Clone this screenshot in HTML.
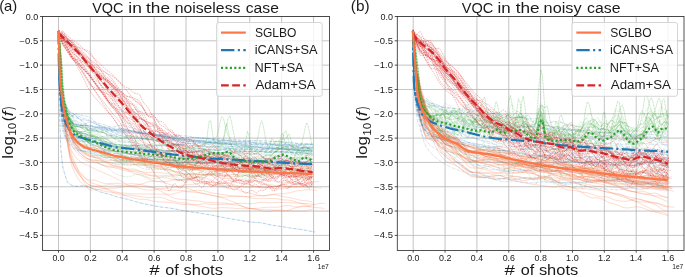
<!DOCTYPE html>
<html><head><meta charset="utf-8"><title>VQC</title>
<style>html,body{margin:0;padding:0;background:#fff;width:685px;height:277px;overflow:hidden;font-family:"Liberation Sans",sans-serif;}svg{display:block;will-change:transform;}</style>
</head><body>
<svg width="685" height="277" viewBox="0 0 685 277"><defs><clipPath id="ca"><rect x="42.56" y="16.50" width="286.94" height="234.00"/></clipPath><clipPath id="cb"><rect x="397.30" y="16.50" width="286.70" height="234.00"/></clipPath></defs><rect x="0" y="0" width="685" height="277" fill="#fff"/>
<line x1="58.50" y1="16.50" x2="58.50" y2="250.50" stroke="#b0b0b0" stroke-width="0.75"/>
<line x1="90.38" y1="16.50" x2="90.38" y2="250.50" stroke="#b0b0b0" stroke-width="0.75"/>
<line x1="122.26" y1="16.50" x2="122.26" y2="250.50" stroke="#b0b0b0" stroke-width="0.75"/>
<line x1="154.15" y1="16.50" x2="154.15" y2="250.50" stroke="#b0b0b0" stroke-width="0.75"/>
<line x1="186.03" y1="16.50" x2="186.03" y2="250.50" stroke="#b0b0b0" stroke-width="0.75"/>
<line x1="217.91" y1="16.50" x2="217.91" y2="250.50" stroke="#b0b0b0" stroke-width="0.75"/>
<line x1="249.79" y1="16.50" x2="249.79" y2="250.50" stroke="#b0b0b0" stroke-width="0.75"/>
<line x1="281.68" y1="16.50" x2="281.68" y2="250.50" stroke="#b0b0b0" stroke-width="0.75"/>
<line x1="313.56" y1="16.50" x2="313.56" y2="250.50" stroke="#b0b0b0" stroke-width="0.75"/>
<line x1="42.56" y1="16.50" x2="329.50" y2="16.50" stroke="#b0b0b0" stroke-width="0.75"/>
<line x1="42.56" y1="40.82" x2="329.50" y2="40.82" stroke="#b0b0b0" stroke-width="0.75"/>
<line x1="42.56" y1="65.14" x2="329.50" y2="65.14" stroke="#b0b0b0" stroke-width="0.75"/>
<line x1="42.56" y1="89.46" x2="329.50" y2="89.46" stroke="#b0b0b0" stroke-width="0.75"/>
<line x1="42.56" y1="113.78" x2="329.50" y2="113.78" stroke="#b0b0b0" stroke-width="0.75"/>
<line x1="42.56" y1="138.10" x2="329.50" y2="138.10" stroke="#b0b0b0" stroke-width="0.75"/>
<line x1="42.56" y1="162.42" x2="329.50" y2="162.42" stroke="#b0b0b0" stroke-width="0.75"/>
<line x1="42.56" y1="186.74" x2="329.50" y2="186.74" stroke="#b0b0b0" stroke-width="0.75"/>
<line x1="42.56" y1="211.06" x2="329.50" y2="211.06" stroke="#b0b0b0" stroke-width="0.75"/>
<line x1="42.56" y1="235.38" x2="329.50" y2="235.38" stroke="#b0b0b0" stroke-width="0.75"/>
<g clip-path="url(#ca)">
<polyline points="58.9,30.3 59.7,68.9 60.4,82.8 61.2,90.1 62,95.5 62.7,100.9 63.5,105.7 64.3,110.6 65.1,113.3 65.8,115.7 66.6,118.5 67.4,121.2 68.1,123.7 68.9,126.1 69.9,129.1 72.1,133.6 74.3,137.4 76.5,140.0 78.7,142.3 80.9,143.9 83.1,145.2 85.3,146.4 87.5,147.0 89.7,147.8 91.9,148.6 94.1,149.5 96.3,150.6 98.5,151.9 100.7,153.4 102.9,154.6 105.1,155.4 107.3,156.0 109.5,156.4 111.7,156.9 113.9,157.6 116.1,158.3 118.3,158.9 120.5,159.3 122.7,159.6 124.9,159.8 127.1,160.1 129.3,160.6 131.5,161.3 133.7,162.1 135.9,162.8 138.1,163.4 140.3,163.9 142.5,164.3 144.7,164.7 146.9,165.0 149.1,165.4 151.3,165.7 153.5,166.0 155.7,166.2 157.9,166.4 160.1,166.5 162.3,166.7 164.5,166.8 166.7,167.0 168.9,167.1 171.1,167.2 173.3,167.4 175.5,167.6 177.7,167.9 179.9,168.2 182.1,168.4 184.3,168.6 186.5,168.7 188.7,168.7 190.9,168.7 193.1,168.9 195.3,169.2 197.5,169.7 199.7,170.2 201.9,170.6 204.1,170.9 206.3,171.1 208.5,171.2 210.7,171.3 212.9,171.3 215.1,171.2 217.3,171.0 219.5,170.9 221.7,171.0 223.9,171.0 226.1,171.1 228.3,171.0 230.5,170.8 232.7,170.7 234.9,170.5 237.1,170.4 239.3,170.4 241.5,170.3 243.7,170.3 245.9,170.2 248.1,170.2 250.3,170.3 252.5,170.5 254.7,170.8 256.9,171.3 259.1,171.8 261.3,172.0 263.5,172.1 265.7,171.9 267.9,171.7 270.1,171.7 272.3,171.8 274.5,172.3 276.7,173.0 278.9,173.8 281.1,174.5 283.3,175.0 285.5,175.4 287.7,175.7 289.9,175.7 292.1,175.7 294.3,175.9 296.5,176.1 298.7,176.3 300.9,176.6 303.1,176.7 305.3,176.9 307.5,176.7 309.7,176.3 311.9,175.7 312.3,175.3" fill="none" stroke="#fc7748" stroke-width="0.70" stroke-opacity="0.36" stroke-linecap="butt" stroke-linejoin="round"/>
<polyline points="58.9,30.9 59.7,71.7 60.4,87.8 61.2,97.3 62,104.7 62.7,111.9 63.5,118.4 64.3,125.0 65.1,129.4 65.8,133.6 66.6,138.1 67.4,142.6 68.1,146.8 68.9,150.8 69.9,156.1 72.1,162.8 74.3,167.5 76.5,171.1 78.7,174.4 80.9,177.0 83.1,179.4 85.3,181.8 87.5,183.6 89.7,185.0 91.9,185.7 94.1,186.2 96.3,186.6 98.5,187.1 100.7,187.7 102.9,188.4 105.1,189.0 107.3,189.8 109.5,190.7 111.7,191.7 113.9,192.9 116.1,193.8 118.3,194.5 120.5,195.0 122.7,195.2 124.9,195.1 127.1,195.1 129.3,195.1 131.5,195.3 133.7,195.7 135.9,196.0 138.1,196.3 140.3,196.6 142.5,196.9 144.7,197.2 146.9,197.5 149.1,197.7 151.3,197.6 153.5,197.4 155.7,197.3 157.9,197.3 160.1,197.4 162.3,197.8 164.5,198.4 166.7,199.3 168.9,200.2 171.1,200.8 173.3,201.3 175.5,201.7 177.7,202.1 179.9,202.6 182.1,202.8 184.3,203.0 186.5,203.3 188.7,203.7 190.9,204.2 193.1,204.9 195.3,205.4 197.5,205.8 199.7,206.1 201.9,206.4 204.1,206.8 206.3,207.2 208.5,207.7 210.7,208.1 212.9,208.3 215.1,208.3 217.3,208.1 219.5,207.8 221.7,207.6 223.9,207.7 226.1,207.8 228.3,207.9 230.5,208.0 232.7,208.1 234.9,208.3 237.1,208.5 239.3,208.7 241.5,208.7 243.7,208.7 245.9,208.7 248.1,208.6 250.3,208.6 252.5,208.5 254.7,208.5 256.9,208.3 259.1,208.1 261.3,207.9 263.5,207.6 265.7,207.4 267.9,207.2 270.1,207.1 272.3,207.2 274.5,207.3 276.7,207.3 278.9,207.0 281.1,206.6 283.3,206.0 285.5,205.5 287.7,205.4 289.9,205.7 292.1,206.3 294.3,206.9 296.5,207.0 298.7,206.8 300.9,206.3 303.1,206.0 305.3,206.0 307.5,206.4 309.7,206.9 311.2,207.3" fill="none" stroke="#fc7748" stroke-width="0.70" stroke-opacity="0.36" stroke-linecap="butt" stroke-linejoin="round"/>
<polyline points="58.9,30.7 59.7,70.9 60.4,86.3 61.2,95.2 62,102.2 62.7,109.4 63.5,116.0 64.3,122.6 65.1,127.1 65.8,131.4 66.6,135.9 67.4,140.5 68.1,144.8 68.9,149.0 69.9,154.6 72.1,161.7 74.3,166.8 76.5,170.6 78.7,173.9 80.9,176.6 83.1,179.2 85.3,181.8 87.5,183.9 89.7,185.2 91.9,185.7 94.1,186.0 96.3,186.1 98.5,186.1 100.7,186.0 102.9,185.8 105.1,185.4 107.3,185.0 109.5,184.8 111.7,184.8 113.9,185.0 116.1,185.3 118.3,185.4 120.5,185.6 122.7,185.7 124.9,185.8 127.1,185.9 129.3,186.0 131.5,186.0 133.7,186.1 135.9,186.2 138.1,186.2 140.3,186.3 142.5,186.4 144.7,186.8 146.9,187.1 149.1,187.3 151.3,187.4 153.5,187.6 155.7,187.9 157.9,188.4 160.1,189.0 162.3,189.6 164.5,190.1 166.7,190.4 168.9,190.4 171.1,190.3 173.3,190.1 175.5,190.0 177.7,190.1 179.9,190.3 182.1,190.5 184.3,190.7 186.5,190.9 188.7,191.1 190.9,191.0 193.1,190.8 195.3,190.5 197.5,190.3 199.7,190.2 201.9,190.4 204.1,190.8 206.3,191.3 208.5,192.0 210.7,192.6 212.9,193.1 215.1,193.5 217.3,193.7 219.5,194.0 221.7,194.3 223.9,194.7 226.1,195.1 228.3,195.4 230.5,195.7 232.7,195.9 234.9,196.0 237.1,196.1 239.3,196.0 241.5,196.1 243.7,196.2 245.9,196.6 248.1,197.1 250.3,197.8 252.5,198.3 254.7,198.5 256.9,198.6 259.1,198.5 261.3,198.4 263.5,198.3 265.7,198.4 267.9,198.5 270.1,198.5 272.3,198.5 274.5,198.5 276.7,198.7 278.9,199.1 281.1,199.6 283.3,199.9 285.5,200.0 287.7,200.0 289.9,200.2 292.1,200.7 294.3,201.5 296.5,202.2 298.7,202.9 300.9,203.4 303.1,203.9 305.3,204.5 307.5,205.3 309.7,206.1 311.9,206.9 314.1,207.4 316.3,207.7 318.5,207.8 320.7,207.9 322.9,208.2 324.5,208.5" fill="none" stroke="#fc7748" stroke-width="0.70" stroke-opacity="0.36" stroke-linecap="butt" stroke-linejoin="round"/>
<polyline points="58.9,30.7 59.7,70.7 60.4,86.0 61.2,94.7 62,101.4 62.7,108.1 63.5,114.3 64.3,120.4 65.1,124.4 65.8,128.2 66.6,132.3 67.4,136.3 68.1,140.1 68.9,143.7 69.9,148.5 72.1,155.6 74.3,161.6 76.5,166.8 78.7,171.7 80.9,176.0 83.1,180.3 85.3,184.5 87.5,188.0 89.7,189.9 91.9,189.9 94.1,189.7 96.3,189.5 98.5,189.3 100.7,189.1 102.9,188.9 105.1,188.7 107.3,188.4 109.5,188.2 111.7,188.1 113.9,188.1 116.1,188.0 118.3,187.8 120.5,187.4 122.7,186.9 124.9,186.5 127.1,186.1 129.3,186.0 131.5,185.9 133.7,185.6 135.9,185.2 138.1,184.7 140.3,184.2 142.5,183.7 144.7,183.0 146.9,182.2 149.1,181.5 151.3,181.2 153.5,181.2 155.7,181.3 157.9,181.4 160.1,181.6 162.3,182.0 164.5,182.6 166.7,183.3 168.9,184.2 171.1,185.0 173.3,185.8 175.5,186.4 177.7,186.9 179.9,187.2 182.1,187.4 184.3,187.6 186.5,188.0 188.7,188.6 190.9,189.5 193.1,190.4 195.3,191.3 197.5,192.1 199.7,192.7 201.9,193.2 204.1,193.6 206.3,194.0 208.5,194.4 210.7,194.8 212.9,195.4 215.1,195.9 217.3,196.3 219.5,196.7 221.7,197.0 223.9,197.1 226.1,197.0 228.3,196.7 230.5,196.5 232.7,196.4 234.9,196.4 237.1,196.5 239.3,196.5 241.5,196.5 243.7,196.6 245.9,196.7 248.1,196.7 250.3,196.6 252.5,196.2 254.7,195.9 256.9,195.8 259.1,195.8 261.3,196.0 263.5,196.0 265.7,195.8 267.9,195.5 270.1,195.0 272.3,194.8 274.5,194.8 276.7,195.1 278.9,195.6 281.1,196.2 283.3,196.7 285.5,197.1 287.7,197.4 289.9,197.7 292.1,198.1 294.3,198.7 296.5,199.3 298.7,199.8 300.9,200.2 303.1,200.5 305.3,200.7 307.5,201.0 309.7,201.4 311.9,201.8 312.1,202.0" fill="none" stroke="#fc7748" stroke-width="0.70" stroke-opacity="0.36" stroke-linecap="butt" stroke-linejoin="round"/>
<polyline points="58.9,30.6 59.7,70.4 60.4,85.4 61.2,94.0 62,100.7 62.7,107.9 63.5,114.5 64.3,121.1 65.1,125.5 65.8,129.7 66.6,134.1 67.4,138.6 68.1,142.7 68.9,146.7 69.9,151.8 72.1,158.6 74.3,163.4 76.5,167.1 78.7,170.5 80.9,173.0 83.1,175.5 85.3,178.1 87.5,180.4 89.7,182.2 91.9,183.0 94.1,183.8 96.3,184.4 98.5,185.1 100.7,185.9 102.9,186.8 105.1,187.9 107.3,188.9 109.5,189.8 111.7,190.5 113.9,191.2 116.1,191.8 118.3,192.6 120.5,193.4 122.7,194.4 124.9,195.3 127.1,196.2 129.3,196.9 131.5,197.5 133.7,198.0 135.9,198.6 138.1,199.0 140.3,199.3 142.5,199.3 144.7,199.4 146.9,199.6 149.1,200.1 151.3,200.7 153.5,201.2 155.7,201.5 157.9,201.7 160.1,201.9 162.3,202.0 164.5,202.1 166.7,202.2 168.9,202.4 171.1,202.5 173.3,202.8 175.5,203.3 177.7,203.7 179.9,204.0 182.1,204.3 184.3,204.5 186.5,204.6 188.7,204.7 190.9,204.8 193.1,204.7 195.3,204.6 197.5,204.5 199.7,204.3 201.9,204.1 204.1,203.9 206.3,203.9 208.5,204.1 210.7,204.3 212.9,204.4 215.1,204.5 217.3,204.5 219.5,204.5 221.7,204.4 223.9,204.3 226.1,204.3 228.3,204.2 230.5,204.1 232.7,203.9 234.9,203.7 237.1,203.4 239.3,203.3 241.5,203.3 243.7,203.4 245.9,203.5 248.1,203.6 250.3,203.7 252.5,203.6 254.7,203.4 256.9,203.0 259.1,202.6 261.3,202.4 263.5,202.4 265.7,202.6 267.9,202.8 270.1,202.8 272.3,202.7 274.5,202.6 276.7,202.4 278.9,202.4 281.1,202.4 283.3,202.5 285.5,202.6 287.7,202.7 289.9,202.7 292.1,202.7 294.3,202.8 296.5,202.9 298.7,203.2 300.9,203.4 303.1,203.5 305.3,203.5 307.5,203.6 309.7,203.8 311.9,204.1 314.1,204.3 314.7,204.5" fill="none" stroke="#fc7748" stroke-width="0.70" stroke-opacity="0.36" stroke-linecap="butt" stroke-linejoin="round"/>
<polyline points="58.9,30.3 59.7,69.0 60.4,82.9 61.2,90.3 62,95.8 62.7,101.7 63.5,107.0 64.3,112.3 65.1,115.4 65.8,118.3 66.6,121.5 67.4,124.7 68.1,127.5 68.9,130.2 69.9,133.6 72.1,137.8 74.3,140.7 76.5,142.5 78.7,144.0 80.9,144.7 83.1,145.1 85.3,145.3 87.5,145.1 89.7,145.2 91.9,145.7 94.1,146.0 96.3,146.4 98.5,146.9 100.7,147.5 102.9,148.5 105.1,149.5 107.3,150.4 109.5,150.9 111.7,151.1 113.9,151.1 116.1,151.0 118.3,151.0 120.5,151.3 122.7,151.7 124.9,152.3 127.1,153.1 129.3,154.2 131.5,155.5 133.7,156.7 135.9,157.5 138.1,157.7 140.3,157.8 142.5,157.9 144.7,158.3 146.9,158.9 149.1,159.5 151.3,160.1 153.5,160.8 155.7,161.6 157.9,162.4 160.1,163.2 162.3,163.9 164.5,164.4 166.7,164.8 168.9,165.1 171.1,165.3 173.3,165.6 175.5,166.1 177.7,166.7 179.9,167.1 182.1,167.3 184.3,167.3 186.5,167.3 188.7,167.4 190.9,167.6 193.1,167.8 195.3,168.0 197.5,168.0 199.7,167.8 201.9,167.6 204.1,167.5 206.3,167.5 208.5,167.7 210.7,167.9 212.9,167.8 215.1,167.5 217.3,167.1 219.5,166.7 221.7,166.4 223.9,166.1 226.1,166.0 228.3,165.8 230.5,165.8 232.7,165.9 234.9,166.2 237.1,166.5 239.3,166.7 241.5,167.0 243.7,167.4 245.9,167.7 248.1,167.9 250.3,167.9 252.5,167.9 254.7,168.1 256.9,168.6 259.1,169.2 261.3,169.7 263.5,170.1 265.7,170.3 267.9,170.4 270.1,170.4 272.3,170.5 274.5,170.5 276.7,170.4 278.9,170.3 281.1,170.1 283.3,169.8 285.5,169.7 287.7,169.7 289.9,169.8 292.1,169.8 294.3,169.7 296.5,169.3 298.7,168.9 300.9,168.5 303.1,168.2 305.3,168.2 307.5,168.2 309.7,168.3 311.9,168.3 312.2,168.4" fill="none" stroke="#fc7748" stroke-width="0.70" stroke-opacity="0.36" stroke-linecap="butt" stroke-linejoin="round"/>
<polyline points="58.9,30.4 59.7,69.3 60.4,83.5 61.2,91.2 62,96.9 62.7,102.7 63.5,107.9 64.3,113.0 65.1,116.0 65.8,118.9 66.6,121.9 67.4,125.0 68.1,127.7 68.9,130.3 69.9,133.7 72.1,138.5 74.3,142.4 76.5,145.3 78.7,147.8 80.9,149.6 83.1,151.2 85.3,152.8 87.5,153.9 89.7,154.9 91.9,155.4 94.1,155.7 96.3,155.8 98.5,155.7 100.7,155.5 102.9,155.5 105.1,155.8 107.3,156.3 109.5,157.0 111.7,157.9 113.9,158.9 116.1,159.7 118.3,160.1 120.5,160.2 122.7,160.1 124.9,160.0 127.1,160.1 129.3,160.4 131.5,160.6 133.7,160.9 135.9,161.3 138.1,161.9 140.3,162.7 142.5,163.6 144.7,164.3 146.9,164.7 149.1,164.9 151.3,165.1 153.5,165.5 155.7,166.0 157.9,166.5 160.1,167.0 162.3,167.6 164.5,168.1 166.7,168.7 168.9,169.3 171.1,170.0 173.3,170.7 175.5,171.4 177.7,172.2 179.9,172.9 182.1,173.5 184.3,173.8 186.5,173.8 188.7,173.7 190.9,173.7 193.1,173.8 195.3,174.1 197.5,174.3 199.7,174.3 201.9,174.2 204.1,174.1 206.3,174.1 208.5,174.3 210.7,174.5 212.9,174.8 215.1,174.9 217.3,175.0 219.5,175.1 221.7,175.3 223.9,175.3 226.1,175.1 228.3,174.8 230.5,174.6 232.7,174.5 234.9,174.5 237.1,174.6 239.3,174.8 241.5,174.9 243.7,175.2 245.9,175.6 248.1,176.1 250.3,176.7 252.5,177.3 254.7,178.0 256.9,178.8 259.1,179.3 261.3,179.7 263.5,180.0 265.7,180.2 267.9,180.4 270.1,180.6 272.3,181.0 274.5,181.3 276.7,181.6 278.9,181.8 281.1,182.0 283.3,182.1 285.5,182.3 287.7,182.5 289.9,182.8 292.1,183.2 294.3,183.5 296.5,183.8 298.7,183.8 300.9,183.5 303.1,183.0 305.3,182.4 307.5,182.1 309.7,182.0 311.9,182.0 314.1,181.9 316.3,181.7 318.5,181.4 319.2,181.1" fill="none" stroke="#fc7748" stroke-width="0.70" stroke-opacity="0.36" stroke-linecap="butt" stroke-linejoin="round"/>
<polyline points="58.9,30.6 59.7,70.0 60.4,84.7 61.2,92.9 62,98.8 62.7,104.4 63.5,109.4 64.3,114.4 65.1,117.2 65.8,119.9 66.6,122.8 67.4,125.7 68.1,128.3 68.9,130.7 69.9,133.8 72.1,138.6 74.3,142.9 76.5,146.0 78.7,148.8 80.9,151.0 83.1,153.1 85.3,154.8 87.5,155.7 89.7,156.3 91.9,156.7 94.1,157.2 96.3,157.9 98.5,158.8 100.7,159.6 102.9,160.5 105.1,161.4 107.3,162.6 109.5,163.8 111.7,164.9 113.9,165.8 116.1,166.4 118.3,166.9 120.5,167.4 122.7,168.0 124.9,168.6 127.1,169.3 129.3,170.0 131.5,170.4 133.7,170.6 135.9,170.8 138.1,171.1 140.3,171.5 142.5,171.9 144.7,172.2 146.9,172.3 149.1,172.4 151.3,172.3 153.5,172.2 155.7,172.2 157.9,172.4 160.1,172.6 162.3,172.9 164.5,173.3 166.7,173.6 168.9,173.9 171.1,174.1 173.3,174.3 175.5,174.5 177.7,175.0 179.9,175.7 182.1,176.5 184.3,177.4 186.5,178.2 188.7,178.9 190.9,179.3 193.1,179.6 195.3,179.9 197.5,180.2 199.7,180.6 201.9,181.1 204.1,181.5 206.3,181.9 208.5,182.2 210.7,182.3 212.9,182.4 215.1,182.6 217.3,183.0 219.5,183.3 221.7,183.4 223.9,183.3 226.1,183.1 228.3,182.7 230.5,182.3 232.7,181.8 234.9,181.1 237.1,180.4 239.3,180.0 241.5,179.9 243.7,180.0 245.9,180.0 248.1,180.0 250.3,180.0 252.5,180.1 254.7,180.5 256.9,181.1 259.1,181.7 261.3,182.3 263.5,183.0 265.7,183.7 267.9,184.3 270.1,184.8 272.3,185.1 274.5,185.4 276.7,185.6 278.9,185.7 281.1,185.8 283.3,186.0 285.5,186.3 287.7,186.7 289.9,186.9 292.1,187.0 294.3,186.9 296.5,186.9 298.7,186.9 300.9,187.1 303.1,187.3 305.3,187.5 307.5,187.5 309.7,187.4 311.9,187.4 314.1,187.5 316.3,187.8 318.5,188.0 320.7,188.0 321.5,187.9" fill="none" stroke="#fc7748" stroke-width="0.70" stroke-opacity="0.36" stroke-linecap="butt" stroke-linejoin="round"/>
<polyline points="58.9,30.8 59.7,71.4 60.4,87.2 61.2,96.5 62,103.9 62.7,111.3 63.5,118.2 64.3,125.1 65.1,129.9 65.8,134.5 66.6,139.4 67.4,144.3 68.1,148.9 68.9,153.4 69.9,159.3 72.1,166.8 74.3,171.9 76.5,176.0 78.7,179.6 80.9,182.3 83.1,184.6 85.3,186.5 87.5,187.4 89.7,187.9 91.9,188.1 94.1,188.4 96.3,189.0 98.5,189.7 100.7,190.4 102.9,191.0 105.1,191.4 107.3,191.8 109.5,192.1 111.7,192.3 113.9,192.6 116.1,192.8 118.3,192.9 120.5,192.9 122.7,193.0 124.9,193.2 127.1,193.5 129.3,193.7 131.5,193.8 133.7,193.9 135.9,193.9 138.1,194.0 140.3,194.0 142.5,194.0 144.7,194.0 146.9,194.0 149.1,194.0 151.3,194.0 153.5,194.0 155.7,194.1 157.9,194.1 160.1,194.1 162.3,194.1 164.5,194.1 166.7,194.3 168.9,194.4 171.1,194.3 173.3,193.9 175.5,193.3 177.7,192.6 179.9,192.0 182.1,191.6 184.3,191.6 186.5,191.7 188.7,191.9 190.9,192.0 193.1,192.2 195.3,192.3 197.5,192.6 199.7,192.9 201.9,193.2 204.1,193.7 206.3,194.2 208.5,194.8 210.7,195.3 212.9,195.7 215.1,196.1 217.3,196.6 219.5,197.0 221.7,197.7 223.9,198.4 226.1,199.2 228.3,200.0 230.5,200.8 232.7,201.6 234.9,202.5 237.1,203.5 239.3,204.7 241.5,205.8 243.7,206.9 245.9,207.7 248.1,208.3 250.3,208.6 252.5,208.8 254.7,209.0 256.9,209.5 259.1,210.2 261.3,210.8 263.5,211.3 265.7,211.6 267.9,211.6 270.1,211.4 272.3,211.1 274.5,210.8 276.7,210.7 278.9,210.8 281.1,211.0 283.3,211.2 285.5,211.1 287.7,210.6 289.9,209.9 292.1,209.0 294.3,208.2 296.5,207.6 298.7,207.2 300.9,206.9 303.1,206.6 305.3,206.5 307.5,206.2 309.7,205.8 311.9,205.2 314.1,204.7 316.3,204.1 318.5,203.6 320.7,203.4 322.9,203.3 324.9,203.3" fill="none" stroke="#fc7748" stroke-width="0.70" stroke-opacity="0.36" stroke-linecap="butt" stroke-linejoin="round"/>
<polyline points="58.9,30.4 59.7,69.3 60.4,83.4 61.2,91.1 62,96.8 62.7,102.7 63.5,108.0 64.3,113.3 65.1,116.5 65.8,119.5 66.6,122.7 67.4,125.9 68.1,128.9 68.9,131.7 69.9,135.4 72.1,140.7 74.3,145.3 76.5,148.7 78.7,151.8 80.9,153.9 83.1,155.8 85.3,157.4 87.5,158.5 89.7,159.4 91.9,160.0 94.1,160.3 96.3,160.6 98.5,160.9 100.7,161.3 102.9,161.8 105.1,162.5 107.3,163.4 109.5,164.3 111.7,165.2 113.9,165.7 116.1,166.0 118.3,166.2 120.5,166.6 122.7,167.4 124.9,168.5 127.1,169.8 129.3,171.1 131.5,172.3 133.7,173.3 135.9,174.0 138.1,174.6 140.3,175.3 142.5,176.0 144.7,176.9 146.9,177.9 149.1,179.1 151.3,180.0 153.5,180.7 155.7,181.2 157.9,181.5 160.1,181.7 162.3,181.7 164.5,181.7 166.7,181.5 168.9,181.1 171.1,180.5 173.3,180.0 175.5,179.6 177.7,179.5 179.9,179.5 182.1,179.4 184.3,179.2 186.5,179.0 188.7,178.7 190.9,178.4 193.1,177.9 195.3,177.5 197.5,177.0 199.7,176.4 201.9,175.9 204.1,175.4 206.3,174.9 208.5,174.5 210.7,174.1 212.9,173.6 215.1,172.9 217.3,172.2 219.5,171.8 221.7,171.7 223.9,171.8 226.1,171.8 228.3,171.7 230.5,171.2 232.7,170.7 234.9,170.3 237.1,170.0 239.3,169.9 241.5,169.9 243.7,169.9 245.9,169.9 248.1,170.0 250.3,170.3 252.5,170.6 254.7,171.0 256.9,171.4 259.1,171.7 261.3,171.8 263.5,171.9 265.7,172.0 267.9,172.1 270.1,172.4 272.3,172.7 274.5,173.0 276.7,173.1 278.9,173.0 281.1,173.0 283.3,173.0 285.5,173.2 287.7,173.3 289.9,173.4 292.1,173.2 294.3,173.0 296.5,173.0 298.7,173.4 300.9,174.0 303.1,174.5 305.3,174.7 307.5,174.7 309.7,174.4 311.5,174.1" fill="none" stroke="#fc7748" stroke-width="0.70" stroke-opacity="0.36" stroke-linecap="butt" stroke-linejoin="round"/>
<polyline points="58.9,30.6 59.7,70.1 60.4,84.9 61.2,93.2 62,99.5 62.7,105.7 63.5,111.3 64.3,117.0 65.1,120.4 65.8,123.6 66.6,127.0 67.4,130.5 68.1,133.6 68.9,136.5 69.9,140.4 72.1,145.4 74.3,149.1 76.5,151.9 78.7,154.3 80.9,156.2 83.1,158.0 85.3,159.8 87.5,160.9 89.7,161.7 91.9,162.2 94.1,162.5 96.3,163.0 98.5,163.8 100.7,164.6 102.9,165.4 105.1,166.1 107.3,166.7 109.5,167.1 111.7,167.4 113.9,167.7 116.1,168.2 118.3,168.7 120.5,169.4 122.7,170.1 124.9,170.7 127.1,171.0 129.3,171.2 131.5,171.3 133.7,171.6 135.9,172.0 138.1,172.6 140.3,173.3 142.5,174.0 144.7,174.5 146.9,174.9 149.1,175.1 151.3,175.3 153.5,175.5 155.7,175.7 157.9,175.8 160.1,175.8 162.3,175.7 164.5,175.7 166.7,175.8 168.9,175.8 171.1,175.9 173.3,175.9 175.5,175.8 177.7,175.6 179.9,175.4 182.1,175.3 184.3,175.4 186.5,175.7 188.7,176.2 190.9,176.5 193.1,176.7 195.3,176.8 197.5,176.9 199.7,177.1 201.9,177.3 204.1,177.6 206.3,178.1 208.5,178.8 210.7,179.9 212.9,181.0 215.1,182.0 217.3,182.6 219.5,182.9 221.7,182.9 223.9,182.9 226.1,183.0 228.3,183.3 230.5,183.7 232.7,184.3 234.9,185.0 237.1,185.7 239.3,186.4 241.5,186.9 243.7,187.1 245.9,187.0 248.1,186.9 250.3,186.7 252.5,186.6 254.7,186.8 256.9,187.0 259.1,187.3 261.3,187.7 263.5,187.9 265.7,188.0 267.9,187.8 270.1,187.3 272.3,186.9 274.5,186.6 276.7,186.5 278.9,186.6 281.1,186.8 283.3,186.9 285.5,187.0 287.7,186.9 289.9,186.9 292.1,186.9 294.3,187.0 296.5,187.0 298.7,186.8 300.9,186.6 303.1,186.4 305.3,186.1 307.5,186.0 309.7,186.0 311.9,186.0 312.8,186.0" fill="none" stroke="#fc7748" stroke-width="0.70" stroke-opacity="0.36" stroke-linecap="butt" stroke-linejoin="round"/>
<polyline points="58.9,30.6 59.7,70.1 60.4,84.9 61.2,93.2 62,99.6 62.7,106.3 63.5,112.5 64.3,118.6 65.1,122.6 65.8,126.4 66.6,130.4 67.4,134.4 68.1,138.1 68.9,141.6 69.9,146.2 72.1,151.7 74.3,155.4 76.5,158.1 78.7,160.4 80.9,162.0 83.1,163.4 85.3,164.6 87.5,165.3 89.7,166.3 91.9,167.5 94.1,168.6 96.3,169.7 98.5,170.7 100.7,171.6 102.9,172.6 105.1,173.5 107.3,174.5 109.5,175.4 111.7,176.4 113.9,177.6 116.1,178.6 118.3,179.6 120.5,180.7 122.7,181.9 124.9,183.4 127.1,184.8 129.3,185.8 131.5,186.5 133.7,186.9 135.9,187.4 138.1,187.9 140.3,188.6 142.5,189.2 144.7,189.6 146.9,189.9 149.1,190.2 151.3,190.1 153.5,189.9 155.7,189.6 157.9,189.2 160.1,188.9 162.3,188.5 164.5,188.3 166.7,188.1 168.9,188.0 171.1,187.9 173.3,187.6 175.5,187.2 177.7,186.6 179.9,186.0 182.1,185.4 184.3,185.1 186.5,184.9 188.7,184.7 190.9,184.5 193.1,184.2 195.3,183.9 197.5,183.7 199.7,183.6 201.9,183.6 204.1,183.8 206.3,184.1 208.5,184.6 210.7,185.0 212.9,185.5 215.1,186.0 217.3,186.4 219.5,186.8 221.7,187.1 223.9,187.5 226.1,187.8 228.3,188.2 230.5,188.5 232.7,188.8 234.9,189.2 237.1,189.6 239.3,190.3 241.5,191.1 243.7,191.9 245.9,192.4 248.1,192.9 250.3,193.3 252.5,193.8 254.7,194.3 256.9,194.9 259.1,195.4 261.3,195.5 263.5,195.5 265.7,195.3 267.9,195.0 270.1,194.8 272.3,194.4 274.5,194.2 276.7,194.0 278.9,193.9 281.1,193.8 283.3,193.7 285.5,193.4 287.7,193.0 289.9,192.6 292.1,192.1 294.3,191.5 296.5,191.0 298.7,190.6 300.9,190.3 303.1,190.1 305.3,189.9 307.5,189.8 309.7,189.8 311.9,189.9 314.1,190.1 316.3,190.3 316.9,190.4" fill="none" stroke="#fc7748" stroke-width="0.70" stroke-opacity="0.36" stroke-linecap="butt" stroke-linejoin="round"/>
<polyline points="58.9,30.6 59.7,70.0 60.4,84.8 61.2,93.0 62,98.9 62.7,104.5 63.5,109.5 64.3,114.5 65.1,117.3 65.8,119.8 66.6,122.7 67.4,125.5 68.1,128.0 68.9,130.4 69.9,133.5 72.1,138.4 74.3,142.8 76.5,146.2 78.7,149.5 80.9,152.1 83.1,154.5 85.3,156.7 87.5,158.4 89.7,159.9 91.9,160.9 94.1,161.7 96.3,162.4 98.5,163.2 100.7,163.9 102.9,164.6 105.1,165.3 107.3,165.9 109.5,166.3 111.7,166.6 113.9,166.9 116.1,167.1 118.3,167.5 120.5,168.0 122.7,168.6 124.9,169.0 127.1,169.2 129.3,169.1 131.5,168.9 133.7,169.0 135.9,169.5 138.1,170.3 140.3,171.2 142.5,172.2 144.7,173.1 146.9,174.1 149.1,175.0 151.3,175.8 153.5,176.3 155.7,176.7 157.9,176.9 160.1,177.2 162.3,177.4 164.5,177.7 166.7,178.0 168.9,178.4 171.1,178.9 173.3,179.4 175.5,179.9 177.7,180.2 179.9,180.4 182.1,180.3 184.3,180.1 186.5,179.9 188.7,180.0 190.9,180.2 193.1,180.6 195.3,181.0 197.5,181.5 199.7,182.0 201.9,182.5 204.1,182.9 206.3,183.4 208.5,183.9 210.7,184.3 212.9,184.7 215.1,184.9 217.3,185.0 219.5,185.1 221.7,185.1 223.9,185.3 226.1,185.5 228.3,185.8 230.5,186.1 232.7,186.3 234.9,186.3 237.1,186.3 239.3,186.3 241.5,186.5 243.7,186.9 245.9,187.2 248.1,187.4 250.3,187.5 252.5,187.4 254.7,187.2 256.9,187.0 259.1,186.8 261.3,186.8 263.5,187.0 265.7,187.4 267.9,187.7 270.1,188.0 272.3,188.2 274.5,188.4 276.7,188.6 278.9,188.7 281.1,188.7 283.3,188.5 285.5,188.2 287.7,187.8 289.9,187.4 292.1,187.1 294.3,186.8 296.5,186.6 298.7,186.3 300.9,185.7 303.1,185.0 305.3,184.3 307.5,183.7 309.7,183.2 311.9,182.9 312.6,182.7" fill="none" stroke="#fc7748" stroke-width="0.70" stroke-opacity="0.36" stroke-linecap="butt" stroke-linejoin="round"/>
<polyline points="58.9,30.4 59.7,69.5 60.4,83.8 61.2,91.6 62,97.2 62.7,102.8 63.5,107.7 64.3,112.7 65.1,115.4 65.8,118.0 66.6,120.9 67.4,123.7 68.1,126.3 68.9,128.7 69.9,131.9 72.1,136.6 74.3,140.8 76.5,144.2 78.7,147.3 80.9,149.7 83.1,151.7 85.3,153.4 87.5,154.3 89.7,155.1 91.9,156.0 94.1,156.8 96.3,157.5 98.5,157.8 100.7,157.9 102.9,157.7 105.1,157.5 107.3,157.5 109.5,157.5 111.7,157.7 113.9,157.8 116.1,157.8 118.3,157.7 120.5,157.7 122.7,157.6 124.9,157.6 127.1,157.5 129.3,157.5 131.5,157.6 133.7,157.7 135.9,157.9 138.1,158.2 140.3,158.5 142.5,158.9 144.7,159.1 146.9,159.2 149.1,159.3 151.3,159.4 153.5,159.7 155.7,160.0 157.9,160.2 160.1,160.4 162.3,160.4 164.5,160.4 166.7,160.4 168.9,160.4 171.1,160.4 173.3,160.7 175.5,161.3 177.7,161.9 179.9,162.5 182.1,162.8 184.3,163.2 186.5,163.6 188.7,164.1 190.9,164.5 193.1,164.9 195.3,165.2 197.5,165.6 199.7,166.0 201.9,166.6 204.1,167.4 206.3,168.3 208.5,169.2 210.7,170.0 212.9,170.6 215.1,171.0 217.3,171.3 219.5,171.6 221.7,171.8 223.9,172.1 226.1,172.1 228.3,172.0 230.5,171.9 232.7,171.9 234.9,172.0 237.1,172.0 239.3,171.9 241.5,171.9 243.7,171.8 245.9,171.8 248.1,171.9 250.3,171.9 252.5,171.8 254.7,171.6 256.9,171.3 259.1,171.0 261.3,170.8 263.5,170.6 265.7,170.5 267.9,170.7 270.1,171.1 272.3,171.9 274.5,172.9 276.7,173.8 278.9,174.5 281.1,174.9 283.3,175.2 285.5,175.5 287.7,176.0 289.9,176.5 292.1,176.9 294.3,177.2 296.5,177.2 298.7,177.3 300.9,177.5 303.1,177.8 305.3,178.0 307.5,178.0 309.7,177.9 311.6,177.7" fill="none" stroke="#fc7748" stroke-width="0.70" stroke-opacity="0.36" stroke-linecap="butt" stroke-linejoin="round"/>
<polyline points="58.9,30.3 59.7,68.9 60.4,82.8 61.2,90.1 62,95.5 62.7,101.1 63.5,106.1 64.3,111.1 65.1,113.9 65.8,116.5 66.6,119.4 67.4,122.2 68.1,124.8 68.9,127.2 69.9,130.3 72.1,134.8 74.3,138.4 76.5,140.8 78.7,142.7 80.9,143.9 83.1,145.1 85.3,146.2 87.5,146.8 89.7,147.2 91.9,147.5 94.1,147.9 96.3,148.5 98.5,149.3 100.7,150.2 102.9,151.1 105.1,152.2 107.3,153.3 109.5,154.2 111.7,154.9 113.9,155.1 116.1,155.2 118.3,155.3 120.5,155.6 122.7,156.2 124.9,157.1 127.1,158.0 129.3,158.7 131.5,159.1 133.7,159.2 135.9,159.1 138.1,159.0 140.3,158.9 142.5,158.9 144.7,159.0 146.9,159.1 149.1,159.4 151.3,159.8 153.5,160.6 155.7,161.4 157.9,162.0 160.1,162.4 162.3,162.6 164.5,162.7 166.7,162.9 168.9,163.2 171.1,163.6 173.3,163.9 175.5,164.2 177.7,164.5 179.9,164.7 182.1,164.6 184.3,164.6 186.5,164.6 188.7,164.7 190.9,164.7 193.1,164.8 195.3,165.0 197.5,165.5 199.7,166.1 201.9,167.0 204.1,167.8 206.3,168.5 208.5,169.1 210.7,169.4 212.9,169.8 215.1,170.1 217.3,170.5 219.5,170.9 221.7,171.2 223.9,171.3 226.1,171.3 228.3,171.3 230.5,171.4 232.7,171.4 234.9,171.5 237.1,171.4 239.3,171.3 241.5,171.2 243.7,171.4 245.9,171.7 248.1,171.9 250.3,171.9 252.5,171.8 254.7,171.5 256.9,171.3 259.1,171.1 261.3,170.9 263.5,170.6 265.7,170.3 267.9,169.9 270.1,169.5 272.3,169.1 274.5,168.9 276.7,168.9 278.9,169.0 281.1,169.3 283.3,169.5 285.5,169.6 287.7,169.7 289.9,169.9 292.1,170.3 294.3,170.6 296.5,170.8 298.7,170.9 300.9,170.8 303.1,170.8 305.3,170.8 307.5,170.7 309.7,170.5 311.5,170.2" fill="none" stroke="#fc7748" stroke-width="0.70" stroke-opacity="0.36" stroke-linecap="butt" stroke-linejoin="round"/>
<polyline points="58.9,30.3 59.7,69.0 60.4,82.9 61.2,90.3 62,95.8 62.7,101.5 63.5,106.6 64.3,111.7 65.1,114.7 65.8,117.5 66.6,120.5 67.4,123.6 68.1,126.4 68.9,129.1 69.9,132.6 72.1,137.3 74.3,141.0 76.5,143.5 78.7,145.5 80.9,146.6 83.1,147.5 85.3,148.1 87.5,148.3 89.7,148.7 91.9,149.6 94.1,150.5 96.3,151.5 98.5,152.6 100.7,153.5 102.9,154.1 105.1,154.5 107.3,154.8 109.5,154.9 111.7,155.0 113.9,155.4 116.1,155.8 118.3,156.1 120.5,156.4 122.7,156.5 124.9,156.5 127.1,156.7 129.3,157.1 131.5,157.6 133.7,158.2 135.9,158.6 138.1,158.9 140.3,159.1 142.5,159.4 144.7,159.6 146.9,159.9 149.1,160.1 151.3,160.3 153.5,160.6 155.7,160.8 157.9,161.1 160.1,161.4 162.3,161.7 164.5,162.2 166.7,162.8 168.9,163.5 171.1,164.4 173.3,165.3 175.5,166.1 177.7,166.8 179.9,167.4 182.1,167.9 184.3,168.4 186.5,168.8 188.7,169.1 190.9,169.3 193.1,169.4 195.3,169.7 197.5,170.1 199.7,170.7 201.9,171.4 204.1,172.2 206.3,173.0 208.5,173.5 210.7,173.7 212.9,173.8 215.1,174.0 217.3,174.5 219.5,175.3 221.7,176.0 223.9,176.5 226.1,176.6 228.3,176.7 230.5,176.7 232.7,176.7 234.9,176.6 237.1,176.4 239.3,176.1 241.5,175.8 243.7,175.7 245.9,175.8 248.1,176.0 250.3,176.1 252.5,176.1 254.7,175.9 256.9,175.6 259.1,175.3 261.3,175.0 263.5,174.7 265.7,174.5 267.9,174.5 270.1,174.7 272.3,174.7 274.5,174.6 276.7,174.2 278.9,173.7 281.1,173.2 283.3,173.1 285.5,173.1 287.7,173.3 289.9,173.5 292.1,173.5 294.3,173.5 296.5,173.3 298.7,173.1 300.9,173.1 303.1,173.4 305.3,173.9 307.5,174.5 309.7,174.8 311.2,175.0" fill="none" stroke="#fc7748" stroke-width="0.70" stroke-opacity="0.36" stroke-linecap="butt" stroke-linejoin="round"/>
<polyline points="58.9,30.4 59.7,69.2 60.4,83.4 61.2,91.0 62,96.6 62.7,102.4 63.5,107.5 64.3,112.7 65.1,115.8 65.8,118.7 66.6,121.9 67.4,125.1 68.1,128.0 68.9,130.8 69.9,134.5 72.1,139.9 74.3,144.7 76.5,148.4 78.7,151.7 80.9,154.1 83.1,156.1 85.3,157.9 87.5,159.0 89.7,159.7 91.9,160.0 94.1,160.1 96.3,160.1 98.5,160.4 100.7,160.8 102.9,161.2 105.1,161.7 107.3,162.1 109.5,162.5 111.7,163.0 113.9,163.5 116.1,163.8 118.3,163.9 120.5,163.9 122.7,163.8 124.9,163.8 127.1,164.0 129.3,164.2 131.5,164.4 133.7,164.4 135.9,164.5 138.1,164.6 140.3,164.7 142.5,165.0 144.7,165.5 146.9,166.2 149.1,167.0 151.3,167.7 153.5,168.0 155.7,168.1 157.9,168.2 160.1,168.4 162.3,168.8 164.5,169.4 166.7,170.0 168.9,170.6 171.1,171.2 173.3,171.8 175.5,172.3 177.7,172.8 179.9,173.3 182.1,173.6 184.3,173.9 186.5,174.2 188.7,174.4 190.9,174.6 193.1,174.7 195.3,174.6 197.5,174.5 199.7,174.5 201.9,174.7 204.1,174.8 206.3,174.9 208.5,174.9 210.7,174.9 212.9,175.0 215.1,175.3 217.3,176.0 219.5,176.8 221.7,177.6 223.9,178.2 226.1,178.4 228.3,178.5 230.5,178.5 232.7,178.5 234.9,178.8 237.1,179.4 239.3,180.3 241.5,181.4 243.7,182.5 245.9,183.5 248.1,184.3 250.3,185.0 252.5,185.6 254.7,186.2 256.9,186.7 259.1,187.2 261.3,187.4 263.5,187.4 265.7,187.3 267.9,187.3 270.1,187.3 272.3,187.2 274.5,186.9 276.7,186.4 278.9,185.9 281.1,185.2 283.3,184.6 285.5,184.1 287.7,183.6 289.9,183.1 292.1,182.5 294.3,181.7 296.5,180.8 298.7,179.9 300.9,179.2 303.1,178.6 305.3,178.1 307.5,177.8 309.7,177.7 311.9,177.7 312,177.5" fill="none" stroke="#fc7748" stroke-width="0.70" stroke-opacity="0.36" stroke-linecap="butt" stroke-linejoin="round"/>
<polyline points="58.9,30.4 59.7,69.0 60.4,83.0 61.2,90.5 62,95.9 62.7,101.2 63.5,106.0 64.3,110.9 65.1,113.5 65.8,115.9 66.6,118.6 67.4,121.2 68.1,123.5 68.9,125.7 69.9,128.5 72.1,132.7 74.3,136.6 76.5,139.4 78.7,141.9 80.9,143.6 83.1,145.1 85.3,146.4 87.5,147.1 89.7,147.6 91.9,147.8 94.1,148.0 96.3,148.3 98.5,148.6 100.7,148.9 102.9,149.2 105.1,149.5 107.3,149.8 109.5,150.0 111.7,150.4 113.9,150.8 116.1,151.3 118.3,151.7 120.5,152.1 122.7,152.6 124.9,153.2 127.1,153.7 129.3,154.1 131.5,154.4 133.7,154.8 135.9,155.3 138.1,156.0 140.3,156.8 142.5,157.5 144.7,158.3 146.9,159.1 149.1,160.0 151.3,161.0 153.5,162.1 155.7,162.8 157.9,163.1 160.1,163.4 162.3,163.7 164.5,164.2 166.7,165.0 168.9,165.8 171.1,166.3 173.3,166.5 175.5,166.5 177.7,166.5 179.9,166.6 182.1,166.7 184.3,167.0 186.5,167.4 188.7,168.0 190.9,168.6 193.1,169.0 195.3,169.2 197.5,169.1 199.7,168.8 201.9,168.7 204.1,168.9 206.3,169.2 208.5,169.3 210.7,169.2 212.9,168.8 215.1,168.6 217.3,168.6 219.5,168.8 221.7,169.2 223.9,169.5 226.1,169.7 228.3,169.8 230.5,169.7 232.7,169.5 234.9,169.4 237.1,169.3 239.3,169.2 241.5,169.1 243.7,168.9 245.9,168.7 248.1,168.4 250.3,168.0 252.5,167.7 254.7,167.5 256.9,167.5 259.1,167.6 261.3,167.9 263.5,168.1 265.7,168.4 267.9,168.6 270.1,169.0 272.3,169.3 274.5,169.8 276.7,170.2 278.9,170.5 281.1,170.9 283.3,171.2 285.5,171.7 287.7,172.3 289.9,172.9 292.1,173.6 294.3,174.3 296.5,174.9 298.7,175.3 300.9,175.7 303.1,175.9 305.3,176.0 307.5,176.1 309.7,176.3 311.9,176.7 312.1,176.9" fill="none" stroke="#fc7748" stroke-width="0.70" stroke-opacity="0.36" stroke-linecap="butt" stroke-linejoin="round"/>
<polyline points="58.9,30.8 59.7,71.1 60.4,86.8 61.2,95.9 62,103.1 62.7,110.3 63.5,117.0 64.3,123.7 65.1,128.3 65.8,132.6 66.6,137.1 67.4,141.6 68.1,145.8 68.9,149.9 69.9,155.2 72.1,161.7 74.3,166.0 76.5,169.3 78.7,172.3 80.9,174.5 83.1,176.5 85.3,178.3 87.5,179.5 89.7,180.1 91.9,180.2 94.1,180.2 96.3,180.6 98.5,181.4 100.7,182.3 102.9,183.0 105.1,183.5 107.3,183.7 109.5,183.6 111.7,183.4 113.9,183.3 116.1,183.3 118.3,183.5 120.5,183.8 122.7,184.0 124.9,184.1 127.1,184.0 129.3,183.9 131.5,183.7 133.7,183.8 135.9,183.9 138.1,184.2 140.3,184.5 142.5,184.9 144.7,185.3 146.9,185.8 149.1,186.4 151.3,187.2 153.5,188.1 155.7,188.9 157.9,189.7 160.1,190.7 162.3,191.8 164.5,193.1 166.7,194.5 168.9,195.8 171.1,196.9 173.3,197.8 175.5,198.5 177.7,198.9 179.9,199.2 182.1,199.3 184.3,199.5 186.5,199.7 188.7,200.0 190.9,200.4 193.1,200.6 195.3,200.8 197.5,200.9 199.7,201.1 201.9,201.6 204.1,202.0 206.3,202.3 208.5,202.4 210.7,202.5 212.9,202.5 215.1,202.6 217.3,202.7 219.5,202.9 221.7,202.9 223.9,203.1 226.1,203.2 228.3,203.6 230.5,204.2 232.7,204.7 234.9,205.0 237.1,205.2 239.3,205.5 241.5,206.0 243.7,206.7 245.9,207.4 248.1,208.0 250.3,208.4 252.5,208.7 254.7,209.0 256.9,209.4 259.1,209.7 261.3,209.8 263.5,209.7 265.7,209.7 267.9,209.8 270.1,209.9 272.3,210.1 274.5,210.2 276.7,210.2 278.9,210.1 281.1,210.1 283.3,210.2 285.5,210.5 287.7,210.7 289.9,210.9 292.1,211.0 294.3,211.0 296.5,211.0 298.7,211.1 300.9,211.1 303.1,211.1 305.3,210.9 307.5,210.4 309.7,209.9 311.9,209.4 312.6,209.1" fill="none" stroke="#fc7748" stroke-width="0.70" stroke-opacity="0.36" stroke-linecap="butt" stroke-linejoin="round"/>
<polyline points="58.9,30.3 59.7,68.9 60.4,82.8 61.2,90.2 62,95.7 62.7,101.3 63.5,106.4 64.3,111.6 65.1,114.5 65.8,117.3 66.6,120.3 67.4,123.3 68.1,126.1 68.9,128.8 69.9,132.3 72.1,137.5 74.3,142.0 76.5,145.4 78.7,148.3 80.9,150.3 83.1,152.1 85.3,153.9 87.5,155.2 89.7,156.3 91.9,156.9 94.1,157.3 96.3,157.6 98.5,158.1 100.7,158.7 102.9,159.4 105.1,159.9 107.3,160.3 109.5,160.4 111.7,160.4 113.9,160.5 116.1,160.6 118.3,160.7 120.5,160.9 122.7,161.2 124.9,161.7 127.1,162.1 129.3,162.4 131.5,162.3 133.7,162.3 135.9,162.3 138.1,162.5 140.3,162.9 142.5,163.2 144.7,163.4 146.9,163.7 149.1,164.1 151.3,164.5 153.5,164.9 155.7,165.0 157.9,165.1 160.1,165.1 162.3,165.2 164.5,165.4 166.7,165.5 168.9,165.4 171.1,165.3 173.3,165.3 175.5,165.5 177.7,165.7 179.9,165.9 182.1,165.6 184.3,165.2 186.5,164.8 188.7,164.5 190.9,164.5 193.1,164.8 195.3,165.2 197.5,165.7 199.7,166.1 201.9,166.3 204.1,166.5 206.3,166.7 208.5,167.1 210.7,167.7 212.9,168.1 215.1,168.4 217.3,168.4 219.5,168.3 221.7,168.2 223.9,168.1 226.1,168.1 228.3,168.3 230.5,168.5 232.7,168.6 234.9,168.7 237.1,168.7 239.3,168.6 241.5,168.5 243.7,168.4 245.9,168.3 248.1,168.4 250.3,168.6 252.5,168.7 254.7,168.7 256.9,168.6 259.1,168.7 261.3,169.0 263.5,169.5 265.7,169.8 267.9,169.9 270.1,169.7 272.3,169.4 274.5,169.0 276.7,168.5 278.9,168.0 281.1,167.6 283.3,167.3 285.5,167.1 287.7,166.9 289.9,166.7 292.1,166.6 294.3,166.7 296.5,166.8 298.7,166.8 300.9,166.6 303.1,166.4 305.3,166.3 307.5,166.4 309.7,166.8 311.2,167.4" fill="none" stroke="#fc7748" stroke-width="0.70" stroke-opacity="0.36" stroke-linecap="butt" stroke-linejoin="round"/>
<polyline points="58.5,31.0 59.3,76.4 60,89.5 60.8,96.9 61.6,101.8 62.3,105.1 63.1,107.0 63.9,108.0 64.7,108.2 65.4,109.5 66.2,111.4 67,113.2 67.7,114.9 68.5,116.4 69.5,118.3 71.7,121.8 73.9,124.8 76.1,126.5 78.3,127.0 80.5,127.4 82.7,127.5 84.9,127.6 87.1,127.7 89.3,127.9 91.5,128.7 93.7,129.6 95.9,130.3 98.1,131.0 100.3,131.6 102.5,132.3 104.7,133.0 106.9,133.8 109.1,134.5 111.3,135.2 113.5,135.9 115.7,136.8 117.9,137.4 120.1,138.2 122.3,138.5 124.5,138.7 126.7,138.7 128.9,138.6 131.1,138.5 133.3,138.5 135.5,138.7 137.7,138.9 139.9,139.1 142.1,139.3 144.3,139.3 146.5,139.4 148.7,139.5 150.9,139.7 153.1,139.8 155.3,140.0 157.5,140.1 159.7,140.3 161.9,140.4 164.1,140.6 166.3,140.7 168.5,140.7 170.7,140.7 172.9,140.6 175.1,140.6 177.3,140.5 179.5,140.4 181.7,140.2 183.9,140.0 186.1,140.0 188.3,140.1 190.5,140.4 192.7,140.6 194.9,140.8 197.1,140.8 199.3,140.7 201.5,140.8 203.7,140.9 205.9,140.9 208.1,141.0 210.3,141.0 212.5,141.1 214.7,141.2 216.9,141.3 219.1,141.5 221.3,141.7 223.5,141.8 225.7,141.9 227.9,142.0 230.1,142.0 232.3,142.0 234.5,142.0 236.7,142.0 238.9,142.1 241.1,142.3 243.3,142.7 245.5,143.0 247.7,143.4 249.9,143.6 252.1,143.8 254.3,143.8 256.5,143.9 258.7,143.9 260.9,143.9 263.1,143.9 265.3,144.0 267.5,144.1 269.7,144.4 271.9,144.7 274.1,145.0 276.3,145.2 278.5,145.3 280.7,145.3 282.9,145.3 285.1,145.2 287.3,145.3 289.5,145.5 291.7,145.7 293.9,146.0 296.1,146.3 298.3,146.7 300.5,147.2 302.7,147.5 304.9,147.7 307.1,147.8 309.3,147.7 311.5,147.6 313,147.5" fill="none" stroke="#1f77b4" stroke-width="0.60" stroke-opacity="0.40" stroke-dasharray="3,0.8,0.6,0.8" stroke-linecap="butt" stroke-linejoin="round"/>
<polyline points="58.5,31.0 59.3,80.8 60,98.2 60.8,108.0 61.6,115.2 62.3,120.2 63.1,123.8 63.9,126.3 64.7,128.2 65.4,130.3 66.2,132.2 67,134.0 67.7,135.8 68.5,137.3 69.5,139.2 71.7,142.7 73.9,145.7 76.1,147.7 78.3,149.1 80.5,150.3 82.7,150.8 84.9,151.5 87.1,152.1 89.3,152.8 91.5,153.6 93.7,154.4 95.9,155.1 98.1,155.7 100.3,156.3 102.5,157.0 104.7,157.7 106.9,158.4 109.1,159.0 111.3,159.7 113.5,160.5 115.7,161.2 117.9,161.7 120.1,162.2 122.3,162.1 124.5,162.0 126.7,161.7 128.9,161.3 131.1,160.9 133.3,160.6 135.5,160.3 137.7,160.1 139.9,159.9 142.1,159.8 144.3,159.8 146.5,160.0 148.7,160.1 150.9,160.1 153.1,160.0 155.3,159.8 157.5,159.7 159.7,159.6 161.9,159.5 164.1,159.5 166.3,159.6 168.5,159.8 170.7,160.1 172.9,160.3 175.1,160.4 177.3,160.4 179.5,160.3 181.7,160.3 183.9,160.2 186.1,160.2 188.3,160.2 190.5,160.0 192.7,159.9 194.9,159.7 197.1,159.6 199.3,159.6 201.5,159.9 203.7,160.5 205.9,161.1 208.1,161.8 210.3,162.4 212.5,162.8 214.7,163.1 216.9,163.2 219.1,163.3 221.3,163.2 223.5,163.0 225.7,163.0 227.9,163.1 230.1,163.6 232.3,164.2 234.5,164.9 236.7,165.6 238.9,166.0 241.1,166.3 243.3,166.4 245.5,166.5 247.7,166.5 249.9,166.6 252.1,166.8 254.3,167.1 256.5,167.5 258.7,168.0 260.9,168.5 263.1,169.0 265.3,169.4 267.5,169.6 269.7,169.7 271.9,169.8 274.1,170.0 276.3,170.3 278.5,170.5 280.7,170.8 282.9,171.1 285.1,171.4 287.3,171.7 289.5,171.8 291.7,171.8 293.9,171.8 296.1,171.8 298.3,172.1 300.5,172.4 302.7,172.7 304.9,172.9 307.1,173.0 309.3,173.1 311.5,173.2 312.4,173.2" fill="none" stroke="#1f77b4" stroke-width="0.60" stroke-opacity="0.40" stroke-dasharray="3,0.8,0.6,0.8" stroke-linecap="butt" stroke-linejoin="round"/>
<polyline points="58.5,31.0 59.3,76.9 60,90.2 60.8,97.2 61.6,101.8 62.3,108.2 63.1,113.9 63.9,118.7 64.7,122.8 65.4,125.6 66.2,126.9 67,128.2 67.7,129.5 68.5,130.4 69.5,131.7 71.7,133.8 73.9,135.4 76.1,136.1 78.3,136.2 80.5,136.5 82.7,137.5 84.9,138.5 87.1,139.6 89.3,140.7 91.5,141.6 93.7,142.4 95.9,143.1 98.1,143.6 100.3,144.2 102.5,144.8 104.7,145.3 106.9,145.9 109.1,146.3 111.3,146.8 113.5,147.5 115.7,148.4 117.9,149.1 120.1,149.8 122.3,149.8 124.5,149.7 126.7,149.5 128.9,149.3 131.1,149.2 133.3,149.2 135.5,149.2 137.7,149.3 139.9,149.5 142.1,149.7 144.3,150.0 146.5,150.2 148.7,150.3 150.9,150.5 153.1,150.5 155.3,150.4 157.5,150.3 159.7,150.2 161.9,150.3 164.1,150.6 166.3,151.0 168.5,151.2 170.7,151.2 172.9,151.1 175.1,151.0 177.3,150.9 179.5,150.9 181.7,150.9 183.9,150.9 186.1,150.9 188.3,150.9 190.5,150.8 192.7,150.8 194.9,150.9 197.1,151.0 199.3,151.1 201.5,151.3 203.7,151.5 205.9,151.8 208.1,152.0 210.3,152.2 212.5,152.3 214.7,152.3 216.9,152.3 219.1,152.4 221.3,152.5 223.5,152.7 225.7,152.9 227.9,153.0 230.1,153.2 232.3,153.2 234.5,153.4 236.7,153.5 238.9,153.6 241.1,153.5 243.3,153.5 245.5,153.6 247.7,153.9 249.9,154.1 252.1,154.2 254.3,154.2 256.5,154.1 258.7,154.1 260.9,154.2 263.1,154.4 265.3,154.7 267.5,155.0 269.7,155.4 271.9,155.9 274.1,156.2 276.3,156.5 278.5,156.5 280.7,156.5 282.9,156.5 285.1,156.6 287.3,156.9 289.5,157.1 291.7,157.4 293.9,157.6 296.1,157.9 298.3,158.3 300.5,158.6 302.7,158.8 304.9,158.9 307.1,159.0 309.3,159.1 311.5,159.2 312.1,159.2" fill="none" stroke="#1f77b4" stroke-width="0.60" stroke-opacity="0.40" stroke-dasharray="3,0.8,0.6,0.8" stroke-linecap="butt" stroke-linejoin="round"/>
<polyline points="58.5,31.0 59.3,77.1 60,90.5 60.8,97.6 61.6,102.2 62.3,107.3 63.1,111.6 63.9,114.8 64.7,117.3 65.4,119.5 66.2,121.1 67,122.5 67.7,123.9 68.5,125.1 69.5,126.6 71.7,129.0 73.9,131.0 76.1,132.1 78.3,132.8 80.5,133.7 82.7,134.8 84.9,135.9 87.1,136.8 89.3,137.5 91.5,138.1 93.7,138.7 95.9,139.3 98.1,140.0 100.3,140.8 102.5,141.6 104.7,142.3 106.9,143.0 109.1,143.8 111.3,144.8 113.5,146.0 115.7,147.0 117.9,147.7 120.1,148.2 122.3,148.2 124.5,148.2 126.7,148.3 128.9,148.4 131.1,148.6 133.3,148.8 135.5,149.0 137.7,149.2 139.9,149.4 142.1,149.5 144.3,149.5 146.5,149.4 148.7,149.5 150.9,149.6 153.1,149.8 155.3,150.0 157.5,150.2 159.7,150.4 161.9,150.5 164.1,150.7 166.3,150.8 168.5,151.0 170.7,151.1 172.9,151.2 175.1,151.3 177.3,151.3 179.5,151.3 181.7,151.4 183.9,151.5 186.1,151.7 188.3,151.9 190.5,152.0 192.7,152.1 194.9,152.0 197.1,152.0 199.3,152.1 201.5,152.3 203.7,152.7 205.9,153.1 208.1,153.5 210.3,153.9 212.5,154.2 214.7,154.3 216.9,154.5 219.1,154.6 221.3,154.7 223.5,155.0 225.7,155.4 227.9,155.7 230.1,156.1 232.3,156.5 234.5,156.7 236.7,157.0 238.9,157.2 241.1,157.5 243.3,157.8 245.5,158.1 247.7,158.4 249.9,158.7 252.1,158.8 254.3,158.7 256.5,158.6 258.7,158.4 260.9,158.4 263.1,158.5 265.3,158.7 267.5,158.9 269.7,159.0 271.9,159.0 274.1,159.1 276.3,159.3 278.5,159.8 280.7,160.3 282.9,160.8 285.1,161.2 287.3,161.5 289.5,161.6 291.7,161.6 293.9,161.4 296.1,161.3 298.3,161.3 300.5,161.4 302.7,161.5 304.9,161.8 307.1,162.1 309.3,162.3 311.5,162.5 311.9,162.6" fill="none" stroke="#1f77b4" stroke-width="0.60" stroke-opacity="0.40" stroke-dasharray="3,0.8,0.6,0.8" stroke-linecap="butt" stroke-linejoin="round"/>
<polyline points="58.5,31.0 59.3,76.0 60,89.7 60.8,99.4 61.6,106.5 62.3,110.4 63.1,112.7 63.9,113.9 64.7,114.5 65.4,115.6 66.2,116.8 67,118.0 67.7,119.1 68.5,119.9 69.5,121.0 71.7,122.6 73.9,123.6 76.1,124.2 78.3,124.6 80.5,125.1 82.7,125.4 84.9,125.5 87.1,125.5 89.3,125.4 91.5,125.7 93.7,126.3 95.9,127.0 98.1,127.7 100.3,128.3 102.5,128.9 104.7,129.3 106.9,129.6 109.1,130.0 111.3,130.4 113.5,130.9 115.7,131.4 117.9,131.7 120.1,132.1 122.3,132.5 124.5,132.8 126.7,133.0 128.9,133.1 131.1,133.0 133.3,133.0 135.5,133.0 137.7,133.2 139.9,133.5 142.1,133.8 144.3,134.0 146.5,134.2 148.7,134.2 150.9,134.2 153.1,134.1 155.3,134.2 157.5,134.6 159.7,135.1 161.9,135.7 164.1,136.3 166.3,136.8 168.5,137.1 170.7,137.4 172.9,137.6 175.1,137.9 177.3,138.3 179.5,138.6 181.7,138.9 183.9,139.2 186.1,139.4 188.3,139.7 190.5,140.0 192.7,140.3 194.9,140.5 197.1,140.8 199.3,141.0 201.5,141.3 203.7,141.5 205.9,141.8 208.1,142.1 210.3,142.3 212.5,142.6 214.7,142.8 216.9,142.9 219.1,143.1 221.3,143.2 223.5,143.3 225.7,143.5 227.9,143.8 230.1,144.2 232.3,144.7 234.5,145.2 236.7,145.5 238.9,145.7 241.1,145.8 243.3,145.8 245.5,145.9 247.7,145.9 249.9,146.0 252.1,146.1 254.3,146.2 256.5,146.4 258.7,146.7 260.9,146.9 263.1,147.0 265.3,147.2 267.5,147.4 269.7,147.6 271.9,147.8 274.1,147.7 276.3,147.6 278.5,147.4 280.7,147.4 282.9,147.5 285.1,147.7 287.3,147.9 289.5,148.0 291.7,148.0 293.9,148.1 296.1,148.1 298.3,148.2 300.5,148.3 302.7,148.3 304.9,148.2 307.1,148.1 309.3,148.0 311.5,147.9 312.7,147.9" fill="none" stroke="#1f77b4" stroke-width="0.60" stroke-opacity="0.40" stroke-dasharray="3,0.8,0.6,0.8" stroke-linecap="butt" stroke-linejoin="round"/>
<polyline points="58.5,31.0 59.3,73.0 60,86.4 60.8,100.7 61.6,112.3 62.3,116.9 63.1,119.2 63.9,120.4 64.7,120.9 65.4,122.3 66.2,124.1 67,125.9 67.7,127.6 68.5,129.0 69.5,130.8 71.7,134.1 73.9,136.8 76.1,138.8 78.3,140.2 80.5,141.3 82.7,141.3 84.9,141.4 87.1,141.4 89.3,141.6 91.5,141.8 93.7,142.0 95.9,142.3 98.1,142.6 100.3,142.9 102.5,143.2 104.7,143.5 106.9,143.7 109.1,143.8 111.3,143.9 113.5,144.1 115.7,144.4 117.9,144.4 120.1,144.6 122.3,145.2 124.5,145.6 126.7,145.8 128.9,146.0 131.1,146.3 133.3,146.8 135.5,147.2 137.7,147.7 139.9,148.2 142.1,148.7 144.3,149.3 146.5,149.8 148.7,150.2 150.9,150.4 153.1,150.5 155.3,150.7 157.5,151.1 159.7,151.6 161.9,152.2 164.1,152.9 166.3,153.6 168.5,154.2 170.7,154.5 172.9,154.8 175.1,154.9 177.3,155.1 179.5,155.2 181.7,155.4 183.9,155.7 186.1,156.1 188.3,156.6 190.5,157.0 192.7,157.4 194.9,157.6 197.1,157.8 199.3,158.1 201.5,158.5 203.7,158.9 205.9,159.4 208.1,159.9 210.3,160.1 212.5,160.2 214.7,160.1 216.9,159.8 219.1,159.6 221.3,159.3 223.5,159.2 225.7,159.2 227.9,159.3 230.1,159.4 232.3,159.6 234.5,159.6 236.7,159.6 238.9,159.8 241.1,160.0 243.3,160.2 245.5,160.4 247.7,160.4 249.9,160.4 252.1,160.5 254.3,160.7 256.5,160.8 258.7,160.9 260.9,161.0 263.1,161.1 265.3,161.2 267.5,161.4 269.7,161.6 271.9,161.8 274.1,162.0 276.3,162.0 278.5,162.0 280.7,161.9 282.9,162.0 285.1,162.3 287.3,162.7 289.5,163.1 291.7,163.3 293.9,163.4 296.1,163.4 298.3,163.4 300.5,163.3 302.7,163.2 304.9,163.1 307.1,162.9 309.3,162.7 311.5,162.5 312.6,162.4" fill="none" stroke="#1f77b4" stroke-width="0.60" stroke-opacity="0.40" stroke-dasharray="3,0.8,0.6,0.8" stroke-linecap="butt" stroke-linejoin="round"/>
<polyline points="58.5,31.0 59.3,75.2 60,89.5 60.8,102.1 61.6,112.2 62.3,119.5 63.1,125.2 63.9,130.0 64.7,134.0 65.4,136.6 66.2,137.7 67,138.7 67.7,139.5 68.5,140.1 69.5,140.9 71.7,141.8 73.9,142.3 76.1,142.1 78.3,141.5 80.5,141.2 82.7,141.7 84.9,142.2 87.1,142.6 89.3,143.2 91.5,144.0 93.7,145.0 95.9,145.9 98.1,146.8 100.3,147.6 102.5,148.3 104.7,148.8 106.9,149.3 109.1,149.7 111.3,150.2 113.5,150.8 115.7,151.4 117.9,151.7 120.1,152.1 122.3,152.5 124.5,153.0 126.7,153.5 128.9,153.9 131.1,154.2 133.3,154.5 135.5,154.8 137.7,155.1 139.9,155.3 142.1,155.4 144.3,155.6 146.5,155.9 148.7,156.3 150.9,156.6 153.1,157.0 155.3,157.2 157.5,157.5 159.7,157.7 161.9,158.1 164.1,158.5 166.3,159.0 168.5,159.5 170.7,159.9 172.9,160.3 175.1,160.6 177.3,161.0 179.5,161.3 181.7,161.5 183.9,161.7 186.1,161.9 188.3,162.2 190.5,162.5 192.7,162.7 194.9,162.9 197.1,163.1 199.3,163.3 201.5,163.3 203.7,163.3 205.9,163.2 208.1,163.1 210.3,163.0 212.5,162.9 214.7,162.6 216.9,162.5 219.1,162.5 221.3,162.6 223.5,162.7 225.7,162.7 227.9,162.5 230.1,162.3 232.3,162.2 234.5,162.0 236.7,161.8 238.9,161.6 241.1,161.4 243.3,161.2 245.5,161.1 247.7,160.9 249.9,160.7 252.1,160.4 254.3,160.2 256.5,159.8 258.7,159.5 260.9,159.3 263.1,159.2 265.3,159.1 267.5,158.9 269.7,158.8 271.9,158.7 274.1,158.7 276.3,158.7 278.5,158.8 280.7,158.8 282.9,158.8 285.1,158.7 287.3,158.5 289.5,158.3 291.7,158.0 293.9,157.7 296.1,157.6 298.3,157.5 300.5,157.6 302.7,157.7 304.9,157.9 307.1,157.9 309.3,157.9 311.5,157.9 312.5,158.1" fill="none" stroke="#1f77b4" stroke-width="0.60" stroke-opacity="0.40" stroke-dasharray="3,0.8,0.6,0.8" stroke-linecap="butt" stroke-linejoin="round"/>
<polyline points="58.5,31.0 59.3,76.5 60,91.7 60.8,103.8 61.6,113.3 62.3,118.2 63.1,121.2 63.9,123.2 64.7,124.5 65.4,126.3 66.2,128.3 67,130.2 67.7,132.0 68.5,133.5 69.5,135.5 71.7,139.1 73.9,142.3 76.1,144.6 78.3,146.3 80.5,147.8 82.7,148.3 84.9,148.8 87.1,149.1 89.3,149.3 91.5,149.5 93.7,149.6 95.9,149.9 98.1,150.2 100.3,150.6 102.5,150.9 104.7,151.2 106.9,151.7 109.1,152.3 111.3,152.8 113.5,153.4 115.7,153.7 117.9,153.8 120.1,153.8 122.3,153.7 124.5,153.7 126.7,153.7 128.9,153.8 131.1,153.9 133.3,154.2 135.5,154.5 137.7,154.7 139.9,154.9 142.1,155.2 144.3,155.5 146.5,155.8 148.7,156.0 150.9,156.2 153.1,156.3 155.3,156.3 157.5,156.3 159.7,156.4 161.9,156.5 164.1,156.7 166.3,156.9 168.5,157.1 170.7,157.5 172.9,157.9 175.1,158.3 177.3,158.7 179.5,158.8 181.7,158.8 183.9,158.7 186.1,158.6 188.3,158.6 190.5,158.7 192.7,158.8 194.9,158.9 197.1,159.1 199.3,159.4 201.5,159.7 203.7,160.0 205.9,160.1 208.1,160.1 210.3,160.1 212.5,160.2 214.7,160.3 216.9,160.6 219.1,161.0 221.3,161.3 223.5,161.6 225.7,161.6 227.9,161.6 230.1,161.5 232.3,161.4 234.5,161.3 236.7,161.2 238.9,161.2 241.1,161.2 243.3,161.2 245.5,161.1 247.7,161.0 249.9,160.9 252.1,160.9 254.3,160.9 256.5,160.8 258.7,160.8 260.9,160.8 263.1,160.9 265.3,160.9 267.5,161.0 269.7,161.0 271.9,161.0 274.1,161.0 276.3,160.9 278.5,160.9 280.7,160.9 282.9,160.9 285.1,160.9 287.3,161.0 289.5,161.0 291.7,161.0 293.9,161.0 296.1,160.8 298.3,160.7 300.5,160.8 302.7,161.0 304.9,161.2 307.1,161.5 309.3,161.8 311.5,162.1 312.8,162.3" fill="none" stroke="#1f77b4" stroke-width="0.60" stroke-opacity="0.40" stroke-dasharray="3,0.8,0.6,0.8" stroke-linecap="butt" stroke-linejoin="round"/>
<polyline points="58.5,31.0 59.3,75.8 60,88.9 60.8,97.4 61.6,103.3 62.3,107.4 63.1,110.2 63.9,111.9 64.7,112.9 65.4,114.8 66.2,116.9 67,119.0 67.7,121.0 68.5,122.8 69.5,125.0 71.7,129.2 73.9,133.0 76.1,135.9 78.3,138.3 80.5,140.2 82.7,140.6 84.9,140.9 87.1,141.3 89.3,141.7 91.5,142.2 93.7,142.8 95.9,143.4 98.1,144.1 100.3,144.6 102.5,145.0 104.7,145.2 106.9,145.5 109.1,145.8 111.3,146.2 113.5,146.7 115.7,146.9 117.9,146.9 120.1,146.7 122.3,146.5 124.5,146.2 126.7,145.8 128.9,145.6 131.1,145.5 133.3,145.5 135.5,145.6 137.7,145.5 139.9,145.4 142.1,145.2 144.3,145.1 146.5,145.1 148.7,145.3 150.9,145.5 153.1,145.6 155.3,145.7 157.5,145.7 159.7,145.7 161.9,145.5 164.1,145.3 166.3,145.1 168.5,144.8 170.7,144.7 172.9,144.6 175.1,144.6 177.3,144.6 179.5,144.5 181.7,144.3 183.9,144.0 186.1,143.8 188.3,143.5 190.5,143.3 192.7,143.0 194.9,142.8 197.1,142.6 199.3,142.6 201.5,142.9 203.7,143.3 205.9,143.6 208.1,143.8 210.3,143.9 212.5,144.0 214.7,144.1 216.9,144.2 219.1,144.6 221.3,145.0 223.5,145.4 225.7,145.8 227.9,146.0 230.1,146.3 232.3,146.5 234.5,146.8 236.7,147.2 238.9,147.6 241.1,148.0 243.3,148.3 245.5,148.6 247.7,148.9 249.9,149.2 252.1,149.3 254.3,149.4 256.5,149.5 258.7,149.5 260.9,149.4 263.1,149.3 265.3,149.3 267.5,149.3 269.7,149.5 271.9,149.6 274.1,149.7 276.3,149.7 278.5,149.6 280.7,149.6 282.9,149.7 285.1,149.8 287.3,149.9 289.5,150.0 291.7,150.1 293.9,150.2 296.1,150.3 298.3,150.3 300.5,150.3 302.7,150.3 304.9,150.4 307.1,150.6 309.3,150.9 311.5,151.1 312.4,151.1" fill="none" stroke="#1f77b4" stroke-width="0.60" stroke-opacity="0.40" stroke-dasharray="3,0.8,0.6,0.8" stroke-linecap="butt" stroke-linejoin="round"/>
<polyline points="58.5,31.0 59.3,75.5 60,89.1 60.8,99.3 61.6,106.9 62.3,111.9 63.1,115.4 63.9,117.9 64.7,119.7 65.4,121.7 66.2,123.5 67,125.2 67.7,126.9 68.5,128.2 69.5,130.0 71.7,133.3 73.9,136.0 76.1,137.3 78.3,137.5 80.5,137.5 82.7,137.6 84.9,137.8 87.1,138.1 89.3,138.6 91.5,138.6 93.7,138.4 95.9,138.1 98.1,137.7 100.3,137.2 102.5,136.7 104.7,136.3 106.9,135.9 109.1,135.6 111.3,135.3 113.5,135.1 115.7,134.6 117.9,133.8 120.1,133.1 122.3,133.7 124.5,134.5 126.7,135.2 128.9,135.9 131.1,136.5 133.3,137.1 135.5,137.5 137.7,137.9 139.9,138.2 142.1,138.5 144.3,138.8 146.5,139.1 148.7,139.4 150.9,139.7 153.1,140.2 155.3,140.8 157.5,141.4 159.7,142.0 161.9,142.4 164.1,142.6 166.3,142.7 168.5,142.9 170.7,143.2 172.9,143.7 175.1,144.1 177.3,144.5 179.5,144.8 181.7,145.0 183.9,145.3 186.1,145.8 188.3,146.5 190.5,147.1 192.7,147.5 194.9,147.8 197.1,148.0 199.3,148.3 201.5,148.5 203.7,148.7 205.9,148.9 208.1,149.1 210.3,149.3 212.5,149.5 214.7,149.7 216.9,149.8 219.1,149.8 221.3,149.6 223.5,149.4 225.7,149.2 227.9,149.2 230.1,149.5 232.3,149.8 234.5,150.1 236.7,150.2 238.9,150.2 241.1,150.1 243.3,150.0 245.5,149.8 247.7,149.8 249.9,149.8 252.1,150.1 254.3,150.4 256.5,150.8 258.7,151.1 260.9,151.4 263.1,151.6 265.3,151.9 267.5,152.1 269.7,152.2 271.9,152.0 274.1,151.8 276.3,151.7 278.5,151.7 280.7,151.9 282.9,152.0 285.1,152.0 287.3,151.7 289.5,151.5 291.7,151.3 293.9,151.2 296.1,151.4 298.3,151.5 300.5,151.6 302.7,151.6 304.9,151.5 307.1,151.4 309.3,151.4 311.5,151.5 312.6,151.6" fill="none" stroke="#1f77b4" stroke-width="0.60" stroke-opacity="0.40" stroke-dasharray="3,0.8,0.6,0.8" stroke-linecap="butt" stroke-linejoin="round"/>
<polyline points="58.5,31.0 59.3,76.3 60,90.2 60.8,99.6 61.6,106.5 62.3,112.2 63.1,116.6 63.9,120.0 64.7,122.8 65.4,125.0 66.2,126.4 67,127.8 67.7,129.1 68.5,130.1 69.5,131.4 71.7,133.6 73.9,135.2 76.1,136.1 78.3,136.5 80.5,137.1 82.7,138.5 84.9,139.9 87.1,141.1 89.3,142.3 91.5,143.4 93.7,144.6 95.9,145.9 98.1,147.2 100.3,148.5 102.5,149.7 104.7,150.9 106.9,152.0 109.1,153.2 111.3,154.5 113.5,155.8 115.7,157.0 117.9,158.1 120.1,159.2 122.3,159.4 124.5,159.6 126.7,159.6 128.9,159.4 131.1,159.2 133.3,159.0 135.5,159.0 137.7,159.0 139.9,159.2 142.1,159.4 144.3,159.4 146.5,159.4 148.7,159.4 150.9,159.4 153.1,159.4 155.3,159.5 157.5,159.5 159.7,159.5 161.9,159.5 164.1,159.5 166.3,159.5 168.5,159.5 170.7,159.4 172.9,159.3 175.1,159.2 177.3,159.1 179.5,159.0 181.7,158.8 183.9,158.8 186.1,158.8 188.3,158.9 190.5,158.9 192.7,158.8 194.9,158.5 197.1,158.3 199.3,158.1 201.5,158.2 203.7,158.5 205.9,158.8 208.1,159.1 210.3,159.2 212.5,159.2 214.7,159.1 216.9,159.2 219.1,159.3 221.3,159.5 223.5,159.6 225.7,159.8 227.9,160.1 230.1,160.4 232.3,160.8 234.5,161.2 236.7,161.4 238.9,161.6 241.1,161.7 243.3,161.8 245.5,161.9 247.7,162.0 249.9,162.2 252.1,162.4 254.3,162.7 256.5,162.9 258.7,163.1 260.9,163.2 263.1,163.3 265.3,163.5 267.5,163.7 269.7,163.9 271.9,164.0 274.1,164.1 276.3,164.2 278.5,164.3 280.7,164.3 282.9,164.3 285.1,164.3 287.3,164.3 289.5,164.2 291.7,164.1 293.9,164.0 296.1,163.9 298.3,163.8 300.5,163.9 302.7,164.0 304.9,164.2 307.1,164.3 309.3,164.4 311.5,164.4 312.5,164.4" fill="none" stroke="#1f77b4" stroke-width="0.60" stroke-opacity="0.40" stroke-dasharray="3,0.8,0.6,0.8" stroke-linecap="butt" stroke-linejoin="round"/>
<polyline points="58.5,31.0 59.3,75.1 60,87.1 60.8,94.3 61.6,98.9 62.3,103.7 63.1,107.6 63.9,110.5 64.7,112.7 65.4,114.5 66.2,115.6 67,116.6 67.7,117.5 68.5,118.1 69.5,119.0 71.7,120.2 73.9,120.9 76.1,121.9 78.3,123.6 80.5,125.2 82.7,126.6 84.9,127.8 87.1,128.8 89.3,129.9 91.5,130.4 93.7,130.6 95.9,130.9 98.1,131.1 100.3,131.1 102.5,131.1 104.7,131.0 106.9,131.0 109.1,131.2 111.3,131.5 113.5,132.0 115.7,132.3 117.9,132.3 120.1,132.1 122.3,132.1 124.5,132.1 126.7,132.2 128.9,132.3 131.1,132.6 133.3,132.9 135.5,133.2 137.7,133.4 139.9,133.4 142.1,133.5 144.3,133.5 146.5,133.6 148.7,133.9 150.9,134.3 153.1,134.9 155.3,135.3 157.5,135.5 159.7,135.6 161.9,135.7 164.1,135.9 166.3,136.4 168.5,136.9 170.7,137.5 172.9,138.0 175.1,138.4 177.3,138.6 179.5,138.8 181.7,138.9 183.9,139.1 186.1,139.1 188.3,139.2 190.5,139.4 192.7,139.6 194.9,139.9 197.1,140.1 199.3,140.3 201.5,140.4 203.7,140.7 205.9,141.1 208.1,141.4 210.3,141.6 212.5,141.8 214.7,141.9 216.9,142.0 219.1,142.2 221.3,142.4 223.5,142.7 225.7,143.0 227.9,143.3 230.1,143.5 232.3,143.6 234.5,143.8 236.7,143.9 238.9,144.0 241.1,144.3 243.3,144.5 245.5,144.8 247.7,144.9 249.9,144.9 252.1,144.7 254.3,144.5 256.5,144.4 258.7,144.3 260.9,144.4 263.1,144.6 265.3,144.9 267.5,145.1 269.7,145.2 271.9,145.2 274.1,145.2 276.3,145.1 278.5,144.9 280.7,144.8 282.9,144.7 285.1,144.7 287.3,144.8 289.5,145.0 291.7,145.2 293.9,145.2 296.1,145.1 298.3,145.0 300.5,145.0 302.7,145.2 304.9,145.5 307.1,145.8 309.3,146.1 311.5,146.3 312.3,146.2" fill="none" stroke="#1f77b4" stroke-width="0.60" stroke-opacity="0.40" stroke-dasharray="3,0.8,0.6,0.8" stroke-linecap="butt" stroke-linejoin="round"/>
<polyline points="58.5,31.0 59.3,76.3 60,88.7 60.8,95.0 61.6,98.7 62.3,102.9 63.1,106.2 63.9,108.5 64.7,110.1 65.4,111.9 66.2,113.5 67,115.1 67.7,116.5 68.5,117.7 69.5,119.3 71.7,121.9 73.9,124.0 76.1,125.0 78.3,125.2 80.5,125.4 82.7,125.6 84.9,125.7 87.1,125.8 89.3,125.9 91.5,126.1 93.7,126.3 95.9,126.4 98.1,126.5 100.3,126.7 102.5,127.0 104.7,127.4 106.9,127.9 109.1,128.4 111.3,128.9 113.5,129.2 115.7,129.3 117.9,129.0 120.1,128.7 122.3,128.8 124.5,129.0 126.7,129.3 128.9,129.7 131.1,130.1 133.3,130.5 135.5,130.9 137.7,131.4 139.9,131.7 142.1,132.0 144.3,132.1 146.5,132.1 148.7,132.2 150.9,132.6 153.1,133.2 155.3,133.7 157.5,134.1 159.7,134.3 161.9,134.5 164.1,134.6 166.3,134.9 168.5,135.1 170.7,135.2 172.9,135.2 175.1,135.2 177.3,135.3 179.5,135.5 181.7,135.7 183.9,135.8 186.1,136.0 188.3,136.2 190.5,136.5 192.7,136.8 194.9,137.3 197.1,137.8 199.3,138.1 201.5,138.3 203.7,138.3 205.9,138.3 208.1,138.4 210.3,138.7 212.5,139.2 214.7,139.5 216.9,139.8 219.1,140.0 221.3,140.1 223.5,140.3 225.7,140.5 227.9,140.8 230.1,141.0 232.3,141.3 234.5,141.5 236.7,141.7 238.9,141.9 241.1,142.0 243.3,142.0 245.5,141.9 247.7,141.9 249.9,142.0 252.1,142.4 254.3,143.0 256.5,143.8 258.7,144.4 260.9,144.7 263.1,144.7 265.3,144.5 267.5,144.4 269.7,144.4 271.9,144.5 274.1,144.6 276.3,144.7 278.5,144.7 280.7,144.8 282.9,144.9 285.1,145.1 287.3,145.2 289.5,145.2 291.7,145.1 293.9,145.0 296.1,145.0 298.3,145.0 300.5,144.9 302.7,144.9 304.9,144.7 307.1,144.5 309.3,144.4 311.5,144.4 312.3,144.4" fill="none" stroke="#1f77b4" stroke-width="0.60" stroke-opacity="0.40" stroke-dasharray="3,0.8,0.6,0.8" stroke-linecap="butt" stroke-linejoin="round"/>
<polyline points="58.5,31.0 59.3,74.5 60,86.5 60.8,94.8 61.6,100.6 62.3,104.7 63.1,107.5 63.9,109.3 64.7,110.4 65.4,111.9 66.2,113.5 67,115.1 67.7,116.6 68.5,117.7 69.5,119.2 71.7,121.9 73.9,124.0 76.1,125.4 78.3,126.3 80.5,127.3 82.7,128.1 84.9,128.9 87.1,129.5 89.3,130.0 91.5,130.1 93.7,130.0 95.9,129.9 98.1,129.9 100.3,129.9 102.5,129.9 104.7,130.0 106.9,130.2 109.1,130.3 111.3,130.4 113.5,130.4 115.7,130.2 117.9,129.9 120.1,129.6 122.3,129.8 124.5,129.9 126.7,130.1 128.9,130.4 131.1,130.8 133.3,131.3 135.5,131.7 137.7,132.1 139.9,132.6 142.1,133.1 144.3,133.6 146.5,134.0 148.7,134.4 150.9,134.7 153.1,135.0 155.3,135.3 157.5,135.6 159.7,136.1 161.9,136.8 164.1,137.7 166.3,138.4 168.5,138.9 170.7,139.2 172.9,139.2 175.1,139.3 177.3,139.4 179.5,139.8 181.7,140.2 183.9,140.7 186.1,141.2 188.3,141.5 190.5,141.7 192.7,141.9 194.9,142.1 197.1,142.4 199.3,142.6 201.5,142.8 203.7,143.0 205.9,143.0 208.1,142.9 210.3,142.8 212.5,142.8 214.7,142.8 216.9,143.0 219.1,143.3 221.3,143.6 223.5,144.0 225.7,144.2 227.9,144.2 230.1,144.2 232.3,144.1 234.5,144.0 236.7,143.9 238.9,143.9 241.1,143.9 243.3,144.0 245.5,144.1 247.7,144.3 249.9,144.4 252.1,144.6 254.3,144.8 256.5,145.1 258.7,145.4 260.9,145.7 263.1,146.0 265.3,146.3 267.5,146.4 269.7,146.5 271.9,146.4 274.1,146.2 276.3,146.0 278.5,145.8 280.7,145.8 282.9,145.9 285.1,146.2 287.3,146.5 289.5,146.9 291.7,147.2 293.9,147.5 296.1,147.6 298.3,147.6 300.5,147.6 302.7,147.7 304.9,147.9 307.1,148.1 309.3,148.3 311.5,148.3 312.4,148.4" fill="none" stroke="#1f77b4" stroke-width="0.60" stroke-opacity="0.40" stroke-dasharray="3,0.8,0.6,0.8" stroke-linecap="butt" stroke-linejoin="round"/>
<polyline points="58.5,31.0 59.3,79.4 60,97.8 60.8,112.1 61.6,123.9 62.3,129.3 63.1,132.5 63.9,134.6 64.7,136.0 65.4,137.8 66.2,139.3 67,140.8 67.7,142.2 68.5,143.3 69.5,144.8 71.7,147.2 73.9,149.1 76.1,150.2 78.3,150.7 80.5,151.1 82.7,151.0 84.9,150.9 87.1,150.8 89.3,150.8 91.5,150.7 93.7,150.6 95.9,150.6 98.1,150.6 100.3,150.8 102.5,150.9 104.7,151.0 106.9,151.1 109.1,151.1 111.3,151.2 113.5,151.4 115.7,151.5 117.9,151.4 120.1,151.3 122.3,151.7 124.5,152.2 126.7,152.7 128.9,153.4 131.1,154.2 133.3,154.9 135.5,155.5 137.7,155.9 139.9,156.2 142.1,156.6 144.3,157.2 146.5,157.7 148.7,158.2 150.9,158.5 153.1,158.8 155.3,159.1 157.5,159.4 159.7,159.8 161.9,160.4 164.1,161.1 166.3,161.7 168.5,162.2 170.7,162.6 172.9,163.0 175.1,163.5 177.3,163.9 179.5,164.4 181.7,164.9 183.9,165.5 186.1,166.1 188.3,166.7 190.5,167.1 192.7,167.4 194.9,167.7 197.1,167.9 199.3,168.3 201.5,168.4 203.7,168.4 205.9,168.3 208.1,168.4 210.3,168.6 212.5,168.8 214.7,168.8 216.9,168.7 219.1,168.4 221.3,168.3 223.5,168.3 225.7,168.5 227.9,168.7 230.1,168.7 232.3,168.5 234.5,168.2 236.7,168.0 238.9,167.8 241.1,167.6 243.3,167.3 245.5,167.0 247.7,166.7 249.9,166.4 252.1,166.2 254.3,165.9 256.5,165.7 258.7,165.6 260.9,165.6 263.1,165.6 265.3,165.6 267.5,165.6 269.7,165.3 271.9,165.0 274.1,164.6 276.3,164.2 278.5,163.9 280.7,163.6 282.9,163.2 285.1,162.7 287.3,162.4 289.5,162.1 291.7,162.1 293.9,162.2 296.1,162.4 298.3,162.5 300.5,162.4 302.7,162.3 304.9,162.3 307.1,162.2 309.3,162.1 311.5,162.0 312.3,161.9" fill="none" stroke="#1f77b4" stroke-width="0.60" stroke-opacity="0.40" stroke-dasharray="3,0.8,0.6,0.8" stroke-linecap="butt" stroke-linejoin="round"/>
<polyline points="58.5,31.0 59.3,75.4 60,88.7 60.8,98.2 61.6,105.2 62.3,108.7 63.1,110.6 63.9,111.5 64.7,111.6 65.4,113.0 66.2,115.0 67,117.0 67.7,118.8 68.5,120.4 69.5,122.5 71.7,126.3 73.9,129.5 76.1,131.2 78.3,131.8 80.5,132.5 82.7,133.2 84.9,134.1 87.1,134.8 89.3,135.6 91.5,136.5 93.7,137.4 95.9,138.4 98.1,139.4 100.3,140.3 102.5,140.9 104.7,141.4 106.9,141.9 109.1,142.5 111.3,143.3 113.5,144.2 115.7,145.0 117.9,145.6 120.1,146.0 122.3,145.8 124.5,145.6 126.7,145.2 128.9,145.0 131.1,144.9 133.3,145.0 135.5,145.1 137.7,145.3 139.9,145.5 142.1,145.9 144.3,146.3 146.5,146.7 148.7,146.9 150.9,147.0 153.1,146.7 155.3,146.3 157.5,145.7 159.7,145.2 161.9,144.9 164.1,145.0 166.3,145.2 168.5,145.4 170.7,145.3 172.9,145.0 175.1,144.7 177.3,144.5 179.5,144.4 181.7,144.3 183.9,144.1 186.1,143.9 188.3,143.8 190.5,143.7 192.7,143.6 194.9,143.6 197.1,143.5 199.3,143.4 201.5,143.5 203.7,143.8 205.9,144.1 208.1,144.4 210.3,144.9 212.5,145.3 214.7,145.7 216.9,146.1 219.1,146.5 221.3,146.8 223.5,147.0 225.7,147.3 227.9,147.6 230.1,148.0 232.3,148.6 234.5,149.3 236.7,150.0 238.9,150.6 241.1,150.9 243.3,151.1 245.5,151.2 247.7,151.4 249.9,151.5 252.1,151.6 254.3,151.6 256.5,151.6 258.7,151.6 260.9,151.7 263.1,151.8 265.3,151.8 267.5,151.9 269.7,151.9 271.9,151.9 274.1,152.0 276.3,152.0 278.5,152.0 280.7,151.9 282.9,151.8 285.1,152.0 287.3,152.2 289.5,152.5 291.7,152.7 293.9,152.7 296.1,152.6 298.3,152.6 300.5,152.8 302.7,153.1 304.9,153.4 307.1,153.4 309.3,153.2 311.5,153.0 312.6,152.9" fill="none" stroke="#1f77b4" stroke-width="0.60" stroke-opacity="0.40" stroke-dasharray="3,0.8,0.6,0.8" stroke-linecap="butt" stroke-linejoin="round"/>
<polyline points="58.5,31.0 59.3,73.1 60,84.7 60.8,94.5 61.6,101.8 62.3,104.5 63.1,105.3 63.9,105.0 64.7,104.0 65.4,104.6 66.2,105.9 67,107.3 67.7,108.5 68.5,109.4 69.5,110.6 71.7,112.6 73.9,114.2 76.1,116.0 78.3,118.0 80.5,120.1 82.7,122.1 84.9,124.1 87.1,126.0 89.3,127.8 91.5,128.2 93.7,128.0 95.9,127.8 98.1,127.6 100.3,127.4 102.5,127.2 104.7,127.1 106.9,127.1 109.1,127.2 111.3,127.2 113.5,127.0 115.7,126.6 117.9,125.7 120.1,125.0 122.3,125.4 124.5,125.9 126.7,126.5 128.9,127.0 131.1,127.6 133.3,128.4 135.5,129.1 137.7,129.8 139.9,130.5 142.1,131.1 144.3,131.6 146.5,132.2 148.7,132.7 150.9,133.2 153.1,133.8 155.3,134.3 157.5,134.8 159.7,135.3 161.9,135.7 164.1,136.2 166.3,136.7 168.5,137.4 170.7,138.3 172.9,139.2 175.1,140.0 177.3,140.8 179.5,141.4 181.7,141.9 183.9,142.4 186.1,142.9 188.3,143.4 190.5,144.0 192.7,144.7 194.9,145.2 197.1,145.7 199.3,146.0 201.5,146.1 203.7,146.1 205.9,146.3 208.1,146.7 210.3,147.1 212.5,147.4 214.7,147.6 216.9,147.7 219.1,147.8 221.3,148.0 223.5,148.3 225.7,148.5 227.9,148.6 230.1,148.5 232.3,148.3 234.5,148.2 236.7,148.1 238.9,148.0 241.1,148.0 243.3,148.0 245.5,147.9 247.7,147.9 249.9,148.0 252.1,148.1 254.3,148.3 256.5,148.5 258.7,148.7 260.9,148.9 263.1,148.9 265.3,148.7 267.5,148.4 269.7,148.1 271.9,147.8 274.1,147.8 276.3,147.9 278.5,148.3 280.7,148.6 282.9,148.9 285.1,149.0 287.3,148.9 289.5,148.7 291.7,148.4 293.9,148.2 296.1,148.2 298.3,148.2 300.5,148.4 302.7,148.6 304.9,148.8 307.1,148.9 309.3,148.9 311.5,148.9 312.1,148.7" fill="none" stroke="#1f77b4" stroke-width="0.60" stroke-opacity="0.40" stroke-dasharray="3,0.8,0.6,0.8" stroke-linecap="butt" stroke-linejoin="round"/>
<polyline points="58.5,31.0 59.3,75.5 60,89.4 60.8,100.3 61.6,108.6 62.3,112.5 63.1,114.5 63.9,115.5 64.7,115.8 65.4,117.0 66.2,118.5 67,120.1 67.7,121.5 68.5,122.6 69.5,124.1 71.7,126.7 73.9,128.8 76.1,130.8 78.3,133.0 80.5,135.2 82.7,137.3 84.9,139.4 87.1,141.3 89.3,143.1 91.5,144.0 93.7,144.4 95.9,144.9 98.1,145.4 100.3,146.0 102.5,146.6 104.7,147.3 106.9,148.0 109.1,148.8 111.3,149.7 113.5,150.5 115.7,151.3 117.9,151.7 120.1,152.1 122.3,152.0 124.5,151.9 126.7,151.9 128.9,151.8 131.1,151.7 133.3,151.7 135.5,151.6 137.7,151.4 139.9,151.3 142.1,151.2 144.3,151.2 146.5,151.3 148.7,151.4 150.9,151.3 153.1,151.2 155.3,151.3 157.5,151.5 159.7,151.9 161.9,152.2 164.1,152.4 166.3,152.5 168.5,152.5 170.7,152.6 172.9,152.7 175.1,152.9 177.3,153.1 179.5,153.1 181.7,153.0 183.9,152.8 186.1,152.7 188.3,152.7 190.5,152.6 192.7,152.4 194.9,151.9 197.1,151.3 199.3,150.7 201.5,150.3 203.7,150.1 205.9,150.0 208.1,149.9 210.3,150.0 212.5,150.1 214.7,150.1 216.9,150.1 219.1,150.1 221.3,149.9 223.5,149.6 225.7,149.2 227.9,148.9 230.1,148.7 232.3,148.7 234.5,148.7 236.7,148.9 238.9,149.0 241.1,149.2 243.3,149.3 245.5,149.2 247.7,149.1 249.9,149.0 252.1,149.1 254.3,149.3 256.5,149.6 258.7,149.8 260.9,149.8 263.1,149.6 265.3,149.2 267.5,148.8 269.7,148.6 271.9,148.5 274.1,148.7 276.3,148.9 278.5,149.3 280.7,149.6 282.9,149.9 285.1,150.0 287.3,150.0 289.5,149.9 291.7,149.9 293.9,149.8 296.1,150.0 298.3,150.1 300.5,150.3 302.7,150.4 304.9,150.5 307.1,150.7 309.3,150.7 311.5,150.7 313.1,150.7" fill="none" stroke="#1f77b4" stroke-width="0.60" stroke-opacity="0.40" stroke-dasharray="3,0.8,0.6,0.8" stroke-linecap="butt" stroke-linejoin="round"/>
<polyline points="58.5,31.0 59.3,72.4 60,83.3 60.8,92.9 61.6,99.9 62.3,103.4 63.1,105.2 63.9,106.0 64.7,106.0 65.4,107.1 66.2,108.5 67,109.9 67.7,111.1 68.5,112.1 69.5,113.4 71.7,115.5 73.9,117.0 76.1,117.9 78.3,118.4 80.5,119.0 82.7,119.6 84.9,120.2 87.1,120.7 89.3,121.0 91.5,121.8 93.7,122.9 95.9,124.0 98.1,125.2 100.3,126.2 102.5,127.2 104.7,128.1 106.9,129.1 109.1,130.1 111.3,131.3 113.5,132.6 115.7,133.8 117.9,134.8 120.1,135.8 122.3,136.0 124.5,136.2 126.7,136.2 128.9,136.0 131.1,135.9 133.3,135.8 135.5,135.8 137.7,135.9 139.9,136.1 142.1,136.3 144.3,136.6 146.5,136.8 148.7,136.9 150.9,137.1 153.1,137.2 155.3,137.4 157.5,137.7 159.7,137.9 161.9,138.1 164.1,138.2 166.3,138.4 168.5,138.6 170.7,138.9 172.9,139.3 175.1,139.6 177.3,140.0 179.5,140.2 181.7,140.5 183.9,140.9 186.1,141.3 188.3,141.6 190.5,141.7 192.7,141.5 194.9,141.2 197.1,141.1 199.3,141.1 201.5,141.5 203.7,141.9 205.9,142.3 208.1,142.5 210.3,142.6 212.5,142.7 214.7,142.7 216.9,142.8 219.1,142.8 221.3,142.8 223.5,142.7 225.7,142.6 227.9,142.6 230.1,142.7 232.3,142.8 234.5,142.8 236.7,142.9 238.9,143.1 241.1,143.2 243.3,143.2 245.5,143.1 247.7,143.0 249.9,142.9 252.1,142.9 254.3,143.0 256.5,143.0 258.7,142.9 260.9,142.8 263.1,142.7 265.3,142.9 267.5,143.3 269.7,143.7 271.9,144.2 274.1,144.7 276.3,145.1 278.5,145.6 280.7,146.0 282.9,146.3 285.1,146.4 287.3,146.5 289.5,146.6 291.7,146.6 293.9,146.7 296.1,146.8 298.3,146.9 300.5,147.2 302.7,147.5 304.9,147.7 307.1,147.8 309.3,147.8 311.5,148.0 313,148.2" fill="none" stroke="#1f77b4" stroke-width="0.60" stroke-opacity="0.40" stroke-dasharray="3,0.8,0.6,0.8" stroke-linecap="butt" stroke-linejoin="round"/>
<polyline points="58.5,31.0 59.3,76.6 60,92.3 60.8,105.4 61.6,116.0 62.3,122.4 63.1,127.0 63.9,130.6 64.7,133.5 65.4,135.8 66.2,137.4 67,138.9 67.7,140.3 68.5,141.4 69.5,142.8 71.7,145.4 73.9,147.5 76.1,148.8 78.3,149.5 80.5,150.2 82.7,150.7 84.9,151.2 87.1,151.5 89.3,151.8 91.5,152.0 93.7,152.2 95.9,152.5 98.1,152.7 100.3,152.9 102.5,153.1 104.7,153.5 106.9,153.8 109.1,154.3 111.3,154.9 113.5,155.4 115.7,155.8 117.9,155.7 120.1,155.5 122.3,155.5 124.5,155.7 126.7,155.9 128.9,156.2 131.1,156.4 133.3,156.8 135.5,157.1 137.7,157.5 139.9,157.9 142.1,158.3 144.3,158.7 146.5,158.9 148.7,159.2 150.9,159.4 153.1,159.8 155.3,160.4 157.5,161.1 159.7,161.7 161.9,162.0 164.1,162.2 166.3,162.3 168.5,162.3 170.7,162.3 172.9,162.4 175.1,162.6 177.3,162.7 179.5,162.8 181.7,162.7 183.9,162.6 186.1,162.6 188.3,162.7 190.5,162.8 192.7,162.9 194.9,163.0 197.1,163.0 199.3,162.9 201.5,162.8 203.7,162.8 205.9,162.9 208.1,163.1 210.3,163.3 212.5,163.4 214.7,163.3 216.9,163.0 219.1,162.6 221.3,162.3 223.5,162.2 225.7,162.0 227.9,161.9 230.1,161.7 232.3,161.5 234.5,161.5 236.7,161.5 238.9,161.4 241.1,161.2 243.3,161.0 245.5,160.9 247.7,160.8 249.9,160.8 252.1,160.7 254.3,160.6 256.5,160.7 258.7,160.8 260.9,160.9 263.1,160.9 265.3,160.9 267.5,160.9 269.7,160.8 271.9,160.8 274.1,160.7 276.3,160.6 278.5,160.7 280.7,160.7 282.9,160.7 285.1,160.6 287.3,160.3 289.5,160.0 291.7,159.7 293.9,159.5 296.1,159.4 298.3,159.4 300.5,159.3 302.7,159.2 304.9,159.1 307.1,159.0 309.3,159.1 311.5,159.2 312.3,159.5" fill="none" stroke="#1f77b4" stroke-width="0.60" stroke-opacity="0.40" stroke-dasharray="3,0.8,0.6,0.8" stroke-linecap="butt" stroke-linejoin="round"/>
<polyline points="58.5,31.0 59.3,77.1 60,89.6 60.8,94.6 61.6,97.1 62.3,102.7 63.1,108.0 63.9,112.3 64.7,115.8 65.4,117.7 66.2,117.9 67,118.1 67.7,118.1 68.5,117.9 69.5,117.6 71.7,116.2 73.9,114.3 76.1,113.6 78.3,114.4 80.5,115.1 82.7,115.6 84.9,116.0 87.1,116.3 89.3,116.9 91.5,118.4 93.7,120.5 95.9,122.6 98.1,124.6 100.3,126.5 102.5,128.3 104.7,130.0 106.9,131.9 109.1,133.8 111.3,135.9 113.5,137.9 115.7,139.6 117.9,141.0 120.1,142.2 122.3,142.1 124.5,141.9 126.7,141.9 128.9,142.0 131.1,142.3 133.3,142.7 135.5,143.2 137.7,143.6 139.9,144.0 142.1,144.4 144.3,144.8 146.5,145.1 148.7,145.3 150.9,145.5 153.1,145.6 155.3,145.8 157.5,145.9 159.7,145.9 161.9,145.9 164.1,146.0 166.3,145.9 168.5,145.7 170.7,145.5 172.9,145.5 175.1,145.6 177.3,145.7 179.5,145.8 181.7,145.9 183.9,145.8 186.1,145.8 188.3,145.7 190.5,145.7 192.7,145.7 194.9,145.8 197.1,145.9 199.3,146.1 201.5,146.3 203.7,146.5 205.9,146.7 208.1,146.7 210.3,146.7 212.5,146.7 214.7,146.6 216.9,146.6 219.1,146.6 221.3,146.8 223.5,146.9 225.7,146.9 227.9,146.7 230.1,146.5 232.3,146.5 234.5,146.5 236.7,146.6 238.9,146.7 241.1,146.8 243.3,146.9 245.5,147.0 247.7,147.1 249.9,147.1 252.1,147.1 254.3,147.2 256.5,147.3 258.7,147.6 260.9,147.8 263.1,147.9 265.3,147.9 267.5,147.8 269.7,147.8 271.9,147.9 274.1,148.0 276.3,148.2 278.5,148.5 280.7,148.7 282.9,148.9 285.1,149.1 287.3,149.3 289.5,149.5 291.7,149.6 293.9,149.8 296.1,150.1 298.3,150.4 300.5,150.6 302.7,150.7 304.9,150.7 307.1,150.7 309.3,150.8 311.5,150.9 312.8,150.9" fill="none" stroke="#1f77b4" stroke-width="0.60" stroke-opacity="0.40" stroke-dasharray="3,0.8,0.6,0.8" stroke-linecap="butt" stroke-linejoin="round"/>
<polyline points="58.5,31.0 59.3,78.3 60,95.1 60.8,107.7 61.6,117.7 62.3,122.8 63.1,125.9 63.9,128.0 64.7,129.4 65.4,131.0 66.2,132.4 67,133.7 67.7,134.9 68.5,135.7 69.5,136.8 71.7,138.5 73.9,139.7 76.1,139.6 78.3,138.6 80.5,137.7 82.7,136.7 84.9,136.1 87.1,135.5 89.3,135.1 91.5,135.7 93.7,136.7 95.9,137.6 98.1,138.6 100.3,139.5 102.5,140.4 104.7,141.2 106.9,141.8 109.1,142.5 111.3,143.3 113.5,144.3 115.7,145.5 117.9,146.5 120.1,147.3 122.3,147.6 124.5,147.8 126.7,147.8 128.9,147.9 131.1,148.0 133.3,148.2 135.5,148.3 137.7,148.4 139.9,148.6 142.1,148.8 144.3,149.0 146.5,149.2 148.7,149.3 150.9,149.3 153.1,149.3 155.3,149.2 157.5,149.3 159.7,149.4 161.9,149.7 164.1,150.0 166.3,150.3 168.5,150.4 170.7,150.5 172.9,150.6 175.1,150.8 177.3,150.9 179.5,150.9 181.7,151.0 183.9,151.2 186.1,151.4 188.3,151.6 190.5,151.7 192.7,151.6 194.9,151.4 197.1,151.3 199.3,151.3 201.5,151.5 203.7,151.7 205.9,151.9 208.1,152.1 210.3,152.3 212.5,152.6 214.7,152.6 216.9,152.6 219.1,152.6 221.3,152.5 223.5,152.5 225.7,152.4 227.9,152.4 230.1,152.4 232.3,152.4 234.5,152.4 236.7,152.3 238.9,152.1 241.1,151.9 243.3,151.8 245.5,151.7 247.7,151.6 249.9,151.6 252.1,151.6 254.3,151.5 256.5,151.4 258.7,151.5 260.9,151.5 263.1,151.6 265.3,151.8 267.5,152.0 269.7,152.2 271.9,152.3 274.1,152.2 276.3,152.1 278.5,151.9 280.7,151.9 282.9,151.9 285.1,152.1 287.3,152.3 289.5,152.6 291.7,152.8 293.9,153.0 296.1,153.3 298.3,153.6 300.5,154.0 302.7,154.4 304.9,154.7 307.1,154.8 309.3,154.7 311.5,154.4 313.1,154.2" fill="none" stroke="#1f77b4" stroke-width="0.60" stroke-opacity="0.40" stroke-dasharray="3,0.8,0.6,0.8" stroke-linecap="butt" stroke-linejoin="round"/>
<polyline points="58.5,31.0 59.3,76.1 60,89.1 60.8,97.0 61.6,102.3 62.3,107.2 63.1,111.1 63.9,113.9 64.7,116.0 65.4,117.8 66.2,118.9 67,119.9 67.7,120.8 68.5,121.4 69.5,122.3 71.7,123.4 73.9,124.1 76.1,124.4 78.3,124.7 80.5,125.1 82.7,125.4 84.9,125.6 87.1,125.7 89.3,125.6 91.5,126.0 93.7,126.7 95.9,127.5 98.1,128.4 100.3,129.3 102.5,130.3 104.7,131.1 106.9,131.9 109.1,132.8 111.3,133.7 113.5,134.7 115.7,135.8 117.9,136.6 120.1,137.4 122.3,137.7 124.5,137.7 126.7,137.7 128.9,137.6 131.1,137.5 133.3,137.6 135.5,137.8 137.7,138.0 139.9,138.3 142.1,138.5 144.3,138.8 146.5,139.1 148.7,139.4 150.9,139.6 153.1,139.8 155.3,140.1 157.5,140.3 159.7,140.5 161.9,140.5 164.1,140.4 166.3,140.4 168.5,140.4 170.7,140.7 172.9,141.0 175.1,141.5 177.3,141.8 179.5,142.2 181.7,142.3 183.9,142.3 186.1,142.1 188.3,141.8 190.5,141.5 192.7,141.4 194.9,141.5 197.1,141.7 199.3,141.8 201.5,142.0 203.7,142.2 205.9,142.4 208.1,142.6 210.3,142.8 212.5,143.1 214.7,143.3 216.9,143.5 219.1,143.8 221.3,144.0 223.5,144.0 225.7,144.1 227.9,144.2 230.1,144.3 232.3,144.4 234.5,144.3 236.7,144.1 238.9,143.9 241.1,144.0 243.3,144.4 245.5,144.9 247.7,145.5 249.9,146.0 252.1,146.5 254.3,146.9 256.5,147.3 258.7,147.5 260.9,147.7 263.1,147.9 265.3,148.2 267.5,148.4 269.7,148.6 271.9,148.8 274.1,148.9 276.3,149.0 278.5,149.0 280.7,149.0 282.9,149.0 285.1,149.0 287.3,149.1 289.5,149.2 291.7,149.2 293.9,149.2 296.1,149.2 298.3,149.3 300.5,149.4 302.7,149.6 304.9,149.9 307.1,150.3 309.3,150.5 311.5,150.7 311.8,150.6" fill="none" stroke="#1f77b4" stroke-width="0.60" stroke-opacity="0.40" stroke-dasharray="3,0.8,0.6,0.8" stroke-linecap="butt" stroke-linejoin="round"/>
<polyline points="58.5,31.0 59.3,72.1 60,82.5 60.8,91.4 61.6,97.7 62.3,100.9 63.1,102.4 63.9,103.0 64.7,102.8 65.4,103.9 66.2,105.8 67,107.6 67.7,109.3 68.5,110.8 69.5,112.6 71.7,116.0 73.9,118.9 76.1,120.8 78.3,122.0 80.5,123.2 82.7,124.3 84.9,125.6 87.1,126.9 89.3,128.4 91.5,128.9 93.7,128.8 95.9,128.7 98.1,128.7 100.3,128.7 102.5,128.8 104.7,128.9 106.9,128.9 109.1,129.0 111.3,129.2 113.5,129.4 115.7,129.4 117.9,129.0 120.1,128.6 122.3,128.8 124.5,129.2 126.7,129.8 128.9,130.4 131.1,130.9 133.3,131.5 135.5,132.0 137.7,132.4 139.9,132.7 142.1,132.9 144.3,133.2 146.5,133.5 148.7,133.9 150.9,134.3 153.1,134.8 155.3,135.1 157.5,135.4 159.7,135.7 161.9,136.0 164.1,136.4 166.3,136.8 168.5,137.2 170.7,137.6 172.9,138.0 175.1,138.5 177.3,138.8 179.5,139.0 181.7,139.0 183.9,139.0 186.1,139.0 188.3,139.2 190.5,139.6 192.7,140.0 194.9,140.3 197.1,140.4 199.3,140.4 201.5,140.3 203.7,140.2 205.9,140.0 208.1,139.9 210.3,140.0 212.5,140.2 214.7,140.4 216.9,140.5 219.1,140.6 221.3,140.6 223.5,140.7 225.7,140.8 227.9,141.0 230.1,141.3 232.3,141.4 234.5,141.5 236.7,141.4 238.9,141.4 241.1,141.3 243.3,141.4 245.5,141.5 247.7,141.7 249.9,142.0 252.1,142.3 254.3,142.7 256.5,143.1 258.7,143.3 260.9,143.6 263.1,143.7 265.3,143.7 267.5,143.7 269.7,143.6 271.9,143.6 274.1,143.6 276.3,143.7 278.5,143.7 280.7,143.8 282.9,144.0 285.1,144.2 287.3,144.5 289.5,144.8 291.7,145.0 293.9,145.1 296.1,145.1 298.3,145.0 300.5,144.9 302.7,144.8 304.9,144.7 307.1,144.5 309.3,144.5 311.5,144.6 312.3,144.7" fill="none" stroke="#1f77b4" stroke-width="0.60" stroke-opacity="0.40" stroke-dasharray="3,0.8,0.6,0.8" stroke-linecap="butt" stroke-linejoin="round"/>
<polyline points="58.5,31.0 59.3,76.5 60,91.1 60.8,101.9 61.6,110.1 62.3,114.5 63.1,117.2 63.9,118.8 64.7,119.7 65.4,121.1 66.2,122.5 67,123.8 67.7,125.0 68.5,126.0 69.5,127.3 71.7,129.3 73.9,130.9 76.1,131.6 78.3,131.9 80.5,132.5 82.7,133.9 84.9,135.4 87.1,136.8 89.3,138.1 91.5,139.3 93.7,140.4 95.9,141.5 98.1,142.7 100.3,144.0 102.5,145.3 104.7,146.7 106.9,148.2 109.1,149.6 111.3,150.9 113.5,152.1 115.7,152.9 117.9,153.4 120.1,153.8 122.3,153.6 124.5,153.6 126.7,153.8 128.9,153.9 131.1,153.9 133.3,153.8 135.5,153.7 137.7,153.5 139.9,153.4 142.1,153.2 144.3,153.1 146.5,153.0 148.7,152.8 150.9,152.5 153.1,152.2 155.3,151.8 157.5,151.6 159.7,151.6 161.9,151.6 164.1,151.5 166.3,151.4 168.5,151.1 170.7,150.8 172.9,150.6 175.1,150.5 177.3,150.4 179.5,150.3 181.7,150.1 183.9,149.8 186.1,149.6 188.3,149.4 190.5,149.3 192.7,149.3 194.9,149.2 197.1,149.1 199.3,148.8 201.5,148.8 203.7,149.0 205.9,149.3 208.1,149.6 210.3,149.8 212.5,150.0 214.7,150.1 216.9,150.1 219.1,150.2 221.3,150.2 223.5,150.2 225.7,150.2 227.9,150.3 230.1,150.5 232.3,150.9 234.5,151.2 236.7,151.4 238.9,151.6 241.1,151.7 243.3,151.8 245.5,151.7 247.7,151.6 249.9,151.4 252.1,151.3 254.3,151.0 256.5,150.8 258.7,150.6 260.9,150.5 263.1,150.6 265.3,150.6 267.5,150.7 269.7,150.8 271.9,151.0 274.1,151.3 276.3,151.5 278.5,151.7 280.7,151.7 282.9,151.7 285.1,151.9 287.3,152.1 289.5,152.5 291.7,152.7 293.9,152.8 296.1,152.7 298.3,152.5 300.5,152.5 302.7,152.7 304.9,153.0 307.1,153.3 309.3,153.6 311.5,153.9 311.6,154.0" fill="none" stroke="#1f77b4" stroke-width="0.60" stroke-opacity="0.40" stroke-dasharray="3,0.8,0.6,0.8" stroke-linecap="butt" stroke-linejoin="round"/>
<polyline points="58.5,31.0 59.3,73.1 60,82.8 60.8,88.5 61.6,91.6 62.3,97.2 63.1,102.2 63.9,106.3 64.7,109.7 65.4,111.8 66.2,112.6 67,113.4 67.7,114.1 68.5,114.5 69.5,115.1 71.7,115.6 73.9,115.7 76.1,116.4 78.3,118.0 80.5,119.7 82.7,121.4 84.9,123.1 87.1,124.8 89.3,126.4 91.5,127.0 93.7,127.2 95.9,127.3 98.1,127.3 100.3,127.4 102.5,127.6 104.7,128.0 106.9,128.5 109.1,129.0 111.3,129.6 113.5,130.2 115.7,130.5 117.9,130.4 120.1,130.1 122.3,130.1 124.5,130.2 126.7,130.4 128.9,130.8 131.1,131.2 133.3,131.8 135.5,132.3 137.7,132.8 139.9,133.1 142.1,133.2 144.3,133.3 146.5,133.5 148.7,133.8 150.9,134.2 153.1,134.7 155.3,135.2 157.5,135.7 159.7,136.2 161.9,136.6 164.1,136.8 166.3,136.7 168.5,136.6 170.7,136.4 172.9,136.4 175.1,136.6 177.3,136.8 179.5,137.2 181.7,137.4 183.9,137.6 186.1,137.7 188.3,137.7 190.5,137.6 192.7,137.7 194.9,137.8 197.1,137.9 199.3,138.0 201.5,138.2 203.7,138.3 205.9,138.4 208.1,138.5 210.3,138.6 212.5,138.7 214.7,138.6 216.9,138.7 219.1,138.8 221.3,139.1 223.5,139.4 225.7,139.6 227.9,139.7 230.1,139.7 232.3,139.6 234.5,139.6 236.7,139.7 238.9,139.9 241.1,140.1 243.3,140.3 245.5,140.4 247.7,140.5 249.9,140.5 252.1,140.5 254.3,140.4 256.5,140.4 258.7,140.4 260.9,140.5 263.1,140.6 265.3,140.8 267.5,141.0 269.7,141.1 271.9,141.2 274.1,141.2 276.3,141.3 278.5,141.5 280.7,141.7 282.9,142.0 285.1,142.4 287.3,142.8 289.5,143.1 291.7,143.3 293.9,143.5 296.1,143.6 298.3,143.7 300.5,143.7 302.7,143.6 304.9,143.5 307.1,143.5 309.3,143.6 311.5,143.8 313.1,144.0" fill="none" stroke="#1f77b4" stroke-width="0.60" stroke-opacity="0.40" stroke-dasharray="3,0.8,0.6,0.8" stroke-linecap="butt" stroke-linejoin="round"/>
<polyline points="58.5,31.0 59.3,72.5 60,83.6 60.8,93.1 61.6,100.0 62.3,104.1 63.1,106.6 63.9,108.2 64.7,109.0 65.4,110.7 66.2,112.5 67,114.3 67.7,116.0 68.5,117.5 69.5,119.3 71.7,122.8 73.9,125.8 76.1,126.8 78.3,126.2 80.5,125.5 82.7,124.9 84.9,124.2 87.1,123.3 89.3,122.3 91.5,122.5 93.7,123.3 95.9,124.1 98.1,124.8 100.3,125.4 102.5,126.1 104.7,126.9 106.9,127.7 109.1,128.5 111.3,129.3 113.5,130.0 115.7,130.6 117.9,131.0 120.1,131.3 122.3,131.4 124.5,131.4 126.7,131.4 128.9,131.4 131.1,131.5 133.3,131.7 135.5,132.0 137.7,132.3 139.9,132.5 142.1,132.8 144.3,133.0 146.5,133.2 148.7,133.5 150.9,133.7 153.1,134.0 155.3,134.3 157.5,134.5 159.7,134.7 161.9,134.9 164.1,135.2 166.3,135.5 168.5,135.7 170.7,136.0 172.9,136.3 175.1,136.6 177.3,136.8 179.5,137.2 181.7,137.5 183.9,137.7 186.1,137.7 188.3,137.6 190.5,137.5 192.7,137.5 194.9,137.6 197.1,137.7 199.3,137.8 201.5,137.9 203.7,137.9 205.9,138.1 208.1,138.3 210.3,138.7 212.5,139.2 214.7,139.7 216.9,140.2 219.1,140.6 221.3,140.8 223.5,140.8 225.7,140.6 227.9,140.5 230.1,140.5 232.3,140.5 234.5,140.7 236.7,140.9 238.9,141.0 241.1,141.0 243.3,141.0 245.5,141.0 247.7,141.1 249.9,141.1 252.1,141.2 254.3,141.2 256.5,141.2 258.7,141.4 260.9,141.7 263.1,142.1 265.3,142.3 267.5,142.2 269.7,142.0 271.9,141.7 274.1,141.5 276.3,141.5 278.5,141.6 280.7,141.8 282.9,142.0 285.1,142.1 287.3,142.2 289.5,142.3 291.7,142.4 293.9,142.8 296.1,143.2 298.3,143.6 300.5,143.9 302.7,144.0 304.9,144.1 307.1,144.2 309.3,144.3 311.5,144.4 312.9,144.5" fill="none" stroke="#1f77b4" stroke-width="0.60" stroke-opacity="0.40" stroke-dasharray="3,0.8,0.6,0.8" stroke-linecap="butt" stroke-linejoin="round"/>
<polyline points="58.5,31.0 59.3,73.1 60,84.4 60.8,93.4 61.6,99.9 62.3,103.2 63.1,104.8 63.9,105.3 64.7,105.2 65.4,106.0 66.2,107.3 67,108.5 67.7,109.6 68.5,110.4 69.5,111.5 71.7,113.1 73.9,114.3 76.1,115.2 78.3,116.1 80.5,117.1 82.7,118.0 84.9,118.8 87.1,119.5 89.3,120.2 91.5,121.0 93.7,121.8 95.9,122.4 98.1,123.0 100.3,123.6 102.5,124.3 104.7,124.9 106.9,125.7 109.1,126.5 111.3,127.5 113.5,128.5 115.7,129.5 117.9,130.0 120.1,130.3 122.3,130.6 124.5,130.7 126.7,130.8 128.9,130.9 131.1,131.0 133.3,131.3 135.5,131.7 137.7,132.2 139.9,132.8 142.1,133.4 144.3,134.0 146.5,134.4 148.7,134.9 150.9,135.3 153.1,135.6 155.3,136.0 157.5,136.4 159.7,136.7 161.9,136.9 164.1,137.0 166.3,137.1 168.5,137.2 170.7,137.5 172.9,138.0 175.1,138.4 177.3,138.7 179.5,138.9 181.7,139.2 183.9,139.6 186.1,140.1 188.3,140.5 190.5,140.8 192.7,141.0 194.9,141.3 197.1,141.5 199.3,141.8 201.5,141.9 203.7,142.0 205.9,142.1 208.1,142.2 210.3,142.2 212.5,142.3 214.7,142.5 216.9,142.8 219.1,143.1 221.3,143.3 223.5,143.4 225.7,143.6 227.9,143.7 230.1,144.0 232.3,144.2 234.5,144.4 236.7,144.6 238.9,144.9 241.1,145.3 243.3,145.8 245.5,146.2 247.7,146.5 249.9,146.7 252.1,146.7 254.3,146.8 256.5,146.9 258.7,147.2 260.9,147.6 263.1,148.0 265.3,148.2 267.5,148.2 269.7,148.3 271.9,148.4 274.1,148.4 276.3,148.4 278.5,148.4 280.7,148.4 282.9,148.6 285.1,148.9 287.3,149.3 289.5,149.7 291.7,149.9 293.9,149.9 296.1,150.0 298.3,150.3 300.5,150.7 302.7,151.2 304.9,151.7 307.1,152.2 309.3,152.6 311.5,152.7 312.4,152.7" fill="none" stroke="#1f77b4" stroke-width="0.60" stroke-opacity="0.40" stroke-dasharray="3,0.8,0.6,0.8" stroke-linecap="butt" stroke-linejoin="round"/>
<polyline points="58.9,31.0 61.8,66.5 62.5,82.3 63.2,90.5 63.9,95.9 64.6,100.8 65.3,104.5 66.1,108.0 66.7,110.8 67.3,113.4 67.9,115.6 68.5,116.9 69.1,118.2 69.8,119.2 70.7,120.4 72.6,122.9 74.5,125.4 76.6,126.5 78.7,127.1 80.9,127.4 83.1,128.5 85.3,130.1 87.5,130.4 89.7,130.4 91.9,130.5 94.1,130.9 96.3,131.2 98.5,131.2 100.7,131.2 102.9,132.2 105.1,133.1 107.3,134.3 109.5,135.7 111.7,137.1 113.9,138.3 116.1,139.2 118.3,139.9 120.5,140.8 122.7,141.6 124.9,142.2 127.1,142.3 129.3,142.2 131.5,142.0 133.7,141.9 135.9,142.3 138.1,143.2 140.3,144.3 142.5,145.1 144.7,145.6 146.9,146.0 149.1,146.5 151.3,147.5 153.5,148.8 155.7,150.3 157.9,151.7 160.1,153.0 162.3,153.8 164.5,154.5 166.7,155.0 168.9,155.2 171.1,155.4 173.3,155.6 175.5,156.0 177.7,156.6 179.9,157.6 182.1,158.4 184.3,159.0 186.5,160.0 188.7,161.1 190.9,162.2 193.1,162.9 195.3,163.1 197.5,162.2 199.7,161.0 201.9,161.6 204.1,162.1 206.3,161.3 208.5,160.4 210.7,159.8 212.9,159.3 215.1,158.9 217.3,158.6 219.5,158.1 221.7,157.7 223.9,156.9 226.1,156.7 228.3,158.2 230.5,159.8 232.7,163.6 234.9,165.8 237.1,167.8 239.3,169.6 241.5,171.0 243.7,170.9 245.9,170.3 248.1,169.9 250.3,169.8 252.5,169.5 254.7,168.1 256.9,166.8 259.1,166.1 261.3,165.7 263.5,165.4 265.7,165.1 267.9,165.0 270.1,163.4 272.3,161.4 274.5,159.3 276.7,157.9 278.9,156.9 281.1,155.8 283.3,155.2 285.5,155.6 287.7,156.4 289.9,157.7 292.1,158.7 294.3,159.2 296.5,159.2 298.7,159.0 300.9,156.6 303.1,154.0 305.3,153.0 307.5,153.3 309.7,153.8 311.9,154.8 312.1,154.6" fill="none" stroke="#2ca02c" stroke-width="0.60" stroke-opacity="0.40" stroke-dasharray="0.8,0.7" stroke-linecap="butt" stroke-linejoin="round"/>
<polyline points="58.9,30.9 61.1,66.5 61.8,82.2 62.5,90.4 63.3,95.7 64,100.6 64.7,104.3 65.5,107.8 66.1,110.6 66.8,113.2 67.4,115.1 68.1,116.0 68.8,116.9 69.5,117.6 70.4,118.4 72.4,120.4 74.5,125.1 76.6,128.8 78.7,132.2 80.9,135.1 83.1,138.3 85.3,141.2 87.5,142.0 89.7,142.0 91.9,141.8 94.1,141.8 96.3,142.1 98.5,142.7 100.7,143.7 102.9,144.8 105.1,145.5 107.3,146.1 109.5,146.9 111.7,147.8 113.9,149.0 116.1,149.8 118.3,150.5 120.5,151.1 122.7,151.6 124.9,152.2 127.1,152.8 129.3,153.4 131.5,154.0 133.7,154.4 135.9,154.7 138.1,155.2 140.3,155.8 142.5,156.2 144.7,156.2 146.9,155.7 149.1,154.9 151.3,154.2 153.5,153.7 155.7,153.7 157.9,153.9 160.1,154.3 162.3,154.8 164.5,155.6 166.7,156.7 168.9,157.8 171.1,158.8 173.3,159.5 175.5,160.0 177.7,160.3 179.9,160.6 182.1,160.3 184.3,160.0 186.5,160.1 188.7,160.7 190.9,161.4 193.1,161.5 195.3,161.0 197.5,160.3 199.7,159.7 201.9,159.2 204.1,158.2 206.3,156.9 208.5,155.7 210.7,154.9 212.9,154.3 215.1,154.4 217.3,155.5 219.5,157.2 221.7,158.6 223.9,158.2 226.1,156.9 228.3,156.1 230.5,155.4 232.7,157.5 234.9,158.7 237.1,159.7 239.3,160.5 241.5,161.2 243.7,160.6 245.9,159.9 248.1,159.9 250.3,160.4 252.5,160.9 254.7,160.4 256.9,160.1 259.1,160.4 261.3,160.8 263.5,160.8 265.7,160.4 267.9,159.6 270.1,157.3 272.3,154.9 274.5,152.6 276.7,151.1 278.9,149.7 281.1,148.1 283.3,146.8 285.5,146.6 287.7,147.0 289.9,147.8 292.1,148.7 294.3,149.4 296.5,149.9 298.7,150.3 300.9,148.6 303.1,146.8 305.3,146.5 307.5,147.0 309.7,147.2 311.9,147.7 312.4,147.5" fill="none" stroke="#2ca02c" stroke-width="0.60" stroke-opacity="0.40" stroke-dasharray="0.8,0.7" stroke-linecap="butt" stroke-linejoin="round"/>
<polyline points="58.9,31.0 60.1,66.9 60.9,82.9 61.7,91.5 62.4,97.2 63.2,102.4 63.9,105.2 64.7,107.9 65.4,109.9 66.1,111.7 66.9,113.7 67.6,115.0 68.4,116.3 69.1,117.5 70.1,118.9 72.2,121.8 74.4,126.2 76.5,129.3 78.7,132.1 80.9,134.3 83.1,136.9 85.3,139.6 87.5,141.9 89.7,143.9 91.9,145.5 94.1,147.0 96.3,148.6 98.5,150.7 100.7,152.9 102.9,154.4 105.1,155.1 107.3,155.7 109.5,156.8 111.7,158.4 113.9,160.1 116.1,161.3 118.3,161.6 120.5,161.2 122.7,160.5 124.9,160.2 127.1,160.4 129.3,161.4 131.5,162.8 133.7,164.2 135.9,165.2 138.1,165.7 140.3,165.8 142.5,165.6 144.7,165.6 146.9,165.7 149.1,166.2 151.3,166.7 153.5,167.3 155.7,168.0 157.9,168.8 160.1,169.3 162.3,169.5 164.5,169.3 166.7,169.2 168.9,169.5 171.1,170.1 173.3,171.0 175.5,171.6 177.7,171.8 179.9,171.7 182.1,171.2 184.3,170.8 186.5,170.6 188.7,170.6 190.9,170.4 193.1,170.0 195.3,169.6 197.5,169.5 199.7,169.3 201.9,168.6 204.1,167.1 206.3,165.3 208.5,163.6 210.7,162.6 212.9,161.9 215.1,161.8 217.3,162.6 219.5,163.8 221.7,164.8 223.9,164.3 226.1,163.1 228.3,163.0 230.5,163.5 232.7,166.9 234.9,168.6 237.1,169.5 239.3,169.8 241.5,169.9 243.7,169.1 245.9,168.8 248.1,169.3 250.3,170.3 252.5,171.2 254.7,171.0 256.9,170.6 259.1,170.5 261.3,170.2 263.5,169.7 265.7,169.0 267.9,168.4 270.1,166.7 272.3,165.0 274.5,163.5 276.7,162.5 278.9,161.5 281.1,160.1 283.3,159.3 285.5,159.8 287.7,161.0 289.9,162.5 292.1,163.7 294.3,164.5 296.5,165.0 298.7,165.5 300.9,164.0 303.1,162.5 305.3,162.7 307.5,164.1 309.7,165.6 311.9,167.3 312.9,167.8" fill="none" stroke="#2ca02c" stroke-width="0.60" stroke-opacity="0.40" stroke-dasharray="0.8,0.7" stroke-linecap="butt" stroke-linejoin="round"/>
<polyline points="58.9,31.0 61.6,66.8 62.3,82.7 63,91.1 63.7,96.7 64.4,101.9 65.2,105.1 65.9,108.3 66.5,110.8 67.1,113.0 67.7,115.3 68.4,116.8 69.1,118.3 69.7,119.8 70.6,121.6 72.5,125.6 74.5,131.5 76.6,136.4 78.7,140.9 80.9,144.7 83.1,148.6 85.3,152.2 87.5,153.0 89.7,153.4 91.9,153.6 94.1,153.8 96.3,154.1 98.5,154.5 100.7,155.2 102.9,156.2 105.1,156.8 107.3,157.1 109.5,157.2 111.7,157.2 113.9,157.1 116.1,157.0 118.3,157.1 120.5,157.6 122.7,158.2 124.9,158.9 127.1,159.4 129.3,159.6 131.5,159.6 133.7,159.4 135.9,159.2 138.1,159.2 140.3,159.1 142.5,158.7 144.7,158.1 146.9,157.3 149.1,156.8 151.3,157.0 153.5,157.7 155.7,158.6 157.9,159.4 160.1,160.0 162.3,160.3 164.5,160.4 166.7,160.2 168.9,160.1 171.1,160.5 173.3,161.4 175.5,162.4 177.7,163.2 179.9,163.6 182.1,163.4 184.3,162.8 186.5,162.1 188.7,161.2 190.9,160.3 193.1,159.2 195.3,158.1 197.5,157.3 199.7,156.6 201.9,156.0 204.1,155.1 206.3,154.0 208.5,153.0 210.7,152.6 212.9,152.3 215.1,152.3 217.3,152.9 219.5,153.3 221.7,153.3 223.9,152.3 226.1,151.3 228.3,151.9 230.5,153.0 232.7,156.7 234.9,159.0 237.1,160.6 239.3,161.7 241.5,162.6 243.7,162.4 245.9,162.4 248.1,163.0 250.3,163.9 252.5,164.3 254.7,163.5 256.9,162.7 259.1,162.8 261.3,163.1 263.5,163.1 265.7,162.9 267.9,162.7 270.1,161.4 272.3,160.1 274.5,159.1 276.7,158.7 278.9,158.3 281.1,157.5 283.3,156.7 285.5,156.9 287.7,157.7 289.9,158.7 292.1,159.3 294.3,157.9 296.5,151.5 298.7,149.4 300.9,155.3 303.1,157.9 305.3,158.8 307.5,160.7 309.7,162.8 311.9,165.1 312.6,166.1" fill="none" stroke="#2ca02c" stroke-width="0.60" stroke-opacity="0.40" stroke-dasharray="0.8,0.7" stroke-linecap="butt" stroke-linejoin="round"/>
<polyline points="58.9,30.9 60.2,66.4 60.9,82.1 61.7,90.3 62.5,95.6 63.2,100.5 64,104.1 64.7,107.5 65.5,110.4 66.2,113.0 66.9,115.7 67.6,117.5 68.4,119.3 69.1,121.0 70.1,123.1 72.2,127.8 74.4,132.7 76.5,136.3 78.7,139.2 80.9,141.3 83.1,143.5 85.3,145.3 87.5,144.3 89.7,142.8 91.9,141.4 94.1,140.4 96.3,139.8 98.5,139.7 100.7,140.4 102.9,142.1 105.1,143.7 107.3,145.0 109.5,146.1 111.7,146.9 113.9,147.6 116.1,147.8 118.3,147.7 120.5,147.7 122.7,147.9 124.9,148.7 127.1,149.9 129.3,151.5 131.5,152.8 133.7,153.4 135.9,153.5 138.1,153.4 140.3,153.7 142.5,154.2 144.7,155.0 146.9,155.7 149.1,156.3 151.3,156.5 153.5,156.6 155.7,156.9 157.9,157.7 160.1,158.8 162.3,160.3 164.5,161.6 166.7,162.7 168.9,163.1 171.1,162.8 173.3,163.4 175.5,165.5 177.7,166.9 179.9,161.9 182.1,161.2 184.3,170.1 186.5,172.6 188.7,173.6 190.9,174.5 193.1,175.3 195.3,176.1 197.5,177.0 199.7,177.8 201.9,177.9 204.1,177.3 206.3,176.5 208.5,175.9 210.7,175.5 212.9,174.9 215.1,174.1 217.3,173.6 219.5,173.4 221.7,173.4 223.9,172.7 226.1,171.6 228.3,171.1 230.5,170.5 232.7,172.5 234.9,173.6 237.1,174.9 239.3,176.2 241.5,177.0 243.7,176.1 245.9,174.9 248.1,174.2 250.3,174.6 252.5,175.5 254.7,175.7 256.9,175.8 259.1,176.0 261.3,175.8 263.5,175.0 265.7,173.6 267.9,172.1 270.1,169.5 272.3,167.1 274.5,165.2 276.7,164.2 278.9,163.3 281.1,162.1 283.3,161.0 285.5,160.7 287.7,161.0 289.9,162.0 292.1,163.1 294.3,164.4 296.5,165.7 298.7,166.7 300.9,165.4 303.1,163.3 305.3,162.3 307.5,162.0 309.7,161.5 311.9,161.5 312.2,160.5" fill="none" stroke="#2ca02c" stroke-width="0.60" stroke-opacity="0.40" stroke-dasharray="0.8,0.7" stroke-linecap="butt" stroke-linejoin="round"/>
<polyline points="58.9,31.0 60.6,66.8 61.3,82.7 62,91.2 62.8,96.7 63.5,101.9 64.3,105.3 65,108.7 65.7,111.5 66.4,114.0 67.1,116.2 67.8,117.5 68.6,118.9 69.3,120.3 70.2,122.0 72.3,125.7 74.4,130.5 76.5,134.1 78.7,137.1 80.9,139.6 83.1,142.2 85.3,144.6 87.5,146.9 89.7,148.5 91.9,150.1 94.1,151.8 96.3,153.3 98.5,154.7 100.7,156.0 102.9,156.6 105.1,157.0 107.3,157.2 109.5,157.4 111.7,157.5 113.9,157.9 116.1,158.2 118.3,158.6 120.5,159.3 122.7,160.1 124.9,160.9 127.1,161.2 129.3,161.1 131.5,161.0 133.7,160.8 135.9,160.5 138.1,160.2 140.3,159.8 142.5,159.5 144.7,159.6 146.9,159.8 149.1,159.8 151.3,159.4 153.5,158.8 155.7,158.4 157.9,158.4 160.1,159.0 162.3,159.8 164.5,160.6 166.7,161.0 168.9,161.0 171.1,161.2 173.3,161.7 175.5,162.2 177.7,162.8 179.9,163.3 182.1,163.3 184.3,163.0 186.5,162.9 188.7,163.1 190.9,163.4 193.1,163.6 195.3,163.6 197.5,163.0 199.7,162.0 201.9,160.6 204.1,159.3 206.3,158.7 208.5,158.7 210.7,159.0 212.9,158.6 215.1,157.5 217.3,156.5 219.5,155.6 221.7,154.9 223.9,153.4 226.1,151.7 228.3,151.0 230.5,150.7 232.7,153.4 234.9,155.5 237.1,157.4 239.3,158.7 241.5,159.4 243.7,158.4 245.9,157.4 248.1,157.4 250.3,158.3 252.5,159.3 254.7,159.3 256.9,159.2 259.1,159.8 261.3,160.6 263.5,161.1 265.7,161.0 267.9,160.4 270.1,158.4 272.3,156.4 274.5,154.7 276.7,153.5 278.9,152.6 281.1,151.8 283.3,151.8 285.5,152.8 287.7,153.7 289.9,154.4 292.1,155.0 294.3,155.7 296.5,156.5 298.7,157.1 300.9,155.3 303.1,153.2 305.3,152.9 307.5,154.2 309.7,155.9 311.9,158.0 312,158.7" fill="none" stroke="#2ca02c" stroke-width="0.60" stroke-opacity="0.40" stroke-dasharray="0.8,0.7" stroke-linecap="butt" stroke-linejoin="round"/>
<polyline points="58.9,31.0 61.1,66.6 61.8,82.4 62.5,90.7 63.3,96.1 64,101.1 64.7,103.9 65.5,106.6 66.2,108.6 66.8,110.5 67.4,112.8 68.1,114.6 68.8,116.4 69.5,118.1 70.4,120.3 72.4,125.0 74.5,128.7 76.6,130.6 78.7,131.6 80.9,132.0 83.1,132.7 85.3,133.8 87.5,135.3 89.7,136.6 91.9,138.1 94.1,139.9 96.3,142.1 98.5,144.6 100.7,147.0 102.9,148.6 105.1,149.5 107.3,150.0 109.5,150.3 111.7,150.5 113.9,151.0 116.1,151.6 118.3,152.6 120.5,154.0 122.7,155.3 124.9,156.4 127.1,157.1 129.3,157.7 131.5,158.2 133.7,158.9 135.9,159.5 138.1,159.9 140.3,160.2 142.5,160.3 144.7,160.1 146.9,159.8 149.1,159.6 151.3,159.6 153.5,160.0 155.7,160.7 157.9,161.3 160.1,161.8 162.3,162.0 164.5,162.0 166.7,161.9 168.9,161.9 171.1,162.3 173.3,162.9 175.5,163.6 177.7,164.3 179.9,165.2 182.1,165.9 184.3,166.6 186.5,164.5 188.7,160.7 190.9,167.1 193.1,169.6 195.3,169.5 197.5,169.2 199.7,169.0 201.9,168.5 204.1,167.3 206.3,165.6 208.5,163.7 210.7,162.5 212.9,161.8 215.1,161.8 217.3,162.6 219.5,163.5 221.7,164.3 223.9,163.9 226.1,163.2 228.3,163.6 230.5,164.2 232.7,167.2 234.9,168.8 237.1,170.0 239.3,171.0 241.5,172.2 243.7,172.7 245.9,173.4 248.1,174.6 250.3,175.8 252.5,176.6 254.7,176.3 256.9,176.0 259.1,176.3 261.3,176.5 263.5,176.2 265.7,175.5 267.9,174.6 270.1,172.7 272.3,171.4 274.5,171.1 276.7,172.0 278.9,172.9 281.1,172.7 283.3,171.6 285.5,170.3 287.7,169.0 289.9,168.2 292.1,169.3 294.3,171.9 296.5,174.0 298.7,175.7 300.9,174.8 303.1,173.6 305.3,173.9 307.5,175.4 309.7,176.8 311.9,178.2 312,178.0" fill="none" stroke="#2ca02c" stroke-width="0.60" stroke-opacity="0.40" stroke-dasharray="0.8,0.7" stroke-linecap="butt" stroke-linejoin="round"/>
<polyline points="58.9,31.0 60.3,66.7 61.1,82.5 61.8,90.9 62.6,96.4 63.3,101.4 64.1,104.5 64.8,107.5 65.6,109.7 66.3,111.6 67,114.0 67.7,115.7 68.4,117.5 69.2,119.2 70.1,121.3 72.2,125.5 74.4,126.8 76.5,126.7 78.7,126.1 80.9,125.2 83.1,124.9 85.3,125.5 87.5,129.0 89.7,132.2 91.9,135.1 94.1,138.0 96.3,141.3 98.5,144.9 100.7,148.1 102.9,149.9 105.1,151.3 107.3,152.6 109.5,153.8 111.7,154.9 113.9,156.3 116.1,157.7 118.3,159.1 120.5,160.3 122.7,160.8 124.9,160.7 127.1,160.4 129.3,160.7 131.5,161.7 133.7,163.3 135.9,164.8 138.1,166.2 140.3,167.4 142.5,168.4 144.7,169.1 146.9,169.4 149.1,169.4 151.3,169.3 153.5,169.4 155.7,169.5 157.9,169.5 160.1,169.5 162.3,169.6 164.5,170.4 166.7,171.6 168.9,172.9 171.1,174.2 173.3,175.5 175.5,176.6 177.7,177.8 179.9,178.9 182.1,179.4 184.3,179.0 186.5,178.1 188.7,176.9 190.9,175.7 193.1,174.6 195.3,173.7 197.5,173.0 199.7,172.3 201.9,171.3 204.1,170.0 206.3,169.0 208.5,168.6 210.7,168.9 212.9,168.8 215.1,168.2 217.3,167.8 219.5,167.7 221.7,168.1 223.9,168.0 226.1,167.8 228.3,168.3 230.5,168.3 232.7,170.2 234.9,170.5 237.1,170.7 239.3,171.3 241.5,172.1 243.7,171.9 245.9,171.8 248.1,172.2 250.3,172.9 252.5,173.3 254.7,172.9 256.9,172.6 259.1,173.1 261.3,173.9 263.5,174.4 265.7,174.4 267.9,174.0 270.1,172.1 272.3,170.0 274.5,168.2 276.7,167.5 278.9,167.1 281.1,166.4 283.3,165.7 285.5,165.4 287.7,165.4 289.9,166.0 292.1,167.0 294.3,168.6 296.5,170.4 298.7,172.1 300.9,171.3 303.1,169.6 305.3,168.8 307.5,168.8 309.7,168.6 311.8,168.6" fill="none" stroke="#2ca02c" stroke-width="0.60" stroke-opacity="0.40" stroke-dasharray="0.8,0.7" stroke-linecap="butt" stroke-linejoin="round"/>
<polyline points="58.9,30.9 62.5,66.4 63.2,81.9 63.9,90.0 64.6,95.2 65.3,100.0 66,102.8 66.7,105.5 67.3,107.5 67.8,109.2 68.3,111.5 68.9,113.0 69.5,114.6 70.1,116.0 70.9,117.7 72.7,121.4 74.6,123.9 76.6,125.1 78.7,125.7 80.9,125.7 83.1,126.3 85.3,127.6 87.5,129.1 89.7,130.6 91.9,131.8 94.1,132.7 96.3,133.4 98.5,134.2 100.7,135.3 102.9,136.9 105.1,138.4 107.3,140.0 109.5,141.6 111.7,143.1 113.9,144.2 116.1,144.6 118.3,144.5 120.5,144.5 122.7,144.6 124.9,144.9 127.1,145.1 129.3,145.3 131.5,145.4 133.7,145.4 135.9,145.6 138.1,145.9 140.3,146.3 142.5,146.9 144.7,147.6 146.9,148.3 149.1,148.8 151.3,149.0 153.5,149.0 155.7,149.2 157.9,149.6 160.1,150.1 162.3,150.5 164.5,150.8 166.7,150.8 168.9,150.5 171.1,150.2 173.3,150.2 175.5,150.3 177.7,150.7 179.9,151.4 182.1,152.1 184.3,152.8 186.5,153.2 188.7,153.1 190.9,152.6 193.1,152.0 195.3,151.5 197.5,151.1 199.7,150.5 201.9,149.9 204.1,148.8 206.3,147.7 208.5,147.0 210.7,146.8 212.9,146.5 215.1,146.0 217.3,145.7 219.5,145.3 221.7,144.8 223.9,143.6 226.1,142.6 228.3,143.2 230.5,144.5 232.7,148.4 234.9,150.7 237.1,152.1 239.3,152.7 241.5,152.7 243.7,151.4 245.9,150.2 248.1,149.9 250.3,150.4 252.5,151.2 254.7,151.3 256.9,151.5 259.1,152.2 261.3,152.9 263.5,153.2 265.7,153.2 267.9,152.9 270.1,151.4 272.3,149.8 274.5,148.4 276.7,147.7 278.9,147.3 281.1,146.8 283.3,146.7 285.5,147.2 287.7,147.7 289.9,148.2 292.1,148.6 294.3,149.3 296.5,150.5 298.7,152.4 300.9,152.2 303.1,151.1 305.3,150.5 307.5,150.3 309.7,149.6 311.9,149.3 312.5,148.2" fill="none" stroke="#2ca02c" stroke-width="0.60" stroke-opacity="0.40" stroke-dasharray="0.8,0.7" stroke-linecap="butt" stroke-linejoin="round"/>
<polyline points="58.9,31.0 61.3,66.6 62.1,82.4 62.8,90.6 63.5,96.0 64.2,101.0 65,103.7 65.7,106.2 66.3,108.2 67,109.8 67.6,111.4 68.3,112.2 68.9,113.0 69.6,113.8 70.5,114.6 72.5,116.6 74.5,121.1 76.6,124.0 78.7,126.1 80.9,127.4 83.1,129.0 85.3,130.8 87.5,132.4 89.7,133.6 91.9,134.9 94.1,136.4 96.3,138.3 98.5,140.3 100.7,142.0 102.9,142.9 105.1,143.4 107.3,144.1 109.5,144.9 111.7,145.8 113.9,146.5 116.1,146.6 118.3,146.6 120.5,146.6 122.7,146.7 124.9,146.8 127.1,146.7 129.3,146.3 131.5,145.8 133.7,145.4 135.9,145.2 138.1,145.4 140.3,145.9 142.5,146.7 144.7,147.6 146.9,148.5 149.1,149.4 151.3,150.0 153.5,150.4 155.7,150.5 157.9,150.1 160.1,149.3 162.3,146.7 164.5,142.2 166.7,144.7 168.9,148.8 171.1,150.4 173.3,151.8 175.5,153.5 177.7,155.6 179.9,158.0 182.1,159.7 184.3,160.8 186.5,161.2 188.7,161.1 190.9,160.7 193.1,159.8 195.3,158.6 197.5,157.5 199.7,156.7 201.9,156.1 204.1,155.2 206.3,154.1 208.5,153.1 210.7,153.0 212.9,153.3 215.1,153.7 217.3,154.1 219.5,154.1 221.7,153.5 223.9,151.6 226.1,148.9 228.3,148.0 230.5,149.5 232.7,153.6 234.9,156.3 237.1,158.3 239.3,159.8 241.5,161.0 243.7,160.9 245.9,160.8 248.1,161.3 250.3,162.1 252.5,162.7 254.7,162.3 256.9,161.7 259.1,161.6 261.3,161.4 263.5,161.1 265.7,160.8 267.9,160.4 270.1,159.1 272.3,157.8 274.5,156.5 276.7,155.4 278.9,154.2 281.1,153.0 283.3,152.9 285.5,154.0 287.7,155.4 289.9,156.6 292.1,157.3 294.3,158.0 296.5,158.8 298.7,159.7 300.9,158.2 303.1,156.2 305.3,155.3 307.5,155.4 309.7,155.5 311.9,156.3 312.1,156.4" fill="none" stroke="#2ca02c" stroke-width="0.60" stroke-opacity="0.40" stroke-dasharray="0.8,0.7" stroke-linecap="butt" stroke-linejoin="round"/>
<polyline points="58.9,31.0 60.5,66.9 61.2,82.9 62,91.5 62.7,97.2 63.4,102.4 64.2,105.2 65,107.9 65.7,109.9 66.4,111.7 67.1,114.6 67.8,117.0 68.5,119.4 69.2,121.8 70.2,124.7 72.3,130.9 74.4,133.9 76.5,135.3 78.7,136.3 80.9,137.0 83.1,138.3 85.3,139.9 87.5,142.0 89.7,143.9 91.9,146.0 94.1,148.3 96.3,150.6 98.5,152.7 100.7,154.2 102.9,154.9 105.1,155.2 107.3,155.5 109.5,156.1 111.7,157.1 113.9,158.5 116.1,160.0 118.3,161.7 120.5,163.2 122.7,164.3 124.9,165.1 127.1,165.5 129.3,165.6 131.5,165.5 133.7,165.0 135.9,164.2 138.1,163.3 140.3,162.1 142.5,161.0 144.7,160.4 146.9,160.5 149.1,161.0 151.3,161.6 153.5,162.0 155.7,162.1 157.9,162.3 160.1,162.7 162.3,163.2 164.5,163.6 166.7,163.9 168.9,164.2 171.1,164.9 173.3,166.0 175.5,167.1 177.7,168.1 179.9,168.6 182.1,168.4 184.3,167.3 186.5,163.9 188.7,164.5 190.9,167.2 193.1,167.8 195.3,168.0 197.5,168.1 199.7,168.1 201.9,168.0 204.1,167.6 206.3,167.3 208.5,167.3 210.7,167.6 212.9,167.6 215.1,167.2 217.3,166.6 219.5,166.2 221.7,166.3 223.9,166.1 226.1,165.8 228.3,166.3 230.5,166.4 232.7,168.5 234.9,169.6 237.1,170.7 239.3,172.2 241.5,174.0 243.7,174.8 245.9,175.6 248.1,176.5 250.3,177.0 252.5,176.6 254.7,174.4 256.9,171.8 259.1,170.2 261.3,169.5 263.5,169.6 265.7,170.0 267.9,170.3 270.1,169.3 272.3,167.8 274.5,166.4 276.7,165.6 278.9,165.2 281.1,165.0 283.3,164.9 285.5,165.4 287.7,165.7 289.9,166.2 292.1,166.4 294.3,166.3 296.5,166.0 298.7,165.6 300.9,163.5 303.1,161.6 305.3,161.3 307.5,161.3 309.7,160.5 311.9,161.6 312.7,162.3" fill="none" stroke="#2ca02c" stroke-width="0.60" stroke-opacity="0.40" stroke-dasharray="0.8,0.7" stroke-linecap="butt" stroke-linejoin="round"/>
<polyline points="58.9,31.1 60.5,67.1 61.3,83.3 62,91.9 62.8,97.8 63.5,103.1 64.3,106.5 65,109.7 65.7,112.3 66.4,114.6 67.1,117.2 67.8,119.0 68.6,120.8 69.3,122.6 70.2,124.7 72.3,129.3 74.4,133.1 76.5,135.7 78.7,137.8 80.9,139.4 83.1,141.0 85.3,143.1 87.5,146.8 89.7,150.3 91.9,153.7 94.1,157.0 96.3,160.0 98.5,162.7 100.7,164.7 102.9,165.4 105.1,166.2 107.3,167.5 109.5,169.3 111.7,171.1 113.9,172.8 116.1,174.0 118.3,174.9 120.5,175.7 122.7,176.2 124.9,176.7 127.1,176.8 129.3,176.6 131.5,176.1 133.7,175.3 135.9,174.5 138.1,174.1 140.3,174.5 142.5,175.2 144.7,176.1 146.9,176.9 149.1,177.5 151.3,178.1 153.5,178.5 155.7,178.6 157.9,178.3 160.1,177.6 162.3,176.8 164.5,176.3 166.7,176.2 168.9,176.5 171.1,177.1 173.3,178.1 175.5,179.1 177.7,179.8 179.9,180.3 182.1,180.3 184.3,179.9 186.5,179.6 188.7,179.3 190.9,179.1 193.1,178.5 195.3,177.6 197.5,176.6 199.7,175.9 201.9,175.7 204.1,175.7 206.3,175.7 208.5,175.5 210.7,175.3 212.9,174.6 215.1,173.8 217.3,173.6 219.5,173.7 221.7,173.6 223.9,172.3 226.1,170.5 228.3,169.8 230.5,169.5 232.7,172.2 234.9,174.2 237.1,176.3 239.3,178.1 241.5,179.3 243.7,178.8 245.9,178.0 248.1,177.8 250.3,177.9 252.5,177.7 254.7,176.4 256.9,175.0 259.1,174.4 261.3,174.3 263.5,174.8 265.7,175.8 267.9,177.1 270.1,176.8 272.3,175.5 274.5,173.5 276.7,171.8 278.9,170.8 281.1,170.2 283.3,170.4 285.5,171.5 287.7,172.8 289.9,174.3 292.1,175.8 294.3,177.2 296.5,178.5 298.7,179.6 300.9,178.3 303.1,176.6 305.3,176.4 307.5,177.5 309.7,178.8 311.9,180.4 312.3,181.0" fill="none" stroke="#2ca02c" stroke-width="0.60" stroke-opacity="0.40" stroke-dasharray="0.8,0.7" stroke-linecap="butt" stroke-linejoin="round"/>
<polyline points="58.9,31.0 61.6,67.0 62.3,83.0 63,91.6 63.7,97.3 64.4,102.6 65.2,106.4 65.9,110.0 66.5,112.9 67.1,115.6 67.7,117.4 68.4,118.0 69,118.7 69.7,119.3 70.6,120.0 72.5,121.5 74.5,124.7 76.6,126.3 78.7,127.0 80.9,127.0 83.1,127.2 85.3,128.1 87.5,130.8 89.7,133.9 91.9,137.2 94.1,140.6 96.3,143.6 98.5,146.4 100.7,148.6 102.9,149.5 105.1,150.0 107.3,150.6 109.5,151.3 111.7,152.1 113.9,153.0 116.1,153.5 118.3,154.0 120.5,154.5 122.7,155.2 124.9,156.0 127.1,156.8 129.3,157.6 131.5,158.4 133.7,159.2 135.9,160.0 138.1,160.9 140.3,161.7 142.5,162.2 144.7,162.4 146.9,162.5 149.1,163.0 151.3,163.9 153.5,165.0 155.7,165.8 157.9,166.0 160.1,165.5 162.3,164.7 164.5,164.2 166.7,164.5 168.9,165.4 171.1,166.4 173.3,167.2 175.5,167.7 177.7,168.0 179.9,168.2 182.1,168.0 184.3,167.8 186.5,167.8 188.7,167.7 190.9,167.1 193.1,165.5 195.3,163.3 197.5,161.2 199.7,159.7 201.9,158.9 204.1,158.0 206.3,156.9 208.5,156.0 210.7,155.8 212.9,156.0 215.1,156.1 217.3,156.3 219.5,156.3 221.7,156.3 223.9,155.6 226.1,155.1 228.3,156.0 230.5,157.4 232.7,161.5 234.9,164.3 237.1,166.5 239.3,168.0 241.5,169.1 243.7,169.0 245.9,168.8 248.1,168.9 250.3,169.0 252.5,168.6 254.7,167.5 256.9,167.2 259.1,168.3 261.3,170.1 263.5,171.5 265.7,172.2 267.9,172.4 270.1,171.1 272.3,169.8 274.5,168.7 276.7,168.5 278.9,168.6 281.1,168.6 283.3,168.7 285.5,169.6 287.7,170.2 289.9,170.7 292.1,170.8 294.3,171.2 296.5,172.1 298.7,173.3 300.9,172.3 303.1,170.8 305.3,170.5 307.5,171.5 309.7,172.8 311.6,174.5" fill="none" stroke="#2ca02c" stroke-width="0.60" stroke-opacity="0.40" stroke-dasharray="0.8,0.7" stroke-linecap="butt" stroke-linejoin="round"/>
<polyline points="58.9,30.9 61.9,66.3 62.7,81.8 63.4,89.8 64.1,94.9 64.8,99.7 65.5,103.2 66.2,106.6 66.8,109.3 67.4,111.9 68,114.1 68.6,115.4 69.2,116.7 69.9,117.9 70.7,119.4 72.6,122.8 74.6,126.8 76.6,129.5 78.7,131.8 80.9,133.4 83.1,135.3 85.3,136.8 87.5,136.9 89.7,136.6 91.9,136.4 94.1,136.4 96.3,136.8 98.5,137.5 100.7,138.6 102.9,140.2 105.1,141.3 107.3,142.2 109.5,143.3 111.7,144.5 113.9,145.5 116.1,146.0 118.3,146.0 120.5,145.8 122.7,145.7 124.9,146.0 127.1,146.6 129.3,147.2 131.5,147.7 133.7,147.9 135.9,147.9 138.1,147.7 140.3,147.7 142.5,148.0 144.7,149.0 146.9,150.5 149.1,151.7 151.3,152.4 153.5,152.6 155.7,152.9 157.9,153.4 160.1,154.3 162.3,155.2 164.5,156.0 166.7,156.6 168.9,156.4 171.1,154.4 173.3,154.8 175.5,157.2 177.7,158.0 179.9,158.7 182.1,159.2 184.3,159.6 186.5,160.2 188.7,161.1 190.9,162.1 193.1,162.7 195.3,162.7 197.5,162.2 199.7,161.1 201.9,156.4 204.1,152.3 206.3,156.0 208.5,158.4 210.7,158.5 212.9,158.2 215.1,157.8 217.3,157.7 219.5,157.4 221.7,156.8 223.9,155.1 226.1,153.1 228.3,152.3 230.5,152.2 232.7,155.0 234.9,156.7 237.1,158.0 239.3,158.8 241.5,159.3 243.7,158.7 245.9,158.2 248.1,158.3 250.3,158.8 252.5,159.3 254.7,158.8 256.9,158.2 259.1,157.8 261.3,157.2 263.5,156.6 265.7,155.8 267.9,155.2 270.1,153.4 272.3,151.6 274.5,150.0 276.7,149.1 278.9,148.5 281.1,147.9 283.3,147.7 285.5,148.2 287.7,148.7 289.9,149.2 292.1,149.6 294.3,150.1 296.5,151.0 298.7,151.9 300.9,150.3 303.1,148.1 305.3,147.1 307.5,147.2 309.7,147.5 311.6,148.5" fill="none" stroke="#2ca02c" stroke-width="0.60" stroke-opacity="0.40" stroke-dasharray="0.8,0.7" stroke-linecap="butt" stroke-linejoin="round"/>
<polyline points="58.9,31.0 60.1,66.7 60.8,82.5 61.6,90.9 62.3,96.3 63.1,101.4 63.9,104.2 64.6,106.9 65.4,108.9 66.1,110.6 66.8,113.0 67.6,114.7 68.3,116.5 69.1,118.3 70,120.6 72.2,125.4 74.3,127.8 76.5,128.9 78.7,129.4 80.9,128.8 83.1,128.1 85.3,127.7 87.5,129.5 89.7,131.7 91.9,134.5 94.1,137.6 96.3,140.4 98.5,142.8 100.7,144.5 102.9,145.4 105.1,145.8 107.3,146.3 109.5,147.0 111.7,148.3 113.9,150.2 116.1,152.1 118.3,153.9 120.5,155.2 122.7,155.9 124.9,156.5 127.1,157.0 129.3,157.6 131.5,158.0 133.7,158.3 135.9,158.1 138.1,157.6 140.3,156.6 142.5,155.6 144.7,154.9 146.9,154.8 149.1,155.4 151.3,156.5 153.5,157.5 155.7,158.0 157.9,158.1 160.1,157.8 162.3,157.4 164.5,157.3 166.7,157.5 168.9,158.2 171.1,159.4 173.3,160.5 175.5,160.9 177.7,160.4 179.9,159.2 182.1,157.6 184.3,156.2 186.5,155.4 188.7,155.2 190.9,155.1 193.1,155.0 195.3,154.9 197.5,155.1 199.7,155.3 201.9,155.2 204.1,154.1 206.3,152.5 208.5,150.9 210.7,149.9 212.9,149.0 215.1,148.4 217.3,148.5 219.5,148.7 221.7,149.0 223.9,148.4 226.1,147.7 228.3,148.3 230.5,149.2 232.7,152.4 234.9,154.0 237.1,155.0 239.3,155.4 241.5,155.7 243.7,155.2 245.9,155.2 248.1,156.3 250.3,158.0 252.5,159.1 254.7,158.2 256.9,155.7 259.1,154.4 261.3,156.2 263.5,157.6 265.7,157.9 267.9,157.9 270.1,156.3 272.3,154.5 274.5,152.6 276.7,151.3 278.9,150.0 281.1,148.8 283.3,148.4 285.5,149.7 287.7,151.6 289.9,153.6 292.1,155.0 294.3,155.5 296.5,154.7 298.7,155.4 300.9,155.2 303.1,153.6 305.3,153.0 307.5,153.7 309.7,154.5 311.9,155.8 313.1,156.0" fill="none" stroke="#2ca02c" stroke-width="0.60" stroke-opacity="0.40" stroke-dasharray="0.8,0.7" stroke-linecap="butt" stroke-linejoin="round"/>
<polyline points="58.9,31.0 61.6,67.0 62.4,83.0 63.1,91.6 63.8,97.3 64.5,102.6 65.2,106.4 65.9,110.2 66.6,113.3 67.2,116.1 67.8,118.9 68.4,120.9 69.1,122.9 69.7,124.8 70.6,127.0 72.5,131.7 74.5,134.4 76.6,135.7 78.7,136.7 80.9,137.2 83.1,138.2 85.3,139.7 87.5,141.7 89.7,143.3 91.9,144.5 94.1,146.1 96.3,148.2 98.5,150.8 100.7,153.0 102.9,154.1 105.1,154.1 107.3,153.7 109.5,154.0 111.7,155.4 113.9,157.6 116.1,159.6 118.3,161.1 120.5,162.2 122.7,162.6 124.9,162.5 127.1,161.9 129.3,161.4 131.5,161.2 133.7,161.3 135.9,161.7 138.1,162.3 140.3,162.7 142.5,162.6 144.7,162.4 146.9,162.8 149.1,164.0 151.3,165.7 153.5,167.1 155.7,167.7 157.9,167.8 160.1,167.8 162.3,168.0 164.5,168.4 166.7,168.8 168.9,169.3 171.1,170.1 173.3,171.3 175.5,172.7 177.7,173.9 179.9,174.8 182.1,174.9 184.3,174.6 186.5,174.4 188.7,174.1 190.9,173.8 193.1,173.4 195.3,173.3 197.5,173.7 199.7,174.3 201.9,174.6 204.1,174.6 206.3,174.5 208.5,174.5 210.7,174.4 212.9,173.7 215.1,172.4 217.3,171.4 219.5,170.7 221.7,170.1 223.9,168.9 226.1,167.9 228.3,168.3 230.5,169.1 232.7,172.5 234.9,174.5 237.1,175.9 239.3,176.7 241.5,177.0 243.7,176.1 245.9,175.1 248.1,174.9 250.3,175.3 252.5,175.7 254.7,175.0 256.9,173.9 259.1,173.0 261.3,172.1 263.5,171.3 265.7,170.8 267.9,170.8 270.1,169.9 272.3,168.8 274.5,167.6 276.7,166.7 278.9,166.0 281.1,165.7 283.3,166.3 285.5,167.9 287.7,169.5 289.9,171.0 292.1,171.9 294.3,172.6 296.5,173.1 298.7,173.5 300.9,171.9 303.1,170.2 305.3,170.0 307.5,171.0 309.7,171.9 311.9,173.4 312.3,173.9" fill="none" stroke="#2ca02c" stroke-width="0.60" stroke-opacity="0.40" stroke-dasharray="0.8,0.7" stroke-linecap="butt" stroke-linejoin="round"/>
<polyline points="58.9,31.0 61.7,66.6 62.4,82.5 63.1,90.8 63.8,96.2 64.5,101.2 65.3,104.0 66,106.7 66.6,108.6 67.2,110.3 67.8,112.8 68.5,114.7 69.1,116.6 69.8,118.4 70.6,120.4 72.5,124.7 74.5,126.3 76.6,126.6 78.7,126.6 80.9,126.1 83.1,126.0 85.3,126.6 87.5,129.0 89.7,131.4 91.9,133.7 94.1,135.6 96.3,136.7 98.5,137.5 100.7,138.0 102.9,138.5 105.1,139.1 107.3,140.1 109.5,141.3 111.7,142.7 113.9,144.5 116.1,146.4 118.3,148.4 120.5,150.0 122.7,150.8 124.9,150.7 127.1,150.2 129.3,149.8 131.5,149.8 133.7,150.4 135.9,151.2 138.1,151.9 140.3,152.6 142.5,153.4 144.7,154.3 146.9,154.8 149.1,154.5 151.3,153.4 153.5,154.3 155.7,155.0 157.9,155.6 160.1,156.1 162.3,156.5 164.5,156.5 166.7,156.2 168.9,156.0 171.1,156.3 173.3,157.4 175.5,158.9 177.7,160.5 179.9,161.8 182.1,162.1 184.3,161.9 186.5,161.6 188.7,161.5 190.9,161.5 193.1,161.5 195.3,161.5 197.5,161.7 199.7,161.7 201.9,161.2 204.1,159.6 206.3,157.6 208.5,155.8 210.7,154.5 212.9,153.6 215.1,153.0 217.3,153.2 219.5,153.7 221.7,154.5 223.9,154.4 226.1,154.1 228.3,155.2 230.5,156.7 232.7,160.6 234.9,162.7 237.1,164.0 239.3,164.6 241.5,165.0 243.7,164.4 245.9,164.1 248.1,165.0 250.3,166.6 252.5,168.1 254.7,168.5 256.9,168.5 259.1,168.8 261.3,169.1 263.5,169.2 265.7,169.4 267.9,169.9 270.1,169.2 272.3,168.4 274.5,167.4 276.7,166.7 278.9,165.9 281.1,164.8 283.3,164.2 285.5,164.5 287.7,165.3 289.9,166.2 292.1,167.0 294.3,167.9 296.5,169.1 298.7,170.4 300.9,169.5 303.1,168.1 305.3,167.9 307.5,168.6 309.7,168.9 311.9,169.5 312,169.0" fill="none" stroke="#2ca02c" stroke-width="0.60" stroke-opacity="0.40" stroke-dasharray="0.8,0.7" stroke-linecap="butt" stroke-linejoin="round"/>
<polyline points="58.9,31.0 61.5,66.9 62.3,82.8 63,91.3 63.7,96.9 64.4,102.1 65.1,104.9 65.9,107.6 66.5,109.7 67.1,111.5 67.7,113.7 68.4,115.3 69,116.8 69.7,118.3 70.6,120.1 72.5,124.0 74.5,128.6 76.6,131.8 78.7,134.6 80.9,137.2 83.1,140.3 85.3,143.6 87.5,147.1 89.7,149.6 91.9,151.6 94.1,153.4 96.3,155.4 98.5,157.9 100.7,160.0 102.9,160.9 105.1,161.3 107.3,161.8 109.5,162.5 111.7,163.3 113.9,164.1 116.1,164.6 118.3,164.9 120.5,165.1 122.7,165.0 124.9,164.6 127.1,164.1 129.3,163.9 131.5,164.0 133.7,164.4 135.9,164.8 138.1,165.0 140.3,165.0 142.5,164.7 144.7,164.3 146.9,164.0 149.1,163.8 151.3,163.7 153.5,163.5 155.7,163.1 157.9,162.9 160.1,162.9 162.3,163.4 164.5,164.0 166.7,164.4 168.9,164.1 171.1,163.7 173.3,163.6 175.5,163.9 177.7,164.5 179.9,165.2 182.1,165.6 184.3,165.7 186.5,165.8 188.7,165.9 190.9,165.8 193.1,165.2 195.3,164.3 197.5,163.1 199.7,161.7 201.9,160.4 204.1,158.8 206.3,157.3 208.5,156.3 210.7,156.3 212.9,156.7 215.1,157.1 217.3,157.6 219.5,157.7 221.7,157.5 223.9,156.4 226.1,155.5 228.3,156.0 230.5,156.6 232.7,159.3 234.9,160.5 237.1,161.6 239.3,163.2 241.5,164.8 243.7,165.0 245.9,164.7 248.1,164.6 250.3,165.0 252.5,166.0 254.7,166.5 256.9,167.1 259.1,167.8 261.3,168.1 263.5,167.8 265.7,167.5 267.9,167.5 270.1,166.5 272.3,165.3 274.5,164.1 276.7,163.4 278.9,162.7 281.1,161.7 283.3,161.1 285.5,161.5 287.7,162.6 289.9,164.3 292.1,166.3 294.3,168.1 296.5,169.7 298.7,170.8 300.9,169.4 303.1,167.8 305.3,167.8 307.5,169.2 309.7,170.6 311.8,172.3" fill="none" stroke="#2ca02c" stroke-width="0.60" stroke-opacity="0.40" stroke-dasharray="0.8,0.7" stroke-linecap="butt" stroke-linejoin="round"/>
<polyline points="58.9,30.9 61.7,66.3 62.4,81.9 63.1,90.0 63.8,95.2 64.5,100.0 65.2,103.6 66,107.1 66.6,110.0 67.2,112.7 67.8,115.2 68.4,116.9 69.1,118.6 69.8,120.4 70.6,122.7 72.5,127.6 74.5,131.7 76.6,134.3 78.7,136.1 80.9,136.9 83.1,137.4 85.3,137.6 87.5,138.4 89.7,139.1 91.9,140.0 94.1,141.3 96.3,142.4 98.5,143.4 100.7,144.6 102.9,145.9 105.1,147.0 107.3,147.8 109.5,148.2 111.7,148.4 113.9,148.8 116.1,149.0 118.3,149.1 120.5,149.2 122.7,149.5 124.9,150.2 127.1,150.9 129.3,151.5 131.5,152.0 133.7,152.2 135.9,152.4 138.1,152.7 140.3,153.0 142.5,153.1 144.7,152.8 146.9,152.2 149.1,151.9 151.3,152.4 153.5,153.6 155.7,155.0 157.9,156.3 160.1,157.5 162.3,158.4 164.5,159.3 166.7,160.1 168.9,160.7 171.1,161.3 173.3,162.0 175.5,162.5 177.7,162.7 179.9,162.6 182.1,162.2 184.3,162.1 186.5,162.8 188.7,164.2 190.9,165.8 193.1,167.0 195.3,167.3 197.5,166.7 199.7,165.3 201.9,163.3 204.1,161.4 206.3,160.1 208.5,159.4 210.7,159.5 212.9,159.6 215.1,159.6 217.3,159.8 219.5,160.1 221.7,160.4 223.9,159.8 226.1,158.7 228.3,158.2 230.5,157.6 232.7,159.6 234.9,160.6 237.1,161.4 239.3,162.0 241.5,162.2 243.7,161.1 245.9,160.1 248.1,159.9 250.3,160.4 252.5,161.1 254.7,160.9 256.9,160.8 259.1,161.1 261.3,161.1 263.5,160.8 265.7,160.1 267.9,159.3 270.1,157.1 272.3,154.6 274.5,152.0 276.7,150.2 278.9,149.1 281.1,148.3 283.3,148.2 285.5,148.8 287.7,149.6 289.9,150.6 292.1,151.5 294.3,152.4 296.5,153.3 298.7,154.2 300.9,152.7 303.1,150.8 305.3,150.0 307.5,150.4 309.7,150.8 311.9,151.7 312.1,151.4" fill="none" stroke="#2ca02c" stroke-width="0.60" stroke-opacity="0.40" stroke-dasharray="0.8,0.7" stroke-linecap="butt" stroke-linejoin="round"/>
<polyline points="58.9,30.9 61.2,66.4 62,82.0 62.7,90.1 63.4,95.3 64.1,100.1 64.9,102.6 65.6,105.0 66.3,106.7 66.9,108.2 67.5,110.4 68.2,112.0 68.9,113.8 69.6,115.5 70.5,117.6 72.4,122.2 74.5,127.0 76.6,130.2 78.7,132.6 80.9,134.3 83.1,136.2 85.3,138.1 87.5,137.8 89.7,137.1 91.9,136.6 94.1,136.4 96.3,136.3 98.5,136.1 100.7,136.0 102.9,136.7 105.1,137.3 107.3,138.4 109.5,139.8 111.7,141.4 113.9,142.3 116.1,142.1 118.3,141.2 120.5,140.3 122.7,140.0 124.9,140.1 127.1,140.6 129.3,141.5 131.5,142.8 133.7,144.5 135.9,146.4 138.1,147.8 140.3,148.6 142.5,148.9 144.7,149.2 146.9,149.4 149.1,149.7 151.3,149.7 153.5,149.6 155.7,149.5 157.9,149.5 160.1,149.9 162.3,150.7 164.5,151.4 166.7,151.7 168.9,150.6 171.1,146.4 173.3,142.4 175.5,145.7 177.7,152.5 179.9,156.2 182.1,157.1 184.3,157.2 186.5,157.1 188.7,156.9 190.9,156.7 193.1,156.3 195.3,155.8 197.5,155.2 199.7,154.5 201.9,153.5 204.1,152.3 206.3,151.5 208.5,151.1 210.7,151.2 212.9,151.0 215.1,150.6 217.3,150.7 219.5,151.3 221.7,152.4 223.9,152.7 226.1,152.6 228.3,153.1 230.5,153.0 232.7,154.9 234.9,155.4 237.1,155.6 239.3,156.2 241.5,157.0 243.7,156.9 245.9,156.3 248.1,155.1 250.3,157.2 252.5,159.8 254.7,159.9 256.9,159.5 259.1,159.0 261.3,158.1 263.5,157.0 265.7,156.3 267.9,156.2 270.1,155.0 272.3,153.5 274.5,151.7 276.7,150.4 278.9,149.1 281.1,147.8 283.3,147.4 285.5,148.4 287.7,150.0 289.9,151.7 292.1,152.7 294.3,153.4 296.5,154.1 298.7,155.0 300.9,153.7 303.1,152.1 305.3,152.1 307.5,153.3 309.7,154.5 311.9,155.9 312.3,156.1" fill="none" stroke="#2ca02c" stroke-width="0.60" stroke-opacity="0.40" stroke-dasharray="0.8,0.7" stroke-linecap="butt" stroke-linejoin="round"/>
<polyline points="58.9,31.0 61.5,66.7 62.2,82.6 62.9,91.0 63.6,96.5 64.4,101.6 65.1,105.1 65.8,108.4 66.5,111.0 67.1,113.4 67.7,115.7 68.4,117.1 69,118.5 69.7,119.9 70.6,121.6 72.5,125.1 74.5,129.5 76.6,132.4 78.7,134.6 80.9,136.1 83.1,137.9 85.3,139.9 87.5,140.7 89.7,141.5 91.9,142.2 94.1,142.3 96.3,141.8 98.5,140.9 100.7,140.6 102.9,141.4 105.1,142.4 107.3,143.7 109.5,144.8 111.7,145.6 113.9,146.2 116.1,146.3 118.3,146.4 120.5,147.0 122.7,147.9 124.9,149.0 127.1,149.8 129.3,150.3 131.5,150.9 133.7,151.7 135.9,152.9 138.1,154.2 140.3,155.4 142.5,156.3 144.7,156.9 146.9,157.3 149.1,157.6 151.3,157.9 153.5,158.3 155.7,158.8 157.9,159.2 160.1,159.3 162.3,159.2 164.5,159.2 166.7,159.5 168.9,159.9 171.1,160.3 173.3,160.6 175.5,160.6 177.7,160.6 179.9,160.7 182.1,160.9 184.3,161.4 186.5,162.4 188.7,163.4 190.9,164.3 193.1,164.5 195.3,164.4 197.5,164.1 199.7,163.8 201.9,163.5 204.1,162.8 206.3,161.8 208.5,160.6 210.7,159.6 212.9,158.8 215.1,158.5 217.3,159.0 219.5,159.9 221.7,160.5 223.9,160.0 226.1,158.9 228.3,159.1 230.5,159.4 232.7,162.5 234.9,164.4 237.1,166.1 239.3,167.6 241.5,168.7 243.7,168.7 245.9,168.8 248.1,169.6 250.3,170.5 252.5,170.9 254.7,170.0 256.9,169.2 259.1,169.2 261.3,169.8 263.5,170.3 265.7,170.6 267.9,170.6 270.1,169.2 272.3,167.6 274.5,166.2 276.7,165.7 278.9,165.5 281.1,165.3 283.3,165.7 285.5,167.3 287.7,169.1 289.9,170.8 292.1,171.4 294.3,171.3 296.5,170.9 298.7,170.3 300.9,167.5 303.1,164.3 305.3,163.0 307.5,163.6 309.7,165.1 311.9,167.6 312.3,169.1" fill="none" stroke="#2ca02c" stroke-width="0.60" stroke-opacity="0.40" stroke-dasharray="0.8,0.7" stroke-linecap="butt" stroke-linejoin="round"/>
<polyline points="58.9,31.0 61.3,66.8 62,82.7 62.7,91.2 63.4,96.8 64.2,101.9 64.9,105.2 65.6,108.5 66.3,111.0 66.9,113.3 67.6,115.7 68.2,117.4 68.9,119.1 69.6,120.6 70.5,122.4 72.4,126.1 74.5,129.1 76.6,130.7 78.7,131.9 80.9,132.3 83.1,132.7 85.3,133.4 87.5,134.1 89.7,134.4 91.9,134.3 94.1,134.3 96.3,134.5 98.5,135.4 100.7,137.1 102.9,139.3 105.1,141.1 107.3,142.7 109.5,143.7 111.7,144.5 113.9,145.4 116.1,146.2 118.3,146.9 120.5,147.3 122.7,147.6 124.9,147.9 127.1,147.9 129.3,147.7 131.5,147.4 133.7,147.2 135.9,147.5 138.1,148.3 140.3,149.3 142.5,150.2 144.7,150.8 146.9,151.1 149.1,151.2 151.3,151.4 153.5,151.9 155.7,152.5 157.9,153.1 160.1,153.7 162.3,154.4 164.5,155.2 166.7,156.0 168.9,156.7 171.1,157.5 173.3,158.6 175.5,160.0 177.7,161.6 179.9,163.2 182.1,164.4 184.3,165.4 186.5,166.7 188.7,168.2 190.9,169.5 193.1,170.2 195.3,170.2 197.5,169.8 199.7,169.1 201.9,168.0 204.1,166.8 206.3,165.6 208.5,164.8 210.7,164.8 212.9,165.0 215.1,165.2 217.3,165.6 219.5,165.8 221.7,165.8 223.9,164.7 226.1,163.3 228.3,163.3 230.5,163.7 232.7,166.9 234.9,168.8 237.1,170.2 239.3,171.2 241.5,172.3 243.7,172.4 245.9,172.4 248.1,172.7 250.3,173.3 252.5,173.7 254.7,173.2 256.9,172.9 259.1,172.9 261.3,172.7 263.5,172.0 265.7,171.3 267.9,171.2 270.1,170.3 272.3,169.6 274.5,169.0 276.7,168.5 278.9,167.4 281.1,165.8 283.3,164.3 285.5,164.0 287.7,164.6 289.9,166.2 292.1,167.9 294.3,169.6 296.5,171.0 298.7,172.0 300.9,170.4 303.1,168.1 305.3,167.0 307.5,167.2 309.7,167.9 311.9,169.4 313,170.2" fill="none" stroke="#2ca02c" stroke-width="0.60" stroke-opacity="0.40" stroke-dasharray="0.8,0.7" stroke-linecap="butt" stroke-linejoin="round"/>
<polyline points="58.7,33.0 59.5,33.9 60.2,34.7 61,35.6 61.8,36.4 62.5,37.3 63.3,38.4 64.1,39.7 64.9,40.9 65.6,42.2 66.4,43.4 67.2,44.7 67.9,45.9 68.7,47.2 69.7,48.8 71.9,52.3 74.1,54.2 76.3,55.9 78.5,57.7 80.7,59.6 82.9,61.7 85.1,63.9 87.3,66.0 89.5,68.2 91.7,71.3 93.9,74.6 96.1,78.0 98.3,81.3 100.5,84.5 102.7,87.6 104.9,90.6 107.1,93.8 109.3,97.1 111.5,99.2 113.7,100.4 115.9,102.3 118.1,105.1 120.3,107.9 122.5,109.9 124.7,111.7 126.9,113.1 129.1,114.6 131.3,117.8 133.5,121.1 135.7,121.8 137.9,121.2 140.1,123.0 142.3,127.3 144.5,129.3 146.7,128.4 148.9,129.9 151.1,133.0 153.3,133.5 155.5,131.9 157.7,129.3 159.9,127.5 162.1,128.9 164.3,133.8 166.5,137.7 168.7,137.9 170.9,136.7 173.1,138.8 175.3,140.8 177.5,141.1 179.7,142.0 181.9,145.3 184.1,149.2 186.3,151.8 188.5,152.2 190.7,152.0 192.9,153.6 195.1,157.3 197.3,159.2 199.5,156.7 201.7,152.8 203.9,152.6 206.1,156.4 208.3,160.4 210.5,161.5 212.7,162.3 214.9,162.6 217.1,162.0 219.3,162.6 221.5,165.3 223.7,167.2 225.9,165.3 228.1,163.1 230.3,164.8 232.5,167.8 234.7,167.8 236.9,166.7 239.1,168.8 241.3,170.8 243.5,169.5 245.7,167.6 247.9,167.3 250.1,167.8 252.3,169.3 254.5,173.6 256.7,176.7 258.9,172.2 261.1,168.3 263.3,168.7 265.5,168.8 267.7,166.9 269.9,166.9 272.1,168.5 274.3,169.8 276.5,171.3 278.7,172.4 280.9,172.9 283.1,172.4 285.3,172.8 287.5,174.1 289.7,174.0 291.9,172.6 294.1,172.3 296.3,172.9 298.5,173.0 300.7,171.5 302.9,171.0 305.1,171.2 307.3,170.5 309.5,172.3 311.7,172.9 312.6,172.6" fill="none" stroke="#d62728" stroke-width="0.60" stroke-opacity="0.50" stroke-dasharray="1.8,0.8" stroke-linecap="butt" stroke-linejoin="round"/>
<polyline points="58.7,33.0 59.5,32.8 60.2,32.6 61,32.4 61.8,32.2 62.5,32.0 63.3,32.4 64.1,33.1 64.9,33.7 65.6,34.3 66.4,35.0 67.2,35.6 67.9,36.2 68.7,36.9 69.7,37.7 71.9,39.5 74.1,41.2 76.3,42.8 78.5,44.4 80.7,46.2 82.9,48.2 85.1,50.2 87.3,52.2 89.5,54.2 91.7,56.2 93.9,58.2 96.1,60.1 98.3,62.1 100.5,64.2 102.7,66.5 104.9,68.7 107.1,70.5 109.3,71.9 111.5,73.7 113.7,76.0 115.9,78.6 118.1,80.8 120.3,83.2 122.5,85.9 124.7,88.2 126.9,90.6 129.1,93.5 131.3,96.5 133.5,98.7 135.7,101.2 137.9,103.4 140.1,104.6 142.3,106.8 144.5,109.9 146.7,114.4 148.9,117.2 151.1,116.9 153.3,116.1 155.5,117.5 157.7,120.9 159.9,121.7 162.1,121.6 164.3,123.7 166.5,126.6 168.7,129.7 170.9,132.1 173.1,134.1 175.3,135.1 177.5,134.6 179.7,135.5 181.9,137.7 184.1,139.9 186.3,140.9 188.5,139.6 190.7,140.0 192.9,142.5 195.1,143.7 197.3,144.8 199.5,146.4 201.7,149.0 203.9,149.8 206.1,150.1 208.3,151.5 210.5,152.0 212.7,152.0 214.9,152.9 217.1,154.7 219.3,156.9 221.5,158.9 223.7,158.2 225.9,155.9 228.1,153.5 230.3,151.7 232.5,151.6 234.7,152.6 236.9,153.4 239.1,154.9 241.3,156.6 243.5,157.2 245.7,154.9 247.9,153.2 250.1,154.3 252.3,156.6 254.5,157.6 256.7,156.9 258.9,156.0 261.1,156.5 263.3,157.6 265.5,158.8 267.7,158.7 269.9,159.5 272.1,159.6 274.3,157.7 276.5,156.7 278.7,157.6 280.9,158.6 283.1,159.9 285.3,161.8 287.5,162.9 289.7,163.3 291.9,163.5 294.1,163.2 296.3,163.4 298.5,163.0 300.7,162.9 302.9,163.5 305.1,165.1 307.3,166.1 309.5,165.5 311.7,163.9 312,164.0" fill="none" stroke="#d62728" stroke-width="0.60" stroke-opacity="0.50" stroke-dasharray="1.8,0.8" stroke-linecap="butt" stroke-linejoin="round"/>
<polyline points="58.7,33.0 59.5,33.7 60.2,34.4 61,35.1 61.8,35.8 62.5,36.5 63.3,37.5 64.1,38.5 64.9,39.5 65.6,40.5 66.4,41.5 67.2,42.6 67.9,43.6 68.7,44.6 69.7,45.9 71.9,48.8 74.1,50.9 76.3,53.0 78.5,55.1 80.7,57.3 82.9,59.8 85.1,62.2 87.3,64.7 89.5,67.1 91.7,68.8 93.9,70.3 96.1,71.8 98.3,73.4 100.5,75.0 102.7,76.5 104.9,78.1 107.1,79.6 109.3,81.1 111.5,83.7 113.7,86.8 115.9,89.7 118.1,92.8 120.3,95.9 122.5,99.1 124.7,102.6 126.9,106.0 129.1,109.7 131.3,113.3 133.5,115.4 135.7,117.7 137.9,121.4 140.1,124.4 142.3,128.2 144.5,132.5 146.7,135.8 148.9,140.8 151.1,145.6 153.3,147.5 155.5,148.1 157.7,149.1 159.9,151.5 162.1,156.8 164.3,164.6 166.5,167.6 168.7,167.7 170.9,168.0 173.1,166.5 175.3,165.5 177.5,166.8 179.7,169.0 181.9,169.9 184.1,168.0 186.3,167.3 188.5,169.5 190.7,170.0 192.9,168.9 195.1,167.7 197.3,166.8 199.5,167.7 201.7,167.3 203.9,165.0 206.1,165.4 208.3,168.3 210.5,168.3 212.7,166.5 214.9,166.4 217.1,167.3 219.3,167.9 221.5,168.5 223.7,168.4 225.9,166.9 228.1,164.5 230.3,166.4 232.5,169.4 234.7,169.7 236.9,169.8 239.1,170.6 241.3,172.1 243.5,172.2 245.7,171.1 247.9,171.5 250.1,172.7 252.3,173.8 254.5,172.5 256.7,170.2 258.9,171.9 261.1,173.7 263.3,173.4 265.5,173.6 267.7,173.6 269.9,173.6 272.1,175.7 274.3,177.0 276.5,176.2 278.7,175.8 280.9,174.7 283.1,172.4 285.3,171.2 287.5,173.7 289.7,178.3 291.9,180.2 294.1,179.5 296.3,179.2 298.5,179.7 300.7,178.4 302.9,175.1 305.1,174.9 307.3,178.1 309.5,179.1 311.7,177.7 312.7,178.8" fill="none" stroke="#d62728" stroke-width="0.60" stroke-opacity="0.50" stroke-dasharray="1.8,0.8" stroke-linecap="butt" stroke-linejoin="round"/>
<polyline points="58.7,33.0 59.5,35.0 60.2,37.1 61,39.1 61.8,41.1 62.5,43.2 63.3,44.6 64.1,45.9 64.9,47.2 65.6,48.5 66.4,49.8 67.2,51.1 67.9,52.4 68.7,53.7 69.7,55.4 71.9,59.1 74.1,61.0 76.3,62.9 78.5,64.7 80.7,66.7 82.9,68.9 85.1,71.2 87.3,73.4 89.5,75.6 91.7,78.5 93.9,81.5 96.1,84.6 98.3,87.6 100.5,90.6 102.7,93.6 104.9,96.7 107.1,99.5 109.3,102.4 111.5,104.9 113.7,106.8 115.9,108.3 118.1,109.4 120.3,110.3 122.5,112.4 124.7,115.4 126.9,117.2 129.1,118.2 131.3,119.5 133.5,121.5 135.7,123.4 137.9,125.1 140.1,128.6 142.3,134.4 144.5,136.2 146.7,135.1 148.9,134.9 151.1,136.8 153.3,140.9 155.5,144.3 157.7,147.5 159.9,152.8 162.1,156.2 164.3,156.3 166.5,157.3 168.7,160.9 170.9,163.8 173.1,164.9 175.3,166.3 177.5,167.3 179.7,167.7 181.9,165.8 184.1,164.4 186.3,165.4 188.5,166.8 190.7,166.8 192.9,166.0 195.1,165.0 197.3,162.4 199.5,159.8 201.7,160.5 203.9,163.0 206.1,163.4 208.3,162.9 210.5,163.2 212.7,165.6 214.9,169.2 217.1,170.8 219.3,169.5 221.5,168.0 223.7,168.2 225.9,167.5 228.1,166.3 230.3,165.9 232.5,165.7 234.7,165.6 236.9,165.9 239.1,167.9 241.3,171.5 243.5,172.5 245.7,169.9 247.9,168.0 250.1,169.3 252.3,171.6 254.5,171.6 256.7,171.6 258.9,171.7 261.1,172.4 263.3,174.8 265.5,176.0 267.7,175.1 269.9,175.1 272.1,174.3 274.3,171.5 276.5,170.1 278.7,171.9 280.9,173.6 283.1,174.2 285.3,174.9 287.5,176.1 289.7,177.6 291.9,179.9 294.1,181.5 296.3,182.2 298.5,182.7 300.7,184.2 302.9,186.6 305.1,185.6 307.3,183.1 309.5,184.6 311.7,186.4 312,186.8" fill="none" stroke="#d62728" stroke-width="0.60" stroke-opacity="0.50" stroke-dasharray="1.8,0.8" stroke-linecap="butt" stroke-linejoin="round"/>
<polyline points="58.7,33.0 59.5,34.2 60.2,35.3 61,36.5 61.8,37.7 62.5,38.9 63.3,39.8 64.1,40.7 64.9,41.6 65.6,42.4 66.4,43.3 67.2,44.2 67.9,45.1 68.7,46.0 69.7,47.1 71.9,49.6 74.1,52.4 76.3,55.2 78.5,58.0 80.7,60.9 82.9,64.1 85.1,67.2 87.3,70.4 89.5,73.6 91.7,76.0 93.9,78.3 96.1,80.5 98.3,82.7 100.5,84.8 102.7,86.8 104.9,88.8 107.1,90.8 109.3,92.6 111.5,95.3 113.7,98.5 115.9,101.7 118.1,105.1 120.3,108.2 122.5,110.7 124.7,113.8 126.9,117.8 129.1,121.8 131.3,125.7 133.5,129.9 135.7,133.9 137.9,137.5 140.1,140.1 142.3,142.0 144.5,144.1 146.7,146.1 148.9,148.7 151.1,151.0 153.3,151.4 155.5,151.8 157.7,151.9 159.9,153.3 162.1,157.3 164.3,160.7 166.5,162.5 168.7,163.3 170.9,163.8 173.1,164.0 175.3,164.9 177.5,166.9 179.7,168.9 181.9,170.4 184.1,169.6 186.3,166.7 188.5,166.6 190.7,169.9 192.9,170.4 195.1,167.2 197.3,162.6 199.5,162.2 201.7,166.7 203.9,168.8 206.1,168.7 208.3,170.0 210.5,171.6 212.7,172.0 214.9,171.7 217.1,170.2 219.3,170.2 221.5,170.8 223.7,171.4 225.9,172.7 228.1,174.9 230.3,177.8 232.5,180.0 234.7,180.9 236.9,180.3 239.1,179.5 241.3,180.9 243.5,181.8 245.7,180.9 247.9,180.7 250.1,181.2 252.3,180.8 254.5,178.8 256.7,176.5 258.9,175.9 261.1,177.5 263.3,179.9 265.5,180.7 267.7,181.3 269.9,181.8 272.1,178.4 274.3,174.6 276.5,174.4 278.7,174.3 280.9,173.3 283.1,174.3 285.3,177.2 287.5,179.1 289.7,177.1 291.9,173.7 294.1,173.8 296.3,176.5 298.5,176.8 300.7,175.3 302.9,175.0 305.1,177.6 307.3,179.4 309.5,178.7 311.7,177.1 312.4,176.3" fill="none" stroke="#d62728" stroke-width="0.60" stroke-opacity="0.50" stroke-dasharray="1.8,0.8" stroke-linecap="butt" stroke-linejoin="round"/>
<polyline points="58.7,33.0 59.5,32.5 60.2,32.0 61,31.6 61.8,31.1 62.5,30.6 63.3,31.6 64.1,32.9 64.9,34.3 65.6,35.6 66.4,37.0 67.2,38.3 67.9,39.7 68.7,41.0 69.7,42.8 71.9,46.6 74.1,48.6 76.3,50.4 78.5,52.3 80.7,54.3 82.9,56.5 85.1,58.8 87.3,61.0 89.5,63.3 91.7,64.7 93.9,66.0 96.1,67.3 98.3,68.6 100.5,69.8 102.7,71.1 104.9,72.4 107.1,73.7 109.3,74.6 111.5,75.7 113.7,77.1 115.9,78.7 118.1,80.3 120.3,82.3 122.5,84.6 124.7,86.3 126.9,87.5 129.1,88.4 131.3,90.6 133.5,92.9 135.7,93.5 137.9,93.8 140.1,95.2 142.3,100.6 144.5,104.1 146.7,105.8 148.9,109.2 151.1,113.7 153.3,117.4 155.5,121.8 157.7,126.0 159.9,129.0 162.1,132.1 164.3,133.8 166.5,134.2 168.7,136.3 170.9,139.4 173.1,139.2 175.3,136.1 177.5,135.2 179.7,137.3 181.9,141.0 184.1,144.8 186.3,145.0 188.5,141.5 190.7,139.1 192.9,140.8 195.1,143.8 197.3,146.3 199.5,147.3 201.7,145.2 203.9,144.6 206.1,146.8 208.3,148.1 210.5,146.5 212.7,144.4 214.9,145.9 217.1,149.6 219.3,153.8 221.5,157.8 223.7,157.7 225.9,155.5 228.1,154.6 230.3,154.0 232.5,152.9 234.7,152.0 236.9,151.6 239.1,151.9 241.3,151.5 243.5,152.9 245.7,156.2 247.9,157.5 250.1,158.6 252.3,161.8 254.5,163.5 256.7,163.8 258.9,163.1 261.1,159.5 263.3,156.8 265.5,158.5 267.7,162.2 269.9,164.2 272.1,161.3 274.3,156.2 276.5,155.2 278.7,155.5 280.9,154.5 283.1,156.5 285.3,159.5 287.5,160.5 289.7,159.6 291.9,158.6 294.1,159.4 296.3,161.1 298.5,160.3 300.7,159.3 302.9,158.3 305.1,156.0 307.3,155.2 309.5,157.6 311.7,159.9 312.7,159.4" fill="none" stroke="#d62728" stroke-width="0.60" stroke-opacity="0.50" stroke-dasharray="1.8,0.8" stroke-linecap="butt" stroke-linejoin="round"/>
<polyline points="58.7,33.0 59.5,33.6 60.2,34.1 61,34.7 61.8,35.2 62.5,35.8 63.3,36.3 64.1,36.8 64.9,37.4 65.6,37.9 66.4,38.5 67.2,39.0 67.9,39.6 68.7,40.1 69.7,40.8 71.9,42.4 74.1,45.1 76.3,47.9 78.5,50.6 80.7,53.5 82.9,56.7 85.1,59.8 87.3,63.0 89.5,66.1 91.7,68.4 93.9,70.5 96.1,72.5 98.3,74.6 100.5,76.5 102.7,78.4 104.9,80.1 107.1,81.9 109.3,83.7 111.5,86.3 113.7,89.4 115.9,92.8 118.1,96.1 120.3,98.9 122.5,101.4 124.7,104.3 126.9,108.5 129.1,111.9 131.3,113.7 133.5,116.6 135.7,119.5 137.9,123.0 140.1,128.9 142.3,132.7 144.5,134.9 146.7,135.9 148.9,136.5 151.1,137.0 153.3,137.8 155.5,137.6 157.7,136.1 159.9,135.0 162.1,135.0 164.3,137.1 166.5,140.1 168.7,142.2 170.9,144.1 173.1,145.0 175.3,145.8 177.5,146.3 179.7,148.3 181.9,150.7 184.1,151.9 186.3,154.2 188.5,157.3 190.7,159.2 192.9,159.9 195.1,159.9 197.3,161.7 199.5,163.3 201.7,162.5 203.9,160.4 206.1,161.8 208.3,165.5 210.5,166.4 212.7,166.6 214.9,169.7 217.1,173.0 219.3,173.9 221.5,173.7 223.7,174.7 225.9,175.4 228.1,174.7 230.3,176.5 232.5,180.0 234.7,182.2 236.9,182.5 239.1,183.1 241.3,184.0 243.5,184.1 245.7,184.4 247.9,183.3 250.1,180.3 252.3,178.2 254.5,177.4 256.7,175.9 258.9,176.3 261.1,177.6 263.3,177.0 265.5,178.5 267.7,180.2 269.9,178.6 272.1,177.5 274.3,178.1 276.5,177.2 278.7,175.9 280.9,174.4 283.1,174.4 285.3,176.7 287.5,177.2 289.7,176.7 291.9,176.6 294.1,176.8 296.3,176.1 298.5,175.0 300.7,173.9 302.9,171.9 305.1,171.7 307.3,175.5 309.5,177.1 311.7,175.9 311.9,176.2" fill="none" stroke="#d62728" stroke-width="0.60" stroke-opacity="0.50" stroke-dasharray="1.8,0.8" stroke-linecap="butt" stroke-linejoin="round"/>
<polyline points="58.7,33.0 59.5,33.3 60.2,33.5 61,33.8 61.8,34.1 62.5,34.3 63.3,34.9 64.1,35.6 64.9,36.3 65.6,37.0 66.4,37.7 67.2,38.3 67.9,39.0 68.7,39.7 69.7,40.6 71.9,42.5 74.1,44.8 76.3,47.0 78.5,49.3 80.7,51.7 82.9,54.3 85.1,56.9 87.3,59.6 89.5,62.2 91.7,64.5 93.9,66.6 96.1,68.8 98.3,71.0 100.5,73.2 102.7,75.2 104.9,77.2 107.1,79.3 109.3,80.9 111.5,83.1 113.7,85.7 115.9,88.7 118.1,92.0 120.3,94.9 122.5,97.1 124.7,99.4 126.9,102.4 129.1,106.5 131.3,110.5 133.5,112.9 135.7,115.8 137.9,120.3 140.1,124.5 142.3,126.4 144.5,124.9 146.7,123.4 148.9,126.3 151.1,130.4 153.3,132.2 155.5,133.9 157.7,137.7 159.9,141.8 162.1,142.9 164.3,141.0 166.5,139.2 168.7,141.1 170.9,145.8 173.1,148.0 175.3,146.8 177.5,145.6 179.7,145.3 181.9,147.5 184.1,151.4 186.3,154.8 188.5,156.4 190.7,154.7 192.9,152.6 195.1,152.9 197.3,154.2 199.5,156.2 201.7,157.8 203.9,158.1 206.1,157.9 208.3,158.0 210.5,159.3 212.7,160.2 214.9,161.4 217.1,160.6 219.3,158.0 221.5,157.4 223.7,158.5 225.9,158.9 228.1,158.7 230.3,158.3 232.5,157.8 234.7,158.4 236.9,160.9 239.1,163.5 241.3,164.6 243.5,165.0 245.7,163.5 247.9,161.4 250.1,160.0 252.3,157.7 254.5,156.6 256.7,158.9 258.9,163.3 261.1,164.9 263.3,163.7 265.5,162.7 267.7,161.8 269.9,163.4 272.1,166.2 274.3,167.1 276.5,164.7 278.7,160.3 280.9,156.6 283.1,155.1 285.3,156.7 287.5,160.7 289.7,163.4 291.9,164.0 294.1,164.7 296.3,166.5 298.5,165.2 300.7,162.4 302.9,162.7 305.1,163.2 307.3,161.4 309.5,159.3 311.7,158.8 312.2,160.0" fill="none" stroke="#d62728" stroke-width="0.60" stroke-opacity="0.50" stroke-dasharray="1.8,0.8" stroke-linecap="butt" stroke-linejoin="round"/>
<polyline points="58.7,33.0 59.5,35.0 60.2,37.0 61,39.0 61.8,40.9 62.5,42.9 63.3,44.2 64.1,45.4 64.9,46.5 65.6,47.7 66.4,48.8 67.2,50.0 67.9,51.1 68.7,52.3 69.7,53.8 71.9,57.1 74.1,61.0 76.3,65.0 78.5,69.0 80.7,73.1 82.9,77.4 85.1,81.8 87.3,86.2 89.5,90.5 91.7,93.5 93.9,96.1 96.1,98.7 98.3,101.3 100.5,103.8 102.7,106.2 104.9,108.5 107.1,110.9 109.3,113.0 111.5,115.5 113.7,118.7 115.9,122.3 118.1,125.9 120.3,129.3 122.5,131.6 124.7,133.5 126.9,136.3 129.1,139.9 131.3,143.7 133.5,147.6 135.7,151.2 137.9,154.3 140.1,157.6 142.3,158.4 144.5,159.1 146.7,160.7 148.9,162.8 151.1,163.9 153.3,163.2 155.5,162.4 157.7,162.2 159.9,163.7 162.1,164.8 164.3,163.3 166.5,161.0 168.7,161.9 170.9,165.5 173.1,167.0 175.3,166.9 177.5,168.6 179.7,171.1 181.9,173.0 184.1,174.2 186.3,176.0 188.5,178.6 190.7,179.5 192.9,178.5 195.1,178.0 197.3,179.2 199.5,181.1 201.7,181.5 203.9,181.5 206.1,181.7 208.3,181.2 210.5,181.0 212.7,182.3 214.9,184.3 217.1,184.3 219.3,181.3 221.5,179.7 223.7,178.7 225.9,175.1 228.1,170.1 230.3,169.0 232.5,172.9 234.7,176.3 236.9,175.0 239.1,172.0 241.3,171.2 243.5,170.7 245.7,169.7 247.9,169.7 250.1,168.9 252.3,168.8 254.5,170.1 256.7,172.3 258.9,174.4 261.1,173.4 263.3,171.9 265.5,172.9 267.7,173.2 269.9,172.8 272.1,172.9 274.3,171.5 276.5,169.5 278.7,170.1 280.9,171.1 283.1,170.8 285.3,172.3 287.5,173.7 289.7,172.2 291.9,171.0 294.1,173.6 296.3,175.6 298.5,176.3 300.7,175.2 302.9,173.6 305.1,172.8 307.3,173.2 309.5,176.2 311.7,179.3 311.9,179.5" fill="none" stroke="#d62728" stroke-width="0.60" stroke-opacity="0.50" stroke-dasharray="1.8,0.8" stroke-linecap="butt" stroke-linejoin="round"/>
<polyline points="58.7,33.0 59.5,33.8 60.2,34.5 61,35.3 61.8,36.1 62.5,36.9 63.3,38.4 64.1,40.2 64.9,41.9 65.6,43.7 66.4,45.5 67.2,47.2 67.9,49.0 68.7,50.7 69.7,53.0 71.9,58.1 74.1,58.9 76.3,59.5 78.5,60.1 80.7,60.8 82.9,61.8 85.1,62.8 87.3,63.8 89.5,64.8 91.7,67.4 93.9,70.4 96.1,73.4 98.3,76.5 100.5,79.7 102.7,82.9 104.9,85.9 107.1,89.0 109.3,92.3 111.5,95.5 113.7,98.2 115.9,100.3 118.1,101.9 120.3,103.8 122.5,106.7 124.7,109.8 126.9,112.5 129.1,114.5 131.3,116.2 133.5,118.0 135.7,119.7 137.9,122.2 140.1,125.6 142.3,128.8 144.5,131.5 146.7,134.4 148.9,135.9 151.1,137.2 153.3,139.3 155.5,140.5 157.7,141.0 159.9,141.6 162.1,140.9 164.3,140.5 166.5,144.5 168.7,149.4 170.9,151.3 173.1,151.6 175.3,150.4 177.5,150.0 179.7,152.2 181.9,152.2 184.1,150.3 186.3,150.6 188.5,152.5 190.7,154.5 192.9,154.9 195.1,154.7 197.3,157.2 199.5,158.2 201.7,157.9 203.9,157.3 206.1,155.3 208.3,155.5 210.5,157.4 212.7,159.4 214.9,163.0 217.1,166.8 219.3,166.3 221.5,164.7 223.7,164.6 225.9,164.9 228.1,165.0 230.3,164.9 232.5,166.3 234.7,169.0 236.9,169.8 239.1,168.6 241.3,168.5 243.5,168.0 245.7,166.7 247.9,166.8 250.1,170.6 252.3,174.6 254.5,177.6 256.7,180.3 258.9,181.8 261.1,182.4 263.3,181.1 265.5,178.6 267.7,177.3 269.9,176.7 272.1,175.6 274.3,172.5 276.5,171.3 278.7,173.8 280.9,174.8 283.1,175.4 285.3,176.8 287.5,177.0 289.7,176.8 291.9,175.3 294.1,171.4 296.3,170.4 298.5,172.9 300.7,173.9 302.9,174.6 305.1,175.2 307.3,174.3 309.5,173.2 311.7,172.5 312.1,171.9" fill="none" stroke="#d62728" stroke-width="0.60" stroke-opacity="0.50" stroke-dasharray="1.8,0.8" stroke-linecap="butt" stroke-linejoin="round"/>
<polyline points="58.7,33.0 59.5,35.2 60.2,37.4 61,39.6 61.8,41.8 62.5,43.9 63.3,45.3 64.1,46.5 64.9,47.7 65.6,48.8 66.4,50.0 67.2,51.2 67.9,52.3 68.7,53.5 69.7,55.0 71.9,58.3 74.1,60.4 76.3,62.4 78.5,64.3 80.7,66.4 82.9,68.8 85.1,71.2 87.3,73.5 89.5,75.9 91.7,78.9 93.9,82.1 96.1,85.4 98.3,88.6 100.5,91.6 102.7,94.6 104.9,97.9 107.1,101.2 109.3,104.2 111.5,106.5 113.7,108.6 115.9,111.2 118.1,114.0 120.3,115.6 122.5,116.7 124.7,118.6 126.9,121.5 129.1,124.8 131.3,127.0 133.5,129.1 135.7,132.2 137.9,133.5 140.1,134.3 142.3,139.3 144.5,145.0 146.7,147.1 148.9,147.0 151.1,150.7 153.3,156.3 155.5,159.2 157.7,160.4 159.9,163.0 162.1,167.2 164.3,169.7 166.5,170.0 168.7,172.1 170.9,174.6 173.1,176.2 175.3,178.7 177.5,180.3 179.7,180.0 181.9,180.4 184.1,182.0 186.3,182.5 188.5,179.7 190.7,178.5 192.9,181.7 195.1,184.1 197.3,184.0 199.5,185.5 201.7,187.7 203.9,186.1 206.1,182.1 208.3,181.9 210.5,184.4 212.7,185.5 214.9,185.6 217.1,184.1 219.3,183.4 221.5,184.1 223.7,183.5 225.9,183.3 228.1,185.6 230.3,185.5 232.5,181.3 234.7,178.6 236.9,179.3 239.1,181.5 241.3,183.4 243.5,183.5 245.7,182.3 247.9,181.5 250.1,182.1 252.3,182.3 254.5,180.9 256.7,181.8 258.9,183.4 261.1,184.0 263.3,184.0 265.5,184.7 267.7,185.7 269.9,186.5 272.1,186.6 274.3,186.4 276.5,186.6 278.7,186.6 280.9,184.0 283.1,180.6 285.3,180.4 287.5,181.4 289.7,180.6 291.9,181.6 294.1,184.4 296.3,184.9 298.5,184.6 300.7,184.3 302.9,183.7 305.1,181.8 307.3,179.8 309.5,179.3 311.7,178.7 312.5,176.4" fill="none" stroke="#d62728" stroke-width="0.60" stroke-opacity="0.50" stroke-dasharray="1.8,0.8" stroke-linecap="butt" stroke-linejoin="round"/>
<polyline points="58.7,33.0 59.5,33.4 60.2,33.8 61,34.2 61.8,34.6 62.5,35.0 63.3,36.0 64.1,37.1 64.9,38.2 65.6,39.3 66.4,40.4 67.2,41.5 67.9,42.6 68.7,43.7 69.7,45.2 71.9,48.3 74.1,50.0 76.3,51.6 78.5,53.3 80.7,55.0 82.9,57.0 85.1,59.0 87.3,61.0 89.5,63.0 91.7,65.2 93.9,67.4 96.1,69.6 98.3,71.8 100.5,74.3 102.7,76.7 104.9,79.0 107.1,81.3 109.3,83.3 111.5,84.8 113.7,86.0 115.9,87.3 118.1,88.7 120.3,90.8 122.5,92.7 124.7,94.2 126.9,96.4 129.1,97.2 131.3,96.9 133.5,97.9 135.7,99.0 137.9,99.8 140.1,101.4 142.3,106.2 144.5,111.2 146.7,115.3 148.9,116.4 151.1,116.6 153.3,118.4 155.5,123.0 157.7,129.1 159.9,134.0 162.1,138.1 164.3,140.6 166.5,140.5 168.7,140.8 170.9,142.4 173.1,143.8 175.3,144.4 177.5,146.1 179.7,149.3 181.9,151.7 184.1,152.3 186.3,152.5 188.5,152.5 190.7,151.8 192.9,149.9 195.1,150.0 197.3,153.4 199.5,156.3 201.7,158.9 203.9,160.1 206.1,158.3 208.3,155.8 210.5,154.2 212.7,155.0 214.9,155.2 217.1,153.6 219.3,155.0 221.5,158.9 223.7,160.0 225.9,158.3 228.1,156.9 230.3,158.7 232.5,160.9 234.7,160.9 236.9,160.6 239.1,161.0 241.3,162.7 243.5,162.5 245.7,158.6 247.9,158.5 250.1,163.9 252.3,168.2 254.5,167.8 256.7,165.1 258.9,163.1 261.1,163.1 263.3,162.5 265.5,161.7 267.7,162.6 269.9,163.7 272.1,164.5 274.3,166.1 276.5,167.5 278.7,168.8 280.9,171.0 283.1,173.5 285.3,174.5 287.5,172.8 289.7,171.6 291.9,173.2 294.1,173.9 296.3,173.9 298.5,174.0 300.7,173.4 302.9,173.0 305.1,173.3 307.3,175.9 309.5,177.6 311.7,176.1 312,175.0" fill="none" stroke="#d62728" stroke-width="0.60" stroke-opacity="0.50" stroke-dasharray="1.8,0.8" stroke-linecap="butt" stroke-linejoin="round"/>
<polyline points="58.7,33.0 59.5,34.1 60.2,35.2 61,36.3 61.8,37.4 62.5,38.4 63.3,39.9 64.1,41.4 64.9,42.9 65.6,44.4 66.4,45.9 67.2,47.4 67.9,48.9 68.7,50.4 69.7,52.4 71.9,56.7 74.1,58.8 76.3,60.9 78.5,63.0 80.7,65.2 82.9,67.6 85.1,70.1 87.3,72.5 89.5,75.0 91.7,77.9 93.9,80.9 96.1,83.9 98.3,87.0 100.5,89.9 102.7,92.8 104.9,95.8 107.1,99.3 109.3,102.4 111.5,103.6 113.7,103.7 115.9,104.4 118.1,106.7 120.3,109.6 122.5,111.5 124.7,112.6 126.9,112.5 129.1,111.3 131.3,112.8 133.5,117.5 135.7,120.4 137.9,119.3 140.1,118.4 142.3,119.7 144.5,120.4 146.7,123.9 148.9,129.3 151.1,131.7 153.3,130.8 155.5,130.3 157.7,131.9 159.9,132.9 162.1,135.1 164.3,139.4 166.5,141.0 168.7,140.4 170.9,142.8 173.1,145.0 175.3,144.8 177.5,145.3 179.7,146.5 181.9,148.3 184.1,149.7 186.3,150.6 188.5,154.0 190.7,158.2 192.9,160.4 195.1,161.6 197.3,161.6 199.5,160.9 201.7,162.8 203.9,165.7 206.1,164.5 208.3,162.1 210.5,162.6 212.7,163.7 214.9,162.7 217.1,160.0 219.3,160.1 221.5,163.6 223.7,165.8 225.9,164.8 228.1,164.3 230.3,166.6 232.5,168.4 234.7,168.1 236.9,167.6 239.1,168.0 241.3,167.9 243.5,167.9 245.7,168.4 247.9,168.4 250.1,168.1 252.3,166.9 254.5,167.0 256.7,168.7 258.9,169.4 261.1,168.1 263.3,168.8 265.5,171.4 267.7,173.2 269.9,174.8 272.1,176.8 274.3,178.4 276.5,178.2 278.7,177.0 280.9,176.6 283.1,175.9 285.3,174.6 287.5,174.1 289.7,173.9 291.9,172.9 294.1,174.8 296.3,179.0 298.5,181.9 300.7,181.9 302.9,180.0 305.1,179.7 307.3,180.9 309.5,180.9 311.7,181.9 312,183.3" fill="none" stroke="#d62728" stroke-width="0.60" stroke-opacity="0.50" stroke-dasharray="1.8,0.8" stroke-linecap="butt" stroke-linejoin="round"/>
<polyline points="58.7,33.0 59.5,34.9 60.2,36.8 61,38.6 61.8,40.5 62.5,42.4 63.3,43.7 64.1,44.8 64.9,45.9 65.6,47.1 66.4,48.2 67.2,49.3 67.9,50.4 68.7,51.6 69.7,53.0 71.9,56.3 74.1,58.6 76.3,61.0 78.5,63.3 80.7,65.8 82.9,68.5 85.1,71.3 87.3,74.0 89.5,76.7 91.7,79.6 93.9,82.5 96.1,85.3 98.3,88.1 100.5,90.8 102.7,93.6 104.9,96.6 107.1,99.7 109.3,102.5 111.5,104.7 113.7,106.9 115.9,109.1 118.1,111.1 120.3,113.0 122.5,115.2 124.7,116.8 126.9,118.3 129.1,120.5 131.3,122.4 133.5,123.7 135.7,125.8 137.9,129.1 140.1,132.9 142.3,135.6 144.5,136.0 146.7,137.6 148.9,141.1 151.1,145.6 153.3,150.6 155.5,154.5 157.7,156.7 159.9,157.0 162.1,157.5 164.3,159.6 166.5,162.0 168.7,162.7 170.9,163.8 173.1,165.9 175.3,166.6 177.5,168.5 179.7,173.3 181.9,177.1 184.1,177.5 186.3,175.7 188.5,174.0 190.7,175.0 192.9,178.2 195.1,180.8 197.3,181.2 199.5,179.8 201.7,179.1 203.9,179.5 206.1,181.6 208.3,184.3 210.5,186.6 212.7,186.7 214.9,183.7 217.1,182.1 219.3,184.7 221.5,186.2 223.7,186.1 225.9,187.2 228.1,188.1 230.3,186.3 232.5,185.2 234.7,187.1 236.9,188.0 239.1,187.4 241.3,189.2 243.5,192.0 245.7,193.4 247.9,192.4 250.1,190.5 252.3,190.4 254.5,192.0 256.7,192.9 258.9,190.9 261.1,189.8 263.3,190.6 265.5,189.7 267.7,186.7 269.9,185.3 272.1,186.9 274.3,190.1 276.5,190.1 278.7,187.4 280.9,184.4 283.1,183.4 285.3,186.6 287.5,189.0 289.7,186.7 291.9,185.0 294.1,184.7 296.3,183.6 298.5,182.7 300.7,184.1 302.9,185.4 305.1,184.7 307.3,182.7 309.5,182.7 311.7,184.3 312.6,185.5" fill="none" stroke="#d62728" stroke-width="0.60" stroke-opacity="0.50" stroke-dasharray="1.8,0.8" stroke-linecap="butt" stroke-linejoin="round"/>
<polyline points="58.7,33.0 59.5,34.1 60.2,35.1 61,36.2 61.8,37.2 62.5,38.3 63.3,38.6 64.1,38.8 64.9,39.0 65.6,39.1 66.4,39.3 67.2,39.5 67.9,39.7 68.7,39.8 69.7,40.1 71.9,40.6 74.1,43.6 76.3,46.8 78.5,50.0 80.7,53.4 82.9,56.9 85.1,60.5 87.3,64.1 89.5,67.7 91.7,69.7 93.9,71.2 96.1,72.8 98.3,74.4 100.5,76.1 102.7,77.8 104.9,79.2 107.1,80.1 109.3,81.0 111.5,83.0 113.7,85.5 115.9,87.8 118.1,89.9 120.3,91.7 122.5,94.2 124.7,96.8 126.9,98.4 129.1,100.0 131.3,102.1 133.5,105.0 135.7,109.1 137.9,112.0 140.1,111.5 142.3,112.0 144.5,115.6 146.7,120.1 148.9,122.4 151.1,123.2 153.3,123.2 155.5,124.5 157.7,127.5 159.9,131.3 162.1,133.4 164.3,133.6 166.5,134.8 168.7,139.0 170.9,142.5 173.1,144.5 175.3,144.1 177.5,143.0 179.7,147.1 181.9,153.8 184.1,156.7 186.3,154.5 188.5,153.0 190.7,154.7 192.9,156.5 195.1,155.3 197.3,154.7 199.5,155.3 201.7,156.1 203.9,157.2 206.1,157.7 208.3,159.3 210.5,161.4 212.7,161.1 214.9,159.2 217.1,157.6 219.3,157.6 221.5,158.9 223.7,160.3 225.9,161.3 228.1,163.0 230.3,164.3 232.5,164.1 234.7,163.4 236.9,162.7 239.1,163.2 241.3,165.4 243.5,166.7 245.7,163.8 247.9,160.8 250.1,162.2 252.3,165.2 254.5,166.1 256.7,165.6 258.9,164.8 261.1,164.3 263.3,167.2 265.5,171.7 267.7,172.5 269.9,171.2 272.1,170.5 274.3,170.2 276.5,168.4 278.7,166.1 280.9,167.0 283.1,168.3 285.3,167.1 287.5,165.3 289.7,165.8 291.9,167.4 294.1,169.3 296.3,170.8 298.5,171.0 300.7,172.0 302.9,172.7 305.1,171.7 307.3,171.1 309.5,171.4 311.7,171.4 311.8,171.9" fill="none" stroke="#d62728" stroke-width="0.60" stroke-opacity="0.50" stroke-dasharray="1.8,0.8" stroke-linecap="butt" stroke-linejoin="round"/>
<polyline points="58.7,33.0 59.5,33.4 60.2,33.9 61,34.3 61.8,34.8 62.5,35.2 63.3,35.9 64.1,36.7 64.9,37.5 65.6,38.3 66.4,39.0 67.2,39.8 67.9,40.6 68.7,41.4 69.7,42.4 71.9,44.7 74.1,46.8 76.3,49.0 78.5,51.2 80.7,53.5 82.9,56.1 85.1,58.7 87.3,61.2 89.5,63.8 91.7,66.0 93.9,68.2 96.1,70.4 98.3,72.7 100.5,74.8 102.7,77.0 104.9,79.3 107.1,81.5 109.3,83.2 111.5,85.2 113.7,87.8 115.9,91.1 118.1,94.5 120.3,97.2 122.5,100.0 124.7,103.1 126.9,106.2 129.1,109.0 131.3,111.7 133.5,114.5 135.7,117.1 137.9,119.1 140.1,122.0 142.3,125.6 144.5,126.7 146.7,128.1 148.9,129.8 151.1,130.1 153.3,132.1 155.5,135.4 157.7,136.9 159.9,136.4 162.1,135.9 164.3,137.2 166.5,139.7 168.7,144.4 170.9,149.2 173.1,151.4 175.3,150.7 177.5,148.5 179.7,147.3 181.9,147.7 184.1,148.3 186.3,148.6 188.5,147.7 190.7,146.5 192.9,145.3 195.1,144.6 197.3,144.8 199.5,147.1 201.7,149.7 203.9,149.7 206.1,149.6 208.3,150.8 210.5,151.8 212.7,153.8 214.9,155.4 217.1,155.5 219.3,154.3 221.5,154.0 223.7,155.4 225.9,156.1 228.1,157.2 230.3,159.1 232.5,159.6 234.7,158.4 236.9,158.3 239.1,160.3 241.3,162.5 243.5,163.4 245.7,162.1 247.9,159.9 250.1,161.0 252.3,165.0 254.5,166.3 256.7,165.8 258.9,165.4 261.1,164.4 263.3,163.1 265.5,164.0 267.7,164.5 269.9,162.7 272.1,162.6 274.3,166.1 276.5,167.8 278.7,166.3 280.9,164.3 283.1,163.0 285.3,162.0 287.5,163.5 289.7,164.2 291.9,161.8 294.1,159.8 296.3,161.9 298.5,165.1 300.7,165.0 302.9,163.4 305.1,163.8 307.3,166.4 309.5,169.7 311.7,172.0 313,173.0" fill="none" stroke="#d62728" stroke-width="0.60" stroke-opacity="0.50" stroke-dasharray="1.8,0.8" stroke-linecap="butt" stroke-linejoin="round"/>
<polyline points="58.7,33.0 59.5,34.9 60.2,36.9 61,38.8 61.8,40.7 62.5,42.7 63.3,43.7 64.1,44.5 64.9,45.3 65.6,46.1 66.4,46.9 67.2,47.6 67.9,48.4 68.7,49.2 69.7,50.3 71.9,52.5 74.1,56.0 76.3,59.5 78.5,63.1 80.7,66.8 82.9,70.7 85.1,74.6 87.3,78.5 89.5,82.5 91.7,85.8 93.9,88.8 96.1,92.0 98.3,95.1 100.5,98.1 102.7,100.9 104.9,103.7 107.1,106.5 109.3,109.0 111.5,112.2 113.7,114.9 115.9,117.0 118.1,119.7 120.3,123.2 122.5,127.4 124.7,131.4 126.9,134.0 129.1,136.6 131.3,140.0 133.5,142.8 135.7,145.1 137.9,148.2 140.1,151.9 142.3,151.9 144.5,150.2 146.7,150.5 148.9,152.9 151.1,155.0 153.3,154.8 155.5,154.4 157.7,155.8 159.9,157.5 162.1,157.2 164.3,154.6 166.5,153.6 168.7,154.1 170.9,154.5 173.1,157.1 175.3,160.3 177.5,162.8 179.7,164.1 181.9,164.8 184.1,165.9 186.3,167.8 188.5,170.3 190.7,171.9 192.9,172.0 195.1,174.5 197.3,179.5 199.5,182.3 201.7,182.1 203.9,182.8 206.1,183.6 208.3,183.2 210.5,182.9 212.7,180.8 214.9,178.1 217.1,179.6 219.3,181.8 221.5,182.0 223.7,182.1 225.9,181.6 228.1,180.3 230.3,180.2 232.5,181.7 234.7,181.8 236.9,181.1 239.1,180.1 241.3,180.5 243.5,181.7 245.7,180.9 247.9,181.3 250.1,182.6 252.3,182.1 254.5,180.4 256.7,180.4 258.9,182.0 261.1,181.2 263.3,179.2 265.5,178.9 267.7,179.4 269.9,178.9 272.1,177.4 274.3,178.4 276.5,181.6 278.7,182.4 280.9,180.5 283.1,177.8 285.3,177.8 287.5,180.5 289.7,182.8 291.9,183.0 294.1,181.9 296.3,181.3 298.5,182.8 300.7,184.0 302.9,183.5 305.1,184.5 307.3,186.5 309.5,186.2 311.7,184.3 313.1,183.5" fill="none" stroke="#d62728" stroke-width="0.60" stroke-opacity="0.50" stroke-dasharray="1.8,0.8" stroke-linecap="butt" stroke-linejoin="round"/>
<polyline points="58.7,33.0 59.5,34.4 60.2,35.9 61,37.3 61.8,38.7 62.5,40.1 63.3,41.5 64.1,42.7 64.9,44.0 65.6,45.3 66.4,46.6 67.2,47.9 67.9,49.1 68.7,50.4 69.7,52.1 71.9,55.8 74.1,59.1 76.3,62.5 78.5,65.9 80.7,69.3 82.9,73.1 85.1,76.8 87.3,80.6 89.5,84.3 91.7,86.1 93.9,87.3 96.1,88.4 98.3,89.6 100.5,90.8 102.7,92.0 104.9,93.0 107.1,93.8 109.3,94.6 111.5,98.1 113.7,102.7 115.9,106.6 118.1,110.2 120.3,113.9 122.5,117.5 124.7,121.6 126.9,126.8 129.1,132.7 131.3,137.5 133.5,140.4 135.7,143.5 137.9,147.0 140.1,150.1 142.3,152.5 144.5,156.5 146.7,158.5 148.9,157.3 151.1,155.6 153.3,156.0 155.5,156.3 157.7,155.4 159.9,155.0 162.1,155.3 164.3,155.9 166.5,155.2 168.7,153.0 170.9,150.7 173.1,150.0 175.3,152.1 177.5,155.2 179.7,157.7 181.9,157.4 184.1,156.8 186.3,158.7 188.5,159.8 190.7,160.6 192.9,160.6 195.1,159.7 197.3,160.1 199.5,162.0 201.7,163.9 203.9,163.2 206.1,163.8 208.3,167.1 210.5,167.7 212.7,167.4 214.9,166.6 217.1,164.2 219.3,164.0 221.5,165.0 223.7,166.3 225.9,168.7 228.1,168.9 230.3,167.0 232.5,167.0 234.7,168.6 236.9,170.4 239.1,170.7 241.3,171.4 243.5,172.3 245.7,172.4 247.9,171.7 250.1,169.7 252.3,168.5 254.5,169.4 256.7,169.5 258.9,168.9 261.1,167.7 263.3,167.8 265.5,169.5 267.7,170.1 269.9,171.0 272.1,173.0 274.3,173.0 276.5,172.6 278.7,173.8 280.9,173.2 283.1,172.3 285.3,173.0 287.5,173.6 289.7,174.9 291.9,176.5 294.1,175.1 296.3,172.2 298.5,172.4 300.7,173.0 302.9,173.5 305.1,175.3 307.3,175.1 309.5,173.3 311.7,174.4 312.4,175.5" fill="none" stroke="#d62728" stroke-width="0.60" stroke-opacity="0.50" stroke-dasharray="1.8,0.8" stroke-linecap="butt" stroke-linejoin="round"/>
<polyline points="58.7,33.0 59.5,34.4 60.2,35.9 61,37.3 61.8,38.8 62.5,40.2 63.3,40.7 64.1,41.0 64.9,41.3 65.6,41.6 66.4,41.9 67.2,42.2 67.9,42.5 68.7,42.8 69.7,43.2 71.9,44.1 74.1,47.0 76.3,49.9 78.5,52.9 80.7,56.0 82.9,59.3 85.1,62.6 87.3,66.0 89.5,69.3 91.7,71.2 93.9,72.6 96.1,74.0 98.3,75.3 100.5,76.4 102.7,77.7 104.9,79.2 107.1,80.9 109.3,82.0 111.5,83.9 113.7,86.1 115.9,88.3 118.1,91.3 120.3,95.5 122.5,99.2 124.7,101.2 126.9,102.3 129.1,104.7 131.3,107.9 133.5,111.4 135.7,115.3 137.9,117.7 140.1,118.8 142.3,119.1 144.5,120.5 146.7,121.9 148.9,123.4 151.1,124.5 153.3,125.1 155.5,125.2 157.7,126.0 159.9,128.4 162.1,132.6 164.3,135.1 166.5,133.9 168.7,132.4 170.9,131.4 173.1,132.7 175.3,136.8 177.5,142.2 179.7,144.5 181.9,142.5 184.1,142.0 186.3,144.4 188.5,146.1 190.7,145.2 192.9,147.2 195.1,150.4 197.3,153.1 199.5,154.9 201.7,154.7 203.9,154.6 206.1,154.6 208.3,157.0 210.5,158.9 212.7,156.2 214.9,154.5 217.1,156.7 219.3,158.0 221.5,156.5 223.7,154.6 225.9,154.6 228.1,156.8 230.3,156.9 232.5,155.5 234.7,157.0 236.9,158.2 239.1,158.3 241.3,158.3 243.5,158.3 245.7,160.6 247.9,162.6 250.1,160.8 252.3,159.3 254.5,163.3 256.7,168.7 258.9,168.4 261.1,165.8 263.3,166.6 265.5,167.4 267.7,167.1 269.9,166.6 272.1,168.9 274.3,171.0 276.5,168.4 278.7,166.0 280.9,165.3 283.1,163.4 285.3,164.5 287.5,168.3 289.7,169.8 291.9,167.5 294.1,165.7 296.3,167.8 298.5,169.8 300.7,169.3 302.9,166.7 305.1,165.7 307.3,167.5 309.5,169.6 311.7,170.3 312.2,168.9" fill="none" stroke="#d62728" stroke-width="0.60" stroke-opacity="0.50" stroke-dasharray="1.8,0.8" stroke-linecap="butt" stroke-linejoin="round"/>
<polyline points="58.7,33.0 59.5,33.9 60.2,34.8 61,35.7 61.8,36.7 62.5,37.6 63.3,38.3 64.1,39.0 64.9,39.7 65.6,40.4 66.4,41.1 67.2,41.8 67.9,42.5 68.7,43.2 69.7,44.1 71.9,46.1 74.1,46.6 76.3,47.1 78.5,47.5 80.7,48.1 82.9,49.0 85.1,49.8 87.3,50.6 89.5,51.5 91.7,54.5 93.9,58.2 96.1,62.0 98.3,65.8 100.5,69.6 102.7,73.3 104.9,76.7 107.1,79.9 109.3,83.8 111.5,86.7 113.7,88.4 115.9,89.6 118.1,90.7 120.3,91.4 122.5,92.9 124.7,95.2 126.9,96.3 129.1,96.4 131.3,97.6 133.5,99.9 135.7,101.2 137.9,101.8 140.1,103.8 142.3,107.3 144.5,110.2 146.7,114.1 148.9,115.7 151.1,114.2 153.3,114.8 155.5,117.6 157.7,121.0 159.9,124.6 162.1,126.0 164.3,126.8 166.5,129.4 168.7,130.4 170.9,129.6 173.1,131.3 175.3,135.2 177.5,138.7 179.7,140.5 181.9,143.3 184.1,146.4 186.3,147.0 188.5,146.7 190.7,149.3 192.9,154.6 195.1,158.7 197.3,162.4 199.5,165.4 201.7,164.2 203.9,162.6 206.1,162.8 208.3,163.4 210.5,162.9 212.7,164.0 214.9,166.1 217.1,165.5 219.3,165.0 221.5,165.7 223.7,164.0 225.9,162.0 228.1,163.7 230.3,166.7 232.5,167.1 234.7,166.1 236.9,165.5 239.1,164.2 241.3,163.1 243.5,163.9 245.7,165.9 247.9,165.6 250.1,163.7 252.3,163.0 254.5,164.6 256.7,167.3 258.9,167.2 261.1,166.0 263.3,164.8 265.5,164.0 267.7,163.2 269.9,163.9 272.1,163.5 274.3,162.5 276.5,162.8 278.7,163.6 280.9,162.3 283.1,160.9 285.3,161.0 287.5,159.8 289.7,161.3 291.9,165.6 294.1,167.7 296.3,169.5 298.5,170.9 300.7,168.2 302.9,164.0 305.1,162.9 307.3,165.8 309.5,168.2 311.7,167.7 312.1,164.6" fill="none" stroke="#d62728" stroke-width="0.60" stroke-opacity="0.50" stroke-dasharray="1.8,0.8" stroke-linecap="butt" stroke-linejoin="round"/>
<polyline points="58.7,33.0 59.5,34.2 60.2,35.5 61,36.7 61.8,38.0 62.5,39.2 63.3,39.7 64.1,40.1 64.9,40.5 65.6,40.8 66.4,41.2 67.2,41.6 67.9,41.9 68.7,42.3 69.7,42.8 71.9,43.8 74.1,46.4 76.3,49.0 78.5,51.7 80.7,54.4 82.9,57.5 85.1,60.5 87.3,63.5 89.5,66.5 91.7,69.0 93.9,71.2 96.1,73.4 98.3,75.6 100.5,77.5 102.7,79.6 104.9,81.9 107.1,83.9 109.3,85.8 111.5,88.3 113.7,91.2 115.9,94.4 118.1,97.6 120.3,100.3 122.5,103.5 124.7,107.2 126.9,110.0 129.1,111.6 131.3,114.7 133.5,119.4 135.7,124.5 137.9,128.0 140.1,129.8 142.3,133.6 144.5,137.3 146.7,139.5 148.9,141.5 151.1,144.3 153.3,146.7 155.5,147.9 157.7,152.1 159.9,155.2 162.1,154.5 164.3,156.0 166.5,158.0 168.7,158.4 170.9,158.8 173.1,159.6 175.3,161.6 177.5,162.4 179.7,159.9 181.9,156.2 184.1,156.3 186.3,160.2 188.5,162.9 190.7,162.9 192.9,161.5 195.1,159.8 197.3,157.8 199.5,156.0 201.7,155.4 203.9,156.2 206.1,157.3 208.3,156.7 210.5,156.5 212.7,156.2 214.9,155.3 217.1,157.8 219.3,162.8 221.5,164.7 223.7,162.9 225.9,162.7 228.1,165.4 230.3,166.0 232.5,165.0 234.7,165.4 236.9,163.7 239.1,162.2 241.3,161.2 243.5,159.4 245.7,161.5 247.9,164.3 250.1,164.6 252.3,164.0 254.5,165.5 256.7,167.9 258.9,168.4 261.1,166.5 263.3,163.8 265.5,162.0 267.7,162.6 269.9,164.1 272.1,164.9 274.3,165.6 276.5,163.6 278.7,161.7 280.9,163.6 283.1,167.8 285.3,170.7 287.5,170.9 289.7,169.1 291.9,166.6 294.1,164.7 296.3,164.8 298.5,166.4 300.7,169.2 302.9,170.6 305.1,170.2 307.3,170.3 309.5,172.4 311.7,173.6 311.8,171.7" fill="none" stroke="#d62728" stroke-width="0.60" stroke-opacity="0.50" stroke-dasharray="1.8,0.8" stroke-linecap="butt" stroke-linejoin="round"/>
<polyline points="58.7,33.0 59.5,33.0 60.2,33.0 61,32.9 61.8,32.9 62.5,32.9 63.3,33.8 64.1,35.0 64.9,36.2 65.6,37.4 66.4,38.6 67.2,39.8 67.9,41.0 68.7,42.1 69.7,43.7 71.9,47.1 74.1,49.5 76.3,51.8 78.5,54.1 80.7,56.5 82.9,59.2 85.1,61.9 87.3,64.6 89.5,67.3 91.7,69.4 93.9,71.3 96.1,73.1 98.3,75.0 100.5,76.8 102.7,78.7 104.9,80.4 107.1,81.9 109.3,83.5 111.5,85.5 113.7,87.5 115.9,89.7 118.1,92.0 120.3,93.9 122.5,95.7 124.7,97.5 126.9,100.1 129.1,103.2 131.3,104.4 133.5,104.2 135.7,106.0 137.9,109.5 140.1,111.6 142.3,115.3 144.5,119.8 146.7,123.6 148.9,126.3 151.1,128.3 153.3,131.6 155.5,136.6 157.7,141.4 159.9,143.9 162.1,146.9 164.3,151.4 166.5,154.3 168.7,157.1 170.9,157.9 173.1,157.1 175.3,158.9 177.5,163.2 179.7,166.4 181.9,164.9 184.1,162.3 186.3,160.1 188.5,158.8 190.7,158.9 192.9,159.6 195.1,159.3 197.3,157.1 199.5,156.1 201.7,157.0 203.9,157.2 206.1,155.4 208.3,155.1 210.5,157.9 212.7,160.0 214.9,161.3 217.1,163.7 219.3,165.7 221.5,166.6 223.7,165.8 225.9,163.7 228.1,162.4 230.3,162.0 232.5,161.3 234.7,163.0 236.9,166.0 239.1,167.6 241.3,168.4 243.5,168.2 245.7,166.5 247.9,164.0 250.1,163.6 252.3,163.5 254.5,161.4 256.7,161.9 258.9,164.5 261.1,167.3 263.3,168.7 265.5,166.8 267.7,163.4 269.9,165.2 272.1,168.2 274.3,167.1 276.5,165.7 278.7,165.2 280.9,163.1 283.1,161.2 285.3,162.0 287.5,163.6 289.7,166.0 291.9,167.8 294.1,168.1 296.3,168.5 298.5,168.4 300.7,168.0 302.9,169.7 305.1,171.1 307.3,170.7 309.5,171.0 311.7,171.8 312.1,172.0" fill="none" stroke="#d62728" stroke-width="0.60" stroke-opacity="0.50" stroke-dasharray="1.8,0.8" stroke-linecap="butt" stroke-linejoin="round"/>
<polyline points="58.7,33.0 59.5,33.2 60.2,33.4 61,33.6 61.8,33.8 62.5,34.0 63.3,34.6 64.1,35.2 64.9,35.9 65.6,36.5 66.4,37.2 67.2,37.8 67.9,38.4 68.7,39.1 69.7,39.9 71.9,41.7 74.1,43.6 76.3,45.5 78.5,47.3 80.7,49.3 82.9,51.6 85.1,53.8 87.3,56.1 89.5,58.3 91.7,60.3 93.9,62.2 96.1,64.2 98.3,66.1 100.5,68.0 102.7,69.8 104.9,71.7 107.1,73.8 109.3,75.7 111.5,78.2 113.7,81.2 115.9,84.4 118.1,87.2 120.3,89.5 122.5,92.5 124.7,96.3 126.9,99.3 129.1,101.6 131.3,104.0 133.5,105.9 135.7,108.5 137.9,113.1 140.1,117.4 142.3,119.5 144.5,120.7 146.7,123.3 148.9,128.5 151.1,133.2 153.3,133.7 155.5,131.5 157.7,131.3 159.9,133.9 162.1,137.0 164.3,141.7 166.5,145.3 168.7,146.1 170.9,145.4 173.1,145.3 175.3,147.1 177.5,148.3 179.7,149.0 181.9,151.4 184.1,154.2 186.3,153.6 188.5,151.3 190.7,149.3 192.9,145.6 195.1,143.6 197.3,145.1 199.5,148.8 201.7,151.6 203.9,150.3 206.1,149.8 208.3,152.1 210.5,153.1 212.7,153.1 214.9,153.1 217.1,153.5 219.3,154.4 221.5,154.5 223.7,155.0 225.9,156.3 228.1,156.0 230.3,154.8 232.5,156.2 234.7,160.8 236.9,162.6 239.1,162.6 241.3,161.6 243.5,158.5 245.7,156.5 247.9,156.9 250.1,159.8 252.3,163.4 254.5,165.5 256.7,166.4 258.9,165.0 261.1,163.8 263.3,161.6 265.5,158.4 267.7,158.7 269.9,160.0 272.1,158.1 274.3,158.0 276.5,159.1 278.7,158.9 280.9,158.4 283.1,159.9 285.3,160.9 287.5,161.1 289.7,161.4 291.9,161.6 294.1,161.7 296.3,161.5 298.5,162.2 300.7,162.9 302.9,162.3 305.1,162.7 307.3,163.7 309.5,163.7 311.7,164.4 312.9,164.4" fill="none" stroke="#d62728" stroke-width="0.60" stroke-opacity="0.50" stroke-dasharray="1.8,0.8" stroke-linecap="butt" stroke-linejoin="round"/>
<polyline points="58.7,33.0 59.5,33.9 60.2,34.8 61,35.7 61.8,36.6 62.5,37.5 63.3,38.5 64.1,39.7 64.9,40.8 65.6,41.9 66.4,43.0 67.2,44.1 67.9,45.3 68.7,46.4 69.7,47.9 71.9,51.1 74.1,53.9 76.3,56.6 78.5,59.4 80.7,62.3 82.9,65.5 85.1,68.7 87.3,71.8 89.5,75.0 91.7,77.8 93.9,80.5 96.1,83.3 98.3,86.0 100.5,88.8 102.7,91.7 104.9,94.6 107.1,97.5 109.3,100.0 111.5,102.7 113.7,105.6 115.9,108.8 118.1,113.0 120.3,117.7 122.5,121.5 124.7,124.5 126.9,127.8 129.1,131.4 131.3,133.4 133.5,135.7 135.7,140.9 137.9,147.1 140.1,151.9 142.3,151.5 144.5,148.8 146.7,147.2 148.9,147.6 151.1,149.1 153.3,151.2 155.5,152.9 157.7,153.9 159.9,153.4 162.1,152.2 164.3,152.7 166.5,154.0 168.7,155.2 170.9,156.1 173.1,158.6 175.3,161.6 177.5,164.4 179.7,166.5 181.9,168.5 184.1,170.4 186.3,171.4 188.5,173.0 190.7,176.0 192.9,178.1 195.1,177.9 197.3,177.0 199.5,178.1 201.7,179.2 203.9,178.6 206.1,176.5 208.3,173.3 210.5,171.7 212.7,173.3 214.9,175.7 217.1,176.2 219.3,174.9 221.5,175.3 223.7,176.3 225.9,175.8 228.1,175.3 230.3,176.1 232.5,179.3 234.7,180.9 236.9,177.1 239.1,171.7 241.3,170.5 243.5,171.6 245.7,170.2 247.9,168.4 250.1,169.3 252.3,170.2 254.5,169.6 256.7,171.5 258.9,176.2 261.1,176.0 263.3,171.2 265.5,169.9 267.7,172.8 269.9,175.9 272.1,178.5 274.3,180.6 276.5,180.0 278.7,176.6 280.9,174.5 283.1,177.0 285.3,180.4 287.5,182.0 289.7,181.5 291.9,179.3 294.1,176.8 296.3,176.9 298.5,180.5 300.7,182.6 302.9,180.8 305.1,179.8 307.3,179.0 309.5,177.9 311.7,177.1 312.5,176.2" fill="none" stroke="#d62728" stroke-width="0.60" stroke-opacity="0.50" stroke-dasharray="1.8,0.8" stroke-linecap="butt" stroke-linejoin="round"/>
<polyline points="58.7,33.0 59.5,34.0 60.2,35.1 61,36.1 61.8,37.1 62.5,38.2 63.3,38.8 64.1,39.4 64.9,39.9 65.6,40.5 66.4,41.0 67.2,41.6 67.9,42.1 68.7,42.7 69.7,43.4 71.9,44.9 74.1,46.5 76.3,48.1 78.5,49.7 80.7,51.3 82.9,53.3 85.1,55.3 87.3,57.2 89.5,59.2 91.7,61.4 93.9,63.7 96.1,66.0 98.3,68.3 100.5,70.5 102.7,72.8 104.9,75.2 107.1,77.4 109.3,79.0 111.5,80.5 113.7,82.8 115.9,85.9 118.1,89.0 120.3,91.9 122.5,95.1 124.7,98.1 126.9,100.5 129.1,103.8 131.3,108.6 133.5,111.7 135.7,113.0 137.9,115.0 140.1,117.9 142.3,121.2 144.5,124.3 146.7,127.6 148.9,129.7 151.1,131.2 153.3,134.1 155.5,137.6 157.7,139.1 159.9,138.5 162.1,138.9 164.3,142.7 166.5,147.1 168.7,149.9 170.9,150.8 173.1,150.2 175.3,151.7 177.5,153.8 179.7,153.8 181.9,153.1 184.1,151.0 186.3,150.5 188.5,152.5 190.7,152.9 192.9,152.5 195.1,152.1 197.3,150.4 199.5,151.4 201.7,154.1 203.9,154.8 206.1,156.1 208.3,157.5 210.5,157.4 212.7,159.0 214.9,162.5 217.1,161.9 219.3,159.1 221.5,157.3 223.7,157.0 225.9,157.8 228.1,161.3 230.3,165.4 232.5,165.9 234.7,163.5 236.9,162.0 239.1,162.2 241.3,160.9 243.5,158.6 245.7,158.3 247.9,159.9 250.1,161.4 252.3,161.6 254.5,162.1 256.7,162.2 258.9,161.4 261.1,161.7 263.3,160.9 265.5,159.5 267.7,160.9 269.9,161.6 272.1,161.2 274.3,162.9 276.5,163.4 278.7,161.1 280.9,160.3 283.1,163.3 285.3,167.2 287.5,168.1 289.7,166.8 291.9,166.3 294.1,166.2 296.3,164.2 298.5,163.8 300.7,165.5 302.9,165.7 305.1,164.9 307.3,164.8 309.5,164.1 311.7,163.6 312.8,164.5" fill="none" stroke="#d62728" stroke-width="0.60" stroke-opacity="0.50" stroke-dasharray="1.8,0.8" stroke-linecap="butt" stroke-linejoin="round"/>
<polyline points="58.7,33.0 59.5,34.4 60.2,35.8 61,37.2 61.8,38.7 62.5,40.1 63.3,41.4 64.1,42.6 64.9,43.9 65.6,45.1 66.4,46.4 67.2,47.6 67.9,48.9 68.7,50.2 69.7,51.8 71.9,55.4 74.1,57.7 76.3,60.0 78.5,62.2 80.7,64.6 82.9,67.3 85.1,69.9 87.3,72.6 89.5,75.2 91.7,78.2 93.9,81.3 96.1,84.3 98.3,87.3 100.5,90.4 102.7,93.6 104.9,96.8 107.1,100.1 109.3,103.1 111.5,106.0 113.7,108.9 115.9,111.6 118.1,114.4 120.3,118.1 122.5,122.2 124.7,127.0 126.9,131.2 129.1,132.9 131.3,134.2 133.5,137.4 135.7,140.8 137.9,143.5 140.1,147.4 142.3,150.8 144.5,151.5 146.7,150.8 148.9,150.2 151.1,151.1 153.3,152.7 155.5,153.8 157.7,155.0 159.9,154.6 162.1,153.8 164.3,152.4 166.5,150.6 168.7,151.4 170.9,151.3 173.1,151.4 175.3,152.6 177.5,155.3 179.7,156.8 181.9,157.2 184.1,158.8 186.3,159.0 188.5,157.6 190.7,158.0 192.9,160.0 195.1,160.2 197.3,160.3 199.5,162.6 201.7,164.3 203.9,164.5 206.1,162.2 208.3,158.5 210.5,157.4 212.7,160.4 214.9,163.0 217.1,161.4 219.3,157.7 221.5,156.3 223.7,157.8 225.9,159.3 228.1,161.0 230.3,161.8 232.5,160.0 234.7,159.8 236.9,160.8 239.1,160.4 241.3,161.9 243.5,166.0 245.7,167.3 247.9,164.4 250.1,161.4 252.3,161.7 254.5,166.2 256.7,169.6 258.9,170.7 261.1,171.4 263.3,171.0 265.5,170.5 267.7,171.7 269.9,172.4 272.1,170.4 274.3,168.9 276.5,168.5 278.7,170.2 280.9,171.9 283.1,172.3 285.3,170.8 287.5,169.2 289.7,170.5 291.9,173.6 294.1,176.8 296.3,177.0 298.5,174.8 300.7,175.0 302.9,178.6 305.1,182.7 307.3,187.0 309.5,188.6 311.7,185.3 312.2,182.4" fill="none" stroke="#d62728" stroke-width="0.60" stroke-opacity="0.50" stroke-dasharray="1.8,0.8" stroke-linecap="butt" stroke-linejoin="round"/>
<polyline points="58.7,33.0 59.5,33.7 60.2,34.4 61,35.1 61.8,35.8 62.5,36.6 63.3,37.5 64.1,38.5 64.9,39.4 65.6,40.4 66.4,41.4 67.2,42.3 67.9,43.3 68.7,44.3 69.7,45.6 71.9,48.4 74.1,49.6 76.3,50.8 78.5,51.9 80.7,53.2 82.9,54.8 85.1,56.4 87.3,57.9 89.5,59.5 91.7,62.9 93.9,66.8 96.1,70.7 98.3,74.7 100.5,78.7 102.7,82.7 104.9,86.6 107.1,90.0 109.3,93.1 111.5,95.1 113.7,96.6 115.9,98.7 118.1,100.7 120.3,101.7 122.5,102.7 124.7,104.4 126.9,106.9 129.1,109.1 131.3,109.8 133.5,109.3 135.7,109.5 137.9,111.2 140.1,114.9 142.3,119.6 144.5,121.3 146.7,123.0 148.9,125.6 151.1,126.5 153.3,126.0 155.5,126.8 157.7,129.0 159.9,130.2 162.1,129.9 164.3,130.6 166.5,132.5 168.7,135.5 170.9,140.5 173.1,143.9 175.3,144.1 177.5,144.1 179.7,147.4 181.9,152.3 184.1,154.6 186.3,154.1 188.5,153.0 190.7,151.7 192.9,152.5 195.1,154.7 197.3,155.2 199.5,155.7 201.7,156.7 203.9,157.3 206.1,156.7 208.3,157.0 210.5,158.6 212.7,158.4 214.9,156.8 217.1,156.3 219.3,157.4 221.5,157.8 223.7,155.5 225.9,152.2 228.1,149.9 230.3,150.0 232.5,151.3 234.7,151.0 236.9,149.2 239.1,149.2 241.3,149.6 243.5,149.9 245.7,151.6 247.9,152.8 250.1,153.0 252.3,152.9 254.5,153.8 256.7,153.9 258.9,153.9 261.1,155.3 263.3,157.5 265.5,159.5 267.7,159.3 269.9,158.6 272.1,157.9 274.3,158.1 276.5,159.6 278.7,161.7 280.9,162.2 283.1,161.6 285.3,161.5 287.5,160.1 289.7,159.1 291.9,160.7 294.1,161.8 296.3,161.8 298.5,162.6 300.7,165.5 302.9,169.4 305.1,170.0 307.3,168.8 309.5,167.0 311.7,166.4 312.1,167.1" fill="none" stroke="#d62728" stroke-width="0.60" stroke-opacity="0.50" stroke-dasharray="1.8,0.8" stroke-linecap="butt" stroke-linejoin="round"/>
<polyline points="58.7,33.0 59.5,33.1 60.2,33.1 61,33.2 61.8,33.2 62.5,33.3 63.3,33.9 64.1,34.7 64.9,35.5 65.6,36.3 66.4,37.0 67.2,37.8 67.9,38.6 68.7,39.4 69.7,40.4 71.9,42.7 74.1,45.4 76.3,48.2 78.5,50.9 80.7,53.8 82.9,57.0 85.1,60.1 87.3,63.3 89.5,66.4 91.7,69.2 93.9,72.0 96.1,74.8 98.3,77.6 100.5,80.3 102.7,82.9 104.9,85.7 107.1,88.4 109.3,90.7 111.5,92.6 113.7,94.5 115.9,96.5 118.1,97.8 120.3,98.7 122.5,100.1 124.7,101.7 126.9,105.0 129.1,109.6 131.3,111.3 133.5,111.0 135.7,112.5 137.9,115.4 140.1,117.5 142.3,119.2 144.5,120.4 146.7,121.5 148.9,122.7 151.1,123.3 153.3,126.0 155.5,129.7 157.7,131.6 159.9,132.6 162.1,132.3 164.3,132.5 166.5,133.5 168.7,133.7 170.9,134.5 173.1,137.9 175.3,141.2 177.5,143.5 179.7,144.8 181.9,145.3 184.1,147.6 186.3,150.1 188.5,150.6 190.7,150.4 192.9,151.7 195.1,152.2 197.3,151.4 199.5,150.7 201.7,151.1 203.9,155.0 206.1,159.5 208.3,159.6 210.5,157.4 212.7,156.6 214.9,157.8 217.1,160.1 219.3,161.5 221.5,161.1 223.7,161.1 225.9,163.2 228.1,163.9 230.3,162.3 232.5,162.4 234.7,165.4 236.9,170.1 239.1,172.9 241.3,171.7 243.5,170.2 245.7,170.7 247.9,171.5 250.1,170.3 252.3,169.1 254.5,167.5 256.7,164.7 258.9,163.1 261.1,164.4 263.3,165.7 265.5,165.5 267.7,166.4 269.9,168.3 272.1,168.1 274.3,167.1 276.5,165.4 278.7,163.4 280.9,162.4 283.1,162.9 285.3,164.5 287.5,163.9 289.7,160.7 291.9,160.7 294.1,164.7 296.3,166.9 298.5,164.1 300.7,163.1 302.9,164.3 305.1,163.3 307.3,160.7 309.5,160.4 311.7,161.7 312.1,162.0" fill="none" stroke="#d62728" stroke-width="0.60" stroke-opacity="0.50" stroke-dasharray="1.8,0.8" stroke-linecap="butt" stroke-linejoin="round"/>
<polyline points="58.7,33.0 59.5,35.3 60.2,37.7 61,40.0 61.8,42.3 62.5,44.7 63.3,46.0 64.1,47.0 64.9,48.1 65.6,49.2 66.4,50.2 67.2,51.3 67.9,52.3 68.7,53.4 69.7,54.8 71.9,57.8 74.1,60.7 76.3,63.5 78.5,66.4 80.7,69.4 82.9,72.6 85.1,75.9 87.3,79.1 89.5,82.3 91.7,85.7 93.9,89.1 96.1,92.7 98.3,96.3 100.5,99.9 102.7,103.2 104.9,106.5 107.1,110.0 109.3,113.3 111.5,116.1 113.7,118.9 115.9,122.0 118.1,125.3 120.3,127.5 122.5,129.4 124.7,133.1 126.9,137.5 129.1,139.8 131.3,141.0 133.5,143.4 135.7,146.9 137.9,150.3 140.1,153.3 142.3,157.6 144.5,162.9 146.7,167.5 148.9,168.0 151.1,167.7 153.3,171.9 155.5,175.2 157.7,176.9 159.9,179.3 162.1,180.8 164.3,182.2 166.5,185.9 168.7,190.6 170.9,189.7 173.1,184.5 175.3,183.8 177.5,187.1 179.7,188.3 181.9,187.3 184.1,184.6 186.3,180.4 188.5,178.0 190.7,177.4 192.9,177.7 195.1,177.6 197.3,175.9 199.5,172.7 201.7,172.4 203.9,175.0 206.1,174.9 208.3,173.0 210.5,173.7 212.7,176.8 214.9,177.6 217.1,176.4 219.3,177.0 221.5,179.2 223.7,180.4 225.9,181.9 228.1,183.9 230.3,186.7 232.5,189.5 234.7,189.8 236.9,188.7 239.1,187.5 241.3,186.2 243.5,185.0 245.7,183.8 247.9,182.7 250.1,184.6 252.3,185.9 254.5,184.0 256.7,184.7 258.9,187.3 261.1,185.9 263.3,183.7 265.5,184.4 267.7,185.2 269.9,187.4 272.1,190.8 274.3,190.7 276.5,187.4 278.7,185.3 280.9,185.5 283.1,184.6 285.3,183.8 287.5,185.7 289.7,186.3 291.9,184.5 294.1,183.9 296.3,183.9 298.5,183.5 300.7,183.5 302.9,184.5 305.1,185.8 307.3,185.3 309.5,183.6 311.6,182.0" fill="none" stroke="#d62728" stroke-width="0.60" stroke-opacity="0.50" stroke-dasharray="1.8,0.8" stroke-linecap="butt" stroke-linejoin="round"/>
<polyline points="58.7,33.0 59.5,34.3 60.2,35.6 61,36.9 61.8,38.2 62.5,39.5 63.3,40.1 64.1,40.7 64.9,41.2 65.6,41.8 66.4,42.3 67.2,42.9 67.9,43.4 68.7,44.0 69.7,44.7 71.9,46.3 74.1,48.0 76.3,49.8 78.5,51.6 80.7,53.5 82.9,55.6 85.1,57.8 87.3,60.0 89.5,62.1 91.7,66.2 93.9,70.9 96.1,75.5 98.3,80.2 100.5,84.8 102.7,89.5 104.9,94.3 107.1,99.0 109.3,103.1 111.5,105.5 113.7,107.7 115.9,109.8 118.1,112.3 120.3,114.5 122.5,116.4 124.7,119.7 126.9,122.8 129.1,123.5 131.3,123.8 133.5,126.1 135.7,129.3 137.9,131.0 140.1,133.6 142.3,139.0 144.5,142.6 146.7,143.4 148.9,144.8 151.1,146.6 153.3,148.0 155.5,149.2 157.7,151.6 159.9,152.8 162.1,154.1 164.3,157.3 166.5,159.9 168.7,160.3 170.9,161.4 173.1,164.9 175.3,166.4 177.5,164.8 179.7,163.5 181.9,163.0 184.1,162.2 186.3,162.1 188.5,162.5 190.7,164.3 192.9,166.8 195.1,166.0 197.3,163.5 199.5,162.4 201.7,160.8 203.9,159.1 206.1,161.6 208.3,165.1 210.5,165.6 212.7,165.0 214.9,165.3 217.1,167.0 219.3,168.9 221.5,170.2 223.7,169.2 225.9,166.5 228.1,166.6 230.3,168.2 232.5,167.5 234.7,166.6 236.9,166.0 239.1,163.9 241.3,162.4 243.5,165.1 245.7,167.9 247.9,167.6 250.1,166.5 252.3,167.7 254.5,170.2 256.7,170.2 258.9,171.0 261.1,173.4 263.3,174.8 265.5,176.6 267.7,177.0 269.9,174.8 272.1,172.1 274.3,170.8 276.5,171.0 278.7,172.5 280.9,173.7 283.1,174.1 285.3,174.5 287.5,175.5 289.7,177.3 291.9,177.2 294.1,175.6 296.3,176.1 298.5,177.2 300.7,177.1 302.9,177.3 305.1,178.3 307.3,179.2 309.5,179.6 311.7,181.2 312.2,184.1" fill="none" stroke="#d62728" stroke-width="0.60" stroke-opacity="0.50" stroke-dasharray="1.8,0.8" stroke-linecap="butt" stroke-linejoin="round"/>
<polyline points="58.9,31.0 59.7,66.7 60.4,82.6 61.2,91.0 62,96.5 62.7,101.6 63.5,105.4 64.3,109.0 65.1,111.9 65.8,114.6 66.6,117.2 67.4,118.9 68.1,120.7 68.9,122.3 69.9,124.3 71.5,127.3 73.1,130.1 74.7,131.4 76.3,132.3 77.9,133.1 79.5,133.2 81.1,133.2 82.7,133.5 84.3,133.8 85.9,133.9 87.5,134.7 89.1,135.2 90.7,135.3 92.3,135.7 93.9,135.3 95.5,135.7 97.1,136.9 98.7,138.0 100.3,138.6 101.9,138.9 103.5,138.9 105.1,138.8 106.7,139.0 108.3,139.7 109.9,141.4 111.5,142.4 113.1,142.9 114.7,143.8 116.3,144.4 117.9,144.7 119.5,144.8 121.1,145.0 122.7,145.2 124.3,144.9 125.9,145.2 127.5,146.4 129.1,147.0 130.7,146.4 132.3,145.7 133.9,145.8 135.5,146.0 137.1,146.2 138.7,146.8 140.3,147.6 141.9,147.9 143.5,147.5 145.1,146.6 146.7,145.7 148.3,144.9 149.9,144.3 151.5,143.9 153.1,144.0 154.7,144.4 156.3,144.4 157.9,144.3 159.5,144.2 161.1,143.9 162.7,144.1 164.3,144.5 165.9,144.7 167.5,145.2 169.1,146.3 170.7,147.7 172.3,148.8 173.9,149.1 175.5,148.6 177.1,148.8 178.7,148.8 180.3,148.2 181.9,148.0 183.5,148.5 185.1,148.7 186.7,148.8 188.3,148.8 189.9,148.6 191.5,148.6 193.1,148.9 194.7,148.9 196.3,148.7 197.9,148.8 199.5,148.7 201.1,147.8 202.7,147.1 204.3,146.3 205.9,143.2 207.5,133.5 209.1,121.2 210.7,120.6 212.3,132.1 213.9,141.0 215.5,142.8 217.1,143.1 218.7,143.5 220.3,144.3 221.9,144.8 223.5,144.3 225.1,144.0 226.7,144.4 228.3,144.9 229.9,144.2 231.5,144.9 233.1,146.9 234.7,148.8 236.3,150.6 237.9,152.7 239.5,154.6 241.1,155.2 242.7,154.0 244.3,150.1 245.9,140.1 247.5,131.2 249.1,136.3 250.7,147.4 252.3,152.8 253.9,153.5 255.5,153.4 257.1,152.9 258.7,152.3 260.3,151.3 261.9,150.9 263.5,151.7 265.1,152.5 266.7,152.4 268.3,152.3 269.9,151.5 271.5,150.5 273.1,149.4 274.7,148.7 276.3,148.3 277.9,147.4 279.5,146.2 281.1,143.8 282.7,138.6 284.3,132.3 285.9,130.6 287.5,136.5 289.1,143.3 290.7,145.9 292.3,146.5 293.9,147.6 295.5,148.9 297.1,149.6 298.7,149.8 300.3,148.9 301.9,147.7 303.5,146.5 305.1,146.9 306.7,148.3 308.3,148.8 309.9,149.0 311.5,149.9 312.6,150.7" fill="none" stroke="#2ca02c" stroke-width="0.60" stroke-opacity="0.50" stroke-dasharray="1,0.5" stroke-linecap="butt" stroke-linejoin="round"/>
<polyline points="58.9,31.0 59.7,66.7 60.4,82.6 61.2,91.0 62,96.5 62.7,101.6 63.5,105.4 64.3,109.0 65.1,111.9 65.8,114.6 66.6,117.2 67.4,118.9 68.1,120.7 68.9,122.3 69.9,124.3 71.5,127.1 73.1,129.7 74.7,130.6 76.3,131.3 77.9,131.8 79.5,131.8 81.1,131.7 82.7,131.6 84.3,131.4 85.9,130.9 87.5,130.2 89.1,129.7 90.7,129.4 92.3,129.3 93.9,129.7 95.5,130.1 97.1,130.9 98.7,132.5 100.3,133.2 101.9,132.6 103.5,132.6 105.1,133.5 106.7,134.5 108.3,135.2 109.9,135.4 111.5,135.7 113.1,136.7 114.7,137.1 116.3,136.9 117.9,136.4 119.5,135.3 121.1,135.1 122.7,136.1 124.3,136.6 125.9,136.5 127.5,136.1 129.1,135.7 130.7,136.0 132.3,136.2 133.9,136.2 135.5,136.6 137.1,137.0 138.7,137.2 140.3,137.2 141.9,137.8 143.5,138.4 145.1,138.3 146.7,138.2 148.3,138.8 149.9,139.6 151.5,140.4 153.1,141.5 154.7,142.0 156.3,141.6 157.9,141.5 159.5,141.7 161.1,142.4 162.7,143.2 164.3,144.0 165.9,145.0 167.5,145.8 169.1,145.9 170.7,145.8 172.3,145.7 173.9,145.9 175.5,146.9 177.1,148.1 178.7,149.4 180.3,149.9 181.9,149.3 183.5,148.4 185.1,148.0 186.7,147.9 188.3,147.4 189.9,147.6 191.5,148.7 193.1,148.6 194.7,147.3 196.3,146.4 197.9,145.7 199.5,145.5 201.1,145.7 202.7,145.4 204.3,143.8 205.9,142.4 207.5,142.0 209.1,142.1 210.7,141.9 212.3,140.7 213.9,139.4 215.5,138.1 217.1,135.5 218.7,129.3 220.3,121.6 221.9,116.7 223.5,118.4 225.1,125.4 226.7,131.8 228.3,135.6 229.9,137.7 231.5,140.7 233.1,143.4 234.7,144.8 236.3,145.8 237.9,146.3 239.5,147.5 241.1,148.3 242.7,147.3 244.3,146.8 245.9,146.8 247.5,147.4 249.1,148.0 250.7,147.9 252.3,147.0 253.9,146.0 255.5,145.0 257.1,140.8 258.7,132.9 260.3,123.8 261.9,120.7 263.5,126.7 265.1,136.3 266.7,143.3 268.3,146.7 269.9,146.3 271.5,144.8 273.1,143.8 274.7,142.6 276.3,141.9 277.9,141.4 279.5,140.3 281.1,139.0 282.7,138.6 284.3,139.8 285.9,139.3 287.5,135.7 289.1,134.1 290.7,138.8 292.3,144.6 293.9,147.6 295.5,148.5 297.1,149.0 298.7,149.9 300.3,149.0 301.9,148.1 303.5,147.1 305.1,146.8 306.7,147.6 308.3,148.5 309.9,149.1 311.5,149.5 312.6,149.7" fill="none" stroke="#2ca02c" stroke-width="0.60" stroke-opacity="0.50" stroke-dasharray="1,0.5" stroke-linecap="butt" stroke-linejoin="round"/>
<polyline points="58.9,31.0 59.7,66.7 60.4,82.6 61.2,91.0 62,96.5 62.7,101.6 63.5,105.4 64.3,109.0 65.1,111.9 65.8,114.6 66.6,117.2 67.4,118.9 68.1,120.7 68.9,122.3 69.9,124.3 71.5,127.2 73.1,129.9 74.7,130.8 76.3,131.6 77.9,132.1 79.5,131.7 81.1,131.4 82.7,131.3 84.3,131.4 85.9,131.8 87.5,132.6 89.1,132.9 90.7,132.7 92.3,131.8 93.9,131.3 95.5,131.6 97.1,131.8 98.7,132.2 100.3,132.4 101.9,132.3 103.5,132.4 105.1,133.5 106.7,135.7 108.3,137.1 109.9,136.8 111.5,136.9 113.1,137.8 114.7,138.3 116.3,138.4 117.9,138.4 119.5,138.6 121.1,138.7 122.7,138.5 124.3,137.9 125.9,137.0 127.5,137.3 129.1,138.8 130.7,139.5 132.3,140.0 133.9,140.7 135.5,141.0 137.1,140.9 138.7,141.1 140.3,140.8 141.9,139.6 143.5,138.9 145.1,138.9 146.7,138.7 148.3,139.1 149.9,139.6 151.5,138.8 153.1,138.7 154.7,139.6 156.3,140.2 157.9,139.8 159.5,139.8 161.1,140.0 162.7,140.2 164.3,141.0 165.9,141.9 167.5,142.5 169.1,143.0 170.7,143.4 172.3,143.6 173.9,144.1 175.5,144.3 177.1,144.7 178.7,145.2 180.3,145.5 181.9,145.3 183.5,145.4 185.1,146.4 186.7,147.2 188.3,147.6 189.9,147.9 191.5,147.3 193.1,146.6 194.7,146.7 196.3,146.9 197.9,146.8 199.5,145.6 201.1,144.4 202.7,144.6 204.3,144.9 205.9,144.5 207.5,143.3 209.1,142.7 210.7,143.1 212.3,143.6 213.9,143.5 215.5,142.9 217.1,142.3 218.7,142.0 220.3,141.5 221.9,140.6 223.5,138.5 225.1,133.4 226.7,125.0 228.3,117.7 229.9,115.7 231.5,121.8 233.1,130.8 234.7,137.9 236.3,143.1 237.9,146.1 239.5,146.7 241.1,146.3 242.7,146.1 244.3,145.9 245.9,145.7 247.5,146.2 249.1,147.5 250.7,148.9 252.3,149.0 253.9,148.3 255.5,147.7 257.1,146.9 258.7,146.6 260.3,146.8 261.9,148.0 263.5,149.3 265.1,150.0 266.7,150.3 268.3,150.0 269.9,145.5 271.5,138.7 273.1,139.6 274.7,144.8 276.3,145.3 277.9,143.3 279.5,142.0 281.1,142.3 282.7,142.4 284.3,143.1 285.9,143.7 287.5,143.9 289.1,144.3 290.7,145.4 292.3,146.4 293.9,146.8 295.5,146.8 297.1,146.5 298.7,146.6 300.3,145.7 301.9,142.8 303.5,136.2 305.1,127.9 306.7,122.9 308.3,125.8 309.9,134.8 311.5,143.4 312.6,147.0" fill="none" stroke="#2ca02c" stroke-width="0.60" stroke-opacity="0.50" stroke-dasharray="1,0.5" stroke-linecap="butt" stroke-linejoin="round"/>
<polyline points="58.9,31.0 59.7,66.7 60.4,82.6 61.2,91.0 62,96.5 62.7,101.6 63.5,105.4 64.3,109.0 65.1,111.9 65.8,114.6 66.6,117.2 67.4,118.9 68.1,120.7 68.9,122.3 69.9,124.3 71.5,127.3 73.1,130.2 74.7,131.4 76.3,132.2 77.9,133.1 79.5,133.3 81.1,133.5 82.7,133.5 84.3,133.5 85.9,133.7 87.5,134.5 89.1,135.3 90.7,135.9 92.3,136.1 93.9,136.4 95.5,136.9 97.1,137.1 98.7,138.4 100.3,140.1 101.9,141.3 103.5,142.5 105.1,143.4 106.7,143.8 108.3,144.2 109.9,144.9 111.5,145.8 113.1,147.0 114.7,147.6 116.3,147.8 117.9,148.1 119.5,148.5 121.1,148.6 122.7,148.6 124.3,148.4 125.9,148.0 127.5,147.9 129.1,148.5 130.7,148.8 132.3,148.3 133.9,148.2 135.5,148.8 137.1,149.6 138.7,150.5 140.3,150.4 141.9,149.6 143.5,149.6 145.1,150.5 146.7,151.1 148.3,150.8 149.9,150.6 151.5,151.1 153.1,151.1 154.7,150.6 156.3,150.3 157.9,150.7 159.5,151.6 161.1,152.7 162.7,153.3 164.3,153.1 165.9,152.5 167.5,152.4 169.1,152.7 170.7,153.1 172.3,153.7 173.9,155.0 175.5,155.7 177.1,155.3 178.7,155.2 180.3,155.4 181.9,155.6 183.5,155.9 185.1,156.2 186.7,156.1 188.3,155.0 189.9,154.3 191.5,154.4 193.1,154.1 194.7,153.7 196.3,153.0 197.9,152.7 199.5,152.3 201.1,151.4 202.7,150.6 204.3,150.6 205.9,150.7 207.5,149.9 209.1,149.2 210.7,148.6 212.3,147.5 213.9,147.1 215.5,147.0 217.1,146.8 218.7,147.1 220.3,147.2 221.9,145.4 223.5,139.1 225.1,128.9 226.7,123.7 228.3,131.0 229.9,140.4 231.5,145.8 233.1,149.1 234.7,151.6 236.3,153.1 237.9,154.0 239.5,155.1 241.1,155.7 242.7,154.8 244.3,154.0 245.9,153.5 247.5,153.7 249.1,154.2 250.7,154.2 252.3,154.5 253.9,154.2 255.5,153.3 257.1,152.7 258.7,153.4 260.3,155.0 261.9,156.2 263.5,156.3 265.1,155.6 266.7,154.9 268.3,155.1 269.9,154.9 271.5,154.4 273.1,153.2 274.7,152.0 276.3,151.2 277.9,149.4 279.5,143.6 281.1,135.3 282.7,133.4 284.3,140.4 285.9,146.4 287.5,149.2 289.1,150.9 290.7,152.1 292.3,153.2 293.9,154.3 295.5,155.1 297.1,154.9 298.7,154.3 300.3,152.4 301.9,150.7 303.5,149.9 305.1,150.2 306.7,149.9 308.3,149.6 309.9,151.6 311.5,153.8 312.6,154.8" fill="none" stroke="#2ca02c" stroke-width="0.60" stroke-opacity="0.50" stroke-dasharray="1,0.5" stroke-linecap="butt" stroke-linejoin="round"/>
<polyline points="58.5,30.6 59.3,107.0 60,128.0 60.8,148.9 61.6,155.7 62.3,162.5 63.1,168.7 63.9,171.3 64.7,173.9 65.4,176.4 66.2,178.9 67,181.2 67.7,182.6 68.5,183.1 69.5,183.8 71.7,185.4 73.9,186.0 76.1,186.3 78.3,186.1 80.5,186.0 82.7,185.9 84.9,185.8 87.1,185.9 89.3,187.0 91.5,188.0 93.7,189.1 95.9,190.1 98.1,191.1 100.3,192.0 102.5,192.5 104.7,193.1 106.9,193.7 109.1,194.3 111.3,195.0 113.5,195.7 115.7,196.4 117.9,197.0 120.1,197.5 122.3,198.1 124.5,198.6 126.7,199.1 128.9,199.7 131.1,200.3 133.3,201.0 135.5,201.6 137.7,202.2 139.9,202.8 142.1,203.4 144.3,203.9 146.5,204.3 148.7,204.7 150.9,205.2 153.1,205.6 155.3,206.1 157.5,206.5 159.7,206.9 161.9,207.1 164.1,207.3 166.3,207.6 168.5,207.9 170.7,208.2 172.9,208.6 175.1,209.0 177.3,209.4 179.5,209.8 181.7,210.3 183.9,210.7 186.1,211.1 188.3,211.4 190.5,211.8 192.7,212.1 194.9,212.4 197.1,212.7 199.3,213.0 201.5,213.4 203.7,213.8 205.9,214.2 208.1,214.5 210.3,214.9 212.5,215.3 214.7,215.7 216.9,216.2 219.1,216.7 221.3,217.1 223.5,217.5 225.7,217.9 227.9,218.3 230.1,218.7 232.3,219.1 234.5,219.4 236.7,219.8 238.9,220.2 241.1,220.6 243.3,221.0 245.5,221.4 247.7,221.7 249.9,222.0 252.1,222.1 254.3,222.3 256.5,222.4 258.7,222.6 260.9,222.9 263.1,223.2 265.3,223.7 267.5,224.2 269.7,224.7 271.9,225.1 274.1,225.5 276.3,225.8 278.5,226.1 280.7,226.4 282.9,226.8 285.1,227.1 287.3,227.5 289.5,227.9 291.7,228.2 293.9,228.5 296.1,228.8 298.3,229.0 300.5,229.3 302.7,229.7 304.9,230.1 307.1,230.6 309.3,231.0 311.5,231.3 313.7,231.7 315,232.0" fill="none" stroke="#1f77b4" stroke-width="0.60" stroke-opacity="0.60" stroke-dasharray="3,0.8,0.6,0.8" stroke-linecap="butt" stroke-linejoin="round"/>
<polyline points="58.5,31.0 58.8,60.3 59.1,70.5 59.4,80.3 59.7,84.7 60,89.1 60.3,93.1 60.7,96.9 61,100.5 61.3,103.3 61.6,106.0 61.9,108.5 62.2,110.4 62.5,112.2 62.8,114.0 63.1,115.2 63.4,116.3 63.7,117.5 64,118.6 64.3,119.4 64.7,120.2 65,121.1 65.3,121.9 65.6,122.7 65.9,123.3 66.2,123.9 66.5,124.5 66.8,125.1 67.1,125.7 67.4,126.3 67.7,126.9 68,127.3 68.3,127.8 68.7,128.3 69,128.7 69.3,129.2 69.6,129.7 69.9,130.1 70.2,130.6 70.5,131.0 71,131.5 72.5,133.0 74,134.4 75.5,135.5 77,136.0 78.5,136.6 80,137.2 81.5,137.7 83,138.2 84.5,138.7 86,139.1 87.5,139.5 89,139.9 90.5,140.3 92,140.7 93.5,141.1 95,141.5 96.5,141.9 98,142.4 99.5,142.8 101,143.2 102.5,143.6 104,144.1 105.5,144.5 107,144.9 108.5,145.4 110,145.8 111.5,146.2 113,146.6 114.5,147.1 116,147.3 117.5,147.4 119,147.6 120.5,147.8 122,147.9 123.5,148.1 125,148.2 126.5,148.3 128,148.5 129.5,148.7 131,148.8 132.5,149.0 134,149.2 135.5,149.4 137,149.6 138.5,149.8 140,150.1 141.5,150.3 143,150.5 144.5,150.7 146,150.9 147.5,151.1 149,151.3 150.5,151.5 152,151.7 153.5,151.9 155,152.1 156.5,152.3 158,152.6 159.5,152.8 161,153.0 162.5,153.2 164,153.4 165.5,153.6 167,153.8 168.5,154.0 170,154.1 171.5,154.3 173,154.5 174.5,154.7 176,154.8 177.5,155.0 179,155.2 180.5,155.4 182,155.5 183.5,155.7 185,155.8 186.5,156.0 188,156.1 189.5,156.3 191,156.4 192.5,156.6 194,156.7 195.5,156.9 197,157.0 198.5,157.2 200,157.3 201.5,157.5 203,157.6 204.5,157.8 206,157.9 207.5,158.1 209,158.2 210.5,158.4 212,158.5 213.5,158.6 215,158.7 216.5,158.8 218,158.9 219.5,158.9 221,159.0 222.5,159.1 224,159.2 225.5,159.2 227,159.3 228.5,159.4 230,159.5 231.5,159.6 233,159.7 234.5,159.7 236,159.8 237.5,159.9 239,160.0 240.5,160.1 242,160.2 243.5,160.3 245,160.4 246.5,160.5 248,160.6 249.5,160.7 251,160.8 252.5,160.8 254,160.9 255.5,161.0 257,161.1 258.5,161.2 260,161.3 261.5,161.4 263,161.5 264.5,161.5 266,161.6 267.5,161.7 269,161.8 270.5,161.9 272,162.0 273.5,162.1 275,162.2 276.5,162.2 278,162.3 279.5,162.4 281,162.5 282.5,162.6 284,162.7 285.5,162.8 287,162.9 288.5,162.9 290,163.0 291.5,163.1 293,163.2 294.5,163.3 296,163.4 297.5,163.4 299,163.5 300.5,163.6 302,163.7 303.5,163.8 305,163.9 306.5,164.0 308,164.0 309.5,164.1 311,164.2 312.5,164.3 312.6,164.3" fill="none" stroke="#1f77b4" stroke-width="2.20" stroke-opacity="1.00" stroke-dasharray="13.4,3.4,2.1,3.4" stroke-linecap="butt" stroke-linejoin="round"/>
<polyline points="58.9,31.0 59.2,48.8 59.5,62.9 59.8,70.6 60.1,78.3 60.4,82.6 60.7,86.0 61.1,89.3 61.4,92.4 61.7,94.5 62,96.5 62.3,98.6 62.6,100.6 62.9,102.5 63.2,103.9 63.5,105.4 63.8,106.8 64.1,108.3 64.4,109.7 64.7,110.9 65.1,111.9 65.4,113.0 65.7,114.1 66,115.2 66.3,116.2 66.6,117.2 66.9,117.9 67.2,118.6 67.5,119.3 67.8,120.0 68.1,120.7 68.4,121.4 68.7,122.0 69.1,122.6 69.4,123.2 69.7,123.8 70,124.5 70.3,125.1 70.6,125.7 70.9,126.3 71.4,127.2 72.9,130.1 74.4,131.8 75.9,133.0 77.4,134.3 78.9,134.9 80.4,135.5 81.9,136.1 83.4,137.0 84.9,137.9 86.4,138.8 87.9,139.7 89.4,140.3 90.9,140.9 92.4,141.5 93.9,142.0 95.4,142.6 96.9,143.1 98.4,143.8 99.9,144.6 101.4,145.3 102.9,146.0 104.4,146.6 105.9,147.1 107.4,147.6 108.9,148.2 110.4,148.7 111.9,149.2 113.4,149.8 114.9,150.2 116.4,150.5 117.9,150.7 119.4,151.0 120.9,151.2 122.4,151.5 123.9,151.7 125.4,151.9 126.9,152.1 128.4,152.2 129.9,152.4 131.4,152.5 132.9,152.7 134.4,152.8 135.9,152.9 137.4,153.1 138.9,153.2 140.4,153.4 141.9,153.5 143.4,153.7 144.9,153.8 146.4,154.0 147.9,154.1 149.4,154.2 150.9,154.4 152.4,154.5 153.9,154.7 155.4,154.8 156.9,155.0 158.4,155.1 159.9,155.3 161.4,155.4 162.9,155.6 164.4,155.7 165.9,155.9 167.4,156.0 168.9,156.2 170.4,156.4 171.9,156.8 173.4,157.2 174.9,157.5 176.4,157.9 177.9,158.3 179.4,158.7 180.9,159.0 182.4,158.9 183.9,158.8 185.4,158.7 186.9,158.7 188.4,158.6 189.9,158.5 191.4,158.4 192.9,158.2 194.4,157.9 195.9,157.6 197.4,157.3 198.9,157.0 200.4,156.7 201.9,156.4 203.4,155.9 204.9,155.3 206.4,154.7 207.9,154.1 209.4,153.9 210.9,153.7 212.4,153.4 213.9,153.2 215.4,153.0 216.9,153.1 218.4,153.2 219.9,153.3 221.4,153.5 222.9,153.2 224.4,152.6 225.9,152.0 227.4,152.2 228.9,152.6 230.4,153.0 231.9,155.3 233.4,157.0 234.9,158.2 236.4,159.3 237.9,160.1 239.4,160.8 240.9,161.6 242.4,161.6 243.9,161.4 245.4,161.2 246.9,161.2 248.4,161.6 249.9,162.0 251.4,162.5 252.9,162.5 254.4,162.0 255.9,161.6 257.4,161.1 258.9,161.3 260.4,161.4 261.9,161.6 263.4,161.7 264.9,161.9 266.4,162.0 267.9,162.2 269.4,161.5 270.9,160.5 272.4,159.4 273.9,158.4 275.4,157.4 276.9,156.8 278.4,156.2 279.9,155.6 281.4,155.0 282.9,154.6 284.4,155.1 285.9,155.5 287.4,156.3 288.9,157.2 290.4,158.1 291.9,158.8 293.4,159.4 294.9,160.0 296.4,160.6 297.9,161.0 299.4,161.1 300.9,159.8 302.4,158.5 303.9,157.2 305.4,157.5 306.9,158.1 308.4,158.6 309.9,159.4 311.4,160.4 312.6,161.2" fill="none" stroke="#2ca02c" stroke-width="2.20" stroke-opacity="1.00" stroke-dasharray="2.1,2.32" stroke-linecap="butt" stroke-linejoin="round"/>
<polyline points="58.7,33.0 59,33.3 59.3,33.6 59.6,33.9 59.9,34.2 60.2,34.5 60.5,34.8 60.9,35.2 61.2,35.5 61.5,35.8 61.8,36.1 62.1,36.4 62.4,36.7 62.7,37.0 63,37.3 63.3,37.6 63.6,37.9 63.9,38.2 64.2,38.5 64.5,38.8 64.9,39.2 65.2,39.5 65.5,39.8 65.8,40.1 66.1,40.4 66.4,40.7 66.7,41.0 67,41.3 67.3,41.6 67.6,41.9 67.9,42.2 68.2,42.5 68.5,42.8 68.9,43.2 69.2,43.5 69.5,43.8 69.8,44.1 70.1,44.4 70.4,44.7 70.7,45.0 71.2,45.5 72.7,47.0 74.2,48.6 75.7,50.1 77.2,51.6 78.7,53.2 80.2,54.7 81.7,56.5 83.2,58.3 84.7,60.1 86.2,61.9 87.7,63.7 89.2,65.5 90.7,67.3 92.2,69.2 93.7,71.0 95.2,72.8 96.7,74.6 98.2,76.4 99.7,78.2 101.2,80.0 102.7,81.8 104.2,83.6 105.7,85.3 107.2,87.1 108.7,88.8 110.2,90.4 111.7,92.0 113.2,93.7 114.7,95.3 116.2,96.9 117.7,98.5 119.2,100.2 120.7,101.8 122.2,103.6 123.7,105.4 125.2,107.1 126.7,108.9 128.2,110.7 129.7,112.5 131.2,114.3 132.7,116.0 134.2,117.7 135.7,119.3 137.2,121.0 138.7,122.6 140.2,124.3 141.7,125.9 143.2,127.4 144.7,128.6 146.2,129.8 147.7,131.0 149.2,132.2 150.7,133.4 152.2,134.6 153.7,135.8 155.2,136.8 156.7,137.9 158.2,138.9 159.7,140.0 161.2,141.1 162.7,142.1 164.2,143.2 165.7,144.0 167.2,144.8 168.7,145.7 170.2,146.5 171.7,147.3 173.2,148.2 174.7,149.2 176.2,150.1 177.7,151.1 179.2,152.0 180.7,152.9 182.2,153.4 183.7,153.9 185.2,154.3 186.7,154.8 188.2,155.2 189.7,155.7 191.2,156.1 192.7,156.5 194.2,156.8 195.7,157.1 197.2,157.4 198.7,157.7 200.2,158.0 201.7,158.2 203.2,158.6 204.7,158.9 206.2,159.3 207.7,159.7 209.2,160.1 210.7,160.4 212.2,160.8 213.7,161.2 215.2,161.5 216.7,161.8 218.2,162.1 219.7,162.4 221.2,162.7 222.7,163.0 224.2,163.3 225.7,163.5 227.2,163.7 228.7,163.9 230.2,164.1 231.7,164.3 233.2,164.5 234.7,164.7 236.2,164.9 237.7,165.0 239.2,165.2 240.7,165.4 242.2,165.5 243.7,165.6 245.2,165.7 246.7,165.8 248.2,165.8 249.7,165.9 251.2,166.0 252.7,166.1 254.2,166.2 255.7,166.4 257.2,166.5 258.7,166.7 260.2,166.8 261.7,167.0 263.2,167.2 264.7,167.5 266.2,167.8 267.7,168.1 269.2,168.4 270.7,168.6 272.2,168.5 273.7,168.4 275.2,168.4 276.7,168.3 278.2,168.2 279.7,168.1 281.2,168.1 282.7,168.0 284.2,168.2 285.7,168.4 287.2,168.6 288.7,168.8 290.2,169.0 291.7,169.1 293.2,169.3 294.7,169.5 296.2,169.8 297.7,170.1 299.2,170.4 300.7,170.7 302.2,171.0 303.7,171.1 305.2,171.3 306.7,171.5 308.2,171.6 309.7,171.8 311.2,171.9 312.6,172.1" fill="none" stroke="#d62728" stroke-width="2.20" stroke-opacity="1.00" stroke-dasharray="7.8,3.35" stroke-linecap="butt" stroke-linejoin="round"/>
<polyline points="58.9,30.4 59.2,53.2 59.5,65.4 59.8,73.1 60.1,80.3 60.4,83.4 60.7,86.4 61.1,89.5 61.4,92.1 61.7,94.3 62,96.5 62.3,98.7 62.6,100.9 62.9,103.0 63.2,105.0 63.5,106.9 63.8,108.9 64.1,110.9 64.4,112.7 64.7,113.7 65.1,114.6 65.4,115.6 65.7,116.6 66,117.7 66.3,118.9 66.6,120.0 66.9,121.1 67.2,122.3 67.5,123.4 67.8,124.4 68.1,125.3 68.4,126.3 68.7,127.2 69.1,128.2 69.4,129.1 69.7,130.1 70,131.0 70.3,131.9 70.6,132.6 70.9,133.1 71.4,133.9 72.9,136.4 74.4,138.8 75.9,140.6 77.4,142.2 78.9,143.7 80.4,144.7 81.9,145.6 83.4,146.6 84.9,147.5 86.4,148.0 87.9,148.4 89.4,148.9 90.9,149.3 92.4,149.8 93.9,150.1 95.4,150.5 96.9,150.9 98.4,151.3 99.9,151.7 101.4,152.1 102.9,152.5 104.4,152.9 105.9,153.4 107.4,153.8 108.9,154.2 110.4,154.6 111.9,155.0 113.4,155.5 114.9,155.9 116.4,156.2 117.9,156.5 119.4,156.8 120.9,157.0 122.4,157.3 123.9,157.6 125.4,157.9 126.9,158.2 128.4,158.5 129.9,158.8 131.4,159.0 132.9,159.3 134.4,159.5 135.9,159.7 137.4,160.0 138.9,160.2 140.4,160.5 141.9,160.7 143.4,160.9 144.9,161.2 146.4,161.4 147.9,161.7 149.4,161.9 150.9,162.1 152.4,162.4 153.9,162.6 155.4,162.8 156.9,163.0 158.4,163.2 159.9,163.5 161.4,163.7 162.9,163.9 164.4,164.1 165.9,164.3 167.4,164.6 168.9,164.8 170.4,165.0 171.9,165.2 173.4,165.4 174.9,165.7 176.4,165.9 177.9,166.1 179.4,166.3 180.9,166.5 182.4,166.6 183.9,166.7 185.4,166.8 186.9,167.0 188.4,167.1 189.9,167.2 191.4,167.3 192.9,167.4 194.4,167.6 195.9,167.7 197.4,167.8 198.9,167.9 200.4,168.0 201.9,168.2 203.4,168.3 204.9,168.4 206.4,168.5 207.9,168.6 209.4,168.8 210.9,168.9 212.4,169.0 213.9,169.1 215.4,169.2 216.9,169.3 218.4,169.4 219.9,169.5 221.4,169.6 222.9,169.7 224.4,169.8 225.9,169.9 227.4,170.1 228.9,170.2 230.4,170.3 231.9,170.4 233.4,170.5 234.9,170.6 236.4,170.7 237.9,170.8 239.4,170.9 240.9,171.0 242.4,171.1 243.9,171.2 245.4,171.3 246.9,171.4 248.4,171.5 249.9,171.6 251.4,171.7 252.9,171.7 254.4,171.8 255.9,171.8 257.4,171.9 258.9,172.0 260.4,172.0 261.9,172.1 263.4,172.1 264.9,172.2 266.4,172.3 267.9,172.3 269.4,172.4 270.9,172.4 272.4,172.5 273.9,172.6 275.4,172.6 276.9,172.7 278.4,172.7 279.9,172.8 281.4,172.9 282.9,172.9 284.4,173.0 285.9,173.0 287.4,173.1 288.9,173.1 290.4,173.2 291.9,173.2 293.4,173.3 294.9,173.3 296.4,173.4 297.9,173.5 299.4,173.5 300.9,173.6 302.4,173.6 303.9,173.7 305.4,173.7 306.9,173.8 308.4,173.8 309.9,173.9 311.4,174.0 312.6,174.0" fill="none" stroke="#fc7748" stroke-width="2.20" stroke-opacity="1.00" stroke-linecap="butt" stroke-linejoin="round"/>
</g>
<rect x="42.56" y="16.50" width="286.94" height="234.00" fill="none" stroke="#333" stroke-width="0.85"/>
<line x1="58.50" y1="250.50" x2="58.50" y2="252.70" stroke="#333" stroke-width="0.85"/>
<text x="52.45" y="260.50" font-size="8.30" fill="#1a1a1a" textLength="12.26" lengthAdjust="spacingAndGlyphs" font-family="Liberation Sans, sans-serif">0.0</text>
<line x1="90.38" y1="250.50" x2="90.38" y2="252.70" stroke="#333" stroke-width="0.85"/>
<text x="84.33" y="260.50" font-size="8.30" fill="#1a1a1a" textLength="12.40" lengthAdjust="spacingAndGlyphs" font-family="Liberation Sans, sans-serif">0.2</text>
<line x1="122.26" y1="250.50" x2="122.26" y2="252.70" stroke="#333" stroke-width="0.85"/>
<text x="116.21" y="260.50" font-size="8.30" fill="#1a1a1a" textLength="12.22" lengthAdjust="spacingAndGlyphs" font-family="Liberation Sans, sans-serif">0.4</text>
<line x1="154.15" y1="250.50" x2="154.15" y2="252.70" stroke="#333" stroke-width="0.85"/>
<text x="148.09" y="260.50" font-size="8.30" fill="#1a1a1a" textLength="12.31" lengthAdjust="spacingAndGlyphs" font-family="Liberation Sans, sans-serif">0.6</text>
<line x1="186.03" y1="250.50" x2="186.03" y2="252.70" stroke="#333" stroke-width="0.85"/>
<text x="179.97" y="260.50" font-size="8.30" fill="#1a1a1a" textLength="12.31" lengthAdjust="spacingAndGlyphs" font-family="Liberation Sans, sans-serif">0.8</text>
<line x1="217.91" y1="250.50" x2="217.91" y2="252.70" stroke="#333" stroke-width="0.85"/>
<text x="211.53" y="260.50" font-size="8.30" fill="#1a1a1a" textLength="12.60" lengthAdjust="spacingAndGlyphs" font-family="Liberation Sans, sans-serif">1.0</text>
<line x1="249.79" y1="250.50" x2="249.79" y2="252.70" stroke="#333" stroke-width="0.85"/>
<text x="243.41" y="260.50" font-size="8.30" fill="#1a1a1a" textLength="12.75" lengthAdjust="spacingAndGlyphs" font-family="Liberation Sans, sans-serif">1.2</text>
<line x1="281.68" y1="250.50" x2="281.68" y2="252.70" stroke="#333" stroke-width="0.85"/>
<text x="275.30" y="260.50" font-size="8.30" fill="#1a1a1a" textLength="12.55" lengthAdjust="spacingAndGlyphs" font-family="Liberation Sans, sans-serif">1.4</text>
<line x1="313.56" y1="250.50" x2="313.56" y2="252.70" stroke="#333" stroke-width="0.85"/>
<text x="307.18" y="260.50" font-size="8.30" fill="#1a1a1a" textLength="12.65" lengthAdjust="spacingAndGlyphs" font-family="Liberation Sans, sans-serif">1.6</text>
<line x1="39.96" y1="16.50" x2="42.56" y2="16.50" stroke="#333" stroke-width="0.85"/>
<text x="25.70" y="19.60" font-size="8.30" fill="#1a1a1a" textLength="12.47" lengthAdjust="spacingAndGlyphs" font-family="Liberation Sans, sans-serif">0.0</text>
<line x1="39.96" y1="40.82" x2="42.56" y2="40.82" stroke="#333" stroke-width="0.85"/>
<text x="19.59" y="43.92" font-size="8.30" fill="#1a1a1a" textLength="18.64" lengthAdjust="spacingAndGlyphs" font-family="Liberation Sans, sans-serif">−0.5</text>
<line x1="39.96" y1="65.14" x2="42.56" y2="65.14" stroke="#333" stroke-width="0.85"/>
<text x="19.59" y="68.24" font-size="8.30" fill="#1a1a1a" textLength="18.59" lengthAdjust="spacingAndGlyphs" font-family="Liberation Sans, sans-serif">−1.0</text>
<line x1="39.96" y1="89.46" x2="42.56" y2="89.46" stroke="#333" stroke-width="0.85"/>
<text x="19.59" y="92.56" font-size="8.30" fill="#1a1a1a" textLength="18.64" lengthAdjust="spacingAndGlyphs" font-family="Liberation Sans, sans-serif">−1.5</text>
<line x1="39.96" y1="113.78" x2="42.56" y2="113.78" stroke="#333" stroke-width="0.85"/>
<text x="19.59" y="116.88" font-size="8.30" fill="#1a1a1a" textLength="18.59" lengthAdjust="spacingAndGlyphs" font-family="Liberation Sans, sans-serif">−2.0</text>
<line x1="39.96" y1="138.10" x2="42.56" y2="138.10" stroke="#333" stroke-width="0.85"/>
<text x="19.59" y="141.20" font-size="8.30" fill="#1a1a1a" textLength="18.64" lengthAdjust="spacingAndGlyphs" font-family="Liberation Sans, sans-serif">−2.5</text>
<line x1="39.96" y1="162.42" x2="42.56" y2="162.42" stroke="#333" stroke-width="0.85"/>
<text x="19.59" y="165.52" font-size="8.30" fill="#1a1a1a" textLength="18.59" lengthAdjust="spacingAndGlyphs" font-family="Liberation Sans, sans-serif">−3.0</text>
<line x1="39.96" y1="186.74" x2="42.56" y2="186.74" stroke="#333" stroke-width="0.85"/>
<text x="19.59" y="189.84" font-size="8.30" fill="#1a1a1a" textLength="18.64" lengthAdjust="spacingAndGlyphs" font-family="Liberation Sans, sans-serif">−3.5</text>
<line x1="39.96" y1="211.06" x2="42.56" y2="211.06" stroke="#333" stroke-width="0.85"/>
<text x="19.59" y="214.16" font-size="8.30" fill="#1a1a1a" textLength="18.59" lengthAdjust="spacingAndGlyphs" font-family="Liberation Sans, sans-serif">−4.0</text>
<line x1="39.96" y1="235.38" x2="42.56" y2="235.38" stroke="#333" stroke-width="0.85"/>
<text x="19.59" y="238.48" font-size="8.30" fill="#1a1a1a" textLength="18.64" lengthAdjust="spacingAndGlyphs" font-family="Liberation Sans, sans-serif">−4.5</text>
<text x="317.70" y="268.90" font-size="6.70" fill="#1a1a1a" textLength="11.16" lengthAdjust="spacingAndGlyphs" font-family="Liberation Sans, sans-serif">1e7</text>
<line x1="413.20" y1="16.50" x2="413.20" y2="250.50" stroke="#b0b0b0" stroke-width="0.75"/>
<line x1="445.06" y1="16.50" x2="445.06" y2="250.50" stroke="#b0b0b0" stroke-width="0.75"/>
<line x1="476.91" y1="16.50" x2="476.91" y2="250.50" stroke="#b0b0b0" stroke-width="0.75"/>
<line x1="508.77" y1="16.50" x2="508.77" y2="250.50" stroke="#b0b0b0" stroke-width="0.75"/>
<line x1="540.62" y1="16.50" x2="540.62" y2="250.50" stroke="#b0b0b0" stroke-width="0.75"/>
<line x1="572.48" y1="16.50" x2="572.48" y2="250.50" stroke="#b0b0b0" stroke-width="0.75"/>
<line x1="604.33" y1="16.50" x2="604.33" y2="250.50" stroke="#b0b0b0" stroke-width="0.75"/>
<line x1="636.19" y1="16.50" x2="636.19" y2="250.50" stroke="#b0b0b0" stroke-width="0.75"/>
<line x1="668.04" y1="16.50" x2="668.04" y2="250.50" stroke="#b0b0b0" stroke-width="0.75"/>
<line x1="397.30" y1="16.50" x2="684.00" y2="16.50" stroke="#b0b0b0" stroke-width="0.75"/>
<line x1="397.30" y1="40.82" x2="684.00" y2="40.82" stroke="#b0b0b0" stroke-width="0.75"/>
<line x1="397.30" y1="65.14" x2="684.00" y2="65.14" stroke="#b0b0b0" stroke-width="0.75"/>
<line x1="397.30" y1="89.46" x2="684.00" y2="89.46" stroke="#b0b0b0" stroke-width="0.75"/>
<line x1="397.30" y1="113.78" x2="684.00" y2="113.78" stroke="#b0b0b0" stroke-width="0.75"/>
<line x1="397.30" y1="138.10" x2="684.00" y2="138.10" stroke="#b0b0b0" stroke-width="0.75"/>
<line x1="397.30" y1="162.42" x2="684.00" y2="162.42" stroke="#b0b0b0" stroke-width="0.75"/>
<line x1="397.30" y1="186.74" x2="684.00" y2="186.74" stroke="#b0b0b0" stroke-width="0.75"/>
<line x1="397.30" y1="211.06" x2="684.00" y2="211.06" stroke="#b0b0b0" stroke-width="0.75"/>
<line x1="397.30" y1="235.38" x2="684.00" y2="235.38" stroke="#b0b0b0" stroke-width="0.75"/>
<g clip-path="url(#cb)">
<polyline points="412.8,31.0 413.6,41.5 414.3,52.0 415.1,62.6 415.9,73.9 416.6,84.3 417.4,92.0 418.2,96.3 419,101.2 419.7,104.8 420.5,108.3 421.3,111.3 422,113.6 422.8,115.8 423.8,118.9 426,125.9 428.2,129.8 430.4,133.6 432.6,137.1 434.8,140.2 437,142.1 439.2,143.9 441.4,144.0 443.6,143.2 445.8,143.4 448,145.0 450.2,146.8 452.4,148.5 454.6,150.0 456.8,151.5 459,153.2 461.2,154.8 463.4,156.2 465.6,157.7 467.8,159.3 470,160.6 472.2,160.8 474.4,161.0 476.6,161.4 478.8,161.9 481,162.6 483.2,163.3 485.4,164.0 487.6,164.4 489.8,164.6 492,164.9 494.2,165.1 496.4,165.2 498.6,164.9 500.8,164.6 503,164.6 505.2,164.7 507.4,164.9 509.6,165.0 511.8,165.1 514,165.0 516.2,164.9 518.4,165.0 520.6,165.5 522.8,166.5 525,167.6 527.2,168.7 529.4,170.0 531.6,171.4 533.8,172.9 536,174.3 538.2,175.8 540.4,177.2 542.6,178.6 544.8,179.7 547,180.5 549.2,181.0 551.4,181.5 553.6,182.0 555.8,183.0 558,184.4 560.2,186.2 562.4,187.8 564.6,189.0 566.8,189.8 569,190.1 571.2,190.1 573.4,190.3 575.6,190.7 577.8,191.4 580,191.9 582.2,192.2 584.4,192.4 586.6,192.6 588.8,193.2 591,193.9 593.2,194.7 595.4,195.6 597.6,196.2 599.8,196.6 602,196.9 604.2,196.9 606.4,197.0 608.6,197.4 610.8,198.3 613,199.3 615.2,200.1 617.4,200.6 619.6,200.9 621.8,201.1 624,201.3 626.2,201.3 628.4,200.9 630.6,200.3 632.8,199.5 635,199.0 637.2,198.9 639.4,199.3 641.6,199.9 643.8,200.5 646,201.0 648.2,201.4 650.4,201.9 652.6,202.2 654.8,202.6 657,203.0 659.2,203.5 661.4,204.3 663.6,205.1 665.8,205.9 667.4,206.6" fill="none" stroke="#fc7748" stroke-width="0.70" stroke-opacity="0.36" stroke-linecap="butt" stroke-linejoin="round"/>
<polyline points="412.8,31.0 413.6,41.3 414.3,51.6 415.1,62.0 415.9,73.1 416.6,83.1 417.4,90.3 418.2,94.3 419,99.2 419.7,102.8 420.5,106.4 421.3,109.5 422,111.8 422.8,114.1 423.8,117.3 426,123.6 428.2,125.6 430.4,127.4 432.6,129.1 434.8,130.5 437,130.8 439.2,131.1 441.4,130.5 443.6,129.3 445.8,129.5 448,131.5 450.2,133.4 452.4,135.0 454.6,136.3 456.8,137.7 459,139.9 461.2,142.4 463.4,145.0 465.6,147.6 467.8,149.8 470,151.3 472.2,152.0 474.4,152.3 476.6,152.8 478.8,153.5 481,154.2 483.2,155.2 485.4,156.3 487.6,157.4 489.8,158.5 492,159.4 494.2,160.1 496.4,160.7 498.6,161.1 500.8,161.5 503,162.2 505.2,163.1 507.4,163.9 509.6,164.7 511.8,165.4 514,166.0 516.2,166.5 518.4,166.6 520.6,166.6 522.8,166.6 525,166.9 527.2,167.4 529.4,168.0 531.6,168.7 533.8,169.5 536,170.5 538.2,171.5 540.4,172.2 542.6,172.5 544.8,172.2 547,171.8 549.2,171.4 551.4,171.4 553.6,171.6 555.8,172.0 558,172.3 560.2,172.7 562.4,173.3 564.6,174.0 566.8,174.7 569,175.1 571.2,175.2 573.4,174.8 575.6,174.1 577.8,173.4 580,172.8 582.2,172.7 584.4,172.8 586.6,172.8 588.8,172.6 591,172.4 593.2,172.2 595.4,172.2 597.6,172.2 599.8,172.3 602,172.8 604.2,173.6 606.4,174.3 608.6,174.7 610.8,174.7 613,174.2 615.2,173.9 617.4,174.0 619.6,174.7 621.8,175.6 624,176.4 626.2,177.1 628.4,177.8 630.6,178.5 632.8,179.4 635,180.4 637.2,181.5 639.4,182.3 641.6,182.8 643.8,182.9 646,183.0 648.2,183.4 650.4,184.2 652.6,185.0 654.8,185.5 657,185.6 659.2,185.5 661.4,185.5 663.6,185.8 665.8,186.4 668,187.3 670.2,188.1 672.4,188.4 672.5,188.1" fill="none" stroke="#fc7748" stroke-width="0.70" stroke-opacity="0.36" stroke-linecap="butt" stroke-linejoin="round"/>
<polyline points="412.8,31.0 413.6,40.6 414.3,50.0 415.1,59.4 415.9,69.6 416.6,77.9 417.4,83.1 418.2,85.6 419,90.6 419.7,94.2 420.5,97.8 421.3,101.0 422,103.4 422.8,105.8 423.8,109.0 426,115.8 428.2,118.6 430.4,121.2 432.6,123.9 434.8,126.4 437,128.1 439.2,129.9 441.4,132.0 443.6,134.0 445.8,135.9 448,137.1 450.2,138.3 452.4,139.0 454.6,139.5 456.8,140.2 459,141.7 461.2,143.5 463.4,145.2 465.6,146.6 467.8,147.6 470,147.9 472.2,148.6 474.4,148.9 476.6,149.2 478.8,149.6 481,150.0 483.2,150.4 485.4,150.8 487.6,151.1 489.8,151.6 492,152.2 494.2,152.9 496.4,153.5 498.6,154.0 500.8,154.4 503,154.8 505.2,155.5 507.4,156.2 509.6,156.8 511.8,157.2 514,157.4 516.2,157.5 518.4,157.3 520.6,156.7 522.8,156.1 525,155.6 527.2,155.5 529.4,155.6 531.6,155.8 533.8,155.7 536,155.7 538.2,155.6 540.4,155.8 542.6,156.3 544.8,157.1 547,158.0 549.2,158.7 551.4,159.3 553.6,159.6 555.8,159.7 558,159.5 560.2,159.2 562.4,159.0 564.6,159.1 566.8,159.4 569,159.8 571.2,160.1 573.4,160.2 575.6,160.3 577.8,160.4 580,160.5 582.2,160.7 584.4,161.0 586.6,161.7 588.8,162.8 591,164.1 593.2,165.2 595.4,165.9 597.6,166.3 599.8,166.6 602,166.8 604.2,167.1 606.4,167.3 608.6,167.5 610.8,167.6 613,167.7 615.2,168.0 617.4,168.6 619.6,169.5 621.8,170.2 624,170.8 626.2,171.0 628.4,171.0 630.6,170.9 632.8,171.0 635,171.0 637.2,171.0 639.4,171.0 641.6,171.0 643.8,171.0 646,171.0 648.2,171.1 650.4,171.4 652.6,172.0 654.8,172.9 657,174.0 659.2,175.0 661.4,175.9 663.6,176.6 665.8,177.1 668,177.3 668.7,177.2" fill="none" stroke="#fc7748" stroke-width="0.70" stroke-opacity="0.36" stroke-linecap="butt" stroke-linejoin="round"/>
<polyline points="412.8,31.0 413.6,41.5 414.3,52.0 415.1,62.5 415.9,73.9 416.6,84.3 417.4,91.9 418.2,96.2 419,101.1 419.7,104.8 420.5,108.3 421.3,111.5 422,113.8 422.8,116.2 423.8,119.5 426,126.2 428.2,129.0 430.4,131.6 432.6,134.1 434.8,136.3 437,137.5 439.2,138.9 441.4,139.7 443.6,140.2 445.8,141.8 448,144.7 450.2,147.2 452.4,149.1 454.6,150.6 456.8,152.2 459,154.6 461.2,157.4 463.4,160.3 465.6,163.2 467.8,165.8 470,167.6 472.2,168.0 474.4,168.1 476.6,168.1 478.8,168.3 481,168.2 483.2,167.7 485.4,167.0 487.6,166.4 489.8,166.0 492,166.1 494.2,166.5 496.4,167.1 498.6,167.5 500.8,167.8 503,168.0 505.2,168.4 507.4,168.8 509.6,169.3 511.8,169.8 514,170.4 516.2,171.0 518.4,171.6 520.6,172.1 522.8,172.2 525,172.1 527.2,172.2 529.4,172.6 531.6,173.4 533.8,174.4 536,175.2 538.2,175.6 540.4,175.9 542.6,176.0 544.8,176.2 547,176.7 549.2,177.3 551.4,177.8 553.6,178.1 555.8,178.1 558,178.1 560.2,178.2 562.4,178.4 564.6,178.6 566.8,178.8 569,179.1 571.2,179.3 573.4,179.4 575.6,179.3 577.8,179.1 580,178.8 582.2,178.6 584.4,178.8 586.6,179.0 588.8,179.4 591,179.5 593.2,179.6 595.4,179.8 597.6,180.1 599.8,180.6 602,181.2 604.2,181.8 606.4,182.2 608.6,182.2 610.8,181.9 613,181.6 615.2,181.4 617.4,181.5 619.6,181.5 621.8,181.5 624,181.4 626.2,181.4 628.4,181.6 630.6,181.9 632.8,182.3 635,182.8 637.2,183.4 639.4,183.9 641.6,184.1 643.8,183.9 646,183.4 648.2,182.9 650.4,182.8 652.6,182.9 654.8,183.5 657,184.1 659.2,184.9 661.4,185.6 663.6,186.3 665.8,187.0 667.6,187.4" fill="none" stroke="#fc7748" stroke-width="0.70" stroke-opacity="0.36" stroke-linecap="butt" stroke-linejoin="round"/>
<polyline points="412.8,31.0 413.6,41.6 414.3,52.3 415.1,63.0 415.9,74.5 416.6,85.3 417.4,93.3 418.2,97.8 419,102.8 419.7,106.5 420.5,110.1 421.3,113.3 422,115.6 422.8,118.0 423.8,121.2 426,127.4 428.2,129.3 430.4,130.9 432.6,132.6 434.8,134.3 437,135.2 439.2,136.5 441.4,137.7 443.6,138.7 445.8,140.0 448,141.4 450.2,142.5 452.4,143.1 454.6,143.4 456.8,143.8 459,145.1 461.2,146.8 463.4,148.5 465.6,150.1 467.8,151.0 470,151.3 472.2,151.9 474.4,152.4 476.6,153.0 478.8,153.9 481,154.8 483.2,155.7 485.4,156.3 487.6,156.8 489.8,157.2 492,157.8 494.2,158.4 496.4,159.1 498.6,159.7 500.8,160.0 503,160.1 505.2,160.2 507.4,160.1 509.6,159.9 511.8,159.8 514,159.7 516.2,159.6 518.4,159.3 520.6,159.0 522.8,158.5 525,158.1 527.2,157.8 529.4,157.6 531.6,157.6 533.8,157.7 536,158.0 538.2,158.6 540.4,159.2 542.6,159.8 544.8,160.2 547,160.4 549.2,160.5 551.4,160.7 553.6,161.2 555.8,162.3 558,163.7 560.2,165.1 562.4,166.2 564.6,166.9 566.8,167.3 569,167.7 571.2,167.9 573.4,168.0 575.6,168.2 577.8,168.2 580,168.2 582.2,168.3 584.4,168.4 586.6,168.8 588.8,169.3 591,169.7 593.2,170.1 595.4,170.4 597.6,170.7 599.8,171.2 602,172.0 604.2,173.1 606.4,174.1 608.6,174.9 610.8,175.2 613,175.3 615.2,175.2 617.4,175.5 619.6,176.4 621.8,177.7 624,179.1 626.2,180.4 628.4,181.0 630.6,181.2 632.8,181.0 635,180.8 637.2,180.9 639.4,181.4 641.6,182.2 643.8,183.0 646,183.6 648.2,184.0 650.4,184.1 652.6,184.0 654.8,183.7 657,183.5 659.2,183.3 661.4,183.2 663.6,183.1 665.8,183.1 668,183.1 670.2,183.1 670.4,183.1" fill="none" stroke="#fc7748" stroke-width="0.70" stroke-opacity="0.36" stroke-linecap="butt" stroke-linejoin="round"/>
<polyline points="412.8,31.0 413.6,42.3 414.3,53.9 415.1,65.6 415.9,78.1 416.6,90.6 417.4,100.5 418.2,106.6 419,111.5 419.7,115.2 420.5,118.8 421.3,122.0 422,124.3 422.8,126.7 423.8,129.9 426,135.6 428.2,136.0 430.4,136.3 432.6,136.6 434.8,136.7 437,135.8 439.2,134.9 441.4,136.5 443.6,139.5 445.8,142.2 448,143.9 450.2,145.7 452.4,147.3 454.6,148.9 456.8,150.7 459,152.9 461.2,155.1 463.4,157.2 465.6,159.1 467.8,160.7 470,161.6 472.2,162.0 474.4,162.2 476.6,162.4 478.8,162.5 481,162.8 483.2,163.3 485.4,164.0 487.6,164.7 489.8,165.2 492,165.7 494.2,166.3 496.4,167.2 498.6,168.2 500.8,169.0 503,169.3 505.2,169.1 507.4,168.6 509.6,168.3 511.8,168.1 514,168.1 516.2,168.2 518.4,168.5 520.6,168.9 522.8,169.5 525,170.1 527.2,170.6 529.4,170.9 531.6,171.2 533.8,171.2 536,171.1 538.2,171.0 540.4,170.9 542.6,171.1 544.8,171.6 547,172.3 549.2,173.0 551.4,173.9 553.6,174.7 555.8,175.3 558,175.9 560.2,176.6 562.4,177.3 564.6,177.9 566.8,178.3 569,178.4 571.2,178.3 573.4,178.1 575.6,178.2 577.8,178.6 580,179.2 582.2,180.1 584.4,181.0 586.6,181.6 588.8,182.0 591,182.3 593.2,182.6 595.4,183.0 597.6,183.5 599.8,183.9 602,184.3 604.2,184.9 606.4,185.7 608.6,186.5 610.8,187.1 613,187.4 615.2,187.5 617.4,187.5 619.6,187.8 621.8,188.5 624,189.4 626.2,190.3 628.4,191.1 630.6,191.5 632.8,191.7 635,191.8 637.2,191.6 639.4,191.3 641.6,191.1 643.8,191.3 646,192.0 648.2,193.0 650.4,194.2 652.6,195.2 654.8,195.7 657,196.0 659.2,196.0 661.4,196.1 663.6,196.4 665.8,197.1 667.9,197.7" fill="none" stroke="#fc7748" stroke-width="0.70" stroke-opacity="0.36" stroke-linecap="butt" stroke-linejoin="round"/>
<polyline points="412.8,31.0 413.6,39.6 414.3,47.6 415.1,55.6 415.9,64.4 416.6,70.1 417.4,72.5 418.2,72.9 419,77.9 419.7,81.6 420.5,85.3 421.3,88.7 422,91.2 422.8,93.7 423.8,97.1 426,105.4 428.2,110.9 430.4,116.2 432.6,121.3 434.8,126.1 437,129.6 439.2,133.1 441.4,134.8 443.6,135.5 445.8,136.5 448,137.8 450.2,139.0 452.4,139.9 454.6,140.8 456.8,142.0 459,144.0 461.2,146.1 463.4,148.0 465.6,149.8 467.8,151.1 470,151.7 472.2,152.3 474.4,152.5 476.6,152.8 478.8,153.4 481,154.0 483.2,154.3 485.4,154.2 487.6,153.9 489.8,153.5 492,153.3 494.2,153.0 496.4,152.8 498.6,152.7 500.8,152.8 503,153.0 505.2,153.3 507.4,153.5 509.6,153.5 511.8,153.5 514,153.3 516.2,153.0 518.4,153.0 520.6,153.1 522.8,153.5 525,154.1 527.2,155.0 529.4,156.2 531.6,157.2 533.8,157.8 536,157.9 538.2,158.0 540.4,158.5 542.6,159.4 544.8,160.7 547,162.1 549.2,163.5 551.4,164.5 553.6,165.2 555.8,165.4 558,165.4 560.2,165.3 562.4,165.5 564.6,165.9 566.8,166.5 569,167.1 571.2,167.4 573.4,167.5 575.6,167.6 577.8,167.8 580,167.9 582.2,168.1 584.4,168.3 586.6,168.3 588.8,168.2 591,168.1 593.2,167.9 595.4,167.6 597.6,167.4 599.8,167.4 602,167.9 604.2,168.6 606.4,169.2 608.6,169.8 610.8,170.5 613,171.1 615.2,171.5 617.4,171.7 619.6,171.9 621.8,172.2 624,172.8 626.2,173.4 628.4,173.8 630.6,173.7 632.8,173.3 635,172.8 637.2,172.4 639.4,172.3 641.6,172.5 643.8,172.8 646,173.3 648.2,174.0 650.4,174.9 652.6,175.8 654.8,176.6 657,177.2 659.2,177.7 661.4,178.2 663.6,178.6 665.8,179.0 668,179.4 668.3,179.5" fill="none" stroke="#fc7748" stroke-width="0.70" stroke-opacity="0.36" stroke-linecap="butt" stroke-linejoin="round"/>
<polyline points="412.8,31.0 413.6,40.5 414.3,49.7 415.1,59.0 415.9,69.0 416.6,77.0 417.4,82.0 418.2,84.2 419,89.2 419.7,92.9 420.5,96.5 421.3,99.7 422,102.1 422.8,104.5 423.8,107.7 426,115.0 428.2,118.7 430.4,122.3 432.6,125.6 434.8,128.7 437,130.6 439.2,132.7 441.4,134.7 443.6,136.6 445.8,138.5 448,140.2 450.2,141.8 452.4,143.3 454.6,144.8 456.8,146.4 459,148.2 461.2,149.6 463.4,150.4 465.6,151.2 467.8,152.0 470,152.9 472.2,153.0 474.4,153.1 476.6,153.3 478.8,153.5 481,153.8 483.2,154.0 485.4,154.3 487.6,154.7 489.8,155.3 492,156.0 494.2,156.4 496.4,156.4 498.6,155.9 500.8,155.3 503,155.4 505.2,155.7 507.4,156.4 509.6,157.3 511.8,158.5 514,159.9 516.2,161.4 518.4,162.7 520.6,163.6 522.8,164.1 525,164.2 527.2,164.4 529.4,164.8 531.6,165.4 533.8,165.9 536,166.4 538.2,166.9 540.4,167.5 542.6,168.1 544.8,168.2 547,168.0 549.2,167.6 551.4,167.4 553.6,167.6 555.8,168.0 558,168.3 560.2,168.4 562.4,168.6 564.6,169.2 566.8,170.0 569,170.8 571.2,171.2 573.4,171.1 575.6,171.1 577.8,171.1 580,171.4 582.2,172.1 584.4,173.0 586.6,173.8 588.8,174.4 591,174.7 593.2,175.1 595.4,175.6 597.6,176.3 599.8,177.2 602,178.1 604.2,179.2 606.4,180.1 608.6,180.9 610.8,181.7 613,182.3 615.2,182.8 617.4,183.1 619.6,183.3 621.8,183.4 624,183.5 626.2,183.6 628.4,183.6 630.6,183.7 632.8,183.8 635,184.0 637.2,184.3 639.4,184.6 641.6,184.8 643.8,184.9 646,184.9 648.2,185.0 650.4,185.5 652.6,186.2 654.8,187.1 657,187.7 659.2,188.1 661.4,188.4 663.6,188.4 665.8,188.3 667.2,188.3" fill="none" stroke="#fc7748" stroke-width="0.70" stroke-opacity="0.36" stroke-linecap="butt" stroke-linejoin="round"/>
<polyline points="412.8,31.0 413.6,40.0 414.3,48.4 415.1,56.9 415.9,66.2 416.6,72.8 417.4,76.2 418.2,77.3 419,82.2 419.7,86.0 420.5,89.6 421.3,92.9 422,95.4 422.8,97.9 423.8,101.3 426,109.2 428.2,114.3 430.4,119.5 432.6,124.9 434.8,130.0 437,133.9 439.2,137.4 441.4,140.3 443.6,142.8 445.8,144.8 448,145.7 450.2,146.4 452.4,146.8 454.6,147.2 456.8,148.0 459,149.5 461.2,151.2 463.4,152.4 465.6,153.3 467.8,153.8 470,154.3 472.2,155.0 474.4,156.0 476.6,156.9 478.8,157.6 481,157.8 483.2,157.6 485.4,156.9 487.6,155.7 489.8,154.5 492,153.7 494.2,153.4 496.4,153.6 498.6,153.9 500.8,154.3 503,155.0 505.2,155.9 507.4,156.9 509.6,158.0 511.8,159.0 514,159.5 516.2,159.4 518.4,159.0 520.6,158.5 522.8,158.3 525,158.4 527.2,158.8 529.4,159.3 531.6,159.9 533.8,160.6 536,161.5 538.2,162.5 540.4,163.3 542.6,163.9 544.8,164.3 547,164.6 549.2,164.9 551.4,165.4 553.6,166.0 555.8,166.9 558,167.8 560.2,168.5 562.4,168.8 564.6,168.9 566.8,169.1 569,169.5 571.2,169.9 573.4,170.3 575.6,170.7 577.8,171.1 580,171.6 582.2,172.4 584.4,173.1 586.6,173.4 588.8,173.3 591,173.3 593.2,173.4 595.4,173.7 597.6,174.0 599.8,174.1 602,173.9 604.2,173.8 606.4,174.0 608.6,174.3 610.8,174.5 613,174.6 615.2,174.6 617.4,174.8 619.6,175.1 621.8,175.4 624,175.6 626.2,175.9 628.4,176.5 630.6,177.1 632.8,177.4 635,177.4 637.2,177.0 639.4,176.6 641.6,176.4 643.8,176.6 646,177.0 648.2,177.7 650.4,178.5 652.6,179.4 654.8,180.2 657,180.7 659.2,180.7 661.4,180.2 663.6,179.5 665.8,178.8 668,178.3 668.1,177.8" fill="none" stroke="#fc7748" stroke-width="0.70" stroke-opacity="0.36" stroke-linecap="butt" stroke-linejoin="round"/>
<polyline points="412.8,31.0 413.6,41.6 414.3,52.3 415.1,63.0 415.9,74.5 416.6,85.3 417.4,93.3 418.2,97.8 419,102.8 419.7,106.6 420.5,110.2 421.3,113.4 422,115.8 422.8,118.1 423.8,121.3 426,127.6 428.2,129.8 430.4,132.0 432.6,134.2 434.8,136.2 437,136.8 439.2,137.3 441.4,137.9 443.6,138.6 445.8,139.5 448,140.2 450.2,140.9 452.4,141.5 454.6,142.2 456.8,143.5 459,145.4 461.2,147.5 463.4,149.3 465.6,150.9 467.8,151.9 470,152.1 472.2,151.8 474.4,151.2 476.6,150.7 478.8,150.6 481,150.8 483.2,151.5 485.4,152.4 487.6,153.3 489.8,154.0 492,154.5 494.2,155.0 496.4,155.5 498.6,156.0 500.8,156.7 503,157.4 505.2,157.9 507.4,158.2 509.6,158.7 511.8,159.4 514,160.2 516.2,161.1 518.4,162.0 520.6,162.9 522.8,163.7 525,164.4 527.2,165.1 529.4,165.8 531.6,166.7 533.8,167.6 536,168.3 538.2,168.9 540.4,169.5 542.6,170.2 544.8,171.1 547,172.0 549.2,172.8 551.4,173.4 553.6,173.9 555.8,174.1 558,174.3 560.2,174.6 562.4,175.1 564.6,175.6 566.8,175.9 569,175.9 571.2,175.9 573.4,176.2 575.6,176.6 577.8,177.3 580,177.6 582.2,177.6 584.4,177.1 586.6,176.3 588.8,175.6 591,175.2 593.2,175.1 595.4,175.2 597.6,175.4 599.8,175.4 602,175.0 604.2,174.6 606.4,174.4 608.6,174.6 610.8,175.2 613,175.8 615.2,176.4 617.4,176.9 619.6,177.2 621.8,177.4 624,177.7 626.2,178.0 628.4,178.2 630.6,178.2 632.8,178.1 635,178.2 637.2,178.5 639.4,178.8 641.6,179.1 643.8,179.1 646,179.3 648.2,179.5 650.4,180.0 652.6,180.7 654.8,181.2 657,181.4 659.2,181.5 661.4,181.7 663.6,182.0 665.8,182.1 668,182.0 670,181.8" fill="none" stroke="#fc7748" stroke-width="0.70" stroke-opacity="0.36" stroke-linecap="butt" stroke-linejoin="round"/>
<polyline points="412.8,31.0 413.6,40.4 414.3,49.4 415.1,58.5 415.9,68.3 416.6,75.9 417.4,80.5 418.2,82.5 419,87.4 419.7,91.2 420.5,94.8 421.3,98.1 422,100.6 422.8,103.1 423.8,106.4 426,114.0 428.2,118.3 430.4,122.4 432.6,126.4 434.8,130.2 437,133.1 439.2,135.9 441.4,140.7 443.6,146.6 445.8,150.5 448,151.2 450.2,151.8 452.4,152.2 454.6,152.6 456.8,153.1 459,154.3 461.2,155.6 463.4,157.0 465.6,158.7 467.8,160.2 470,161.1 472.2,161.2 474.4,161.0 476.6,160.8 478.8,160.6 481,160.3 483.2,160.1 485.4,159.9 487.6,159.7 489.8,159.6 492,159.5 494.2,159.3 496.4,159.0 498.6,158.6 500.8,158.8 503,159.8 505.2,161.2 507.4,162.8 509.6,164.3 511.8,165.5 514,165.9 516.2,165.7 518.4,165.2 520.6,164.7 522.8,164.6 525,165.0 527.2,165.8 529.4,167.0 531.6,168.1 533.8,169.2 536,169.9 538.2,170.5 540.4,171.0 542.6,171.7 544.8,172.3 547,172.9 549.2,173.4 551.4,174.0 553.6,174.6 555.8,175.3 558,175.9 560.2,176.4 562.4,176.8 564.6,177.1 566.8,177.4 569,177.8 571.2,178.1 573.4,178.4 575.6,178.7 577.8,179.2 580,179.7 582.2,180.4 584.4,180.9 586.6,181.2 588.8,181.4 591,181.4 593.2,181.2 595.4,181.0 597.6,180.6 599.8,180.4 602,180.6 604.2,181.2 606.4,181.9 608.6,182.8 610.8,183.8 613,184.9 615.2,185.9 617.4,186.9 619.6,187.8 621.8,188.6 624,189.4 626.2,190.0 628.4,190.4 630.6,190.9 632.8,191.4 635,192.1 637.2,192.5 639.4,192.8 641.6,193.1 643.8,193.6 646,194.1 648.2,194.6 650.4,195.2 652.6,195.7 654.8,196.4 657,197.2 659.2,198.1 661.4,199.0 663.6,200.0 665.8,201.0 667.1,201.5" fill="none" stroke="#fc7748" stroke-width="0.70" stroke-opacity="0.36" stroke-linecap="butt" stroke-linejoin="round"/>
<polyline points="412.8,31.0 413.6,41.3 414.3,51.6 415.1,61.9 415.9,73.0 416.6,82.9 417.4,90.0 418.2,93.9 419,98.9 419.7,102.5 420.5,106.0 421.3,109.1 422,111.3 422.8,113.6 423.8,116.8 426,123.1 428.2,125.0 430.4,126.7 432.6,128.1 434.8,129.1 437,128.9 439.2,129.0 441.4,130.2 443.6,132.3 445.8,134.3 448,135.7 450.2,136.9 452.4,137.6 454.6,138.1 456.8,138.6 459,140.0 461.2,142.0 463.4,144.2 465.6,146.7 467.8,149.1 470,150.8 472.2,152.0 474.4,152.6 476.6,152.8 478.8,153.0 481,153.2 483.2,153.6 485.4,154.3 487.6,155.1 489.8,156.0 492,156.8 494.2,157.6 496.4,158.2 498.6,158.6 500.8,159.0 503,159.7 505.2,160.5 507.4,161.4 509.6,162.3 511.8,163.1 514,163.7 516.2,164.2 518.4,164.8 520.6,165.6 522.8,166.4 525,167.0 527.2,167.3 529.4,167.2 531.6,166.9 533.8,166.7 536,166.5 538.2,166.6 540.4,166.9 542.6,167.4 544.8,167.8 547,168.3 549.2,168.9 551.4,169.3 553.6,169.6 555.8,169.7 558,169.5 560.2,169.1 562.4,168.5 564.6,167.8 566.8,167.2 569,166.8 571.2,166.8 573.4,167.3 575.6,168.1 577.8,168.8 580,169.4 582.2,169.9 584.4,170.2 586.6,170.5 588.8,170.7 591,171.0 593.2,171.5 595.4,172.2 597.6,173.1 599.8,173.9 602,175.0 604.2,175.6 606.4,175.9 608.6,176.1 610.8,176.5 613,177.1 615.2,177.9 617.4,178.7 619.6,179.2 621.8,179.4 624,179.6 626.2,179.9 628.4,180.3 630.6,181.0 632.8,181.6 635,182.1 637.2,182.3 639.4,182.1 641.6,181.9 643.8,181.6 646,181.4 648.2,181.4 650.4,181.6 652.6,181.8 654.8,182.1 657,182.4 659.2,182.7 661.4,183.0 663.6,183.5 665.8,184.0 667.9,184.6" fill="none" stroke="#fc7748" stroke-width="0.70" stroke-opacity="0.36" stroke-linecap="butt" stroke-linejoin="round"/>
<polyline points="412.8,31.0 413.6,40.1 414.3,48.6 415.1,57.3 415.9,66.7 416.6,73.4 417.4,77.1 418.2,78.3 419,83.3 419.7,87.0 420.5,90.6 421.3,93.9 422,96.3 422.8,98.7 423.8,102.0 426,109.2 428.2,113.1 430.4,116.8 432.6,120.4 434.8,123.6 437,125.5 439.2,127.5 441.4,130.4 443.6,134.0 445.8,137.2 448,138.9 450.2,140.5 452.4,141.7 454.6,142.8 456.8,144.0 459,145.8 461.2,147.7 463.4,149.4 465.6,151.1 467.8,152.3 470,152.7 472.2,152.6 474.4,152.1 476.6,151.6 478.8,151.6 481,152.1 483.2,152.9 485.4,153.7 487.6,154.1 489.8,154.2 492,154.1 494.2,154.0 496.4,154.1 498.6,154.4 500.8,154.8 503,155.1 505.2,155.0 507.4,154.5 509.6,154.1 511.8,154.1 514,154.5 516.2,155.0 518.4,155.5 520.6,155.7 522.8,155.8 525,156.0 527.2,156.5 529.4,157.2 531.6,157.7 533.8,158.2 536,158.7 538.2,159.2 540.4,159.9 542.6,160.5 544.8,161.0 547,161.5 549.2,162.1 551.4,162.8 553.6,163.4 555.8,163.6 558,163.4 560.2,163.3 562.4,163.5 564.6,164.1 566.8,165.2 569,166.5 571.2,167.8 573.4,168.8 575.6,169.3 577.8,169.3 580,168.8 582.2,168.5 584.4,168.3 586.6,168.6 588.8,169.3 591,170.5 593.2,171.7 595.4,172.8 597.6,173.7 599.8,174.5 602,175.4 604.2,176.3 606.4,177.0 608.6,177.3 610.8,177.2 613,177.0 615.2,176.7 617.4,176.5 619.6,176.6 621.8,176.9 624,177.6 626.2,178.5 628.4,179.7 630.6,180.7 632.8,181.3 635,181.4 637.2,181.1 639.4,181.0 641.6,181.0 643.8,181.4 646,182.2 648.2,183.2 650.4,184.4 652.6,185.6 654.8,186.7 657,187.4 659.2,187.9 661.4,188.0 663.6,187.8 665.8,187.4 668,187.1 668.5,186.7" fill="none" stroke="#fc7748" stroke-width="0.70" stroke-opacity="0.36" stroke-linecap="butt" stroke-linejoin="round"/>
<polyline points="412.8,31.0 413.6,40.2 414.3,48.9 415.1,57.7 415.9,67.2 416.6,74.2 417.4,78.2 418.2,79.6 419,84.5 419.7,88.2 420.5,91.7 421.3,94.8 422,97.1 422.8,99.4 423.8,102.6 426,110.2 428.2,114.8 430.4,119.4 432.6,124.0 434.8,128.5 437,132.1 439.2,135.9 441.4,138.0 443.6,138.9 445.8,140.0 448,141.5 450.2,142.8 452.4,143.8 454.6,145.2 456.8,147.1 459,149.6 461.2,152.0 463.4,154.0 465.6,156.1 467.8,158.0 470,159.5 472.2,160.1 474.4,160.3 476.6,160.3 478.8,160.0 481,159.5 483.2,159.0 485.4,158.7 487.6,158.6 489.8,159.0 492,159.8 494.2,160.7 496.4,161.3 498.6,161.9 500.8,162.4 503,163.2 505.2,163.9 507.4,164.2 509.6,164.3 511.8,164.5 514,164.9 516.2,165.3 518.4,165.7 520.6,165.9 522.8,166.1 525,166.5 527.2,167.1 529.4,167.6 531.6,167.9 533.8,167.9 536,167.7 538.2,167.3 540.4,167.2 542.6,167.5 544.8,168.1 547,169.0 549.2,169.9 551.4,170.6 553.6,170.9 555.8,170.9 558,170.9 560.2,171.0 562.4,171.2 564.6,171.5 566.8,171.9 569,172.6 571.2,173.5 573.4,174.6 575.6,175.5 577.8,176.2 580,176.5 582.2,176.7 584.4,176.7 586.6,176.6 588.8,176.4 591,176.2 593.2,176.3 595.4,176.7 597.6,177.3 599.8,178.0 602,178.3 604.2,178.5 606.4,178.9 608.6,179.3 610.8,179.7 613,179.9 615.2,180.1 617.4,180.7 619.6,181.8 621.8,183.2 624,184.3 626.2,184.8 628.4,184.8 630.6,184.5 632.8,184.4 635,184.8 637.2,185.6 639.4,186.5 641.6,187.5 643.8,188.3 646,188.8 648.2,188.9 650.4,189.0 652.6,189.0 654.8,189.2 657,189.6 659.2,190.0 661.4,190.3 663.6,190.5 665.8,190.8 667,191.1" fill="none" stroke="#fc7748" stroke-width="0.70" stroke-opacity="0.36" stroke-linecap="butt" stroke-linejoin="round"/>
<polyline points="412.8,31.0 413.6,40.0 414.3,48.6 415.1,57.2 415.9,66.5 416.6,73.2 417.4,76.8 418.2,78.0 419,82.9 419.7,86.6 420.5,90.1 421.3,93.2 422,95.4 422.8,97.7 423.8,100.8 426,108.0 428.2,112.1 430.4,116.2 432.6,120.4 434.8,124.4 437,127.4 439.2,130.4 441.4,132.6 443.6,134.4 445.8,136.3 448,138.2 450.2,140.3 452.4,142.2 454.6,143.9 456.8,145.5 459,147.3 461.2,149.0 463.4,150.1 465.6,151.1 467.8,151.9 470,152.6 472.2,153.2 474.4,153.5 476.6,153.5 478.8,153.4 481,153.2 483.2,153.3 485.4,153.5 487.6,153.8 489.8,154.2 492,154.6 494.2,155.1 496.4,155.8 498.6,156.6 500.8,157.5 503,158.5 505.2,159.5 507.4,160.2 509.6,161.0 511.8,161.7 514,162.6 516.2,163.3 518.4,163.8 520.6,164.1 522.8,164.0 525,163.9 527.2,163.9 529.4,164.2 531.6,164.7 533.8,165.3 536,165.9 538.2,166.3 540.4,166.3 542.6,165.9 544.8,165.3 547,164.8 549.2,164.4 551.4,164.2 553.6,163.9 555.8,163.7 558,163.7 560.2,163.8 562.4,164.0 564.6,164.3 566.8,164.8 569,165.3 571.2,165.8 573.4,166.3 575.6,166.6 577.8,166.6 580,166.7 582.2,166.9 584.4,167.2 586.6,167.7 588.8,168.3 591,168.7 593.2,168.9 595.4,169.0 597.6,169.0 599.8,169.3 602,169.6 604.2,170.0 606.4,170.6 608.6,171.2 610.8,171.8 613,172.2 615.2,172.5 617.4,172.6 619.6,172.8 621.8,173.1 624,173.5 626.2,173.9 628.4,174.2 630.6,174.2 632.8,174.1 635,173.7 637.2,173.1 639.4,172.4 641.6,171.6 643.8,171.2 646,171.0 648.2,171.0 650.4,170.8 652.6,170.5 654.8,170.0 657,169.5 659.2,169.3 661.4,169.3 663.6,169.6 665.8,170.0 668,170.3 670.2,170.4 670.9,170.6" fill="none" stroke="#fc7748" stroke-width="0.70" stroke-opacity="0.36" stroke-linecap="butt" stroke-linejoin="round"/>
<polyline points="412.8,31.0 413.6,40.7 414.3,50.2 415.1,59.7 415.9,70.0 416.6,78.5 417.4,83.9 418.2,86.6 419,91.5 419.7,95.0 420.5,98.5 421.3,101.5 422,103.8 422.8,106.0 423.8,109.0 426,116.3 428.2,121.0 430.4,125.8 432.6,130.7 434.8,135.3 437,138.4 439.2,141.4 441.4,144.4 443.6,147.9 445.8,151.3 448,153.6 450.2,156.0 452.4,158.2 454.6,160.3 456.8,162.3 459,164.5 461.2,166.5 463.4,168.0 465.6,169.3 467.8,170.7 470,171.9 472.2,172.4 474.4,172.6 476.6,172.8 478.8,173.3 481,174.0 483.2,174.9 485.4,175.5 487.6,175.9 489.8,176.0 492,176.0 494.2,175.9 496.4,175.6 498.6,175.3 500.8,175.6 503,176.5 505.2,177.7 507.4,178.7 509.6,179.6 511.8,180.3 514,180.9 516.2,181.3 518.4,181.7 520.6,182.1 522.8,182.5 525,182.9 527.2,183.3 529.4,183.7 531.6,184.1 533.8,184.5 536,184.8 538.2,185.0 540.4,185.3 542.6,185.6 544.8,185.8 547,186.1 549.2,186.5 551.4,187.0 553.6,187.2 555.8,187.1 558,186.5 560.2,185.9 562.4,185.5 564.6,185.6 566.8,186.1 569,186.8 571.2,187.4 573.4,187.9 575.6,188.1 577.8,188.2 580,188.2 582.2,188.3 584.4,188.6 586.6,189.0 588.8,189.3 591,189.5 593.2,189.6 595.4,189.7 597.6,189.9 599.8,190.1 602,190.7 604.2,191.4 606.4,192.1 608.6,192.6 610.8,192.9 613,193.1 615.2,193.3 617.4,193.6 619.6,194.1 621.8,194.8 624,195.6 626.2,196.3 628.4,197.0 630.6,197.4 632.8,197.8 635,198.2 637.2,198.7 639.4,199.2 641.6,199.7 643.8,200.4 646,201.2 648.2,201.9 650.4,202.5 652.6,202.9 654.8,203.2 657,203.6 659.2,204.4 661.4,205.3 663.6,206.2 665.8,206.6 668,206.8 670.2,206.8 672.4,206.9 674.5,207.2" fill="none" stroke="#fc7748" stroke-width="0.70" stroke-opacity="0.36" stroke-linecap="butt" stroke-linejoin="round"/>
<polyline points="412.8,31.0 413.6,40.9 414.3,50.6 415.1,60.3 415.9,70.8 416.6,79.7 417.4,85.6 418.2,88.7 419,93.7 419.7,97.5 420.5,101.2 421.3,104.5 422,106.9 422.8,109.4 423.8,112.8 426,121.2 428.2,127.2 430.4,133.2 432.6,139.1 434.8,144.8 437,149.1 439.2,153.2 441.4,156.2 443.6,158.8 445.8,161.1 448,162.5 450.2,163.6 452.4,164.4 454.6,165.1 456.8,166.0 459,167.5 461.2,169.0 463.4,170.4 465.6,171.9 467.8,173.5 470,174.9 472.2,175.8 474.4,176.3 476.6,176.5 478.8,176.9 481,177.3 483.2,177.6 485.4,177.5 487.6,177.0 489.8,176.5 492,176.2 494.2,176.0 496.4,175.9 498.6,175.6 500.8,175.4 503,175.2 505.2,175.2 507.4,175.3 509.6,175.6 511.8,176.0 514,176.4 516.2,176.7 518.4,177.0 520.6,177.3 522.8,177.6 525,177.8 527.2,178.0 529.4,178.4 531.6,178.9 533.8,179.2 536,179.2 538.2,178.9 540.4,178.4 542.6,178.1 544.8,177.7 547,177.6 549.2,177.8 551.4,178.4 553.6,179.5 555.8,180.9 558,182.6 560.2,184.2 562.4,185.4 564.6,186.1 566.8,186.4 569,186.6 571.2,187.1 573.4,187.8 575.6,188.8 577.8,189.9 580,191.1 582.2,192.6 584.4,194.2 586.6,195.7 588.8,196.9 591,197.6 593.2,197.9 595.4,197.9 597.6,198.0 599.8,198.3 602,199.1 604.2,200.1 606.4,201.1 608.6,202.2 610.8,203.0 613,203.6 615.2,204.2 617.4,204.9 619.6,205.9 621.8,206.9 624,207.6 626.2,207.9 628.4,207.9 630.6,207.6 632.8,207.2 635,206.9 637.2,206.7 639.4,207.0 641.6,207.6 643.8,208.4 646,209.3 648.2,210.1 650.4,210.8 652.6,211.4 654.8,211.9 657,212.5 659.2,213.1 661.4,213.7 663.6,214.4 665.8,215.0 668,215.7 668.1,215.7" fill="none" stroke="#fc7748" stroke-width="0.70" stroke-opacity="0.36" stroke-linecap="butt" stroke-linejoin="round"/>
<polyline points="412.8,31.0 413.6,40.0 414.3,48.6 415.1,57.2 415.9,66.6 416.6,73.3 417.4,77.0 418.2,78.2 419,83.2 419.7,86.9 420.5,90.6 421.3,93.9 422,96.4 422.8,98.9 423.8,102.4 426,110.5 428.2,115.7 430.4,120.8 432.6,125.6 434.8,130.2 437,133.5 439.2,136.8 441.4,139.9 443.6,142.7 445.8,144.8 448,145.2 450.2,145.6 452.4,145.9 454.6,146.3 456.8,146.9 459,148.2 461.2,149.6 463.4,150.8 465.6,151.9 467.8,152.6 470,152.5 472.2,153.0 474.4,152.8 476.6,152.8 478.8,153.2 481,154.1 483.2,155.2 485.4,156.2 487.6,156.9 489.8,157.4 492,157.8 494.2,158.1 496.4,158.4 498.6,158.6 500.8,158.7 503,158.8 505.2,159.3 507.4,159.9 509.6,160.6 511.8,161.5 514,162.5 516.2,163.1 518.4,163.5 520.6,163.7 522.8,164.0 525,164.5 527.2,164.9 529.4,165.2 531.6,165.6 533.8,166.0 536,166.5 538.2,166.9 540.4,167.2 542.6,167.7 544.8,168.1 547,168.3 549.2,168.2 551.4,167.9 553.6,167.7 555.8,167.6 558,167.8 560.2,168.3 562.4,168.8 564.6,169.2 566.8,169.4 569,169.4 571.2,169.4 573.4,169.4 575.6,169.7 577.8,170.2 580,171.1 582.2,172.0 584.4,172.8 586.6,173.3 588.8,173.8 591,174.2 593.2,174.6 595.4,175.0 597.6,175.3 599.8,175.7 602,176.1 604.2,176.5 606.4,176.7 608.6,176.8 610.8,176.9 613,177.2 615.2,177.8 617.4,178.7 619.6,179.6 621.8,180.5 624,181.2 626.2,181.9 628.4,182.6 630.6,183.0 632.8,183.3 635,183.6 637.2,184.1 639.4,184.7 641.6,185.3 643.8,185.9 646,186.2 648.2,186.3 650.4,186.3 652.6,186.4 654.8,186.7 657,187.0 659.2,187.2 661.4,187.2 663.6,187.2 665.8,187.4 668,187.7 670.2,188.1 672,188.3" fill="none" stroke="#fc7748" stroke-width="0.70" stroke-opacity="0.36" stroke-linecap="butt" stroke-linejoin="round"/>
<polyline points="412.8,31.0 413.6,40.3 414.3,49.2 415.1,58.1 415.9,67.8 416.6,75.2 417.4,79.5 418.2,81.3 419,86.2 419.7,89.9 420.5,93.5 421.3,96.7 422,99.1 422.8,101.5 423.8,104.8 426,111.9 428.2,115.4 430.4,118.8 432.6,122.0 434.8,124.7 437,126.2 439.2,127.7 441.4,129.3 443.6,131.1 445.8,133.2 448,135.2 450.2,137.1 452.4,138.6 454.6,140.0 456.8,141.3 459,142.9 461.2,144.2 463.4,145.0 465.6,145.8 467.8,146.5 470,147.2 472.2,147.7 474.4,148.2 476.6,148.7 478.8,149.1 481,149.2 483.2,149.2 485.4,149.2 487.6,149.2 489.8,149.5 492,150.0 494.2,150.5 496.4,150.8 498.6,150.6 500.8,150.3 503,150.4 505.2,151.0 507.4,152.2 509.6,154.0 511.8,156.0 514,158.0 516.2,159.9 518.4,161.4 520.6,162.3 522.8,162.5 525,162.3 527.2,162.1 529.4,162.2 531.6,162.6 533.8,163.3 536,163.9 538.2,164.2 540.4,164.1 542.6,163.9 544.8,163.7 547,163.9 549.2,164.5 551.4,165.2 553.6,165.8 555.8,166.2 558,166.3 560.2,166.1 562.4,165.6 564.6,165.1 566.8,164.9 569,165.1 571.2,165.5 573.4,165.9 575.6,166.2 577.8,166.7 580,167.1 582.2,167.6 584.4,168.0 586.6,168.5 588.8,169.1 591,169.8 593.2,170.5 595.4,170.9 597.6,171.0 599.8,171.0 602,170.9 604.2,171.0 606.4,171.3 608.6,171.8 610.8,172.5 613,173.1 615.2,173.6 617.4,173.9 619.6,174.2 621.8,174.5 624,175.0 626.2,175.4 628.4,175.8 630.6,176.1 632.8,176.5 635,176.9 637.2,177.2 639.4,177.2 641.6,177.2 643.8,177.3 646,177.7 648.2,178.4 650.4,179.3 652.6,180.4 654.8,181.5 657,182.6 659.2,183.4 661.4,184.0 663.6,184.3 665.8,184.3 667.7,184.1" fill="none" stroke="#fc7748" stroke-width="0.70" stroke-opacity="0.36" stroke-linecap="butt" stroke-linejoin="round"/>
<polyline points="412.8,31.0 413.6,39.9 414.3,48.3 415.1,56.7 415.9,66.0 416.6,72.4 417.4,75.6 418.2,76.6 419,81.6 419.7,85.3 420.5,88.9 421.3,92.1 422,94.6 422.8,97.1 423.8,100.6 426,108.6 428.2,113.5 430.4,118.6 432.6,123.9 434.8,128.9 437,132.5 439.2,135.6 441.4,137.9 443.6,139.5 445.8,140.9 448,141.7 450.2,142.4 452.4,142.9 454.6,143.3 456.8,143.8 459,145.0 461.2,146.5 463.4,148.0 465.6,149.6 467.8,150.8 470,151.1 472.2,151.0 474.4,150.7 476.6,150.6 478.8,150.7 481,150.6 483.2,150.3 485.4,149.6 487.6,148.7 489.8,147.9 492,147.3 494.2,147.0 496.4,146.9 498.6,146.9 500.8,147.0 503,147.3 505.2,147.8 507.4,148.2 509.6,148.6 511.8,149.1 514,149.6 516.2,150.1 518.4,150.3 520.6,150.3 522.8,150.2 525,149.9 527.2,149.5 529.4,149.4 531.6,149.6 533.8,150.1 536,150.9 538.2,151.7 540.4,152.5 542.6,153.5 544.8,154.7 547,155.9 549.2,157.0 551.4,158.0 553.6,158.9 555.8,159.8 558,161.0 560.2,162.6 562.4,164.3 564.6,165.9 566.8,167.2 569,168.1 571.2,168.7 573.4,169.3 575.6,170.4 577.8,172.1 580,173.9 582.2,175.4 584.4,176.4 586.6,177.0 588.8,177.2 591,177.3 593.2,177.4 595.4,177.7 597.6,178.4 599.8,179.5 602,180.3 604.2,180.8 606.4,181.0 608.6,180.8 610.8,180.4 613,179.9 615.2,179.7 617.4,179.4 619.6,179.0 621.8,178.5 624,177.9 626.2,177.4 628.4,177.3 630.6,177.4 632.8,177.7 635,177.9 637.2,177.9 639.4,177.4 641.6,176.7 643.8,176.0 646,175.7 648.2,175.7 650.4,176.0 652.6,176.4 654.8,176.6 657,176.3 659.2,175.8 661.4,175.5 663.6,175.7 665.8,176.4 668,177.4 669.7,178.3" fill="none" stroke="#fc7748" stroke-width="0.70" stroke-opacity="0.36" stroke-linecap="butt" stroke-linejoin="round"/>
<polyline points="412.8,31.0 413.6,42.5 414.3,54.4 415.1,66.4 415.9,79.1 416.6,92.2 417.4,102.7 418.2,109.2 419,114.1 419.7,117.7 420.5,121.3 421.3,124.4 422,126.8 422.8,129.2 423.8,132.5 426,138.3 428.2,139.0 430.4,139.7 432.6,140.5 434.8,141.1 437,140.4 439.2,139.4 441.4,140.5 443.6,142.8 445.8,144.7 448,145.4 450.2,146.3 452.4,147.1 454.6,147.9 456.8,148.8 459,150.3 461.2,151.8 463.4,153.1 465.6,154.2 467.8,155.0 470,155.5 472.2,155.6 474.4,155.4 476.6,155.2 478.8,155.1 481,155.0 483.2,155.0 485.4,154.9 487.6,154.6 489.8,154.5 492,154.5 494.2,154.7 496.4,154.8 498.6,154.8 500.8,155.1 503,156.1 505.2,157.1 507.4,157.9 509.6,158.4 511.8,158.9 514,159.5 516.2,160.2 518.4,160.9 520.6,161.7 522.8,162.6 525,163.6 527.2,164.5 529.4,165.2 531.6,165.6 533.8,165.8 536,165.9 538.2,166.1 540.4,166.8 542.6,167.9 544.8,169.4 547,171.1 549.2,172.5 551.4,173.4 553.6,173.6 555.8,173.4 558,173.1 560.2,173.0 562.4,173.0 564.6,173.4 566.8,174.1 569,175.2 571.2,176.3 573.4,177.2 575.6,177.6 577.8,177.4 580,176.8 582.2,176.2 584.4,176.0 586.6,176.2 588.8,176.7 591,177.4 593.2,178.2 595.4,178.9 597.6,179.5 599.8,179.9 602,180.3 604.2,180.7 606.4,181.0 608.6,181.1 610.8,180.9 613,180.3 615.2,179.7 617.4,179.4 619.6,179.5 621.8,179.8 624,180.2 626.2,180.5 628.4,180.9 630.6,181.3 632.8,181.6 635,181.8 637.2,182.0 639.4,182.0 641.6,182.0 643.8,182.1 646,182.3 648.2,182.7 650.4,183.2 652.6,183.6 654.8,183.9 657,184.4 659.2,185.2 661.4,186.0 663.6,186.6 665.8,186.8 668,186.7 668.1,186.3" fill="none" stroke="#fc7748" stroke-width="0.70" stroke-opacity="0.36" stroke-linecap="butt" stroke-linejoin="round"/>
<polyline points="412.8,31.0 413.6,40.9 414.3,50.5 415.1,60.3 415.9,70.8 416.6,79.6 417.4,85.5 418.2,88.5 419,93.5 419.7,97.1 420.5,100.7 421.3,103.8 422,106.1 422.8,108.3 423.8,111.3 426,117.5 428.2,119.6 430.4,121.5 432.6,123.3 434.8,125.0 437,125.5 439.2,126.1 441.4,128.2 443.6,131.4 445.8,133.9 448,134.7 450.2,135.6 452.4,136.6 454.6,137.7 456.8,139.1 459,140.8 461.2,142.2 463.4,143.2 465.6,143.9 467.8,144.4 470,144.7 472.2,145.2 474.4,145.9 476.6,146.9 478.8,148.0 481,149.0 483.2,149.5 485.4,149.8 487.6,149.9 489.8,150.0 492,150.4 494.2,151.0 496.4,151.8 498.6,152.8 500.8,154.0 503,155.3 505.2,156.4 507.4,157.2 509.6,157.8 511.8,158.5 514,159.4 516.2,160.5 518.4,161.5 520.6,162.2 522.8,162.7 525,163.0 527.2,163.1 529.4,163.1 531.6,163.0 533.8,162.8 536,162.5 538.2,162.2 540.4,161.8 542.6,161.2 544.8,160.3 547,159.4 549.2,158.7 551.4,158.7 553.6,159.1 555.8,159.8 558,160.6 560.2,161.5 562.4,162.4 564.6,163.2 566.8,163.8 569,164.3 571.2,164.8 573.4,165.3 575.6,165.8 577.8,166.4 580,167.0 582.2,167.4 584.4,167.4 586.6,167.3 588.8,167.2 591,167.6 593.2,168.3 595.4,169.2 597.6,170.1 599.8,171.1 602,171.8 604.2,172.5 606.4,172.9 608.6,173.4 610.8,174.1 613,175.1 615.2,176.3 617.4,177.4 619.6,178.1 621.8,178.4 624,178.6 626.2,178.8 628.4,179.4 630.6,180.4 632.8,181.6 635,182.7 637.2,183.4 639.4,183.7 641.6,183.5 643.8,183.1 646,182.9 648.2,182.9 650.4,183.2 652.6,183.9 654.8,184.6 657,185.1 659.2,185.4 661.4,185.6 663.6,185.8 665.8,186.0 668,186.3 670.2,186.5 671.9,186.5" fill="none" stroke="#fc7748" stroke-width="0.70" stroke-opacity="0.36" stroke-linecap="butt" stroke-linejoin="round"/>
<polyline points="412.8,31.0 413.6,41.3 414.3,51.6 415.1,62.0 415.9,73.1 416.6,83.1 417.4,90.3 418.2,94.3 419,99.3 419.7,103.0 420.5,106.7 421.3,110.0 422,112.5 422.8,114.9 423.8,118.3 426,125.7 428.2,129.6 430.4,133.3 432.6,137.0 434.8,140.6 437,143.3 439.2,146.0 441.4,147.3 443.6,147.6 445.8,148.7 448,150.3 450.2,151.8 452.4,152.7 454.6,153.2 456.8,153.8 459,154.8 461.2,155.9 463.4,156.8 465.6,157.7 467.8,158.4 470,159.0 472.2,159.9 474.4,160.8 476.6,161.5 478.8,161.9 481,161.9 483.2,161.9 485.4,161.9 487.6,162.0 489.8,162.2 492,162.7 494.2,163.3 496.4,164.1 498.6,164.8 500.8,165.5 503,166.2 505.2,166.9 507.4,167.3 509.6,167.4 511.8,167.5 514,167.9 516.2,168.5 518.4,169.2 520.6,169.8 522.8,170.2 525,170.7 527.2,171.3 529.4,171.9 531.6,172.5 533.8,173.3 536,174.3 538.2,175.3 540.4,176.3 542.6,177.1 544.8,177.7 547,178.2 549.2,178.9 551.4,179.6 553.6,180.1 555.8,180.4 558,180.4 560.2,180.2 562.4,179.9 564.6,179.7 566.8,179.5 569,179.6 571.2,179.6 573.4,179.5 575.6,179.4 577.8,179.5 580,179.8 582.2,180.5 584.4,181.3 586.6,181.9 588.8,182.4 591,182.7 593.2,182.9 595.4,182.7 597.6,182.3 599.8,182.0 602,182.1 604.2,182.6 606.4,183.3 608.6,183.9 610.8,184.4 613,184.8 615.2,185.2 617.4,185.8 619.6,186.6 621.8,187.5 624,188.6 626.2,189.6 628.4,190.4 630.6,191.0 632.8,191.4 635,191.9 637.2,192.6 639.4,193.3 641.6,193.9 643.8,194.3 646,194.4 648.2,194.1 650.4,193.6 652.6,193.2 654.8,193.1 657,193.6 659.2,194.5 661.4,195.7 663.6,196.7 665.8,197.3 667.9,197.5" fill="none" stroke="#fc7748" stroke-width="0.70" stroke-opacity="0.36" stroke-linecap="butt" stroke-linejoin="round"/>
<polyline points="412.8,31.0 413.6,41.7 414.3,52.6 415.1,63.4 415.9,75.1 416.6,86.1 417.4,94.5 418.2,99.3 419,104.2 419.7,107.9 420.5,111.4 421.3,114.6 422,117.0 422.8,119.4 423.8,122.8 426,129.5 428.2,132.1 430.4,134.8 432.6,137.3 434.8,139.6 437,140.7 439.2,141.6 441.4,143.4 443.6,145.6 445.8,147.6 448,148.9 450.2,150.0 452.4,151.0 454.6,152.0 456.8,153.4 459,155.6 461.2,157.7 463.4,159.5 465.6,160.8 467.8,161.7 470,161.8 472.2,161.8 474.4,161.5 476.6,161.3 478.8,161.0 481,160.6 483.2,160.0 485.4,159.7 487.6,159.7 489.8,160.0 492,160.6 494.2,161.0 496.4,161.1 498.6,161.2 500.8,161.4 503,162.0 505.2,162.6 507.4,163.0 509.6,163.2 511.8,163.1 514,163.2 516.2,163.4 518.4,163.9 520.6,164.5 522.8,165.0 525,165.5 527.2,165.8 529.4,165.8 531.6,165.5 533.8,165.1 536,164.8 538.2,164.9 540.4,165.2 542.6,165.8 544.8,166.2 547,166.5 549.2,166.7 551.4,166.8 553.6,167.1 555.8,167.4 558,167.8 560.2,168.4 562.4,169.1 564.6,169.9 566.8,170.8 569,171.6 571.2,172.3 573.4,172.8 575.6,173.1 577.8,173.0 580,172.6 582.2,172.4 584.4,172.4 586.6,172.6 588.8,173.1 591,173.7 593.2,174.1 595.4,174.3 597.6,174.4 599.8,174.5 602,174.7 604.2,174.8 606.4,174.8 608.6,174.9 610.8,175.2 613,175.4 615.2,175.5 617.4,175.3 619.6,174.9 621.8,174.4 624,174.0 626.2,174.0 628.4,174.2 630.6,174.7 632.8,175.3 635,175.9 637.2,176.4 639.4,176.8 641.6,176.9 643.8,177.1 646,177.3 648.2,177.7 650.4,178.1 652.6,178.3 654.8,178.4 657,178.4 659.2,178.3 661.4,178.2 663.6,178.0 665.8,177.7 668,177.5 668.8,177.6" fill="none" stroke="#fc7748" stroke-width="0.70" stroke-opacity="0.36" stroke-linecap="butt" stroke-linejoin="round"/>
<polyline points="412.8,31.0 413.6,40.7 414.3,50.2 415.1,59.7 415.9,70.0 416.6,78.5 417.4,84.0 418.2,86.7 419,91.6 419.7,95.3 420.5,99.0 421.3,102.1 422,104.5 422.8,107.0 423.8,110.3 426,117.3 428.2,120.6 430.4,123.8 432.6,127.2 434.8,130.5 437,132.6 439.2,134.3 441.4,134.9 443.6,134.7 445.8,135.3 448,136.9 450.2,138.6 452.4,140.2 454.6,141.6 456.8,142.9 459,144.5 461.2,146.1 463.4,147.8 465.6,149.7 467.8,151.4 470,152.5 472.2,152.4 474.4,151.9 476.6,151.5 478.8,151.5 481,151.8 483.2,152.2 485.4,152.4 487.6,152.3 489.8,151.7 492,150.7 494.2,149.6 496.4,148.7 498.6,148.4 500.8,148.8 503,150.1 505.2,151.3 507.4,152.1 509.6,152.4 511.8,152.4 514,152.6 516.2,153.2 518.4,154.2 520.6,155.4 522.8,156.4 525,156.9 527.2,156.8 529.4,156.7 531.6,156.9 533.8,157.5 536,158.3 538.2,159.2 540.4,160.0 542.6,160.6 544.8,160.9 547,160.9 549.2,160.9 551.4,161.0 553.6,161.1 555.8,161.3 558,161.7 560.2,162.2 562.4,162.9 564.6,163.7 566.8,164.7 569,165.7 571.2,166.8 573.4,167.8 575.6,168.7 577.8,169.1 580,169.3 582.2,169.5 584.4,169.7 586.6,170.1 588.8,170.7 591,171.4 593.2,172.0 595.4,172.3 597.6,172.6 599.8,172.8 602,173.3 604.2,173.8 606.4,174.2 608.6,174.6 610.8,174.9 613,175.4 615.2,175.9 617.4,176.2 619.6,176.1 621.8,175.6 624,174.8 626.2,174.1 628.4,173.8 630.6,174.2 632.8,175.1 635,176.0 637.2,176.7 639.4,177.3 641.6,177.8 643.8,178.3 646,178.4 648.2,178.1 650.4,177.7 652.6,177.4 654.8,177.4 657,177.8 659.2,178.2 661.4,178.5 663.6,178.6 665.8,178.8 668,179.1 668.1,179.1" fill="none" stroke="#fc7748" stroke-width="0.70" stroke-opacity="0.36" stroke-linecap="butt" stroke-linejoin="round"/>
<polyline points="412.8,31.0 413.6,40.9 414.3,50.5 415.1,60.2 415.9,70.7 416.6,79.5 417.4,85.3 418.2,88.3 419,93.3 419.7,96.9 420.5,100.5 421.3,103.6 422,106.0 422.8,108.4 423.8,111.6 426,118.8 428.2,122.7 430.4,126.5 432.6,130.4 434.8,133.9 437,136.2 439.2,138.4 441.4,138.3 443.6,137.2 445.8,137.2 448,138.9 450.2,140.6 452.4,142.1 454.6,143.5 456.8,144.8 459,146.6 461.2,148.7 463.4,151.0 465.6,153.7 467.8,155.9 470,157.3 472.2,157.8 474.4,157.8 476.6,158.0 478.8,158.4 481,158.8 483.2,159.1 485.4,159.0 487.6,158.7 489.8,158.6 492,159.0 494.2,159.6 496.4,160.2 498.6,160.9 500.8,161.7 503,162.5 505.2,163.4 507.4,164.0 509.6,164.2 511.8,164.3 514,164.2 516.2,164.0 518.4,163.9 520.6,163.8 522.8,163.8 525,163.9 527.2,164.1 529.4,164.4 531.6,164.9 533.8,165.3 536,165.5 538.2,165.7 540.4,166.0 542.6,166.5 544.8,167.0 547,167.2 549.2,167.3 551.4,167.5 553.6,167.7 555.8,167.7 558,167.5 560.2,167.2 562.4,167.1 564.6,167.2 566.8,167.7 569,168.6 571.2,169.5 573.4,170.0 575.6,170.2 577.8,170.1 580,170.0 582.2,170.0 584.4,169.9 586.6,169.9 588.8,170.1 591,170.7 593.2,171.5 595.4,172.2 597.6,172.4 599.8,172.4 602,172.7 604.2,173.2 606.4,173.9 608.6,174.8 610.8,175.7 613,176.6 615.2,177.5 617.4,178.2 619.6,178.8 621.8,179.1 624,179.2 626.2,179.2 628.4,179.3 630.6,179.5 632.8,179.6 635,179.8 637.2,180.1 639.4,180.6 641.6,181.3 643.8,182.0 646,182.7 648.2,183.2 650.4,183.6 652.6,184.0 654.8,184.4 657,184.9 659.2,185.6 661.4,186.5 663.6,187.5 665.8,188.6 668,189.5 668.1,189.8" fill="none" stroke="#fc7748" stroke-width="0.70" stroke-opacity="0.36" stroke-linecap="butt" stroke-linejoin="round"/>
<polyline points="412.8,31.0 413.6,40.8 414.3,50.4 415.1,60.0 415.9,70.4 416.6,79.1 417.4,84.8 418.2,87.6 419,92.6 419.7,96.2 420.5,99.7 421.3,102.8 422,105.0 422.8,107.3 423.8,110.3 426,118.0 428.2,123.3 430.4,128.5 432.6,133.5 434.8,138.2 437,141.7 439.2,145.2 441.4,147.5 443.6,149.5 445.8,151.6 448,153.2 450.2,155.0 452.4,156.6 454.6,158.0 456.8,159.6 459,161.7 461.2,163.8 463.4,165.9 465.6,167.9 467.8,169.8 470,171.1 472.2,171.9 474.4,172.4 476.6,172.8 478.8,173.2 481,173.4 483.2,173.3 485.4,173.3 487.6,173.3 489.8,173.7 492,174.3 494.2,174.8 496.4,175.1 498.6,175.4 500.8,175.9 503,176.6 505.2,177.2 507.4,177.4 509.6,177.5 511.8,177.8 514,178.3 516.2,179.0 518.4,179.8 520.6,180.4 522.8,180.6 525,180.5 527.2,180.2 529.4,179.6 531.6,179.0 533.8,178.5 536,178.1 538.2,178.1 540.4,178.1 542.6,177.8 544.8,177.0 547,176.1 549.2,175.3 551.4,175.1 553.6,175.6 555.8,176.6 558,177.8 560.2,178.8 562.4,179.6 564.6,180.1 566.8,180.4 569,180.6 571.2,180.9 573.4,181.3 575.6,182.0 577.8,182.5 580,182.9 582.2,183.2 584.4,183.6 586.6,184.1 588.8,184.7 591,185.2 593.2,185.8 595.4,186.1 597.6,186.2 599.8,186.3 602,186.9 604.2,188.1 606.4,189.6 608.6,191.2 610.8,192.5 613,193.4 615.2,194.0 617.4,194.4 619.6,194.7 621.8,195.2 624,196.0 626.2,197.1 628.4,198.4 630.6,199.6 632.8,200.5 635,201.1 637.2,201.4 639.4,201.7 641.6,201.9 643.8,202.0 646,202.1 648.2,202.2 650.4,202.6 652.6,203.3 654.8,204.4 657,205.7 659.2,207.2 661.4,208.7 663.6,210.1 665.8,211.1 667.5,211.6" fill="none" stroke="#fc7748" stroke-width="0.70" stroke-opacity="0.36" stroke-linecap="butt" stroke-linejoin="round"/>
<polyline points="412.8,31.0 413.6,41.3 414.3,51.5 415.1,61.7 415.9,72.7 416.6,82.5 417.4,89.5 418.2,93.3 419,98.2 419.7,101.8 420.5,105.3 421.3,108.4 422,110.6 422.8,112.9 423.8,115.9 426,122.3 428.2,124.9 430.4,127.2 432.6,129.3 434.8,131.4 437,132.5 439.2,133.8 441.4,137.6 443.6,142.9 445.8,147.1 448,148.9 450.2,150.6 452.4,152.3 454.6,154.1 456.8,155.9 459,158.0 461.2,159.6 463.4,160.7 465.6,161.7 467.8,163.0 470,164.0 472.2,165.4 474.4,166.4 476.6,167.2 478.8,167.9 481,168.5 483.2,169.0 485.4,169.6 487.6,170.2 489.8,170.9 492,171.7 494.2,172.3 496.4,172.8 498.6,173.2 500.8,173.2 503,173.0 505.2,173.0 507.4,173.2 509.6,173.3 511.8,173.4 514,173.2 516.2,172.9 518.4,172.5 520.6,172.2 522.8,172.2 525,172.4 527.2,173.0 529.4,173.4 531.6,173.5 533.8,173.2 536,172.5 538.2,171.6 540.4,170.8 542.6,170.2 544.8,169.9 547,169.8 549.2,170.0 551.4,170.6 553.6,171.2 555.8,171.7 558,172.2 560.2,172.7 562.4,173.2 564.6,173.6 566.8,173.8 569,174.0 571.2,174.2 573.4,174.6 575.6,175.5 577.8,176.5 580,177.5 582.2,178.5 584.4,179.3 586.6,179.9 588.8,180.3 591,180.6 593.2,180.8 595.4,181.0 597.6,181.3 599.8,181.5 602,181.9 604.2,182.4 606.4,183.0 608.6,183.4 610.8,183.7 613,183.9 615.2,183.9 617.4,184.0 619.6,184.2 621.8,184.5 624,184.8 626.2,185.4 628.4,186.1 630.6,187.0 632.8,188.0 635,188.8 637.2,189.4 639.4,189.6 641.6,189.4 643.8,188.9 646,188.4 648.2,188.0 650.4,187.8 652.6,187.9 654.8,188.0 657,188.4 659.2,188.8 661.4,189.1 663.6,189.2 665.8,189.2 667.4,189.0" fill="none" stroke="#fc7748" stroke-width="0.70" stroke-opacity="0.36" stroke-linecap="butt" stroke-linejoin="round"/>
<polyline points="412.8,31.0 413.6,42.0 414.3,53.2 415.1,64.4 415.9,76.4 416.6,88.2 417.4,97.2 418.2,102.5 419,107.4 419.7,111.0 420.5,114.5 421.3,117.5 422,119.8 422.8,122.1 423.8,125.2 426,131.2 428.2,132.6 430.4,134.1 432.6,135.6 434.8,137.1 437,137.5 439.2,137.8 441.4,139.5 443.6,142.0 445.8,144.3 448,145.9 450.2,147.6 452.4,149.4 454.6,151.3 456.8,153.1 459,155.2 461.2,156.8 463.4,157.8 465.6,158.6 467.8,159.2 470,159.6 472.2,160.2 474.4,160.8 476.6,161.5 478.8,162.1 481,162.4 483.2,162.2 485.4,161.9 487.6,161.7 489.8,161.9 492,162.4 494.2,163.1 496.4,163.7 498.6,164.2 500.8,164.5 503,164.8 505.2,165.2 507.4,165.6 509.6,166.1 511.8,166.6 514,166.9 516.2,166.7 518.4,166.1 520.6,165.1 522.8,164.4 525,164.2 527.2,164.8 529.4,165.7 531.6,166.5 533.8,166.9 536,166.9 538.2,166.7 540.4,166.6 542.6,166.5 544.8,166.4 547,166.5 549.2,166.7 551.4,167.1 553.6,167.5 555.8,167.9 558,168.3 560.2,168.7 562.4,169.1 564.6,169.6 566.8,170.2 569,170.8 571.2,171.4 573.4,172.0 575.6,172.6 577.8,173.1 580,173.4 582.2,173.7 584.4,174.0 586.6,174.2 588.8,174.4 591,174.7 593.2,175.2 595.4,175.9 597.6,176.6 599.8,177.3 602,177.9 604.2,178.3 606.4,178.5 608.6,178.6 610.8,178.6 613,178.6 615.2,178.8 617.4,179.4 619.6,180.0 621.8,180.5 624,180.9 626.2,181.1 628.4,181.3 630.6,181.6 632.8,181.9 635,182.5 637.2,183.3 639.4,184.1 641.6,184.6 643.8,184.6 646,184.0 648.2,183.2 650.4,182.6 652.6,182.7 654.8,183.4 657,184.5 659.2,185.6 661.4,186.6 663.6,187.5 665.8,188.3 667.7,189.1" fill="none" stroke="#fc7748" stroke-width="0.70" stroke-opacity="0.36" stroke-linecap="butt" stroke-linejoin="round"/>
<polyline points="412.8,31.0 413.6,39.9 414.3,48.2 415.1,56.5 415.9,65.7 416.6,71.9 417.4,75.0 418.2,75.9 419,80.8 419.7,84.5 420.5,88.1 421.3,91.3 422,93.7 422.8,96.0 423.8,99.2 426,106.7 428.2,111.4 430.4,115.8 432.6,119.8 434.8,123.4 437,125.9 439.2,128.6 441.4,130.1 443.6,131.1 445.8,132.5 448,134.1 450.2,135.7 452.4,137.4 454.6,139.0 456.8,140.9 459,143.4 461.2,145.9 463.4,147.8 465.6,149.2 467.8,150.0 470,150.3 472.2,150.7 474.4,151.2 476.6,152.1 478.8,153.3 481,154.6 483.2,155.6 485.4,156.3 487.6,156.7 489.8,157.1 492,157.8 494.2,158.6 496.4,159.6 498.6,160.5 500.8,161.2 503,161.7 505.2,162.0 507.4,162.1 509.6,162.2 511.8,162.5 514,163.0 516.2,163.9 518.4,165.1 520.6,166.5 522.8,167.4 525,167.9 527.2,168.0 529.4,168.2 531.6,168.8 533.8,169.6 536,170.3 538.2,170.8 540.4,170.9 542.6,170.8 544.8,170.8 547,170.9 549.2,171.2 551.4,171.3 553.6,171.1 555.8,170.9 558,170.8 560.2,171.2 562.4,172.1 564.6,173.4 566.8,174.8 569,176.0 571.2,176.7 573.4,176.9 575.6,176.8 577.8,176.8 580,176.8 582.2,177.1 584.4,177.7 586.6,178.5 588.8,179.3 591,179.8 593.2,180.2 595.4,180.4 597.6,180.4 599.8,180.3 602,180.1 604.2,180.0 606.4,179.9 608.6,180.1 610.8,180.4 613,180.7 615.2,180.8 617.4,180.5 619.6,179.9 621.8,179.1 624,178.4 626.2,177.9 628.4,177.6 630.6,177.6 632.8,177.7 635,177.6 637.2,177.2 639.4,176.6 641.6,176.1 643.8,175.8 646,175.7 648.2,175.8 650.4,175.9 652.6,175.9 654.8,175.9 657,176.1 659.2,176.4 661.4,176.8 663.6,177.2 665.8,177.6 668,178.1 670.2,178.5 672.1,179.0" fill="none" stroke="#fc7748" stroke-width="0.70" stroke-opacity="0.36" stroke-linecap="butt" stroke-linejoin="round"/>
<polyline points="412.8,31.0 413.6,40.4 414.3,49.4 415.1,58.5 415.9,68.3 416.6,76.0 417.4,80.5 418.2,82.5 419,87.5 419.7,91.2 420.5,94.8 421.3,97.9 422,100.3 422.8,102.7 423.8,106.0 426,113.1 428.2,116.8 430.4,120.4 432.6,123.9 434.8,126.9 437,128.5 439.2,130.1 441.4,131.9 443.6,133.6 445.8,135.1 448,136.1 450.2,137.1 452.4,138.0 454.6,138.9 456.8,140.0 459,141.6 461.2,143.2 463.4,144.4 465.6,145.4 467.8,146.1 470,146.5 472.2,146.9 474.4,147.2 476.6,147.4 478.8,147.6 481,147.6 483.2,147.4 485.4,147.2 487.6,147.0 489.8,147.1 492,147.4 494.2,147.8 496.4,148.2 498.6,148.5 500.8,148.9 503,149.4 505.2,150.1 507.4,151.1 509.6,152.1 511.8,153.0 514,153.9 516.2,154.9 518.4,156.0 520.6,157.2 522.8,158.4 525,159.6 527.2,160.5 529.4,161.2 531.6,162.0 533.8,162.9 536,164.2 538.2,165.6 540.4,167.0 542.6,168.0 544.8,168.3 547,168.3 549.2,168.1 551.4,167.8 553.6,167.4 555.8,167.1 558,166.9 560.2,166.9 562.4,167.2 564.6,167.8 566.8,168.6 569,169.3 571.2,169.6 573.4,169.6 575.6,169.6 577.8,169.6 580,169.4 582.2,169.0 584.4,168.7 586.6,168.6 588.8,168.8 591,169.2 593.2,169.6 595.4,170.0 597.6,170.2 599.8,170.4 602,171.0 604.2,172.0 606.4,173.3 608.6,174.7 610.8,175.9 613,177.1 615.2,178.1 617.4,179.0 619.6,179.8 621.8,180.6 624,181.4 626.2,182.2 628.4,182.8 630.6,183.4 632.8,184.0 635,184.5 637.2,185.3 639.4,186.0 641.6,186.6 643.8,187.0 646,187.1 648.2,187.0 650.4,186.8 652.6,186.7 654.8,186.6 657,186.6 659.2,186.7 661.4,186.7 663.6,186.7 665.8,186.6 668,186.6 669.9,186.5" fill="none" stroke="#fc7748" stroke-width="0.70" stroke-opacity="0.36" stroke-linecap="butt" stroke-linejoin="round"/>
<polyline points="412.8,31.0 413.6,40.2 414.3,49.0 415.1,57.8 415.9,67.5 416.6,74.6 417.4,78.7 418.2,80.4 419,85.3 419.7,89.0 420.5,92.6 421.3,95.8 422,98.2 422.8,100.6 423.8,104.0 426,111.3 428.2,114.8 430.4,118.1 432.6,121.2 434.8,124.2 437,126.3 439.2,128.5 441.4,130.5 443.6,132.2 445.8,133.8 448,134.9 450.2,135.9 452.4,136.9 454.6,138.2 456.8,140.0 459,142.7 461.2,145.6 463.4,148.0 465.6,150.0 467.8,151.1 470,151.4 472.2,150.9 474.4,150.3 476.6,150.0 478.8,149.8 481,149.8 483.2,149.8 485.4,149.9 487.6,150.1 489.8,150.4 492,150.7 494.2,150.9 496.4,150.9 498.6,150.7 500.8,150.9 503,151.7 505.2,152.8 507.4,154.0 509.6,155.0 511.8,155.6 514,155.8 516.2,155.7 518.4,155.5 520.6,155.7 522.8,156.3 525,156.8 527.2,157.0 529.4,157.2 531.6,157.7 533.8,158.6 536,159.9 538.2,161.1 540.4,161.9 542.6,162.4 544.8,162.7 547,162.9 549.2,162.9 551.4,162.6 553.6,162.0 555.8,161.5 558,161.1 560.2,161.0 562.4,161.3 564.6,161.9 566.8,162.8 569,163.8 571.2,164.4 573.4,164.7 575.6,164.5 577.8,164.1 580,163.6 582.2,163.4 584.4,163.6 586.6,164.1 588.8,164.7 591,165.3 593.2,165.8 595.4,166.3 597.6,166.8 599.8,167.2 602,167.8 604.2,168.8 606.4,169.9 608.6,171.0 610.8,172.1 613,173.1 615.2,174.0 617.4,175.0 619.6,176.1 621.8,177.1 624,178.1 626.2,179.0 628.4,179.8 630.6,180.5 632.8,181.2 635,181.9 637.2,182.3 639.4,182.2 641.6,181.9 643.8,181.4 646,181.0 648.2,180.9 650.4,181.1 652.6,181.6 654.8,182.3 657,182.8 659.2,183.1 661.4,183.2 663.6,183.2 665.8,183.0 667.1,182.7" fill="none" stroke="#fc7748" stroke-width="0.70" stroke-opacity="0.36" stroke-linecap="butt" stroke-linejoin="round"/>
<polyline points="412.8,31.0 413.6,41.2 414.3,51.4 415.1,61.5 415.9,72.5 416.6,82.2 417.4,89.1 418.2,92.8 419,97.7 419.7,101.3 420.5,104.9 421.3,108.1 422,110.5 422.8,112.9 423.8,116.3 426,123.8 428.2,128.2 430.4,132.4 432.6,136.5 434.8,140.4 437,143.4 439.2,146.4 441.4,149.5 443.6,152.5 445.8,154.9 448,156.4 450.2,157.9 452.4,159.2 454.6,160.4 456.8,161.7 459,163.5 461.2,165.5 463.4,167.5 465.6,169.6 467.8,171.2 470,172.0 472.2,172.2 474.4,172.1 476.6,172.2 478.8,172.4 481,172.7 483.2,172.8 485.4,172.9 487.6,172.8 489.8,172.8 492,172.9 494.2,173.1 496.4,173.1 498.6,172.7 500.8,172.2 503,171.8 505.2,171.6 507.4,171.7 509.6,172.0 511.8,172.3 514,172.6 516.2,172.8 518.4,172.9 520.6,172.8 522.8,172.3 525,171.6 527.2,170.8 529.4,170.0 531.6,169.4 533.8,168.9 536,168.6 538.2,168.6 540.4,168.9 542.6,169.3 544.8,169.5 547,169.5 549.2,169.3 551.4,169.4 553.6,169.9 555.8,170.6 558,171.4 560.2,172.1 562.4,172.8 564.6,173.3 566.8,173.8 569,174.4 571.2,175.0 573.4,175.5 575.6,175.9 577.8,176.5 580,177.3 582.2,178.4 584.4,179.4 586.6,180.2 588.8,180.6 591,180.7 593.2,180.5 595.4,180.5 597.6,180.6 599.8,181.1 602,181.5 604.2,181.8 606.4,182.2 608.6,182.6 610.8,183.0 613,183.5 615.2,184.2 617.4,185.2 619.6,186.4 621.8,187.5 624,188.2 626.2,188.2 628.4,187.9 630.6,187.5 632.8,187.0 635,186.7 637.2,186.4 639.4,186.2 641.6,186.1 643.8,186.1 646,186.4 648.2,186.9 650.4,187.5 652.6,188.1 654.8,188.5 657,188.8 659.2,189.0 661.4,189.1 663.6,189.2 665.8,189.3 668,189.6 670.2,190.2 672.4,191.0 674.1,192.0" fill="none" stroke="#fc7748" stroke-width="0.70" stroke-opacity="0.36" stroke-linecap="butt" stroke-linejoin="round"/>
<polyline points="412.8,31.0 413.6,42.5 414.3,54.3 415.1,66.2 415.9,78.8 416.6,91.7 417.4,102.1 418.2,108.4 419,113.4 419.7,117.0 420.5,120.6 421.3,123.8 422,126.1 422.8,128.4 423.8,131.5 426,136.5 428.2,135.6 430.4,134.6 432.6,133.5 434.8,132.1 437,129.5 439.2,126.9 441.4,127.1 443.6,129.1 445.8,131.0 448,132.4 450.2,133.9 452.4,135.5 454.6,137.0 456.8,138.6 459,140.6 461.2,142.5 463.4,143.9 465.6,145.1 467.8,146.0 470,146.7 472.2,147.2 474.4,147.6 476.6,148.0 478.8,148.6 481,149.2 483.2,150.1 485.4,150.9 487.6,151.5 489.8,151.8 492,152.2 494.2,152.5 496.4,152.6 498.6,152.6 500.8,152.5 503,152.7 505.2,152.9 507.4,152.9 509.6,152.9 511.8,153.1 514,153.5 516.2,154.2 518.4,155.1 520.6,156.1 522.8,157.0 525,157.9 527.2,158.6 529.4,158.8 531.6,158.5 533.8,157.8 536,156.8 538.2,156.2 540.4,156.1 542.6,156.6 544.8,157.4 547,158.1 549.2,158.5 551.4,158.5 553.6,158.4 555.8,158.3 558,158.4 560.2,158.4 562.4,158.5 564.6,158.7 566.8,159.1 569,159.6 571.2,160.0 573.4,160.3 575.6,160.7 577.8,161.3 580,162.2 582.2,163.5 584.4,164.8 586.6,166.0 588.8,167.1 591,168.0 593.2,168.5 595.4,168.6 597.6,168.3 599.8,168.1 602,168.5 604.2,169.5 606.4,170.8 608.6,172.2 610.8,173.2 613,173.7 615.2,173.6 617.4,173.3 619.6,173.1 621.8,173.1 624,173.2 626.2,173.4 628.4,173.6 630.6,173.8 632.8,173.9 635,173.8 637.2,173.6 639.4,173.3 641.6,173.1 643.8,172.9 646,172.8 648.2,172.7 650.4,172.7 652.6,172.8 654.8,173.1 657,173.6 659.2,174.3 661.4,174.9 663.6,175.4 665.8,175.9 668,176.6 668.1,177.1" fill="none" stroke="#fc7748" stroke-width="0.70" stroke-opacity="0.36" stroke-linecap="butt" stroke-linejoin="round"/>
<polyline points="412.8,31.0 413.6,40.1 414.3,48.8 415.1,57.5 415.9,67.0 416.6,73.9 417.4,77.8 418.2,79.2 419,84.1 419.7,87.8 420.5,91.3 421.3,94.5 422,96.9 422.8,99.3 423.8,102.6 426,111.3 428.2,118.3 430.4,125.2 432.6,132.0 434.8,138.5 437,143.7 439.2,148.8 441.4,152.3 443.6,155.0 445.8,157.3 448,158.8 450.2,160.5 452.4,162.3 454.6,164.0 456.8,165.7 459,167.7 461.2,169.5 463.4,171.1 465.6,172.8 467.8,174.5 470,175.9 472.2,176.8 474.4,177.2 476.6,177.3 478.8,177.0 481,176.7 483.2,176.8 485.4,177.2 487.6,177.7 489.8,178.2 492,178.6 494.2,178.9 496.4,179.0 498.6,179.0 500.8,178.8 503,178.5 505.2,178.0 507.4,177.4 509.6,176.9 511.8,176.5 514,176.3 516.2,176.3 518.4,176.5 520.6,177.0 522.8,177.8 525,178.6 527.2,179.1 529.4,179.3 531.6,179.3 533.8,179.1 536,178.5 538.2,177.7 540.4,177.0 542.6,176.6 544.8,176.5 547,176.9 549.2,177.5 551.4,178.6 553.6,179.9 555.8,181.1 558,182.2 560.2,183.0 562.4,183.5 564.6,183.6 566.8,183.4 569,182.9 571.2,182.6 573.4,182.5 575.6,182.8 577.8,183.5 580,184.2 582.2,184.8 584.4,185.4 586.6,186.2 588.8,187.0 591,187.7 593.2,188.1 595.4,188.5 597.6,189.0 599.8,189.7 602,190.6 604.2,191.3 606.4,191.7 608.6,192.0 610.8,192.6 613,193.4 615.2,194.3 617.4,195.1 619.6,195.8 621.8,196.5 624,197.2 626.2,197.9 628.4,198.7 630.6,199.5 632.8,200.4 635,201.4 637.2,202.3 639.4,203.2 641.6,204.2 643.8,205.3 646,206.4 648.2,207.5 650.4,208.5 652.6,209.6 654.8,210.5 657,211.3 659.2,211.8 661.4,212.1 663.6,212.7 665.8,213.6 667.4,214.8" fill="none" stroke="#fc7748" stroke-width="0.70" stroke-opacity="0.36" stroke-linecap="butt" stroke-linejoin="round"/>
<polyline points="412.8,31.0 413.6,41.4 414.3,51.7 415.1,62.1 415.9,73.2 416.6,83.3 417.4,90.6 418.2,94.6 419,99.5 419.7,103.2 420.5,106.8 421.3,110.0 422,112.4 422.8,115.0 423.8,118.4 426,125.2 428.2,127.7 430.4,130.1 432.6,132.3 434.8,134.7 437,136.2 439.2,137.7 441.4,138.9 443.6,139.7 445.8,140.7 448,141.9 450.2,143.1 452.4,144.0 454.6,144.7 456.8,145.5 459,146.9 461.2,148.2 463.4,149.4 465.6,150.5 467.8,151.3 470,151.7 472.2,152.7 474.4,153.7 476.6,154.9 478.8,155.9 481,156.8 483.2,157.3 485.4,157.3 487.6,157.0 489.8,156.7 492,156.8 494.2,157.4 496.4,158.5 498.6,159.8 500.8,160.9 503,161.7 505.2,162.5 507.4,163.2 509.6,163.7 511.8,163.9 514,163.8 516.2,163.3 518.4,162.7 520.6,162.3 522.8,162.3 525,162.5 527.2,162.8 529.4,163.2 531.6,163.5 533.8,163.4 536,163.2 538.2,162.9 540.4,162.7 542.6,162.5 544.8,162.2 547,161.8 549.2,161.7 551.4,162.1 553.6,162.9 555.8,163.7 558,164.2 560.2,164.4 562.4,164.4 564.6,164.4 566.8,164.5 569,164.9 571.2,165.3 573.4,165.7 575.6,166.0 577.8,166.4 580,167.0 582.2,168.0 584.4,168.9 586.6,169.4 588.8,169.8 591,170.2 593.2,170.7 595.4,171.4 597.6,171.9 599.8,172.3 602,172.6 604.2,172.9 606.4,173.4 608.6,174.2 610.8,175.1 613,176.1 615.2,177.0 617.4,177.4 619.6,177.6 621.8,177.8 624,178.2 626.2,178.9 628.4,179.7 630.6,180.4 632.8,180.8 635,180.7 637.2,180.3 639.4,179.7 641.6,179.2 643.8,178.8 646,178.7 648.2,178.6 650.4,178.3 652.6,177.9 654.8,177.2 657,176.5 659.2,176.1 661.4,176.1 663.6,176.4 665.8,176.9 668,177.3 670.2,177.2 672,176.8" fill="none" stroke="#fc7748" stroke-width="0.70" stroke-opacity="0.36" stroke-linecap="butt" stroke-linejoin="round"/>
<polyline points="412.8,31.0 413.6,42.4 414.3,54.1 415.1,65.9 415.9,78.5 416.6,91.3 417.4,101.4 418.2,107.7 419,112.7 419.7,116.4 420.5,120.1 421.3,123.3 422,125.7 422.8,128.1 423.8,131.5 426,137.6 428.2,138.5 430.4,139.1 432.6,139.4 434.8,139.2 437,137.9 439.2,136.7 441.4,136.6 443.6,137.2 445.8,138.0 448,138.8 450.2,139.7 452.4,140.5 454.6,141.3 456.8,142.3 459,143.6 461.2,144.6 463.4,145.0 465.6,145.2 467.8,145.5 470,145.9 472.2,147.3 474.4,148.8 476.6,150.5 478.8,152.1 481,153.2 483.2,153.9 485.4,154.1 487.6,154.2 489.8,154.3 492,154.6 494.2,155.1 496.4,155.6 498.6,156.0 500.8,156.3 503,156.7 505.2,157.0 507.4,157.2 509.6,157.6 511.8,158.1 514,158.5 516.2,159.0 518.4,159.7 520.6,160.8 522.8,162.3 525,163.9 527.2,165.3 529.4,166.1 531.6,166.3 533.8,165.7 536,164.9 538.2,164.2 540.4,163.9 542.6,164.0 544.8,164.3 547,164.7 549.2,165.2 551.4,165.9 553.6,166.6 555.8,167.1 558,167.3 560.2,167.3 562.4,167.3 564.6,167.4 566.8,167.5 569,167.6 571.2,167.7 573.4,168.0 575.6,168.3 577.8,168.6 580,168.7 582.2,168.6 584.4,168.4 586.6,168.4 588.8,168.9 591,169.7 593.2,170.7 595.4,171.3 597.6,171.4 599.8,171.1 602,170.7 604.2,170.5 606.4,170.6 608.6,171.0 610.8,171.5 613,171.9 615.2,172.2 617.4,172.5 619.6,172.9 621.8,173.6 624,174.3 626.2,175.2 628.4,175.9 630.6,176.6 632.8,177.2 635,177.8 637.2,178.4 639.4,179.1 641.6,179.8 643.8,180.4 646,180.9 648.2,181.0 650.4,181.0 652.6,181.0 654.8,181.1 657,181.3 659.2,181.6 661.4,181.9 663.6,182.0 665.8,182.0 668,181.9 668.6,181.4" fill="none" stroke="#fc7748" stroke-width="0.70" stroke-opacity="0.36" stroke-linecap="butt" stroke-linejoin="round"/>
<polyline points="412.8,31.0 413.6,40.6 414.3,49.9 415.1,59.3 415.9,69.5 416.6,77.7 417.4,82.9 418.2,85.3 419,90.2 419.7,93.9 420.5,97.5 421.3,100.7 422,103.1 422.8,105.4 423.8,108.6 426,115.8 428.2,119.9 430.4,123.9 432.6,127.9 434.8,131.6 437,134.0 439.2,136.4 441.4,139.1 443.6,141.8 445.8,143.5 448,143.6 450.2,144.0 452.4,144.6 454.6,145.2 456.8,146.1 459,147.6 461.2,149.3 463.4,150.7 465.6,151.8 467.8,152.5 470,152.5 472.2,152.5 474.4,152.4 476.6,152.4 478.8,152.7 481,153.2 483.2,153.8 485.4,154.3 487.6,154.7 489.8,155.2 492,155.6 494.2,155.8 496.4,155.9 498.6,156.0 500.8,156.5 503,157.4 505.2,158.4 507.4,159.3 509.6,160.0 511.8,160.5 514,161.0 516.2,161.6 518.4,162.4 520.6,163.2 522.8,164.1 525,165.0 527.2,166.1 529.4,167.2 531.6,168.1 533.8,168.8 536,169.2 538.2,169.5 540.4,169.7 542.6,169.9 544.8,170.1 547,170.3 549.2,170.4 551.4,170.4 553.6,170.5 555.8,170.7 558,170.9 560.2,171.0 562.4,171.0 564.6,171.0 566.8,171.0 569,171.2 571.2,171.4 573.4,171.8 575.6,172.4 577.8,173.2 580,173.9 582.2,174.2 584.4,173.9 586.6,173.3 588.8,172.8 591,172.7 593.2,173.2 595.4,173.9 597.6,174.6 599.8,175.0 602,175.4 604.2,175.5 606.4,175.7 608.6,176.2 610.8,176.8 613,177.3 615.2,177.4 617.4,177.2 619.6,176.9 621.8,176.5 624,176.1 626.2,175.7 628.4,175.6 630.6,175.7 632.8,176.2 635,176.7 637.2,177.2 639.4,177.3 641.6,177.5 643.8,177.8 646,178.3 648.2,178.7 650.4,179.1 652.6,179.3 654.8,179.6 657,179.8 659.2,180.1 661.4,180.4 663.6,180.7 665.8,181.2 668,181.8 668.3,182.2" fill="none" stroke="#fc7748" stroke-width="0.70" stroke-opacity="0.36" stroke-linecap="butt" stroke-linejoin="round"/>
<polyline points="413,31.0 413.8,80.3 414.5,92.8 415.3,98.3 416.1,103.2 416.8,108.2 417.6,113.1 418.4,116.8 419.2,120.6 419.9,124.5 420.7,128.3 421.5,132.2 422.2,135.7 423,138.4 424,142.0 426.2,147.1 428.4,150.0 430.6,152.8 432.8,154.8 435,156.7 437.2,158.6 439.4,160.3 441.6,161.9 443.8,163.3 446,164.6 448.2,165.8 450.4,166.9 452.6,168.0 454.8,168.9 457,169.7 459.2,170.4 461.4,171.1 463.6,171.8 465.8,172.6 468,173.5 470.2,174.4 472.4,174.9 474.6,175.1 476.8,175.1 479,175.2 481.2,175.3 483.4,175.5 485.6,175.9 487.8,176.3 490,176.7 492.2,177.2 494.4,177.7 496.6,178.0 498.8,178.3 501,178.6 503.2,179.0 505.4,179.3 507.6,179.5 509.8,179.6 512,179.5 514.2,179.1 516.4,178.7 518.6,178.4 520.8,178.2 523,178.2 525.2,178.1 527.4,177.9 529.6,177.6 531.8,177.4 534,177.2 536.2,177.2 538.4,177.3 540.6,177.9 542.8,178.5 545,179.1 547.2,179.3 549.4,179.5 551.6,179.9 553.8,180.5 556,181.2 558.2,181.8 560.4,182.4 562.6,182.6 564.8,182.5 567,182.4 569.2,182.4 571.4,182.5 573.6,182.9 575.8,183.4 578,184.0 580.2,184.6 582.4,185.2 584.6,185.9 586.8,186.5 589,187.1 591.2,187.7 593.4,188.0 595.6,188.2 597.8,188.4 600,188.5 602.2,188.7 604.4,188.9 606.6,189.1 608.8,189.2 611,189.4 613.2,189.6 615.4,189.8 617.6,189.9 619.8,189.7 622,189.5 624.2,189.1 626.4,188.6 628.6,188.3 630.8,188.1 633,188.1 635.2,188.2 637.4,188.2 639.6,188.1 641.8,188.1 644,188.2 646.2,188.2 648.4,188.0 650.6,187.5 652.8,186.7 655,185.9 657.2,185.3 659.4,185.1 661.6,185.2 663.8,185.5 666,185.7 667.6,185.8" fill="none" stroke="#1f77b4" stroke-width="0.60" stroke-opacity="0.33" stroke-dasharray="3,0.8,0.6,0.8" stroke-linecap="butt" stroke-linejoin="round"/>
<polyline points="413,31.0 413.8,76.6 414.5,85.3 415.3,87.0 416.1,88.2 416.8,89.4 417.6,92.4 418.4,94.8 419.2,97.2 419.9,99.6 420.7,102.0 421.5,104.4 422.2,106.4 423,107.7 424,109.4 426.2,112.0 428.4,113.7 430.6,115.2 432.8,115.4 435,115.5 437.2,115.4 439.4,115.2 441.6,114.7 443.8,114.3 446,114.0 448.2,114.0 450.4,114.1 452.6,114.3 454.8,114.3 457,114.2 459.2,113.9 461.4,113.5 463.6,113.1 465.8,112.8 468,112.6 470.2,112.4 472.4,111.9 474.6,111.3 476.8,110.7 479,110.3 481.2,110.4 483.4,110.8 485.6,111.4 487.8,112.0 490,112.6 492.2,113.2 494.4,114.0 496.6,114.8 498.8,115.7 501,116.6 503.2,117.4 505.4,117.9 507.6,118.1 509.8,118.1 512,118.0 514.2,117.8 516.4,117.7 518.6,117.7 520.8,117.8 523,117.9 525.2,118.4 527.4,119.1 529.6,120.1 531.8,121.1 534,122.0 536.2,122.5 538.4,122.7 540.6,123.1 542.8,123.8 545,124.8 547.2,125.7 549.4,126.6 551.6,127.2 553.8,127.6 556,128.0 558.2,128.4 560.4,128.9 562.6,129.4 564.8,129.8 567,130.1 569.2,130.3 571.4,130.4 573.6,130.4 575.8,130.7 578,131.0 580.2,131.4 582.4,131.9 584.6,132.4 586.8,132.7 589,132.9 591.2,132.9 593.4,132.8 595.6,132.7 597.8,132.6 600,132.7 602.2,132.7 604.4,132.5 606.6,132.3 608.8,132.3 611,132.5 613.2,132.8 615.4,133.1 617.6,133.2 619.8,133.0 622,133.0 624.2,133.2 626.4,133.6 628.6,134.0 630.8,134.4 633,134.7 635.2,135.0 637.4,135.2 639.6,135.2 641.8,135.1 644,134.7 646.2,134.4 648.4,134.2 650.6,134.2 652.8,134.4 655,134.7 657.2,135.0 659.4,135.5 661.6,136.0 663.8,136.6 666,137.0 668.2,137.3 668.4,137.3" fill="none" stroke="#1f77b4" stroke-width="0.60" stroke-opacity="0.33" stroke-dasharray="3,0.8,0.6,0.8" stroke-linecap="butt" stroke-linejoin="round"/>
<polyline points="413,31.0 413.8,80.1 414.5,92.3 415.3,97.6 416.1,102.4 416.8,107.1 417.6,110.5 418.4,112.4 419.2,114.3 419.9,116.3 420.7,118.2 421.5,120.2 422.2,122.0 423,122.9 424,124.0 426.2,126.0 428.4,127.6 430.6,128.9 432.8,129.2 435,129.6 437.2,130.1 439.4,130.7 441.6,131.1 443.8,131.3 446,131.6 448.2,131.8 450.4,131.9 452.6,131.8 454.8,131.4 457,130.9 459.2,130.3 461.4,129.6 463.6,129.0 465.8,128.5 468,128.4 470.2,128.4 472.4,128.4 474.6,128.4 476.8,128.2 479,127.9 481.2,127.8 483.4,127.9 485.6,127.8 487.8,127.6 490,127.8 492.2,128.2 494.4,129.0 496.6,129.7 498.8,130.2 501,130.4 503.2,130.6 505.4,130.6 507.6,130.7 509.8,130.6 512,130.5 514.2,130.0 516.4,129.5 518.6,129.0 520.8,128.7 523,128.9 525.2,129.3 527.4,129.9 529.6,130.7 531.8,131.5 534,132.1 536.2,132.6 538.4,132.8 540.6,132.9 542.8,133.2 545,133.7 547.2,134.3 549.4,135.2 551.6,136.2 553.8,137.0 556,137.4 558.2,137.7 560.4,138.0 562.6,138.4 564.8,139.0 567,139.5 569.2,139.8 571.4,139.8 573.6,139.9 575.8,140.3 578,141.1 580.2,141.8 582.4,142.5 584.6,142.9 586.8,143.3 589,143.7 591.2,143.9 593.4,143.9 595.6,143.6 597.8,143.4 600,143.4 602.2,143.6 604.4,143.9 606.6,144.3 608.8,144.7 611,145.1 613.2,145.6 615.4,146.0 617.6,146.1 619.8,146.1 622,146.0 624.2,146.0 626.4,146.2 628.6,146.6 630.8,147.0 633,147.3 635.2,147.8 637.4,148.4 639.6,149.2 641.8,150.0 644,150.8 646.2,151.6 648.4,152.3 650.6,153.0 652.8,153.6 655,154.0 657.2,154.2 659.4,154.2 661.6,154.2 663.8,154.3 666,154.7 668.2,155.5 668.5,156.2" fill="none" stroke="#1f77b4" stroke-width="0.60" stroke-opacity="0.33" stroke-dasharray="3,0.8,0.6,0.8" stroke-linecap="butt" stroke-linejoin="round"/>
<polyline points="413,31.0 413.8,79.4 414.5,91.0 415.3,95.6 416.1,99.6 416.8,103.7 417.6,106.6 418.4,108.2 419.2,109.9 419.9,111.5 420.7,113.1 421.5,114.7 422.2,116.0 423,116.5 424,117.1 426.2,118.5 428.4,119.8 430.6,121.0 432.8,121.3 435,121.9 437.2,122.6 439.4,123.7 441.6,124.7 443.8,125.5 446,125.9 448.2,126.2 450.4,126.3 452.6,126.3 454.8,126.2 457,126.3 459.2,126.7 461.4,127.0 463.6,127.2 465.8,126.9 468,126.5 470.2,125.9 472.4,125.4 474.6,124.9 476.8,124.5 479,124.1 481.2,124.2 483.4,124.7 485.6,125.3 487.8,125.8 490,126.6 492.2,127.4 494.4,128.2 496.6,128.8 498.8,129.3 501,129.7 503.2,130.1 505.4,130.7 507.6,131.3 509.8,131.9 512,132.3 514.2,132.5 516.4,132.6 518.6,132.9 520.8,133.6 523,134.6 525.2,135.7 527.4,136.7 529.6,137.5 531.8,137.9 534,138.2 536.2,138.2 538.4,138.1 540.6,138.2 542.8,138.4 545,138.8 547.2,139.0 549.4,139.3 551.6,139.7 553.8,140.1 556,140.7 558.2,141.3 560.4,141.7 562.6,141.9 564.8,142.0 567,142.0 569.2,142.0 571.4,142.1 573.6,142.4 575.8,143.1 578,144.1 580.2,145.1 582.4,145.9 584.6,146.3 586.8,146.5 589,146.5 591.2,146.7 593.4,147.0 595.6,147.4 597.8,148.0 600,148.7 602.2,149.4 604.4,150.1 606.6,150.6 608.8,150.9 611,151.1 613.2,151.2 615.4,151.0 617.6,150.8 619.8,150.6 622,150.5 624.2,150.5 626.4,150.7 628.6,150.9 630.8,151.4 633,151.9 635.2,152.5 637.4,152.9 639.6,153.3 641.8,153.6 644,153.7 646.2,153.6 648.4,153.4 650.6,153.1 652.8,152.9 655,152.9 657.2,153.3 659.4,154.0 661.6,154.6 663.8,155.0 666,155.2 667.9,155.3" fill="none" stroke="#1f77b4" stroke-width="0.60" stroke-opacity="0.33" stroke-dasharray="3,0.8,0.6,0.8" stroke-linecap="butt" stroke-linejoin="round"/>
<polyline points="413,31.0 413.8,78.9 414.5,90.0 415.3,94.1 416.1,97.7 416.8,101.3 417.6,105.3 418.4,108.4 419.2,111.5 419.9,114.7 420.7,117.8 421.5,121.0 422.2,123.8 423,125.9 424,128.5 426.2,132.1 428.4,134.0 430.6,135.7 432.8,136.5 435,137.3 437.2,138.2 439.4,139.0 441.6,139.6 443.8,140.0 446,140.4 448.2,140.9 450.4,141.4 452.6,141.9 454.8,142.2 457,142.4 459.2,142.6 461.4,142.8 463.6,142.7 465.8,142.6 468,142.5 470.2,142.5 472.4,142.8 474.6,143.4 476.8,144.0 479,144.4 481.2,144.9 483.4,145.3 485.6,145.5 487.8,145.6 490,145.8 492.2,146.3 494.4,147.0 496.6,147.8 498.8,148.6 501,149.5 503.2,150.3 505.4,150.8 507.6,150.9 509.8,151.0 512,151.2 514.2,151.5 516.4,151.8 518.6,151.8 520.8,151.7 523,151.5 525.2,151.5 527.4,151.6 529.6,151.8 531.8,152.2 534,152.8 536.2,153.3 538.4,153.8 540.6,154.3 542.8,154.8 545,155.1 547.2,155.2 549.4,155.2 551.6,155.2 553.8,155.4 556,155.8 558.2,156.3 560.4,156.6 562.6,156.4 564.8,156.0 567,155.7 569.2,155.8 571.4,156.3 573.6,156.9 575.8,157.5 578,157.7 580.2,157.5 582.4,157.1 584.6,156.6 586.8,156.4 589,156.3 591.2,156.3 593.4,156.6 595.6,156.9 597.8,157.0 600,156.9 602.2,156.8 604.4,156.9 606.6,157.1 608.8,157.5 611,157.9 613.2,158.3 615.4,158.6 617.6,158.8 619.8,158.8 622,158.7 624.2,158.8 626.4,159.0 628.6,159.3 630.8,159.8 633,160.2 635.2,160.5 637.4,160.7 639.6,160.9 641.8,161.2 644,161.7 646.2,162.1 648.4,162.2 650.6,161.9 652.8,161.5 655,161.3 657.2,161.5 659.4,162.1 661.6,162.8 663.8,163.5 666,164.1 668.2,164.5 668.6,164.4" fill="none" stroke="#1f77b4" stroke-width="0.60" stroke-opacity="0.33" stroke-dasharray="3,0.8,0.6,0.8" stroke-linecap="butt" stroke-linejoin="round"/>
<polyline points="413,31.0 413.8,79.4 414.5,91.0 415.3,95.6 416.1,99.6 416.8,103.7 417.6,107.8 418.4,110.8 419.2,113.8 419.9,116.8 420.7,119.8 421.5,122.8 422.2,125.4 423,127.2 424,129.5 426.2,132.6 428.4,134.1 430.6,135.4 432.8,135.9 435,136.5 437.2,137.2 439.4,138.1 441.6,139.2 443.8,140.2 446,141.1 448.2,141.7 450.4,142.0 452.6,142.2 454.8,142.4 457,142.9 459.2,143.6 461.4,144.3 463.6,144.9 465.8,145.3 468,145.5 470.2,145.6 472.4,145.7 474.6,145.9 476.8,146.1 479,146.5 481.2,146.9 483.4,147.1 485.6,147.3 487.8,147.5 490,147.8 492.2,148.2 494.4,148.8 496.6,149.5 498.8,150.1 501,150.6 503.2,150.7 505.4,150.8 507.6,150.9 509.8,151.2 512,151.7 514.2,152.2 516.4,152.6 518.6,153.1 520.8,153.5 523,154.0 525.2,154.5 527.4,155.0 529.6,155.4 531.8,155.7 534,155.9 536.2,156.0 538.4,156.2 540.6,156.7 542.8,157.6 545,158.6 547.2,159.3 549.4,159.7 551.6,160.2 553.8,160.6 556,161.0 558.2,161.5 560.4,162.0 562.6,162.4 564.8,162.8 567,163.0 569.2,163.1 571.4,162.9 573.6,162.6 575.8,162.3 578,162.1 580.2,162.2 582.4,162.3 584.6,162.3 586.8,162.1 589,162.0 591.2,161.9 593.4,161.9 595.6,162.0 597.8,162.0 600,161.7 602.2,161.2 604.4,160.8 606.6,160.4 608.8,160.1 611,159.8 613.2,159.4 615.4,159.0 617.6,158.5 619.8,158.0 622,157.6 624.2,157.4 626.4,157.2 628.6,157.0 630.8,156.5 633,155.8 635.2,155.0 637.4,154.4 639.6,154.1 641.8,154.3 644,154.7 646.2,155.2 648.4,155.7 650.6,156.1 652.8,156.1 655,155.8 657.2,155.3 659.4,154.8 661.6,154.5 663.8,154.3 666,154.2 667.6,154.0" fill="none" stroke="#1f77b4" stroke-width="0.60" stroke-opacity="0.33" stroke-dasharray="3,0.8,0.6,0.8" stroke-linecap="butt" stroke-linejoin="round"/>
<polyline points="413,31.0 413.8,79.3 414.5,90.8 415.3,95.4 416.1,99.4 416.8,103.4 417.6,107.3 418.4,110.1 419.2,112.9 419.9,115.7 420.7,118.4 421.5,121.2 422.2,123.6 423,125.3 424,127.4 426.2,130.4 428.4,132.1 430.6,133.5 432.8,134.1 435,134.7 437.2,135.4 439.4,136.4 441.6,137.4 443.8,138.5 446,139.5 448.2,140.4 450.4,141.3 452.6,142.1 454.8,142.7 457,143.2 459.2,143.7 461.4,144.1 463.6,144.7 465.8,145.4 468,146.2 470.2,146.9 472.4,147.6 474.6,148.1 476.8,148.6 479,149.1 481.2,149.6 483.4,150.1 485.6,150.6 487.8,151.0 490,151.3 492.2,151.5 494.4,151.7 496.6,151.8 498.8,152.1 501,152.4 503.2,152.8 505.4,153.0 507.6,153.2 509.8,153.4 512,153.5 514.2,153.7 516.4,153.7 518.6,153.7 520.8,153.8 523,154.0 525.2,154.5 527.4,155.0 529.6,155.5 531.8,155.9 534,156.1 536.2,156.2 538.4,156.2 540.6,156.4 542.8,156.8 545,157.2 547.2,157.4 549.4,157.7 551.6,158.1 553.8,158.8 556,159.4 558.2,159.8 560.4,159.9 562.6,159.6 564.8,159.3 567,159.4 569.2,159.8 571.4,160.5 573.6,161.2 575.8,161.7 578,162.1 580.2,162.6 582.4,163.2 584.6,163.7 586.8,163.9 589,163.8 591.2,163.7 593.4,163.8 595.6,164.3 597.8,164.9 600,165.6 602.2,166.3 604.4,166.6 606.6,166.5 608.8,166.3 611,166.2 613.2,166.4 615.4,167.1 617.6,167.9 619.8,168.7 622,169.4 624.2,170.1 626.4,170.7 628.6,171.2 630.8,171.5 633,171.7 635.2,171.8 637.4,171.9 639.6,172.0 641.8,172.2 644,172.4 646.2,172.5 648.4,172.3 650.6,172.0 652.8,171.7 655,171.5 657.2,171.7 659.4,172.0 661.6,172.4 663.8,172.6 666,172.6 667.2,172.3" fill="none" stroke="#1f77b4" stroke-width="0.60" stroke-opacity="0.33" stroke-dasharray="3,0.8,0.6,0.8" stroke-linecap="butt" stroke-linejoin="round"/>
<polyline points="413,31.0 413.8,79.4 414.5,90.9 415.3,95.5 416.1,99.5 416.8,103.6 417.6,105.9 418.4,106.7 419.2,107.5 419.9,108.3 420.7,109.2 421.5,110.0 422.2,110.6 423,110.3 424,110.0 426.2,111.2 428.4,114.0 430.6,116.4 432.8,117.7 435,118.7 437.2,119.6 439.4,120.4 441.6,121.3 443.8,122.3 446,123.5 448.2,124.7 450.4,126.2 452.6,127.7 454.8,129.1 457,130.5 459.2,131.9 461.4,133.2 463.6,134.6 465.8,135.7 468,136.7 470.2,137.4 472.4,138.0 474.6,138.4 476.8,138.9 479,139.8 481.2,140.7 483.4,141.6 485.6,142.5 487.8,143.2 490,143.7 492.2,144.0 494.4,144.2 496.6,144.1 498.8,143.8 501,143.4 503.2,143.1 505.4,142.8 507.6,142.8 509.8,142.9 512,142.9 514.2,143.0 516.4,143.2 518.6,143.5 520.8,143.9 523,144.4 525.2,144.8 527.4,145.0 529.6,144.9 531.8,144.5 534,144.2 536.2,144.0 538.4,144.1 540.6,144.7 542.8,145.5 545,146.3 547.2,146.8 549.4,147.3 551.6,147.9 553.8,148.5 556,149.1 558.2,149.4 560.4,149.5 562.6,149.3 564.8,148.9 567,148.5 569.2,148.1 571.4,147.8 573.6,147.8 575.8,147.9 578,148.1 580.2,148.2 582.4,148.4 584.6,148.5 586.8,148.6 589,148.5 591.2,148.2 593.4,148.0 595.6,147.8 597.8,147.9 600,148.2 602.2,148.5 604.4,148.6 606.6,148.6 608.8,148.4 611,148.3 613.2,148.3 615.4,148.3 617.6,148.3 619.8,148.3 622,148.1 624.2,148.0 626.4,148.0 628.6,148.2 630.8,148.6 633,148.8 635.2,148.9 637.4,148.9 639.6,148.8 641.8,148.4 644,148.1 646.2,147.9 648.4,147.9 650.6,148.0 652.8,148.3 655,148.7 657.2,149.3 659.4,149.9 661.6,150.5 663.8,150.7 666,150.7 668.2,150.2 668.2,149.6" fill="none" stroke="#1f77b4" stroke-width="0.60" stroke-opacity="0.33" stroke-dasharray="3,0.8,0.6,0.8" stroke-linecap="butt" stroke-linejoin="round"/>
<polyline points="413,31.0 413.8,82.1 414.5,96.4 415.3,103.7 416.1,110.4 416.8,117.2 417.6,121.3 418.4,123.7 419.2,126.0 419.9,128.4 420.7,130.7 421.5,133.1 422.2,135.1 423,136.3 424,137.8 426.2,140.8 428.4,143.4 430.6,145.7 432.8,147.0 435,148.3 437.2,149.8 439.4,151.5 441.6,153.2 443.8,154.9 446,156.6 448.2,158.3 450.4,159.8 452.6,160.9 454.8,161.6 457,162.4 459.2,163.3 461.4,164.7 463.6,166.2 465.8,167.9 468,169.6 470.2,171.1 472.4,172.6 474.6,174.0 476.8,175.4 479,176.6 481.2,177.1 483.4,177.0 485.6,176.9 487.8,177.0 490,177.5 492.2,178.4 494.4,179.4 496.6,180.2 498.8,180.8 501,181.3 503.2,181.7 505.4,181.8 507.6,181.6 509.8,181.3 512,181.0 514.2,181.0 516.4,181.1 518.6,181.5 520.8,182.0 523,182.3 525.2,182.4 527.4,182.5 529.6,182.6 531.8,182.9 534,183.0 536.2,182.8 538.4,182.3 540.6,182.0 542.8,181.9 545,182.0 547.2,181.9 549.4,181.8 551.6,181.7 553.8,181.7 556,181.9 558.2,182.3 560.4,182.6 562.6,182.6 564.8,182.3 567,182.0 569.2,181.8 571.4,181.7 573.6,181.8 575.8,182.0 578,182.0 580.2,182.0 582.4,182.0 584.6,181.8 586.8,181.5 589,181.2 591.2,181.1 593.4,181.2 595.6,181.4 597.8,181.4 600,181.3 602.2,181.0 604.4,180.6 606.6,180.4 608.8,180.4 611,180.6 613.2,180.9 615.4,181.2 617.6,181.3 619.8,181.5 622,181.7 624.2,182.1 626.4,182.4 628.6,182.8 630.8,183.1 633,183.4 635.2,183.6 637.4,183.7 639.6,183.9 641.8,184.0 644,184.1 646.2,184.1 648.4,184.0 650.6,183.9 652.8,183.8 655,183.9 657.2,184.1 659.4,184.4 661.6,184.6 663.8,184.6 666,184.3 668.1,183.8" fill="none" stroke="#1f77b4" stroke-width="0.60" stroke-opacity="0.33" stroke-dasharray="3,0.8,0.6,0.8" stroke-linecap="butt" stroke-linejoin="round"/>
<polyline points="413,31.0 413.8,78.0 414.5,88.1 415.3,91.3 416.1,94.0 416.8,96.6 417.6,98.6 418.4,99.3 419.2,100.0 419.9,100.6 420.7,101.2 421.5,101.7 422.2,101.9 423,101.3 424,100.5 426.2,100.6 428.4,102.1 430.6,103.3 432.8,103.5 435,103.9 437.2,104.6 439.4,105.6 441.6,106.8 443.8,108.1 446,109.4 448.2,110.5 450.4,111.4 452.6,112.4 454.8,113.4 457,114.6 459.2,115.9 461.4,117.2 463.6,118.2 465.8,119.0 468,119.6 470.2,120.2 472.4,120.8 474.6,121.8 476.8,123.1 479,124.6 481.2,125.7 483.4,126.2 485.6,126.4 487.8,126.3 490,126.4 492.2,126.6 494.4,127.2 496.6,127.9 498.8,128.6 501,129.0 503.2,129.4 505.4,129.7 507.6,130.0 509.8,130.4 512,130.7 514.2,131.1 516.4,131.5 518.6,132.0 520.8,132.4 523,132.7 525.2,132.6 527.4,132.5 529.6,132.5 531.8,132.7 534,132.9 536.2,133.4 538.4,133.9 540.6,134.7 542.8,135.6 545,136.3 547.2,136.5 549.4,136.4 551.6,136.1 553.8,135.7 556,135.5 558.2,135.5 560.4,135.9 562.6,136.2 564.8,136.6 567,137.0 569.2,137.4 571.4,137.6 573.6,137.7 575.8,137.6 578,137.4 580.2,137.4 582.4,137.5 584.6,137.6 586.8,137.5 589,137.1 591.2,136.5 593.4,136.2 595.6,136.3 597.8,136.5 600,136.7 602.2,136.7 604.4,136.4 606.6,136.0 608.8,135.8 611,135.9 613.2,136.1 615.4,136.1 617.6,136.1 619.8,136.1 622,136.1 624.2,136.3 626.4,136.5 628.6,136.7 630.8,136.8 633,136.7 635.2,136.4 637.4,135.8 639.6,135.0 641.8,134.1 644,133.2 646.2,132.5 648.4,131.9 650.6,131.4 652.8,131.1 655,130.9 657.2,131.0 659.4,131.3 661.6,131.7 663.8,131.8 666,131.5 668.1,131.0" fill="none" stroke="#1f77b4" stroke-width="0.60" stroke-opacity="0.33" stroke-dasharray="3,0.8,0.6,0.8" stroke-linecap="butt" stroke-linejoin="round"/>
<polyline points="413,31.0 413.8,77.5 414.5,87.2 415.3,90.0 416.1,92.2 416.8,94.4 417.6,96.5 418.4,97.6 419.2,98.6 419.9,99.6 420.7,100.7 421.5,101.7 422.2,102.4 423,102.3 424,102.1 426.2,102.9 428.4,104.6 430.6,106.1 432.8,106.4 435,106.7 437.2,107.2 439.4,108.1 441.6,109.1 443.8,110.0 446,110.9 448.2,111.8 450.4,112.5 452.6,113.0 454.8,113.1 457,113.1 459.2,113.3 461.4,113.8 463.6,114.5 465.8,115.3 468,116.3 470.2,117.3 472.4,118.1 474.6,118.7 476.8,119.1 479,119.3 481.2,119.8 483.4,120.4 485.6,121.1 487.8,121.6 490,122.1 492.2,122.7 494.4,123.2 496.6,123.6 498.8,123.9 501,124.1 503.2,124.3 505.4,124.4 507.6,124.6 509.8,124.8 512,125.2 514.2,125.8 516.4,126.5 518.6,127.1 520.8,127.4 523,127.2 525.2,126.9 527.4,126.6 529.6,126.4 531.8,126.5 534,126.8 536.2,127.3 538.4,127.7 540.6,128.1 542.8,128.5 545,128.8 547.2,128.7 549.4,128.5 551.6,128.5 553.8,128.7 556,129.0 558.2,129.2 560.4,129.3 562.6,129.3 564.8,129.3 567,129.5 569.2,129.8 571.4,130.1 573.6,130.2 575.8,130.1 578,129.6 580.2,129.1 582.4,128.7 584.6,128.9 586.8,129.4 589,130.3 591.2,131.2 593.4,131.9 595.6,132.2 597.8,132.3 600,132.4 602.2,132.6 604.4,132.7 606.6,132.7 608.8,132.5 611,132.2 613.2,132.1 615.4,132.2 617.6,132.5 619.8,133.0 622,133.6 624.2,134.1 626.4,134.6 628.6,135.0 630.8,135.4 633,135.9 635.2,136.4 637.4,136.8 639.6,136.9 641.8,136.9 644,137.3 646.2,138.1 648.4,139.2 650.6,140.2 652.8,140.8 655,141.2 657.2,141.7 659.4,142.4 661.6,143.2 663.8,144.1 666,145.1 667.7,146.2" fill="none" stroke="#1f77b4" stroke-width="0.60" stroke-opacity="0.33" stroke-dasharray="3,0.8,0.6,0.8" stroke-linecap="butt" stroke-linejoin="round"/>
<polyline points="413,31.0 413.8,77.5 414.5,87.1 415.3,89.8 416.1,92.0 416.8,94.2 417.6,96.2 418.4,97.1 419.2,98.0 419.9,98.9 420.7,99.7 421.5,100.6 422.2,101.1 423,100.9 424,100.7 426.2,101.5 428.4,103.5 430.6,105.2 432.8,105.6 435,105.9 437.2,106.2 439.4,106.6 441.6,107.1 443.8,107.5 446,107.8 448.2,108.0 450.4,108.2 452.6,108.6 454.8,108.8 457,109.0 459.2,109.4 461.4,110.0 463.6,110.8 465.8,111.7 468,112.6 470.2,113.4 472.4,114.1 474.6,114.7 476.8,115.2 479,115.6 481.2,116.1 483.4,116.8 485.6,117.7 487.8,118.5 490,119.4 492.2,120.2 494.4,120.7 496.6,121.0 498.8,121.0 501,121.1 503.2,121.2 505.4,121.6 507.6,122.1 509.8,122.9 512,123.8 514.2,124.5 516.4,125.1 518.6,125.5 520.8,125.9 523,126.4 525.2,126.8 527.4,127.0 529.6,126.9 531.8,126.8 534,126.7 536.2,126.8 538.4,127.2 540.6,127.9 542.8,128.7 545,129.3 547.2,129.6 549.4,129.8 551.6,130.1 553.8,130.6 556,131.3 558.2,131.9 560.4,132.5 562.6,132.9 564.8,133.3 567,133.6 569.2,133.9 571.4,134.1 573.6,134.3 575.8,134.8 578,135.3 580.2,135.9 582.4,136.4 584.6,136.7 586.8,136.8 589,136.9 591.2,137.1 593.4,137.5 595.6,137.9 597.8,138.2 600,138.5 602.2,138.6 604.4,138.7 606.6,138.7 608.8,138.8 611,139.0 613.2,139.3 615.4,139.6 617.6,139.8 619.8,139.7 622,139.6 624.2,139.7 626.4,139.8 628.6,139.9 630.8,139.7 633,139.2 635.2,138.6 637.4,137.9 639.6,137.5 641.8,137.4 644,137.4 646.2,137.6 648.4,137.9 650.6,138.4 652.8,139.0 655,139.4 657.2,139.6 659.4,139.7 661.6,139.7 663.8,140.1 666,140.7 668.1,141.5" fill="none" stroke="#1f77b4" stroke-width="0.60" stroke-opacity="0.33" stroke-dasharray="3,0.8,0.6,0.8" stroke-linecap="butt" stroke-linejoin="round"/>
<polyline points="413,31.0 413.8,76.7 414.5,85.5 415.3,87.4 416.1,88.7 416.8,90.0 417.6,91.9 418.4,92.8 419.2,93.8 419.9,94.7 420.7,95.7 421.5,96.6 422.2,97.2 423,97.1 424,96.9 426.2,98.1 428.4,100.7 430.6,103.0 432.8,104.4 435,105.9 437.2,107.4 439.4,109.0 441.6,110.4 443.8,111.6 446,112.7 448.2,113.7 450.4,114.7 452.6,116.0 454.8,117.2 457,118.3 459.2,119.4 461.4,120.3 463.6,121.0 465.8,121.7 468,122.6 470.2,123.6 472.4,124.8 474.6,125.8 476.8,126.7 479,127.2 481.2,127.4 483.4,127.3 485.6,127.2 487.8,127.1 490,127.3 492.2,127.6 494.4,127.9 496.6,128.1 498.8,128.1 501,127.9 503.2,127.7 505.4,127.3 507.6,127.1 509.8,127.0 512,127.1 514.2,127.2 516.4,127.3 518.6,127.2 520.8,127.1 523,127.0 525.2,126.9 527.4,126.6 529.6,125.9 531.8,125.1 534,124.3 536.2,123.8 538.4,123.8 540.6,124.3 542.8,125.0 545,125.5 547.2,125.7 549.4,126.0 551.6,126.4 553.8,126.9 556,127.3 558.2,127.7 560.4,128.1 562.6,128.4 564.8,128.6 567,128.9 569.2,129.3 571.4,129.5 573.6,129.6 575.8,129.5 578,129.6 580.2,130.0 582.4,130.6 584.6,131.4 586.8,132.1 589,132.7 591.2,133.3 593.4,133.9 595.6,134.6 597.8,135.3 600,136.0 602.2,136.5 604.4,136.8 606.6,137.1 608.8,137.4 611,138.0 613.2,138.7 615.4,139.6 617.6,140.4 619.8,141.0 622,141.0 624.2,140.3 626.4,139.3 628.6,138.5 630.8,138.3 633,138.3 635.2,138.4 637.4,138.2 639.6,137.8 641.8,137.3 644,136.9 646.2,136.7 648.4,136.7 650.6,137.0 652.8,137.5 655,137.9 657.2,138.1 659.4,137.9 661.6,137.5 663.8,137.0 666,136.8 667.8,136.8" fill="none" stroke="#1f77b4" stroke-width="0.60" stroke-opacity="0.33" stroke-dasharray="3,0.8,0.6,0.8" stroke-linecap="butt" stroke-linejoin="round"/>
<polyline points="413,31.0 413.8,80.4 414.5,92.9 415.3,98.4 416.1,103.4 416.8,108.5 417.6,112.2 418.4,114.6 419.2,117.0 419.9,119.4 420.7,121.9 421.5,124.3 422.2,126.5 423,127.8 424,129.7 426.2,133.3 428.4,136.6 430.6,139.4 432.8,141.2 435,143.0 437.2,144.9 439.4,146.9 441.6,148.6 443.8,149.8 446,150.7 448.2,151.6 450.4,152.5 452.6,153.4 454.8,154.1 457,154.6 459.2,155.3 461.4,156.2 463.6,157.4 465.8,159.0 468,160.8 470.2,162.5 472.4,163.8 474.6,164.8 476.8,165.4 479,165.7 481.2,165.6 483.4,165.4 485.6,165.6 487.8,166.2 490,167.2 492.2,168.2 494.4,169.0 496.6,169.7 498.8,170.0 501,170.2 503.2,170.2 505.4,170.4 507.6,170.7 509.8,170.8 512,170.7 514.2,170.4 516.4,170.1 518.6,170.1 520.8,170.1 523,170.2 525.2,170.3 527.4,170.4 529.6,170.6 531.8,170.5 534,170.4 536.2,170.1 538.4,170.0 540.6,170.2 542.8,170.8 545,171.3 547.2,171.5 549.4,171.5 551.6,171.3 553.8,171.0 556,170.8 558.2,170.8 560.4,171.0 562.6,171.2 564.8,171.3 567,171.2 569.2,171.1 571.4,171.2 573.6,171.3 575.8,171.4 578,171.3 580.2,171.1 582.4,171.2 584.6,171.4 586.8,171.7 589,171.9 591.2,172.2 593.4,172.7 595.6,173.5 597.8,174.4 600,175.3 602.2,176.1 604.4,176.6 606.6,177.0 608.8,177.3 611,177.8 613.2,178.1 615.4,178.3 617.6,178.5 619.8,178.7 622,178.9 624.2,179.3 626.4,179.8 628.6,180.6 630.8,181.3 633,181.7 635.2,181.9 637.4,182.0 639.6,182.0 641.8,182.2 644,182.4 646.2,182.7 648.4,182.7 650.6,182.4 652.8,182.0 655,181.5 657.2,180.8 659.4,180.3 661.6,179.8 663.8,179.7 666,179.7 668,179.6" fill="none" stroke="#1f77b4" stroke-width="0.60" stroke-opacity="0.33" stroke-dasharray="3,0.8,0.6,0.8" stroke-linecap="butt" stroke-linejoin="round"/>
<polyline points="413,31.0 413.8,79.7 414.5,91.6 415.3,96.6 416.1,101.0 416.8,105.4 417.6,109.3 418.4,112.0 419.2,114.7 419.9,117.4 420.7,120.1 421.5,122.8 422.2,125.1 423,126.6 424,128.5 426.2,132.0 428.4,134.8 430.6,137.5 432.8,139.2 435,141.0 437.2,142.9 439.4,144.8 441.6,146.6 443.8,148.4 446,150.5 448.2,152.8 450.4,155.2 452.6,157.7 454.8,159.8 457,161.7 459.2,163.4 461.4,165.1 463.6,166.6 465.8,168.3 468,170.0 470.2,171.9 472.4,173.7 474.6,175.3 476.8,176.5 479,177.5 481.2,177.8 483.4,177.7 485.6,177.8 487.8,178.0 490,178.5 492.2,179.0 494.4,179.4 496.6,179.3 498.8,179.1 501,178.8 503.2,178.6 505.4,178.5 507.6,178.5 509.8,178.8 512,179.3 514.2,179.6 516.4,179.8 518.6,179.5 520.8,178.9 523,178.2 525.2,177.7 527.4,177.7 529.6,178.2 531.8,178.7 534,179.0 536.2,179.1 538.4,179.1 540.6,179.6 542.8,180.6 545,181.6 547.2,182.2 549.4,182.5 551.6,182.4 553.8,182.3 556,182.3 558.2,182.6 560.4,183.3 562.6,184.1 564.8,184.5 567,184.6 569.2,184.3 571.4,183.8 573.6,183.3 575.8,182.9 578,182.6 580.2,182.5 582.4,182.5 584.6,182.4 586.8,182.4 589,182.3 591.2,182.3 593.4,182.2 595.6,181.7 597.8,181.1 600,180.5 602.2,180.1 604.4,180.0 606.6,180.0 608.8,180.0 611,179.9 613.2,179.8 615.4,179.7 617.6,179.9 619.8,180.3 622,180.9 624.2,181.5 626.4,182.0 628.6,182.4 630.8,182.8 633,183.3 635.2,183.7 637.4,184.0 639.6,184.1 641.8,184.0 644,183.9 646.2,183.9 648.4,184.1 650.6,184.6 652.8,185.2 655,185.8 657.2,186.4 659.4,187.0 661.6,187.8 663.8,188.8 666,189.8 668.2,190.7 668.2,191.2" fill="none" stroke="#1f77b4" stroke-width="0.60" stroke-opacity="0.33" stroke-dasharray="3,0.8,0.6,0.8" stroke-linecap="butt" stroke-linejoin="round"/>
<polyline points="413,31.0 413.8,78.3 414.5,88.7 415.3,92.2 416.1,95.1 416.8,98.1 417.6,100.7 418.4,102.3 419.2,104.0 419.9,105.6 420.7,107.2 421.5,108.8 422.2,110.2 423,110.7 424,111.4 426.2,113.3 428.4,115.4 430.6,117.3 432.8,118.2 435,119.3 437.2,120.3 439.4,121.3 441.6,121.9 443.8,122.1 446,122.2 448.2,122.3 450.4,122.5 452.6,122.8 454.8,123.0 457,123.4 459.2,123.7 461.4,124.1 463.6,124.4 465.8,124.6 468,125.1 470.2,125.7 472.4,126.3 474.6,126.8 476.8,127.1 479,127.3 481.2,127.7 483.4,128.4 485.6,129.2 487.8,130.0 490,130.7 492.2,131.5 494.4,132.3 496.6,133.1 498.8,133.9 501,134.7 503.2,135.3 505.4,135.7 507.6,135.8 509.8,135.8 512,135.9 514.2,136.2 516.4,136.6 518.6,137.1 520.8,137.6 523,138.1 525.2,138.2 527.4,138.1 529.6,137.9 531.8,137.8 534,138.0 536.2,138.5 538.4,139.1 540.6,140.1 542.8,141.0 545,141.6 547.2,141.7 549.4,141.7 551.6,141.7 553.8,141.8 556,141.9 558.2,142.1 560.4,142.5 562.6,143.1 564.8,143.8 567,144.2 569.2,144.4 571.4,144.2 573.6,144.2 575.8,144.4 578,144.5 580.2,144.6 582.4,144.7 584.6,144.9 586.8,145.5 589,146.4 591.2,147.2 593.4,148.0 595.6,148.5 597.8,148.9 600,149.5 602.2,150.1 604.4,150.7 606.6,151.3 608.8,151.8 611,152.2 613.2,152.3 615.4,152.2 617.6,151.8 619.8,151.4 622,151.4 624.2,151.7 626.4,152.3 628.6,152.9 630.8,153.5 633,153.9 635.2,154.0 637.4,154.1 639.6,154.1 641.8,154.2 644,154.3 646.2,154.4 648.4,154.4 650.6,154.5 652.8,154.9 655,155.5 657.2,156.2 659.4,156.8 661.6,157.2 663.8,157.7 666,158.2 668,158.8" fill="none" stroke="#1f77b4" stroke-width="0.60" stroke-opacity="0.33" stroke-dasharray="3,0.8,0.6,0.8" stroke-linecap="butt" stroke-linejoin="round"/>
<polyline points="413,31.0 413.8,78.7 414.5,89.5 415.3,93.4 416.1,96.7 416.8,100.1 417.6,102.4 418.4,103.4 419.2,104.4 419.9,105.4 420.7,106.4 421.5,107.4 422.2,108.1 423,107.9 424,107.7 426.2,109.0 428.4,111.7 430.6,114.2 432.8,115.7 435,117.0 437.2,118.3 439.4,119.9 441.6,121.5 443.8,123.3 446,124.9 448.2,126.1 450.4,126.9 452.6,127.6 454.8,128.2 457,128.8 459.2,129.3 461.4,129.8 463.6,130.2 465.8,130.7 468,131.5 470.2,132.3 472.4,133.4 474.6,134.6 476.8,135.7 479,136.8 481.2,137.5 483.4,137.9 485.6,138.1 487.8,137.9 490,137.6 492.2,137.3 494.4,137.2 496.6,137.2 498.8,137.2 501,137.2 503.2,137.3 505.4,137.6 507.6,137.9 509.8,138.2 512,138.3 514.2,138.4 516.4,138.4 518.6,138.3 520.8,138.2 523,138.2 525.2,138.5 527.4,138.9 529.6,139.3 531.8,139.6 534,139.7 536.2,139.7 538.4,139.6 540.6,139.7 542.8,140.1 545,140.5 547.2,140.6 549.4,140.4 551.6,140.1 553.8,139.9 556,139.9 558.2,140.1 560.4,140.5 562.6,140.7 564.8,140.7 567,140.7 569.2,140.7 571.4,140.8 573.6,140.9 575.8,141.1 578,141.4 580.2,141.8 582.4,142.2 584.6,142.7 586.8,143.1 589,143.4 591.2,143.4 593.4,143.2 595.6,142.9 597.8,142.5 600,142.3 602.2,142.3 604.4,142.5 606.6,142.8 608.8,143.0 611,143.3 613.2,143.6 615.4,143.9 617.6,144.2 619.8,144.3 622,144.3 624.2,144.3 626.4,144.2 628.6,144.2 630.8,144.2 633,144.2 635.2,144.0 637.4,143.7 639.6,143.3 641.8,143.1 644,143.1 646.2,143.5 648.4,144.0 650.6,144.3 652.8,144.3 655,144.1 657.2,143.9 659.4,144.1 661.6,144.4 663.8,144.7 666,144.6 668.1,144.2" fill="none" stroke="#1f77b4" stroke-width="0.60" stroke-opacity="0.33" stroke-dasharray="3,0.8,0.6,0.8" stroke-linecap="butt" stroke-linejoin="round"/>
<polyline points="413,31.0 413.8,79.9 414.5,92.0 415.3,97.1 416.1,101.7 416.8,106.2 417.6,110.1 418.4,112.7 419.2,115.2 419.9,117.8 420.7,120.4 421.5,122.9 422.2,125.1 423,126.6 424,128.5 426.2,131.5 428.4,133.6 430.6,135.7 432.8,137.1 435,138.6 437.2,140.1 439.4,141.6 441.6,142.8 443.8,143.8 446,144.6 448.2,145.1 450.4,145.8 452.6,146.7 454.8,147.8 457,148.9 459.2,149.8 461.4,150.5 463.6,151.2 465.8,152.0 468,153.2 470.2,154.6 472.4,156.0 474.6,157.2 476.8,158.1 479,159.0 481.2,159.7 483.4,160.3 485.6,160.8 487.8,161.1 490,161.3 492.2,161.5 494.4,161.9 496.6,162.3 498.8,162.6 501,162.6 503.2,162.5 505.4,162.1 507.6,161.7 509.8,161.4 512,161.2 514.2,161.0 516.4,160.8 518.6,160.4 520.8,160.0 523,159.8 525.2,159.9 527.4,160.2 529.6,160.3 531.8,160.1 534,159.3 536.2,158.1 538.4,157.0 540.6,156.4 542.8,156.6 545,157.3 547.2,157.9 549.4,158.2 551.6,158.2 553.8,158.0 556,157.6 558.2,157.3 560.4,157.2 562.6,157.4 564.8,157.6 567,157.7 569.2,157.8 571.4,157.8 573.6,157.9 575.8,157.8 578,157.5 580.2,157.4 582.4,157.4 584.6,157.6 586.8,157.8 589,157.8 591.2,157.7 593.4,157.6 595.6,157.7 597.8,157.8 600,157.9 602.2,157.9 604.4,157.8 606.6,157.7 608.8,157.6 611,157.5 613.2,157.4 615.4,157.4 617.6,157.3 619.8,157.2 622,157.2 624.2,157.0 626.4,156.9 628.6,156.9 630.8,156.9 633,157.1 635.2,157.4 637.4,157.8 639.6,157.9 641.8,157.8 644,157.5 646.2,157.2 648.4,157.0 650.6,157.2 652.8,157.4 655,157.8 657.2,158.3 659.4,158.9 661.6,159.3 663.8,159.5 666,159.4 668.2,159.2 668.2,159.2" fill="none" stroke="#1f77b4" stroke-width="0.60" stroke-opacity="0.33" stroke-dasharray="3,0.8,0.6,0.8" stroke-linecap="butt" stroke-linejoin="round"/>
<polyline points="413,31.0 413.8,78.8 414.5,89.8 415.3,93.8 416.1,97.2 416.8,100.7 417.6,103.8 418.4,105.8 419.2,107.8 419.9,109.8 420.7,111.9 421.5,114.0 422.2,115.7 423,116.6 424,117.7 426.2,119.9 428.4,121.9 430.6,123.8 432.8,125.0 435,126.6 437.2,128.3 439.4,129.8 441.6,130.9 443.8,131.6 446,132.0 448.2,132.3 450.4,132.7 452.6,133.3 454.8,133.9 457,134.6 459.2,135.4 461.4,136.1 463.6,136.7 465.8,137.1 468,137.3 470.2,137.4 472.4,137.7 474.6,138.1 476.8,138.8 479,139.5 481.2,140.2 483.4,140.8 485.6,141.3 487.8,141.7 490,142.3 492.2,143.2 494.4,144.2 496.6,145.2 498.8,146.1 501,146.7 503.2,147.0 505.4,147.1 507.6,146.9 509.8,146.7 512,146.6 514.2,146.7 516.4,147.2 518.6,147.9 520.8,148.5 523,148.8 525.2,148.8 527.4,148.8 529.6,148.8 531.8,148.9 534,149.2 536.2,149.5 538.4,149.8 540.6,150.3 542.8,150.9 545,151.5 547.2,151.9 549.4,152.3 551.6,152.6 553.8,153.0 556,153.4 558.2,153.9 560.4,154.5 562.6,155.1 564.8,155.4 567,155.4 569.2,155.4 571.4,155.4 573.6,155.7 575.8,156.4 578,157.1 580.2,157.9 582.4,158.7 584.6,159.3 586.8,159.9 589,160.5 591.2,161.1 593.4,161.7 595.6,162.1 597.8,162.3 600,162.4 602.2,162.4 604.4,162.4 606.6,162.2 608.8,162.1 611,161.9 613.2,161.8 615.4,161.8 617.6,161.7 619.8,161.7 622,161.6 624.2,161.5 626.4,161.7 628.6,162.0 630.8,162.5 633,163.0 635.2,163.3 637.4,163.5 639.6,163.5 641.8,163.4 644,163.1 646.2,162.7 648.4,162.3 650.6,162.0 652.8,162.0 655,162.1 657.2,162.3 659.4,162.5 661.6,162.6 663.8,162.7 666,162.9 668.2,162.9 668.4,162.7" fill="none" stroke="#1f77b4" stroke-width="0.60" stroke-opacity="0.33" stroke-dasharray="3,0.8,0.6,0.8" stroke-linecap="butt" stroke-linejoin="round"/>
<polyline points="413,31.0 413.8,78.9 414.5,90.0 415.3,94.1 416.1,97.7 416.8,101.3 417.6,104.5 418.4,106.5 419.2,108.6 419.9,110.6 420.7,112.7 421.5,114.7 422.2,116.5 423,117.5 424,118.8 426.2,121.4 428.4,123.8 430.6,126.2 432.8,127.9 435,129.7 437.2,131.6 439.4,133.2 441.6,134.5 443.8,135.3 446,135.9 448.2,136.4 450.4,136.9 452.6,137.5 454.8,138.2 457,138.9 459.2,139.7 461.4,140.4 463.6,141.0 465.8,141.6 468,142.3 470.2,143.1 472.4,143.9 474.6,144.6 476.8,145.1 479,145.6 481.2,146.1 483.4,146.5 485.6,146.9 487.8,147.3 490,147.8 492.2,148.6 494.4,149.4 496.6,150.1 498.8,150.4 501,150.5 503.2,150.4 505.4,150.3 507.6,150.0 509.8,149.6 512,149.2 514.2,149.0 516.4,148.9 518.6,149.0 520.8,149.1 523,149.1 525.2,148.9 527.4,148.5 529.6,148.1 531.8,147.6 534,147.1 536.2,146.7 538.4,146.6 540.6,147.0 542.8,147.9 545,148.7 547.2,149.2 549.4,149.3 551.6,149.2 553.8,148.9 556,148.6 558.2,148.6 560.4,148.8 562.6,149.1 564.8,149.0 567,148.7 569.2,148.2 571.4,148.0 573.6,148.1 575.8,148.5 578,149.1 580.2,149.8 582.4,150.4 584.6,150.8 586.8,151.0 589,151.2 591.2,151.5 593.4,151.8 595.6,151.9 597.8,151.7 600,151.2 602.2,150.6 604.4,150.1 606.6,150.0 608.8,150.3 611,150.8 613.2,151.4 615.4,151.8 617.6,152.2 619.8,152.4 622,152.7 624.2,152.9 626.4,153.1 628.6,153.2 630.8,153.0 633,152.7 635.2,152.4 637.4,152.4 639.6,152.5 641.8,152.8 644,153.0 646.2,152.9 648.4,152.7 650.6,152.4 652.8,152.2 655,152.0 657.2,151.9 659.4,152.1 661.6,152.5 663.8,152.8 666,152.7 667.8,152.4" fill="none" stroke="#1f77b4" stroke-width="0.60" stroke-opacity="0.33" stroke-dasharray="3,0.8,0.6,0.8" stroke-linecap="butt" stroke-linejoin="round"/>
<polyline points="413,31.0 413.8,79.0 414.5,90.2 415.3,94.4 416.1,98.1 416.8,101.8 417.6,105.5 418.4,108.1 419.2,110.8 419.9,113.5 420.7,116.1 421.5,118.8 422.2,121.1 423,122.6 424,124.5 426.2,128.1 428.4,131.0 430.6,133.8 432.8,135.3 435,136.3 437.2,137.0 439.4,137.7 441.6,138.8 443.8,140.3 446,141.9 448.2,143.6 450.4,145.3 452.6,147.1 454.8,148.7 457,150.1 459.2,151.3 461.4,152.3 463.6,153.4 465.8,154.8 468,156.7 470.2,158.8 472.4,160.7 474.6,162.5 476.8,164.0 479,165.6 481.2,166.8 483.4,167.6 485.6,168.3 487.8,168.8 490,169.3 492.2,169.6 494.4,169.8 496.6,169.8 498.8,169.9 501,170.2 503.2,170.7 505.4,171.1 507.6,171.2 509.8,171.0 512,170.7 514.2,170.6 516.4,170.6 518.6,170.7 520.8,170.9 523,170.8 525.2,170.4 527.4,169.6 529.6,168.6 531.8,167.7 534,167.1 536.2,166.7 538.4,166.4 540.6,166.3 542.8,166.4 545,166.2 547.2,165.8 549.4,165.3 551.6,164.9 553.8,164.6 556,164.4 558.2,164.1 560.4,163.6 562.6,162.9 564.8,162.2 567,161.6 569.2,161.3 571.4,161.2 573.6,161.3 575.8,161.7 578,162.1 580.2,162.4 582.4,162.7 584.6,163.1 586.8,163.5 589,164.0 591.2,164.3 593.4,164.3 595.6,164.0 597.8,163.8 600,163.9 602.2,164.3 604.4,164.6 606.6,164.7 608.8,164.6 611,164.5 613.2,164.7 615.4,165.0 617.6,165.4 619.8,165.8 622,166.0 624.2,166.1 626.4,165.9 628.6,165.6 630.8,165.2 633,164.8 635.2,164.4 637.4,164.1 639.6,163.9 641.8,163.7 644,163.7 646.2,163.6 648.4,163.5 650.6,163.3 652.8,163.1 655,162.8 657.2,162.4 659.4,162.0 661.6,161.8 663.8,161.8 666,161.8 668.1,161.6" fill="none" stroke="#1f77b4" stroke-width="0.60" stroke-opacity="0.33" stroke-dasharray="3,0.8,0.6,0.8" stroke-linecap="butt" stroke-linejoin="round"/>
<polyline points="413,31.0 413.8,78.3 414.5,88.8 415.3,92.4 416.1,95.4 416.8,98.4 417.6,101.4 418.4,103.5 419.2,105.6 419.9,107.7 420.7,109.8 421.5,112.0 422.2,113.8 423,114.9 424,116.3 426.2,119.3 428.4,122.3 430.6,125.1 432.8,126.8 435,128.4 437.2,130.3 439.4,132.4 441.6,134.3 443.8,135.7 446,136.7 448.2,137.5 450.4,138.2 452.6,139.0 454.8,139.7 457,140.4 459.2,141.2 461.4,142.0 463.6,142.8 465.8,143.4 468,143.8 470.2,144.2 472.4,144.6 474.6,145.4 476.8,146.2 479,146.9 481.2,147.0 483.4,146.7 485.6,146.4 487.8,146.3 490,146.3 492.2,146.6 494.4,146.8 496.6,146.7 498.8,146.4 501,145.9 503.2,145.5 505.4,145.3 507.6,145.4 509.8,145.6 512,145.8 514.2,145.9 516.4,146.0 518.6,146.0 520.8,146.0 523,145.9 525.2,145.8 527.4,145.9 529.6,146.2 531.8,146.6 534,147.1 536.2,147.6 538.4,148.1 540.6,148.6 542.8,149.2 545,150.0 547.2,150.6 549.4,151.2 551.6,151.5 553.8,151.7 556,151.8 558.2,152.3 560.4,153.3 562.6,154.3 564.8,154.9 567,155.0 569.2,154.7 571.4,154.5 573.6,154.7 575.8,155.1 578,155.5 580.2,155.9 582.4,156.0 584.6,156.1 586.8,156.2 589,156.5 591.2,156.6 593.4,156.5 595.6,156.0 597.8,155.1 600,154.3 602.2,153.7 604.4,153.4 606.6,153.3 608.8,153.3 611,153.3 613.2,153.4 615.4,153.8 617.6,154.4 619.8,155.1 622,155.7 624.2,156.0 626.4,155.8 628.6,155.5 630.8,155.4 633,155.5 635.2,155.7 637.4,155.9 639.6,155.8 641.8,155.6 644,155.5 646.2,155.7 648.4,156.1 650.6,156.7 652.8,157.3 655,157.6 657.2,157.7 659.4,157.8 661.6,157.9 663.8,158.2 666,158.4 668.2,158.5 668.3,158.4" fill="none" stroke="#1f77b4" stroke-width="0.60" stroke-opacity="0.33" stroke-dasharray="3,0.8,0.6,0.8" stroke-linecap="butt" stroke-linejoin="round"/>
<polyline points="413,31.0 413.8,80.9 414.5,94.0 415.3,100.1 416.1,105.7 416.8,111.3 417.6,114.7 418.4,116.5 419.2,118.3 419.9,120.1 420.7,121.8 421.5,123.6 422.2,125.0 423,125.6 424,126.3 426.2,127.9 428.4,129.4 430.6,130.7 432.8,131.0 435,131.3 437.2,131.7 439.4,132.1 441.6,132.5 443.8,133.1 446,134.0 448.2,135.1 450.4,136.3 452.6,137.4 454.8,138.3 457,138.9 459.2,139.4 461.4,139.9 463.6,140.4 465.8,141.1 468,142.1 470.2,142.9 472.4,143.6 474.6,143.9 476.8,144.0 479,144.1 481.2,144.5 483.4,145.4 485.6,146.5 487.8,147.6 490,148.7 492.2,149.6 494.4,150.4 496.6,150.8 498.8,150.8 501,150.8 503.2,150.7 505.4,150.8 507.6,150.9 509.8,151.0 512,151.1 514.2,151.3 516.4,151.7 518.6,152.1 520.8,152.4 523,152.7 525.2,153.0 527.4,153.4 529.6,153.8 531.8,154.4 534,155.0 536.2,155.3 538.4,155.3 540.6,155.3 542.8,155.6 545,156.1 547.2,156.7 549.4,157.3 551.6,157.8 553.8,158.2 556,158.7 558.2,159.4 560.4,160.2 562.6,160.8 564.8,161.1 567,161.2 569.2,161.2 571.4,161.3 573.6,161.5 575.8,161.8 578,162.0 580.2,162.2 582.4,162.3 584.6,162.3 586.8,162.1 589,161.9 591.2,161.8 593.4,162.0 595.6,162.3 597.8,162.7 600,163.1 602.2,163.2 604.4,163.4 606.6,163.5 608.8,163.8 611,164.0 613.2,164.2 615.4,164.2 617.6,164.1 619.8,164.0 622,164.1 624.2,164.5 626.4,165.0 628.6,165.4 630.8,165.5 633,165.3 635.2,165.0 637.4,164.7 639.6,164.5 641.8,164.3 644,164.3 646.2,164.4 648.4,164.5 650.6,164.6 652.8,164.8 655,165.0 657.2,165.1 659.4,165.1 661.6,165.0 663.8,164.9 666,165.0 668.2,165.3 668.4,165.5" fill="none" stroke="#1f77b4" stroke-width="0.60" stroke-opacity="0.33" stroke-dasharray="3,0.8,0.6,0.8" stroke-linecap="butt" stroke-linejoin="round"/>
<polyline points="413,31.0 413.8,76.7 414.5,85.6 415.3,87.5 416.1,88.9 416.8,90.3 417.6,92.5 418.4,94.0 419.2,95.4 419.9,96.9 420.7,98.3 421.5,99.7 422.2,100.8 423,101.1 424,101.5 426.2,102.7 428.4,104.2 430.6,105.3 432.8,105.2 435,105.2 437.2,105.5 439.4,106.1 441.6,106.7 443.8,107.1 446,107.4 448.2,107.6 450.4,107.8 452.6,108.1 454.8,108.3 457,108.5 459.2,108.7 461.4,108.7 463.6,108.8 465.8,108.9 468,109.4 470.2,109.9 472.4,110.3 474.6,110.7 476.8,111.1 479,111.6 481.2,112.3 483.4,113.1 485.6,113.5 487.8,113.5 490,113.5 492.2,113.6 494.4,113.8 496.6,114.1 498.8,114.4 501,114.9 503.2,115.7 505.4,116.4 507.6,117.1 509.8,117.5 512,117.7 514.2,117.6 516.4,117.5 518.6,117.3 520.8,117.3 523,117.5 525.2,117.9 527.4,118.3 529.6,118.6 531.8,118.7 534,118.6 536.2,118.6 538.4,119.0 540.6,119.9 542.8,121.0 545,121.9 547.2,122.3 549.4,122.3 551.6,122.1 553.8,121.8 556,121.7 558.2,121.8 560.4,122.3 562.6,122.9 564.8,123.7 567,124.5 569.2,125.0 571.4,125.3 573.6,125.5 575.8,125.9 578,126.3 580.2,126.7 582.4,127.0 584.6,127.1 586.8,127.3 589,127.4 591.2,127.5 593.4,127.6 595.6,127.7 597.8,127.9 600,128.2 602.2,128.6 604.4,129.1 606.6,129.6 608.8,130.0 611,130.2 613.2,130.4 615.4,130.5 617.6,130.6 619.8,130.8 622,130.9 624.2,131.0 626.4,130.9 628.6,130.9 630.8,131.0 633,131.0 635.2,131.0 637.4,131.0 639.6,131.0 641.8,131.1 644,131.4 646.2,131.7 648.4,132.1 650.6,132.2 652.8,132.2 655,132.1 657.2,132.1 659.4,132.2 661.6,132.4 663.8,132.7 666,133.0 668.1,133.4" fill="none" stroke="#1f77b4" stroke-width="0.60" stroke-opacity="0.33" stroke-dasharray="3,0.8,0.6,0.8" stroke-linecap="butt" stroke-linejoin="round"/>
<polyline points="413,31.0 414,44.4 414.8,57.2 415.7,67.0 416.4,75.3 417.2,82.5 417.9,89.2 418.7,93.7 419.5,97.6 420.2,100.5 421,101.9 421.8,103.8 422.5,106.3 423.3,108.5 424.2,110.3 426.4,112.9 428.5,114.9 430.7,118.1 432.9,118.3 435.1,116.4 437.3,120.3 439.4,120.0 441.6,113.6 443.8,114.7 446,118.5 448.2,117.9 450.4,117.0 452.6,117.5 454.8,121.3 457,126.4 459.2,132.6 461.4,135.5 463.6,123.1 465.8,105.4 468,103.5 470.2,115.9 472.4,124.8 474.6,127.2 476.8,126.5 479,121.9 481.2,120.3 483.4,122.5 485.6,125.3 487.8,128.3 490,130.5 492.2,128.9 494.4,123.9 496.6,123.0 498.8,125.4 501,125.7 503.2,125.2 505.4,125.6 507.6,123.6 509.8,122.0 512,127.6 514.2,127.2 516.4,118.2 518.6,114.0 520.8,121.7 523,127.8 525.2,124.0 527.4,124.2 529.6,133.0 531.8,134.3 534,127.0 536.2,122.3 538.4,117.3 540.7,115.0 542.8,115.5 545,125.5 547.2,129.2 549.4,139.0 551.6,141.7 553.8,134.9 556,126.5 558.2,126.6 560.4,138.5 562.6,143.7 564.8,138.2 567,134.5 569.2,134.9 571.4,135.9 573.6,138.5 575.8,141.2 578,141.2 580.2,133.6 582.4,127.4 584.6,135.0 586.8,142.3 589,144.0 591.2,140.2 593.4,139.2 595.6,142.0 597.8,141.8 600,139.5 602.2,140.4 604.4,145.0 606.6,147.8 608.8,147.0 611,140.4 613.2,136.2 615.4,137.9 617.6,136.3 619.8,133.8 622,134.3 624.2,133.0 626.4,136.8 628.6,141.2 630.8,140.9 633,141.9 635.2,140.4 637.4,137.1 639.6,139.1 641.8,140.0 644,133.4 646.2,126.4 648.4,123.8 650.6,123.5 652.8,124.1 655,126.8 657.2,134.4 659.4,140.1 661.6,136.3 663.8,129.5 666,124.2 668.2,117.2 668.5,114.6" fill="none" stroke="#2ca02c" stroke-width="0.60" stroke-opacity="0.38" stroke-dasharray="0.8,0.7" stroke-linecap="butt" stroke-linejoin="round"/>
<polyline points="413,31.0 415,44.2 416.5,56.8 417.6,66.5 418.5,74.5 419.1,81.6 419.8,88.6 420.5,93.6 421.2,98.0 421.9,101.5 422.7,103.7 423.4,105.5 424,106.1 424.7,106.0 425.5,106.0 427.4,106.3 429.4,106.4 431.3,107.9 433.4,109.6 435.5,112.4 437.6,120.2 439.7,130.5 441.8,131.6 444,127.1 446.2,123.8 448.3,121.3 450.4,125.2 452.6,131.8 454.8,133.1 457,123.3 459.2,112.1 461.4,116.4 463.6,120.9 465.8,123.5 468,125.0 470.2,124.6 472.4,122.6 474.6,119.1 476.8,121.4 479,126.1 481.2,128.7 483.4,133.1 485.6,136.2 487.8,137.9 490,139.4 492.2,135.5 494.4,128.6 496.6,126.4 498.8,130.3 501,134.4 503.2,132.9 505.4,129.1 507.6,124.5 509.8,119.5 512,119.5 514.2,121.2 516.4,124.7 518.6,126.6 520.8,124.3 523,123.0 525.2,127.6 527.4,130.6 529.6,132.3 531.8,137.4 534,142.5 536.2,145.3 538.4,136.4 540.9,122.9 543,118.8 545,130.7 547.2,129.5 549.4,132.7 551.6,141.5 553.8,150.5 556,155.1 558.2,150.3 560.4,141.2 562.6,134.1 564.8,131.1 567,133.5 569.2,136.8 571.4,135.1 573.6,134.6 575.8,138.4 578,140.8 580.2,138.1 582.4,138.1 584.6,139.7 586.8,137.4 589,129.0 591.2,118.5 593.4,119.4 595.6,127.6 597.8,130.4 600,135.4 602.2,141.2 604.4,141.6 606.6,139.6 608.8,139.2 611,140.6 613.2,141.5 615.4,140.7 617.6,134.5 619.8,129.6 622,135.2 624.2,140.7 626.4,142.0 628.6,143.8 630.8,143.2 633,137.5 635.2,133.2 637.4,133.8 639.6,136.4 641.8,134.5 644,130.9 646.2,129.2 648.4,126.6 650.6,127.6 652.8,129.3 655,128.7 657.2,128.1 659.4,126.4 661.6,127.2 663.8,129.2 666,129.8 668.2,133.6" fill="none" stroke="#2ca02c" stroke-width="0.60" stroke-opacity="0.38" stroke-dasharray="0.8,0.7" stroke-linecap="butt" stroke-linejoin="round"/>
<polyline points="413,31.0 414.9,43.8 416.5,55.9 417.6,65.1 418.4,72.7 419.1,79.3 419.8,85.7 420.5,90.1 421.2,94.0 421.9,96.9 422.7,98.6 423.4,99.9 424,100.4 424.6,100.2 425.5,99.9 427.4,99.8 429.4,100.5 431.3,101.9 433.4,103.0 435.5,106.8 437.5,111.1 439.7,112.4 441.8,110.2 444,104.2 446.2,103.5 448.3,105.3 450.4,105.3 452.6,107.8 454.8,110.5 457,113.6 459.2,118.5 461.4,120.5 463.6,118.7 465.8,116.1 468,111.6 470.2,110.2 472.4,114.3 474.6,119.7 476.8,119.9 479,114.2 481.2,113.2 483.4,118.4 485.6,120.5 487.8,117.2 490,116.5 492.2,119.9 494.4,119.0 496.6,116.7 498.8,119.1 501,123.4 503.2,124.6 505.4,122.6 507.6,117.5 509.8,107.7 512,104.2 514.2,109.2 516.4,113.6 518.6,115.1 520.8,117.7 523,115.7 525.2,116.1 527.4,121.1 529.6,127.3 531.8,134.5 534,134.5 536.2,124.6 538.4,109.2 540.9,105.7 543,110.3 545,123.1 547.2,129.8 549.4,136.7 551.6,138.8 553.8,136.1 556,129.4 558.2,128.1 560.4,133.5 562.6,136.9 564.8,135.9 567,132.5 569.2,129.1 571.4,130.2 573.6,134.4 575.8,133.9 578,128.0 580.2,121.8 582.4,122.6 584.6,126.9 586.8,132.9 589,140.9 591.2,140.9 593.4,134.0 595.6,130.9 597.8,132.3 600,133.1 602.2,131.5 604.4,133.2 606.6,133.3 608.8,133.2 611,134.8 613.2,129.6 615.4,125.0 617.6,125.5 619.8,122.5 622,121.7 624.2,124.8 626.4,129.5 628.6,135.5 630.8,134.9 633,131.6 635.2,136.6 637.4,141.8 639.6,141.1 641.8,138.7 644,135.4 646.2,128.6 648.4,121.3 650.6,120.1 652.8,121.8 655,119.5 657.2,118.2 659.4,117.4 661.6,115.8 663.8,113.7 666,112.0 667.7,110.0" fill="none" stroke="#2ca02c" stroke-width="0.60" stroke-opacity="0.38" stroke-dasharray="0.8,0.7" stroke-linecap="butt" stroke-linejoin="round"/>
<polyline points="413,31.0 415.2,44.3 416.9,57.0 418,66.8 418.9,75.0 419.6,82.1 420.2,89.0 420.9,93.8 421.6,98.0 422.3,101.1 423,102.8 423.8,105.0 424.4,107.2 425,109.0 425.8,111.3 427.7,114.2 429.5,114.9 431.4,117.2 433.5,121.8 435.6,126.9 437.6,130.1 439.7,130.5 441.9,131.3 444,134.2 446.2,137.3 448.3,137.3 450.4,134.8 452.6,132.4 454.8,135.5 457,137.7 459.2,132.8 461.4,129.2 463.6,130.8 465.8,132.9 468,129.6 470.2,127.5 472.4,130.3 474.6,129.8 476.8,126.5 479,125.7 481.2,126.6 483.4,127.3 485.6,124.0 487.8,117.6 490,114.9 492.2,118.3 494.4,121.0 496.6,121.9 498.8,120.0 501,117.5 503.2,118.9 505.4,120.6 507.6,119.1 509.8,123.2 512,131.7 514.2,129.2 516.4,123.5 518.6,125.0 520.8,129.8 523,132.1 525.2,131.1 527.4,125.5 529.6,126.1 531.8,133.5 534,141.1 536.2,141.5 538.4,128.6 541,118.0 543,120.1 545,134.9 547.2,136.2 549.4,139.9 551.6,141.1 553.8,139.7 556,141.1 558.2,148.8 560.4,156.2 562.6,155.3 564.8,148.1 567,140.1 569.2,131.8 571.4,129.9 573.6,137.7 575.8,143.6 578,146.6 580.2,149.1 582.4,150.7 584.6,144.3 586.8,136.4 589,135.7 591.2,140.9 593.4,145.0 595.6,144.7 597.8,141.5 600,138.9 602.2,132.4 604.4,125.3 606.6,127.1 608.8,131.0 611,131.0 613.2,133.2 615.4,135.8 617.6,131.8 619.8,131.3 622,137.4 624.2,138.5 626.4,139.6 628.6,140.1 630.8,141.3 633,145.3 635.2,143.2 637.4,137.0 639.6,134.8 641.8,134.1 644,131.5 646.2,130.6 648.4,134.6 650.6,136.9 652.8,130.0 655,126.6 657.2,133.3 659.4,139.2 661.6,137.9 663.8,134.7 666,133.8 667.9,135.3" fill="none" stroke="#2ca02c" stroke-width="0.60" stroke-opacity="0.38" stroke-dasharray="0.8,0.7" stroke-linecap="butt" stroke-linejoin="round"/>
<polyline points="413,31.0 415,45.9 416.5,60.1 417.6,71.3 418.5,81.0 419.1,89.6 419.8,98.3 420.5,104.1 421.2,108.5 421.9,111.9 422.7,114.1 423.4,116.1 424,117.3 424.7,118.3 425.5,120.1 427.4,123.1 429.4,124.9 431.3,127.4 433.4,131.2 435.5,135.3 437.6,140.5 439.7,143.2 441.8,142.8 444,140.6 446.2,136.1 448.3,135.6 450.4,142.8 452.6,151.5 454.8,157.6 457,156.7 459.2,153.8 461.4,155.1 463.6,154.8 465.8,154.2 468,158.6 470.2,161.9 472.4,164.8 474.6,168.7 476.8,171.3 479,172.0 481.2,171.2 483.4,168.2 485.6,163.7 487.8,160.1 490,157.8 492.2,154.7 494.4,154.7 496.6,158.8 498.8,167.0 501,173.5 503.2,172.1 505.4,167.7 507.6,168.6 509.8,173.8 512,176.7 514.2,168.8 516.4,162.0 518.6,166.7 520.8,169.6 523,162.6 525.2,159.1 527.4,160.6 529.6,162.8 531.8,165.5 534,168.5 536.2,169.6 538.4,162.5 540.9,161.8 543,168.3 545,180.5 547.2,177.1 549.4,174.7 551.6,177.2 553.8,183.4 556,185.4 558.2,184.8 560.4,177.4 562.6,168.1 564.8,166.2 567,166.8 569.2,165.0 571.4,164.9 573.6,168.2 575.8,171.1 578,171.6 580.2,173.8 582.4,173.4 584.6,168.9 586.8,166.5 589,168.1 591.2,173.9 593.4,177.5 595.6,176.5 597.8,175.7 600,175.7 602.2,173.1 604.4,172.2 606.6,173.0 608.8,175.3 611,173.4 613.2,164.1 615.4,166.0 617.6,167.3 619.8,158.7 622,153.6 624.2,156.9 626.4,166.6 628.6,172.5 630.8,175.2 633,174.4 635.2,171.5 637.4,168.6 639.6,169.3 641.8,167.3 644,162.7 646.2,158.7 648.4,154.6 650.6,155.2 652.8,156.5 655,163.1 657.2,170.8 659.4,169.4 661.6,164.5 663.8,161.4 666,162.1 668,166.3" fill="none" stroke="#2ca02c" stroke-width="0.60" stroke-opacity="0.38" stroke-dasharray="0.8,0.7" stroke-linecap="butt" stroke-linejoin="round"/>
<polyline points="413,31.0 414.4,44.1 415.5,56.5 416.5,66.0 417.3,73.8 418,80.7 418.7,87.0 419.5,91.0 420.2,94.4 421,96.9 421.7,98.2 422.5,99.4 423.1,100.3 423.9,101.7 424.8,103.8 426.8,105.3 428.9,104.6 431,106.9 433.1,108.1 435.2,109.7 437.4,111.3 439.5,109.6 441.7,109.9 443.9,111.0 446.1,111.0 448.3,114.4 450.4,114.2 452.6,108.8 454.8,108.2 457,114.4 459.2,122.3 461.4,124.6 463.6,122.4 465.8,116.9 468,113.6 470.2,113.7 472.4,114.8 474.6,116.3 476.8,121.1 479,124.5 481.2,125.0 483.4,123.3 485.6,118.1 487.8,112.5 490,113.1 492.2,117.5 494.4,119.1 496.6,116.3 498.8,112.6 501,113.5 503.2,119.0 505.4,122.1 507.6,124.7 509.8,125.5 512,124.1 514.2,120.4 516.4,117.2 518.6,115.8 520.8,118.0 523,120.5 525.2,119.6 527.4,119.4 529.6,121.9 531.8,124.4 534,124.8 536.2,122.9 538.4,114.1 540.8,108.3 542.9,109.3 545,122.4 547.2,126.9 549.4,133.8 551.6,136.7 553.8,130.7 556,121.6 558.2,124.2 560.4,133.5 562.6,135.8 564.8,132.9 567,131.4 569.2,134.2 571.4,136.0 573.6,135.0 575.8,133.5 578,130.5 580.2,126.0 582.4,122.8 584.6,120.8 586.8,116.8 589,113.4 591.2,113.8 593.4,118.6 595.6,128.8 597.8,135.6 600,131.1 602.2,125.0 604.4,122.7 606.6,121.3 608.8,125.4 611,128.8 613.2,127.9 615.4,129.3 617.6,128.6 619.8,123.9 622,123.0 624.2,123.7 626.4,124.7 628.6,126.5 630.8,128.2 633,127.1 635.2,127.9 637.4,128.5 639.6,127.4 641.8,122.3 644,114.8 646.2,109.3 648.4,108.2 650.6,109.7 652.8,115.1 655,125.6 657.2,121.5 659.4,108.4 661.6,106.8 663.8,109.4 666,109.6 667.2,114.8" fill="none" stroke="#2ca02c" stroke-width="0.60" stroke-opacity="0.38" stroke-dasharray="0.8,0.7" stroke-linecap="butt" stroke-linejoin="round"/>
<polyline points="413,31.0 414.7,44.3 416,57.1 417,66.8 417.9,75.0 418.6,82.1 419.3,89.1 420,94.0 420.7,98.2 421.4,101.9 422.2,104.4 422.9,106.4 423.6,107.3 424.2,107.3 425.1,107.5 427.1,109.2 429.1,113.5 431.1,116.6 433.2,113.1 435.3,111.0 437.5,113.7 439.6,115.8 441.8,118.5 444,121.4 446.1,119.0 448.3,117.1 450.4,116.5 452.6,115.0 454.8,115.1 457,116.7 459.2,120.0 461.4,122.7 463.6,126.5 465.8,131.6 468,134.3 470.2,132.2 472.4,130.3 474.6,133.9 476.8,132.5 479,130.4 481.2,135.5 483.4,141.2 485.6,140.2 487.8,134.6 490,133.6 492.2,138.7 494.4,141.0 496.6,140.3 498.8,135.8 501,127.4 503.2,123.4 505.4,128.9 507.6,133.5 509.8,133.8 512,135.7 514.2,133.2 516.4,130.9 518.6,130.5 520.8,130.5 523,132.0 525.2,135.7 527.4,138.1 529.6,141.0 531.8,144.7 534,146.3 536.2,145.8 538.4,139.8 540.9,134.4 542.9,136.6 545,148.6 547.2,147.9 549.4,142.1 551.6,138.1 553.8,143.2 556,149.5 558.2,150.1 560.4,148.0 562.6,145.4 564.8,146.1 567,152.4 569.2,156.1 571.4,158.5 573.6,160.0 575.8,154.5 578,148.8 580.2,147.4 582.4,143.6 584.6,136.9 586.8,136.6 589,139.6 591.2,139.0 593.4,139.4 595.6,139.9 597.8,140.8 600,142.8 602.2,143.2 604.4,144.2 606.6,144.0 608.8,148.0 611,153.0 613.2,155.6 615.4,151.2 617.6,143.1 619.8,146.6 622,156.5 624.2,158.9 626.4,156.8 628.6,156.2 630.8,157.1 633,157.8 635.2,157.9 637.4,159.7 639.6,162.9 641.8,162.5 644,155.2 646.2,148.8 648.4,146.0 650.6,142.0 652.8,140.2 655,140.0 657.2,135.0 659.4,133.1 661.6,140.7 663.8,145.5 666,145.9 668.2,146.3 668.4,146.4" fill="none" stroke="#2ca02c" stroke-width="0.60" stroke-opacity="0.38" stroke-dasharray="0.8,0.7" stroke-linecap="butt" stroke-linejoin="round"/>
<polyline points="413,31.0 414.2,44.4 415.3,57.2 416.2,67.0 417,75.2 417.7,82.4 418.4,89.0 419.2,93.4 419.9,97.2 420.7,100.0 421.4,101.5 422.2,103.0 422.9,104.0 423.6,104.8 424.6,106.5 426.7,108.6 428.8,110.0 430.9,112.9 433,114.7 435.2,119.5 437.3,126.9 439.5,134.3 441.7,133.9 443.9,125.1 446.1,121.9 448.2,124.2 450.4,124.0 452.6,125.1 454.8,131.5 457,134.6 459.2,134.1 461.4,131.4 463.6,129.5 465.8,129.2 468,128.5 470.2,130.9 472.4,134.7 474.6,133.1 476.8,127.2 479,124.3 481.2,126.3 483.4,133.8 485.6,138.6 487.8,138.1 490,134.8 492.2,131.9 494.4,131.1 496.6,130.2 498.8,125.0 501,122.0 503.2,128.5 505.4,136.2 507.6,135.1 509.8,128.5 512,131.4 514.2,134.4 516.4,133.8 518.6,130.2 520.8,124.8 523,123.0 525.2,123.9 527.4,124.8 529.6,130.9 531.8,133.7 534,134.2 536.2,137.9 538.4,134.8 540.7,128.1 542.9,125.2 545,136.4 547.2,139.3 549.4,141.1 551.6,134.0 553.8,128.5 556,130.5 558.2,134.6 560.4,141.1 562.6,145.2 564.8,142.4 567,137.0 569.2,134.7 571.4,136.0 573.6,134.3 575.8,129.8 578,131.8 580.2,137.2 582.4,137.0 584.6,134.9 586.8,136.0 589,136.1 591.2,133.1 593.4,127.8 595.6,123.4 597.8,123.9 600,128.7 602.2,132.0 604.4,134.8 606.6,135.6 608.8,135.5 611,134.8 613.2,131.3 615.4,125.7 617.6,117.7 619.8,118.1 622,130.5 624.2,141.0 626.4,144.5 628.6,141.8 630.8,136.3 633,130.8 635.2,129.9 637.4,132.2 639.6,132.6 641.8,131.4 644,128.5 646.2,121.6 648.4,116.9 650.6,120.5 652.8,123.1 655,125.9 657.2,129.5 659.4,128.5 661.6,130.7 663.8,137.7 666,141.2 667.2,138.5" fill="none" stroke="#2ca02c" stroke-width="0.60" stroke-opacity="0.38" stroke-dasharray="0.8,0.7" stroke-linecap="butt" stroke-linejoin="round"/>
<polyline points="413,31.0 413.9,43.6 414.8,55.6 415.6,64.6 416.4,72.1 417.1,78.5 417.9,84.9 418.6,89.8 419.4,94.8 420.2,98.8 420.9,101.2 421.7,103.6 422.4,105.5 423.2,107.8 424.2,112.6 426.3,119.8 428.5,123.7 430.7,126.8 432.9,127.1 435.1,124.4 437.2,124.7 439.4,129.5 441.6,136.1 443.8,139.5 446,140.1 448.2,141.9 450.4,143.5 452.6,143.7 454.8,147.6 457,151.8 459.2,150.4 461.4,146.8 463.6,145.7 465.8,146.9 468,152.2 470.2,158.8 472.4,159.9 474.6,159.9 476.8,164.1 479,165.5 481.2,162.9 483.4,160.1 485.6,156.5 487.8,151.4 490,150.3 492.2,151.5 494.4,148.7 496.6,146.6 498.8,150.6 501,156.9 503.2,165.3 505.4,173.4 507.6,174.5 509.8,168.1 512,165.0 514.2,161.9 516.4,159.1 518.6,163.0 520.8,160.6 523,151.5 525.2,149.3 527.4,145.1 529.6,151.7 531.8,166.0 534,166.5 536.2,165.8 538.4,159.3 540.6,148.1 542.8,143.3 545,158.2 547.2,170.0 549.4,177.2 551.6,171.4 553.8,162.1 556,161.6 558.2,169.2 560.4,174.2 562.6,176.0 564.8,171.4 567,162.0 569.2,159.7 571.4,164.7 573.6,167.6 575.8,167.7 578,171.7 580.2,175.8 582.4,174.7 584.6,166.9 586.8,160.5 589,158.2 591.2,162.6 593.4,171.3 595.6,173.8 597.8,168.5 600,160.3 602.2,160.2 604.4,167.6 606.6,171.6 608.8,174.0 611,175.8 613.2,179.2 615.4,184.1 617.6,180.8 619.8,167.8 622,159.9 624.2,161.3 626.4,168.4 628.6,175.3 630.8,175.7 633,170.3 635.2,168.8 637.4,171.5 639.6,176.2 641.8,179.7 644,179.4 646.2,179.6 648.4,178.7 650.6,171.3 652.8,165.2 655,169.1 657.2,173.6 659.4,169.6 661.6,166.4 663.8,165.6 666,165.8 668.2,167.3 668.6,167.7" fill="none" stroke="#2ca02c" stroke-width="0.60" stroke-opacity="0.38" stroke-dasharray="0.8,0.7" stroke-linecap="butt" stroke-linejoin="round"/>
<polyline points="413,31.0 414.4,44.3 415.7,56.9 416.6,66.6 417.4,74.7 418.1,81.8 418.9,88.9 419.6,94.0 420.3,98.5 421.1,102.0 421.8,104.0 422.6,105.6 423.2,106.6 423.9,107.8 424.9,110.3 426.9,114.6 428.9,117.9 431,119.8 433.1,120.7 435.3,122.5 437.4,125.0 439.6,130.8 441.7,134.8 443.9,131.5 446.1,128.2 448.3,128.3 450.4,131.4 452.6,134.4 454.8,134.0 457,132.0 459.2,130.8 461.4,129.5 463.6,126.7 465.8,122.1 468,118.9 470.2,120.2 472.4,121.9 474.6,124.8 476.8,129.6 479,132.8 481.2,128.4 483.4,120.1 485.6,119.5 487.8,128.2 490,136.3 492.2,136.3 494.4,129.9 496.6,126.5 498.8,128.6 501,130.1 503.2,132.6 505.4,135.3 507.6,129.8 509.8,123.8 512,130.5 514.2,132.8 516.4,124.6 518.6,115.4 520.8,113.2 523,118.5 525.2,131.8 527.4,142.0 529.6,144.7 531.8,146.0 534,147.1 536.2,145.5 538.4,134.0 540.8,126.5 542.9,130.5 545,144.0 547.2,143.2 549.4,144.7 551.6,148.3 553.8,152.5 556,152.8 558.2,151.7 560.4,150.3 562.6,147.3 564.8,147.1 567,151.5 569.2,147.9 571.4,140.8 573.6,139.6 575.8,141.5 578,145.8 580.2,149.4 582.4,150.5 584.6,149.0 586.8,144.0 589,139.4 591.2,140.8 593.4,144.4 595.6,150.0 597.8,156.2 600,158.4 602.2,156.8 604.4,157.2 606.6,160.0 608.8,161.8 611,156.0 613.2,147.5 615.4,145.3 617.6,143.8 619.8,142.4 622,146.0 624.2,147.8 626.4,151.0 628.6,156.6 630.8,161.8 633,158.4 635.2,146.0 637.4,142.3 639.6,145.5 641.8,138.6 644,131.9 646.2,135.4 648.4,140.6 650.6,142.5 652.8,144.3 655,145.8 657.2,143.7 659.4,138.6 661.6,132.7 663.8,125.7 666,123.3 668,128.1" fill="none" stroke="#2ca02c" stroke-width="0.60" stroke-opacity="0.38" stroke-dasharray="0.8,0.7" stroke-linecap="butt" stroke-linejoin="round"/>
<polyline points="413,31.0 414.3,44.3 415.4,56.9 416.4,66.6 417.2,74.7 417.9,81.8 418.6,89.2 419.4,94.6 420.1,99.3 420.9,103.1 421.6,105.8 422.4,107.8 423.1,108.7 423.8,109.4 424.7,110.5 426.8,110.1 428.8,107.3 430.9,104.7 433.1,103.0 435.2,109.0 437.4,119.1 439.5,123.2 441.7,118.9 443.9,114.8 446.1,119.9 448.2,124.6 450.4,123.0 452.6,124.6 454.8,130.1 457,129.6 459.2,130.2 461.4,130.1 463.6,124.1 465.8,122.2 468,124.5 470.2,130.3 472.4,136.9 474.6,136.9 476.8,132.2 479,132.3 481.2,133.3 483.4,128.8 485.6,122.7 487.8,120.3 490,124.9 492.2,127.7 494.4,124.6 496.6,126.8 498.8,130.1 501,127.3 503.2,129.5 505.4,135.1 507.6,132.7 509.8,125.7 512,127.1 514.2,132.8 516.4,138.8 518.6,143.5 520.8,142.9 523,137.8 525.2,137.5 527.4,138.1 529.6,135.8 531.8,130.3 534,128.4 536.2,132.3 538.4,129.0 540.8,120.8 542.9,119.7 545,133.4 547.2,136.2 549.4,139.3 551.6,143.6 553.8,149.8 556,148.5 558.2,141.7 560.4,140.2 562.6,141.0 564.8,136.0 567,129.8 569.2,127.4 571.4,130.0 573.6,138.1 575.8,142.2 578,137.9 580.2,131.2 582.4,126.0 584.6,119.4 586.8,117.9 589,122.6 591.2,125.0 593.4,121.2 595.6,119.5 597.8,126.3 600,132.1 602.2,132.7 604.4,138.0 606.6,138.0 608.8,135.9 611,137.5 613.2,140.7 615.4,136.6 617.6,124.2 619.8,121.2 622,130.6 624.2,133.5 626.4,132.8 628.6,135.6 630.8,136.3 633,134.7 635.2,133.6 637.4,126.0 639.6,116.2 641.8,112.5 644,114.1 646.2,119.2 648.4,123.2 650.6,120.0 652.8,115.8 655,120.1 657.2,122.5 659.4,121.1 661.6,123.2 663.8,126.2 666,122.9 667.5,115.3" fill="none" stroke="#2ca02c" stroke-width="0.60" stroke-opacity="0.38" stroke-dasharray="0.8,0.7" stroke-linecap="butt" stroke-linejoin="round"/>
<polyline points="413,31.0 414.2,44.0 415.2,56.3 416.1,65.7 416.9,73.5 417.7,80.3 418.4,86.6 419.1,90.7 419.9,94.2 420.6,96.8 421.4,98.1 422.2,99.2 422.9,99.7 423.6,100.1 424.5,100.8 426.6,101.0 428.7,101.4 430.8,106.0 433,109.6 435.2,110.5 437.3,111.8 439.5,116.1 441.7,120.4 443.9,119.3 446.1,111.2 448.2,107.4 450.4,110.7 452.6,110.9 454.8,110.8 457,114.3 459.2,117.2 461.4,117.5 463.6,118.1 465.8,121.2 468,125.6 470.2,126.5 472.4,120.5 474.6,117.9 476.8,120.9 479,125.1 481.2,125.8 483.4,123.1 485.6,122.3 487.8,123.4 490,122.6 492.2,121.1 494.4,120.1 496.6,119.5 498.8,115.0 501,114.5 503.2,125.7 505.4,131.6 507.6,126.9 509.8,120.9 512,120.2 514.2,124.8 516.4,131.4 518.6,129.4 520.8,121.7 523,122.4 525.2,132.8 527.4,139.7 529.6,140.0 531.8,137.3 534,135.7 536.2,135.3 538.4,128.6 540.7,122.0 542.9,122.2 545,136.4 547.2,139.5 549.4,139.8 551.6,135.0 553.8,134.3 556,142.0 558.2,144.5 560.4,137.2 562.6,131.3 564.8,131.0 567,130.8 569.2,127.0 571.4,124.6 573.6,125.4 575.8,126.3 578,130.0 580.2,132.5 582.4,127.9 584.6,122.7 586.8,125.5 589,128.6 591.2,125.3 593.4,125.4 595.6,131.4 597.8,135.1 600,133.0 602.2,128.6 604.4,126.7 606.6,123.7 608.8,126.1 611,129.5 613.2,125.7 615.4,119.8 617.6,118.7 619.8,119.9 622,127.7 624.2,131.9 626.4,124.9 628.6,127.8 630.8,143.5 633,148.5 635.2,140.8 637.4,136.0 639.6,137.6 641.8,132.0 644,123.7 646.2,118.7 648.4,117.0 650.6,119.5 652.8,123.9 655,130.1 657.2,129.1 659.4,121.4 661.6,119.4 663.8,120.8 666,123.5 667.3,122.6" fill="none" stroke="#2ca02c" stroke-width="0.60" stroke-opacity="0.38" stroke-dasharray="0.8,0.7" stroke-linecap="butt" stroke-linejoin="round"/>
<polyline points="413,31.0 415.1,44.4 416.7,57.1 417.8,66.9 418.7,75.0 419.3,82.2 420,88.7 420.7,93.0 421.4,96.6 422.1,99.4 422.9,100.9 423.6,103.0 424.2,105.8 424.8,108.1 425.6,108.3 427.5,107.5 429.5,107.6 431.4,110.7 433.4,112.5 435.5,114.0 437.6,114.8 439.7,113.3 441.9,111.6 444,108.9 446.2,111.0 448.3,114.5 450.4,118.9 452.6,121.7 454.8,121.6 457,122.7 459.2,127.2 461.4,130.5 463.6,128.7 465.8,121.8 468,119.5 470.2,121.7 472.4,121.8 474.6,128.2 476.8,134.5 479,134.3 481.2,136.7 483.4,136.3 485.6,131.1 487.8,125.2 490,128.1 492.2,134.4 494.4,131.2 496.6,128.2 498.8,129.2 501,130.1 503.2,127.9 505.4,125.6 507.6,122.5 509.8,119.3 512,122.2 514.2,126.9 516.4,129.8 518.6,123.1 520.8,119.2 523,124.4 525.2,128.5 527.4,126.9 529.6,127.9 531.8,133.4 534,134.2 536.2,135.5 538.4,132.0 541,123.7 543,121.6 545,134.7 547.2,138.6 549.4,140.0 551.6,137.6 553.8,135.8 556,133.9 558.2,135.2 560.4,139.5 562.6,144.3 564.8,147.1 567,146.0 569.2,144.2 571.4,140.7 573.6,136.1 575.8,139.1 578,145.2 580.2,141.6 582.4,135.3 584.6,134.5 586.8,136.1 589,135.3 591.2,131.9 593.4,130.3 595.6,133.3 597.8,133.9 600,136.0 602.2,140.6 604.4,141.7 606.6,139.4 608.8,138.8 611,136.4 613.2,133.5 615.4,130.0 617.6,125.9 619.8,126.0 622,131.7 624.2,135.8 626.4,138.9 628.6,138.4 630.8,136.0 633,139.6 635.2,143.0 637.4,140.4 639.6,138.4 641.8,138.6 644,134.6 646.2,125.7 648.4,118.1 650.6,119.0 652.8,125.6 655,134.4 657.2,137.1 659.4,130.2 661.6,127.6 663.8,131.1 666,130.5 668.2,125.5 668.6,121.8" fill="none" stroke="#2ca02c" stroke-width="0.60" stroke-opacity="0.38" stroke-dasharray="0.8,0.7" stroke-linecap="butt" stroke-linejoin="round"/>
<polyline points="413,31.0 413.9,44.3 414.7,57.0 415.5,66.8 416.3,74.9 417,82.1 417.8,88.5 418.6,92.7 419.3,96.3 420.1,99.1 420.9,100.6 421.6,102.4 422.4,103.7 423.1,104.2 424.1,105.6 426.3,109.0 428.5,114.5 430.7,118.2 432.8,116.6 435,119.2 437.2,124.2 439.4,125.6 441.6,128.7 443.8,130.5 446,128.4 448.2,125.2 450.4,123.9 452.6,127.5 454.8,135.8 457,137.6 459.2,129.2 461.4,120.8 463.6,119.3 465.8,125.2 468,127.4 470.2,122.3 472.4,121.5 474.6,129.1 476.8,134.8 479,132.5 481.2,128.7 483.4,127.9 485.6,129.3 487.8,130.3 490,129.6 492.2,130.2 494.4,130.6 496.6,129.6 498.8,134.4 501,139.9 503.2,136.4 505.4,132.4 507.6,130.5 509.8,124.8 512,125.8 514.2,130.0 516.4,129.8 518.6,126.1 520.8,127.1 523,128.4 525.2,126.7 527.4,127.2 529.6,130.9 531.8,130.5 534,127.1 536.2,120.3 538.4,107.7 540.6,103.3 542.8,106.5 545,120.0 547.2,122.1 549.4,125.3 551.6,128.6 553.8,133.9 556,137.9 558.2,133.8 560.4,128.1 562.6,126.1 564.8,125.7 567,126.4 569.2,130.8 571.4,131.9 573.6,133.1 575.8,140.3 578,145.5 580.2,140.5 582.4,135.2 584.6,133.6 586.8,132.1 589,133.5 591.2,134.7 593.4,134.1 595.6,133.0 597.8,134.6 600,137.6 602.2,138.6 604.4,142.4 606.6,148.9 608.8,151.0 611,145.2 613.2,136.2 615.4,132.2 617.6,131.9 619.8,127.5 622,126.3 624.2,131.3 626.4,138.3 628.6,144.9 630.8,152.4 633,154.1 635.2,149.6 637.4,144.1 639.6,141.0 641.8,139.5 644,137.0 646.2,133.9 648.4,128.6 650.6,124.5 652.8,123.2 655,131.0 657.2,136.4 659.4,131.5 661.6,125.9 663.8,121.6 666,122.6 667.4,127.4" fill="none" stroke="#2ca02c" stroke-width="0.60" stroke-opacity="0.38" stroke-dasharray="0.8,0.7" stroke-linecap="butt" stroke-linejoin="round"/>
<polyline points="413,31.0 414.2,44.5 415.3,57.4 416.2,67.4 417,75.7 417.7,83.1 418.4,90.0 419.2,94.7 419.9,98.9 420.7,102.2 421.4,104.2 422.2,106.0 422.9,106.8 423.6,106.6 424.6,107.2 426.7,110.5 428.8,113.9 430.9,118.1 433,123.2 435.2,123.8 437.3,119.6 439.5,121.5 441.7,127.7 443.9,129.7 446.1,133.2 448.2,138.8 450.4,140.1 452.6,138.4 454.8,132.2 457,125.6 459.2,124.7 461.4,127.6 463.6,129.0 465.8,134.3 468,136.6 470.2,132.5 472.4,128.2 474.6,128.2 476.8,131.1 479,132.4 481.2,134.7 483.4,137.4 485.6,138.7 487.8,141.3 490,141.5 492.2,140.9 494.4,139.3 496.6,135.0 498.8,132.2 501,137.0 503.2,140.1 505.4,138.1 507.6,130.9 509.8,126.0 512,128.3 514.2,126.9 516.4,121.4 518.6,115.1 520.8,112.9 523,119.2 525.2,126.8 527.4,131.5 529.6,134.4 531.8,135.5 534,139.1 536.2,138.0 538.4,123.3 540.7,115.9 542.9,121.9 545,134.4 547.2,131.5 549.4,135.5 551.6,139.6 553.8,139.1 556,138.0 558.2,136.9 560.4,134.9 562.6,127.0 564.8,128.4 567,142.6 569.2,148.0 571.4,150.6 573.6,152.7 575.8,151.2 578,145.4 580.2,142.5 582.4,147.9 584.6,149.1 586.8,142.9 589,139.3 591.2,142.6 593.4,145.4 595.6,141.3 597.8,141.3 600,148.2 602.2,147.7 604.4,141.6 606.6,135.7 608.8,135.5 611,135.5 613.2,131.9 615.4,128.7 617.6,126.5 619.8,124.7 622,126.8 624.2,130.8 626.4,130.3 628.6,128.7 630.8,136.1 633,144.9 635.2,147.1 637.4,142.5 639.6,140.9 641.8,139.8 644,138.3 646.2,138.0 648.4,135.1 650.6,132.2 652.8,130.7 655,132.9 657.2,136.6 659.4,135.9 661.6,134.2 663.8,133.4 666,134.8 668.2,135.8 668.4,136.4" fill="none" stroke="#2ca02c" stroke-width="0.60" stroke-opacity="0.38" stroke-dasharray="0.8,0.7" stroke-linecap="butt" stroke-linejoin="round"/>
<polyline points="413,31.0 415,43.9 416.6,56.2 417.8,65.6 418.6,73.3 419.3,80.1 420,87.0 420.7,91.9 421.4,96.2 422.1,99.7 422.8,101.9 423.5,103.4 424.1,104.4 424.8,105.5 425.6,106.0 427.5,106.1 429.4,106.9 431.3,109.5 433.4,109.4 435.5,110.4 437.6,111.3 439.7,109.1 441.9,109.0 444,115.3 446.2,121.6 448.3,120.2 450.4,115.3 452.6,114.3 454.8,117.6 457,114.4 459.2,109.0 461.4,113.6 463.6,122.9 465.8,127.2 468,132.2 470.2,135.2 472.4,127.5 474.6,118.2 476.8,117.5 479,118.7 481.2,117.6 483.4,115.0 485.6,111.2 487.8,115.8 490,123.1 492.2,121.8 494.4,117.4 496.6,123.3 498.8,133.3 501,133.4 503.2,131.7 505.4,130.9 507.6,128.0 509.8,121.3 512,118.6 514.2,120.9 516.4,127.7 518.6,132.3 520.8,134.4 523,131.1 525.2,128.9 527.4,131.1 529.6,133.4 531.8,132.9 534,133.8 536.2,132.0 538.4,122.5 541,119.9 543,122.4 545,133.4 547.2,136.3 549.4,136.1 551.6,133.9 553.8,137.9 556,141.1 558.2,142.2 560.4,142.6 562.6,141.3 564.8,140.3 567,139.5 569.2,134.4 571.4,132.5 573.6,134.1 575.8,134.9 578,135.5 580.2,130.6 582.4,128.8 584.6,130.9 586.8,129.5 589,129.2 591.2,135.4 593.4,139.1 595.6,141.0 597.8,145.5 600,147.5 602.2,139.7 604.4,132.0 606.6,127.1 608.8,121.9 611,119.9 613.2,124.3 615.4,129.9 617.6,133.9 619.8,136.8 622,138.3 624.2,137.0 626.4,135.3 628.6,130.0 630.8,128.7 633,134.5 635.2,139.5 637.4,143.0 639.6,146.3 641.8,148.2 644,137.7 646.2,120.3 648.4,112.4 650.6,114.7 652.8,115.4 655,117.0 657.2,118.8 659.4,116.7 661.6,116.1 663.8,116.7 666,114.5 667.2,110.7" fill="none" stroke="#2ca02c" stroke-width="0.60" stroke-opacity="0.38" stroke-dasharray="0.8,0.7" stroke-linecap="butt" stroke-linejoin="round"/>
<polyline points="413,31.0 414.8,44.2 416.3,56.7 417.4,66.3 418.2,74.2 418.9,81.2 419.6,87.9 420.3,92.4 421,96.1 421.7,99.1 422.5,100.8 423.2,102.6 423.8,104.6 424.5,106.7 425.4,109.3 427.3,113.0 429.3,116.9 431.2,120.8 433.3,120.2 435.4,120.8 437.5,125.0 439.7,125.5 441.8,122.5 444,122.7 446.1,122.7 448.3,121.4 450.4,115.6 452.6,110.0 454.8,112.8 457,117.5 459.2,119.0 461.4,120.4 463.6,127.3 465.8,137.1 468,138.9 470.2,131.5 472.4,125.7 474.6,121.7 476.8,116.9 479,114.9 481.2,115.9 483.4,121.9 485.6,128.7 487.8,135.6 490,139.8 492.2,131.9 494.4,122.0 496.6,120.5 498.8,124.2 501,127.4 503.2,129.7 505.4,128.8 507.6,121.2 509.8,116.9 512,119.8 514.2,124.0 516.4,125.2 518.6,121.2 520.8,120.0 523,122.1 525.2,121.0 527.4,124.9 529.6,135.9 531.8,137.2 534,129.1 536.2,122.4 538.4,111.1 540.9,109.9 543,125.8 545,144.1 547.2,139.4 549.4,133.4 551.6,130.2 553.8,130.3 556,130.6 558.2,130.5 560.4,129.1 562.6,130.1 564.8,137.9 567,143.9 569.2,142.5 571.4,142.1 573.6,141.8 575.8,134.5 578,129.0 580.2,130.5 582.4,136.2 584.6,139.3 586.8,136.4 589,132.7 591.2,132.0 593.4,133.8 595.6,141.4 597.8,145.2 600,142.7 602.2,137.9 604.4,135.6 606.6,135.8 608.8,134.0 611,131.8 613.2,135.4 615.4,136.6 617.6,132.0 619.8,128.6 622,134.4 624.2,138.0 626.4,137.9 628.6,136.9 630.8,140.5 633,146.9 635.2,148.9 637.4,146.9 639.6,144.1 641.8,140.6 644,137.9 646.2,135.0 648.4,130.1 650.6,130.7 652.8,135.1 655,138.0 657.2,139.2 659.4,138.7 661.6,135.9 663.8,128.2 666,118.6 667.8,116.4" fill="none" stroke="#2ca02c" stroke-width="0.60" stroke-opacity="0.38" stroke-dasharray="0.8,0.7" stroke-linecap="butt" stroke-linejoin="round"/>
<polyline points="413,31.0 414.5,44.0 415.8,56.4 416.8,65.8 417.6,73.7 418.3,80.5 419,87.4 419.7,92.2 420.5,96.4 421.2,99.8 422,101.7 422.7,103.4 423.4,105.1 424.1,107.1 425,109.5 427,113.7 429,117.5 431,118.8 433.2,116.7 435.3,115.2 437.4,114.4 439.6,109.9 441.8,107.1 443.9,110.6 446.1,113.4 448.3,114.5 450.4,116.2 452.6,115.3 454.8,118.3 457,122.8 459.2,120.1 461.4,113.0 463.6,104.9 465.8,106.9 468,116.2 470.2,119.6 472.4,118.7 474.6,119.1 476.8,120.2 479,118.8 481.2,120.1 483.4,124.8 485.6,127.3 487.8,125.2 490,123.0 492.2,122.5 494.4,118.3 496.6,115.4 498.8,117.7 501,121.6 503.2,124.5 505.4,124.5 507.6,118.9 509.8,111.7 512,115.0 514.2,119.3 516.4,118.6 518.6,120.4 520.8,119.0 523,115.0 525.2,119.9 527.4,127.1 529.6,128.9 531.8,124.5 534,119.8 536.2,120.7 538.4,114.5 540.8,106.3 542.9,105.1 545,119.0 547.2,123.7 549.4,123.6 551.6,122.2 553.8,121.0 556,123.0 558.2,127.0 560.4,128.6 562.6,127.8 564.8,127.9 567,131.7 569.2,138.3 571.4,144.4 573.6,150.0 575.8,149.5 578,147.4 580.2,145.3 582.4,141.4 584.6,134.9 586.8,129.5 589,126.1 591.2,124.2 593.4,121.6 595.6,118.7 597.8,117.6 600,121.5 602.2,128.8 604.4,132.8 606.6,130.0 608.8,127.9 611,126.9 613.2,126.1 615.4,127.2 617.6,123.4 619.8,118.2 622,116.5 624.2,118.8 626.4,126.5 628.6,133.8 630.8,136.1 633,135.6 635.2,137.9 637.4,130.6 639.6,115.2 641.8,110.3 644,113.5 646.2,117.9 648.4,117.4 650.6,115.8 652.8,117.8 655,119.6 657.2,118.6 659.4,120.1 661.6,126.1 663.8,129.6 666,126.3 667.5,124.3" fill="none" stroke="#2ca02c" stroke-width="0.60" stroke-opacity="0.38" stroke-dasharray="0.8,0.7" stroke-linecap="butt" stroke-linejoin="round"/>
<polyline points="413,31.0 414,43.6 414.9,55.6 415.7,64.7 416.5,72.1 417.3,78.6 418,85.0 418.8,90.1 419.5,95.2 420.3,99.3 421.1,102.0 421.8,104.5 422.6,106.8 423.3,109.2 424.3,111.6 426.4,115.1 428.6,119.3 430.7,126.2 432.9,131.0 435.1,133.6 437.3,135.5 439.5,133.3 441.6,128.1 443.8,123.7 446,124.6 448.2,133.7 450.4,139.6 452.6,143.0 454.8,147.2 457,147.9 459.2,148.1 461.4,146.7 463.6,148.6 465.8,153.5 468,157.8 470.2,157.4 472.4,154.6 474.6,157.0 476.8,158.5 479,154.9 481.2,146.8 483.4,142.5 485.6,146.5 487.8,151.0 490,153.2 492.2,151.5 494.4,148.5 496.6,146.5 498.8,146.9 501,154.9 503.2,159.5 505.4,154.5 507.6,151.0 509.8,154.8 512,164.1 514.2,166.0 516.4,163.1 518.6,163.6 520.8,164.5 523,165.8 525.2,170.0 527.4,173.5 529.6,175.4 531.8,178.0 534,180.7 536.2,184.0 538.4,177.6 540.7,165.0 542.8,157.8 545,169.0 547.2,170.7 549.4,169.3 551.6,164.5 553.8,167.1 556,169.6 558.2,170.0 560.4,173.5 562.6,178.4 564.8,177.9 567,173.6 569.2,174.6 571.4,182.8 573.6,188.4 575.8,186.4 578,183.7 580.2,183.8 582.4,189.5 584.6,187.8 586.8,179.7 589,175.4 591.2,175.0 593.4,173.5 595.6,170.9 597.8,169.1 600,173.4 602.2,178.4 604.4,180.3 606.6,181.9 608.8,178.2 611,164.3 613.2,159.0 615.4,164.6 617.6,166.5 619.8,164.7 622,168.0 624.2,174.9 626.4,179.9 628.6,178.7 630.8,173.3 633,169.9 635.2,174.0 637.4,177.2 639.6,176.4 641.8,174.5 644,170.5 646.2,169.6 648.4,167.4 650.6,160.0 652.8,160.9 655,170.9 657.2,173.9 659.4,166.2 661.6,155.1 663.8,148.4 666,152.9 668.1,157.1" fill="none" stroke="#2ca02c" stroke-width="0.60" stroke-opacity="0.38" stroke-dasharray="0.8,0.7" stroke-linecap="butt" stroke-linejoin="round"/>
<polyline points="413,31.0 413.9,44.4 414.8,57.1 415.6,66.9 416.3,75.0 417.1,82.2 417.9,89.0 418.6,93.6 419.4,97.5 420.1,100.4 420.9,102.1 421.7,103.9 422.4,105.2 423.2,105.8 424.2,106.3 426.3,106.5 428.5,106.2 430.7,109.2 432.9,113.2 435.1,119.1 437.2,124.6 439.4,121.5 441.6,117.7 443.8,122.9 446,124.8 448.2,117.7 450.4,117.4 452.6,123.3 454.8,127.1 457,128.2 459.2,131.4 461.4,135.4 463.6,130.3 465.8,124.9 468,126.8 470.2,127.3 472.4,128.3 474.6,129.3 476.8,131.4 479,132.4 481.2,130.4 483.4,131.0 485.6,132.7 487.8,135.1 490,138.6 492.2,140.8 494.4,141.5 496.6,142.7 498.8,141.7 501,143.2 503.2,145.0 505.4,137.5 507.6,135.5 509.8,139.3 512,143.2 514.2,141.6 516.4,131.5 518.6,123.7 520.8,123.9 523,127.4 525.2,133.5 527.4,132.7 529.6,134.6 531.8,140.4 534,139.7 536.2,134.2 538.4,121.1 540.6,113.3 542.8,119.7 545,140.2 547.2,139.3 549.4,131.8 551.6,126.6 553.8,128.8 556,134.7 558.2,131.6 560.4,120.9 562.6,123.6 564.8,134.7 567,142.6 569.2,149.0 571.4,149.2 573.6,142.8 575.8,139.3 578,139.9 580.2,138.1 582.4,135.1 584.6,133.8 586.8,130.9 589,124.4 591.2,123.1 593.4,127.2 595.6,126.1 597.8,121.6 600,120.6 602.2,124.5 604.4,130.3 606.6,132.9 608.8,134.4 611,130.2 613.2,115.0 615.4,108.9 617.6,111.8 619.8,109.2 622,113.6 624.2,123.3 626.4,132.9 628.6,134.8 630.8,134.8 633,138.9 635.2,145.1 637.4,145.4 639.6,142.6 641.8,142.6 644,143.3 646.2,138.1 648.4,128.0 650.6,121.5 652.8,120.0 655,127.4 657.2,135.4 659.4,133.1 661.6,129.0 663.8,130.7 666,130.7 667.7,126.1" fill="none" stroke="#2ca02c" stroke-width="0.60" stroke-opacity="0.38" stroke-dasharray="0.8,0.7" stroke-linecap="butt" stroke-linejoin="round"/>
<polyline points="413,32.0 413.8,34.8 414.5,36.7 415.3,38.2 416.1,39.7 416.8,40.0 417.6,40.3 418.4,40.3 419.2,40.3 419.9,40.4 420.7,40.9 421.5,41.5 422.2,42.0 423,42.6 424,43.3 426.2,44.8 428.4,46.2 430.6,47.7 432.8,49.6 435,51.8 437.2,54.1 439.4,56.4 441.6,59.6 443.8,62.8 446,65.7 448.2,68.1 450.4,70.5 452.6,72.9 454.8,75.4 457,78.3 459.2,81.3 461.4,85.0 463.6,88.6 465.8,92.0 468,95.6 470.2,99.0 472.4,102.5 474.6,105.4 476.8,108.2 479,111.9 481.2,115.0 483.4,118.0 485.6,121.0 487.8,122.5 490,124.9 492.2,127.1 494.4,126.5 496.6,125.6 498.8,126.6 501,127.3 503.2,128.0 505.4,128.8 507.6,127.9 509.8,127.3 512,129.5 514.2,132.2 516.4,131.0 518.6,131.1 520.8,133.7 523,135.3 525.2,135.2 527.4,137.0 529.6,139.7 531.8,141.6 534,142.8 536.2,140.2 538.4,136.0 540.6,135.9 542.8,137.4 545,136.8 547.2,136.2 549.4,138.0 551.6,141.3 553.8,144.4 556,144.5 558.2,142.2 560.4,139.2 562.6,140.4 564.8,143.7 567,144.7 569.2,143.5 571.4,142.4 573.6,143.4 575.8,145.1 578,147.2 580.2,147.7 582.4,144.7 584.6,142.6 586.8,143.7 589,145.8 591.2,146.6 593.4,146.8 595.6,147.8 597.8,149.2 600,151.0 602.2,150.7 604.4,147.5 606.6,146.6 608.8,147.2 611,146.6 613.2,148.5 615.4,152.2 617.6,153.8 619.8,153.8 622,155.0 624.2,157.2 626.4,159.9 628.6,160.7 630.8,156.2 633,152.6 635.2,156.0 637.4,159.7 639.6,157.3 641.8,154.9 644,155.8 646.2,157.2 648.4,157.1 650.6,155.8 652.8,154.9 655,153.8 657.2,153.4 659.4,155.1 661.6,160.9 663.8,166.2 666,165.4 668.2,160.7 668.4,157.1" fill="none" stroke="#d62728" stroke-width="0.60" stroke-opacity="0.50" stroke-dasharray="1.8,0.8" stroke-linecap="butt" stroke-linejoin="round"/>
<polyline points="413,29.9 413.8,31.5 414.5,32.3 415.3,32.8 416.1,33.2 416.8,34.0 417.6,34.8 418.4,35.3 419.2,35.8 419.9,36.3 420.7,36.8 421.5,37.3 422.2,37.8 423,38.2 424,38.8 426.2,40.0 428.4,41.2 430.6,42.7 432.8,45.3 435,48.3 437.2,51.4 439.4,54.4 441.6,57.3 443.8,59.7 446,61.9 448.2,63.6 450.4,65.3 452.6,67.0 454.8,68.8 457,71.0 459.2,73.3 461.4,76.5 463.6,80.2 465.8,83.6 468,86.9 470.2,90.2 472.4,92.8 474.6,95.4 476.8,98.8 479,101.7 481.2,103.7 483.4,106.3 485.6,109.7 487.8,110.4 490,110.6 492.2,113.6 494.4,116.9 496.6,117.8 498.8,117.5 501,116.4 503.2,114.9 505.4,114.4 507.6,117.7 509.8,122.4 512,123.3 514.2,120.8 516.4,119.4 518.6,123.0 520.8,126.0 523,125.0 525.2,123.6 527.4,124.2 529.6,125.3 531.8,126.9 534,129.7 536.2,129.6 538.4,127.7 540.6,126.4 542.8,125.8 545,125.6 547.2,125.1 549.4,125.5 551.6,126.7 553.8,127.6 556,129.7 558.2,134.4 560.4,135.3 562.6,131.0 564.8,128.8 567,126.9 569.2,123.4 571.4,122.5 573.6,127.0 575.8,132.1 578,131.6 580.2,130.4 582.4,132.9 584.6,134.4 586.8,131.6 589,129.6 591.2,131.0 593.4,132.2 595.6,133.3 597.8,136.9 600,139.1 602.2,137.1 604.4,133.6 606.6,129.5 608.8,130.6 611,135.0 613.2,136.4 615.4,135.1 617.6,136.3 619.8,139.3 622,140.0 624.2,138.9 626.4,140.1 628.6,141.4 630.8,139.2 633,137.5 635.2,138.2 637.4,138.1 639.6,134.2 641.8,133.6 644,136.9 646.2,140.1 648.4,142.5 650.6,142.7 652.8,141.1 655,138.8 657.2,138.2 659.4,140.5 661.6,142.3 663.8,142.2 666,142.3 668.2,142.1" fill="none" stroke="#d62728" stroke-width="0.60" stroke-opacity="0.50" stroke-dasharray="1.8,0.8" stroke-linecap="butt" stroke-linejoin="round"/>
<polyline points="413,33.4 413.8,36.0 414.5,37.8 415.3,39.2 416.1,40.6 416.8,42.5 417.6,44.4 418.4,46.0 419.2,47.6 419.9,49.2 420.7,49.6 421.5,49.9 422.2,50.3 423,50.6 424,51.0 426.2,51.8 428.4,52.6 430.6,53.4 432.8,54.1 435,55.3 437.2,56.5 439.4,57.8 441.6,60.9 443.8,64.4 446,67.6 448.2,70.4 450.4,73.1 452.6,75.8 454.8,78.6 457,81.8 459.2,85.0 461.4,88.4 463.6,91.7 465.8,95.1 468,98.9 470.2,102.4 472.4,105.1 474.6,107.0 476.8,109.0 479,111.8 481.2,115.2 483.4,119.2 485.6,122.8 487.8,124.3 490,125.9 492.2,128.0 494.4,130.3 496.6,131.4 498.8,131.9 501,134.3 503.2,135.6 505.4,134.9 507.6,136.4 509.8,141.7 512,144.5 514.2,144.0 516.4,143.0 518.6,142.5 520.8,142.7 523,143.3 525.2,145.4 527.4,146.9 529.6,147.2 531.8,148.8 534,151.7 536.2,151.5 538.4,147.4 540.6,145.9 542.8,146.7 545,146.8 547.2,146.6 549.4,146.3 551.6,147.2 553.8,149.5 556,149.6 558.2,148.8 560.4,150.0 562.6,151.3 564.8,151.0 567,149.8 569.2,149.9 571.4,151.0 573.6,150.9 575.8,148.9 578,149.8 580.2,156.2 582.4,161.5 584.6,163.8 586.8,160.2 589,156.8 591.2,157.7 593.4,159.5 595.6,161.7 597.8,164.8 600,166.4 602.2,164.1 604.4,163.4 606.6,167.2 608.8,170.7 611,170.7 613.2,167.2 615.4,163.8 617.6,164.7 619.8,166.1 622,164.9 624.2,163.6 626.4,164.3 628.6,165.3 630.8,165.0 633,165.0 635.2,165.7 637.4,166.6 639.6,165.8 641.8,163.5 644,162.1 646.2,163.5 648.4,166.5 650.6,170.0 652.8,170.6 655,168.6 657.2,169.9 659.4,172.0 661.6,172.2 663.8,168.9 666,165.3 667.3,166.2" fill="none" stroke="#d62728" stroke-width="0.60" stroke-opacity="0.50" stroke-dasharray="1.8,0.8" stroke-linecap="butt" stroke-linejoin="round"/>
<polyline points="413,32.7 413.8,35.3 414.5,37.1 415.3,38.5 416.1,39.9 416.8,41.0 417.6,42.0 418.4,42.7 419.2,43.4 419.9,44.2 420.7,44.8 421.5,45.4 422.2,46.0 423,46.6 424,47.3 426.2,48.9 428.4,50.5 430.6,52.9 432.8,57.5 435,62.5 437.2,67.6 439.4,72.7 441.6,75.8 443.8,78.0 446,79.8 448.2,81.2 450.4,82.5 452.6,83.9 454.8,85.3 457,87.2 459.2,89.0 461.4,91.2 463.6,93.4 465.8,95.6 468,97.7 470.2,99.6 472.4,101.9 474.6,103.8 476.8,105.2 479,107.3 481.2,109.6 483.4,111.5 485.6,113.1 487.8,115.7 490,119.5 492.2,122.6 494.4,124.0 496.6,124.2 498.8,125.0 501,127.2 503.2,128.3 505.4,126.8 507.6,125.4 509.8,126.2 512,126.6 514.2,128.4 516.4,133.2 518.6,138.6 520.8,141.2 523,142.0 525.2,144.5 527.4,146.5 529.6,144.6 531.8,144.2 534,145.3 536.2,144.8 538.4,144.7 540.6,146.3 542.8,145.9 545,144.4 547.2,144.2 549.4,144.4 551.6,144.7 553.8,143.8 556,141.9 558.2,143.2 560.4,145.9 562.6,145.9 564.8,144.4 567,144.7 569.2,146.0 571.4,148.3 573.6,149.8 575.8,149.0 578,149.6 580.2,151.2 582.4,150.5 584.6,149.6 586.8,149.7 589,149.7 591.2,149.4 593.4,151.4 595.6,153.6 597.8,153.5 600,152.1 602.2,150.7 604.4,149.2 606.6,149.0 608.8,150.3 611,151.6 613.2,154.0 615.4,156.8 617.6,158.4 619.8,158.3 622,159.4 624.2,159.6 626.4,159.8 628.6,159.4 630.8,158.1 633,154.4 635.2,152.7 637.4,155.3 639.6,154.3 641.8,151.2 644,149.1 646.2,148.6 648.4,152.4 650.6,158.7 652.8,160.6 655,158.4 657.2,155.7 659.4,155.3 661.6,157.9 663.8,163.5 666,166.7 668.2,163.3 668.5,157.3" fill="none" stroke="#d62728" stroke-width="0.60" stroke-opacity="0.50" stroke-dasharray="1.8,0.8" stroke-linecap="butt" stroke-linejoin="round"/>
<polyline points="413,31.2 413.8,33.6 414.5,35.1 415.3,36.2 416.1,37.4 416.8,39.2 417.6,40.9 418.4,42.4 419.2,43.8 419.9,45.3 420.7,46.4 421.5,47.4 422.2,48.5 423,49.5 424,50.8 426.2,53.7 428.4,56.6 430.6,59.0 432.8,60.5 435,62.5 437.2,64.5 439.4,66.5 441.6,68.9 443.8,71.1 446,73.1 448.2,74.6 450.4,76.1 452.6,77.6 454.8,79.2 457,81.2 459.2,83.0 461.4,85.4 463.6,88.0 465.8,90.2 468,92.7 470.2,95.2 472.4,97.7 474.6,99.9 476.8,102.9 479,106.2 481.2,109.0 483.4,111.6 485.6,113.5 487.8,115.5 490,118.0 492.2,119.3 494.4,120.5 496.6,123.3 498.8,126.6 501,128.6 503.2,130.2 505.4,134.1 507.6,139.0 509.8,138.5 512,135.9 514.2,137.7 516.4,141.8 518.6,146.1 520.8,149.3 523,149.5 525.2,148.1 527.4,150.0 529.6,155.1 531.8,159.0 534,159.0 536.2,158.3 538.4,156.1 540.6,153.7 542.8,155.0 545,157.2 547.2,157.2 549.4,154.8 551.6,152.4 553.8,153.2 556,156.9 558.2,160.6 560.4,162.0 562.6,162.1 564.8,161.4 567,161.8 569.2,161.4 571.4,161.3 573.6,160.9 575.8,161.1 578,163.5 580.2,165.6 582.4,166.6 584.6,165.2 586.8,162.5 589,163.5 591.2,166.8 593.4,168.8 595.6,166.7 597.8,163.3 600,164.0 602.2,166.2 604.4,168.6 606.6,172.3 608.8,175.2 611,174.9 613.2,173.4 615.4,174.6 617.6,175.1 619.8,174.2 622,175.2 624.2,175.5 626.4,174.9 628.6,172.4 630.8,171.2 633,173.6 635.2,174.7 637.4,175.1 639.6,174.3 641.8,172.9 644,172.3 646.2,169.7 648.4,166.0 650.6,166.4 652.8,170.1 655,172.5 657.2,174.5 659.4,177.5 661.6,179.0 663.8,178.5 666,176.3 667.6,173.2" fill="none" stroke="#d62728" stroke-width="0.60" stroke-opacity="0.50" stroke-dasharray="1.8,0.8" stroke-linecap="butt" stroke-linejoin="round"/>
<polyline points="413,30.6 413.8,32.6 414.5,33.8 415.3,34.6 416.1,35.5 416.8,37.3 417.6,39.1 418.4,40.6 419.2,42.1 419.9,43.6 420.7,44.3 421.5,45.0 422.2,45.7 423,46.4 424,47.2 426.2,49.0 428.4,50.8 430.6,52.2 432.8,53.1 435,54.5 437.2,55.8 439.4,57.2 441.6,60.3 443.8,63.8 446,67.0 448.2,69.7 450.4,72.4 452.6,75.2 454.8,77.9 457,81.1 459.2,84.2 461.4,87.7 463.6,91.4 465.8,94.8 468,98.4 470.2,102.3 472.4,105.9 474.6,109.0 476.8,111.2 479,113.5 481.2,115.7 483.4,118.0 485.6,121.0 487.8,123.0 490,123.5 492.2,123.8 494.4,124.4 496.6,123.7 498.8,124.1 501,126.1 503.2,127.7 505.4,128.7 507.6,130.7 509.8,131.1 512,129.0 514.2,131.0 516.4,137.1 518.6,140.3 520.8,137.8 523,133.2 525.2,131.0 527.4,131.2 529.6,131.0 531.8,130.8 534,133.1 536.2,136.6 538.4,138.9 540.6,141.5 542.8,141.7 545,140.4 547.2,139.6 549.4,138.1 551.6,138.1 553.8,138.7 556,137.9 558.2,138.3 560.4,139.4 562.6,141.4 564.8,145.4 567,148.1 569.2,147.6 571.4,146.0 573.6,145.2 575.8,146.7 578,146.8 580.2,143.0 582.4,140.1 584.6,140.1 586.8,140.9 589,141.7 591.2,143.0 593.4,144.7 595.6,145.9 597.8,145.9 600,145.8 602.2,146.0 604.4,147.1 606.6,150.0 608.8,151.8 611,152.8 613.2,154.1 615.4,155.1 617.6,154.3 619.8,152.6 622,152.5 624.2,153.6 626.4,154.1 628.6,155.3 630.8,157.4 633,157.3 635.2,158.3 637.4,159.4 639.6,157.9 641.8,158.1 644,160.1 646.2,159.6 648.4,159.5 650.6,161.3 652.8,160.4 655,156.9 657.2,155.6 659.4,157.4 661.6,158.7 663.8,160.5 666,163.9 667.8,167.6" fill="none" stroke="#d62728" stroke-width="0.60" stroke-opacity="0.50" stroke-dasharray="1.8,0.8" stroke-linecap="butt" stroke-linejoin="round"/>
<polyline points="413,33.7 413.8,36.5 414.5,38.6 415.3,40.2 416.1,41.9 416.8,44.3 417.6,46.7 418.4,48.7 419.2,50.8 419.9,52.8 420.7,53.3 421.5,53.6 422.2,53.9 423,54.2 424,54.5 426.2,55.3 428.4,56.0 430.6,57.9 432.8,63.0 435,68.7 437.2,74.4 439.4,80.1 441.6,83.4 443.8,85.7 446,87.7 448.2,89.1 450.4,90.6 452.6,92.0 454.8,93.6 457,95.5 459.2,97.5 461.4,100.4 463.6,103.7 465.8,106.8 468,110.2 470.2,113.4 472.4,116.5 474.6,120.1 476.8,122.9 479,124.4 481.2,126.5 483.4,128.9 485.6,130.2 487.8,132.2 490,135.9 492.2,139.2 494.4,141.1 496.6,142.0 498.8,141.2 501,140.1 503.2,140.3 505.4,140.7 507.6,141.3 509.8,141.9 512,143.5 514.2,146.7 516.4,148.7 518.6,149.9 520.8,149.8 523,149.3 525.2,152.5 527.4,157.1 529.6,157.9 531.8,155.4 534,153.0 536.2,154.4 538.4,157.0 540.6,157.3 542.8,154.9 545,154.3 547.2,155.3 549.4,155.7 551.6,155.0 553.8,156.8 556,159.9 558.2,160.2 560.4,157.4 562.6,158.9 564.8,162.9 567,162.0 569.2,158.7 571.4,157.2 573.6,159.8 575.8,163.5 578,166.2 580.2,167.4 582.4,166.4 584.6,165.8 586.8,165.8 589,164.8 591.2,163.3 593.4,162.5 595.6,164.4 597.8,166.4 600,165.9 602.2,167.6 604.4,170.4 606.6,169.5 608.8,168.6 611,169.6 613.2,171.5 615.4,175.6 617.6,177.5 619.8,175.6 622,172.9 624.2,171.5 626.4,174.4 628.6,175.9 630.8,172.2 633,169.3 635.2,172.0 637.4,176.2 639.6,176.3 641.8,174.1 644,171.6 646.2,170.4 648.4,170.1 650.6,172.0 652.8,175.1 655,177.0 657.2,176.8 659.4,174.5 661.6,173.6 663.8,176.4 666,180.5 668,180.2" fill="none" stroke="#d62728" stroke-width="0.60" stroke-opacity="0.50" stroke-dasharray="1.8,0.8" stroke-linecap="butt" stroke-linejoin="round"/>
<polyline points="413,32.3 413.8,35.2 414.5,37.3 415.3,39.0 416.1,40.6 416.8,41.1 417.6,41.6 418.4,41.9 419.2,42.1 419.9,42.3 420.7,44.0 421.5,45.8 422.2,47.7 423,49.5 424,51.8 426.2,57.0 428.4,62.1 430.6,65.6 432.8,65.0 435,64.9 437.2,64.9 439.4,64.8 441.6,67.6 443.8,71.1 446,74.4 448.2,77.1 450.4,79.9 452.6,82.6 454.8,85.5 457,88.7 459.2,91.9 461.4,95.0 463.6,97.9 465.8,100.6 468,103.4 470.2,106.4 472.4,109.4 474.6,112.0 476.8,114.3 479,116.7 481.2,119.8 483.4,122.6 485.6,125.0 487.8,127.0 490,128.2 492.2,128.8 494.4,130.6 496.6,133.0 498.8,134.4 501,134.8 503.2,135.9 505.4,137.9 507.6,138.9 509.8,138.7 512,140.8 514.2,144.7 516.4,147.4 518.6,146.4 520.8,144.9 523,145.2 525.2,143.4 527.4,142.1 529.6,144.7 531.8,146.1 534,145.0 536.2,144.7 538.4,146.0 540.6,145.7 542.8,144.0 545,143.4 547.2,143.8 549.4,143.6 551.6,144.8 553.8,146.3 556,145.7 558.2,147.1 560.4,147.1 562.6,143.8 564.8,142.1 567,142.4 569.2,143.5 571.4,146.8 573.6,148.5 575.8,148.0 578,149.3 580.2,151.5 582.4,151.0 584.6,149.9 586.8,150.9 589,154.8 591.2,160.6 593.4,165.1 595.6,167.0 597.8,165.2 600,162.4 602.2,163.4 604.4,164.6 606.6,164.5 608.8,166.0 611,168.7 613.2,169.4 615.4,168.4 617.6,166.6 619.8,165.3 622,164.7 624.2,165.7 626.4,168.0 628.6,169.1 630.8,167.3 633,165.2 635.2,165.4 637.4,165.1 639.6,164.4 641.8,163.4 644,161.7 646.2,161.7 648.4,163.7 650.6,168.3 652.8,171.8 655,171.6 657.2,170.1 659.4,170.8 661.6,170.4 663.8,168.7 666,170.8 668.2,175.4 668.3,176.0" fill="none" stroke="#d62728" stroke-width="0.60" stroke-opacity="0.50" stroke-dasharray="1.8,0.8" stroke-linecap="butt" stroke-linejoin="round"/>
<polyline points="413,30.0 413.8,32.5 414.5,34.2 415.3,35.5 416.1,36.7 416.8,37.6 417.6,38.4 418.4,38.9 419.2,39.4 419.9,39.9 420.7,40.1 421.5,40.3 422.2,40.6 423,40.8 424,41.0 426.2,41.5 428.4,42.0 430.6,42.9 432.8,45.0 435,47.5 437.2,50.1 439.4,52.7 441.6,55.6 443.8,58.3 446,60.8 448.2,62.8 450.4,64.7 452.6,66.7 454.8,68.7 457,71.2 459.2,73.6 461.4,76.4 463.6,79.5 465.8,82.2 468,84.7 470.2,87.5 472.4,90.6 474.6,93.2 476.8,95.0 479,96.7 481.2,99.1 483.4,101.9 485.6,103.6 487.8,104.4 490,106.5 492.2,108.8 494.4,110.3 496.6,112.1 498.8,113.1 501,111.2 503.2,109.8 505.4,111.3 507.6,114.0 509.8,116.9 512,118.9 514.2,118.9 516.4,117.2 518.6,117.7 520.8,117.2 523,117.6 525.2,119.8 527.4,121.9 529.6,124.6 531.8,128.0 534,130.1 536.2,131.7 538.4,133.4 540.6,134.4 542.8,133.6 545,133.5 547.2,134.1 549.4,135.3 551.6,139.3 553.8,142.0 556,141.7 558.2,142.8 560.4,143.9 562.6,141.1 564.8,138.7 567,138.7 569.2,140.8 571.4,143.2 573.6,146.7 575.8,148.4 578,147.6 580.2,147.6 582.4,148.8 584.6,150.3 586.8,148.2 589,144.4 591.2,143.0 593.4,144.1 595.6,146.5 597.8,149.4 600,150.3 602.2,148.2 604.4,146.3 606.6,147.2 608.8,151.1 611,154.3 613.2,152.9 615.4,150.1 617.6,152.0 619.8,154.5 622,154.6 624.2,153.4 626.4,154.3 628.6,156.8 630.8,158.3 633,157.5 635.2,155.2 637.4,152.7 639.6,151.6 641.8,152.5 644,152.7 646.2,151.3 648.4,149.9 650.6,150.8 652.8,153.5 655,152.2 657.2,149.3 659.4,151.0 661.6,155.5 663.8,158.9 666,159.3 667.9,159.1" fill="none" stroke="#d62728" stroke-width="0.60" stroke-opacity="0.50" stroke-dasharray="1.8,0.8" stroke-linecap="butt" stroke-linejoin="round"/>
<polyline points="413,32.7 413.8,34.4 414.5,35.2 415.3,35.7 416.1,36.2 416.8,37.8 417.6,39.3 418.4,40.6 419.2,41.8 419.9,43.1 420.7,43.4 421.5,43.7 422.2,44.0 423,44.3 424,44.6 426.2,45.2 428.4,45.9 430.6,47.3 432.8,50.8 435,54.9 437.2,58.9 439.4,63.0 441.6,66.6 443.8,69.7 446,72.4 448.2,74.7 450.4,77.0 452.6,79.3 454.8,81.7 457,84.4 459.2,87.1 461.4,90.0 463.6,92.8 465.8,95.4 468,98.0 470.2,100.8 472.4,103.5 474.6,105.9 476.8,107.7 479,110.0 481.2,113.3 483.4,116.1 485.6,117.5 487.8,118.6 490,120.8 492.2,122.3 494.4,121.1 496.6,120.0 498.8,120.9 501,122.6 503.2,124.5 505.4,126.0 507.6,128.3 509.8,131.1 512,132.8 514.2,133.7 516.4,132.4 518.6,130.2 520.8,129.5 523,130.8 525.2,131.3 527.4,130.4 529.6,130.2 531.8,131.9 534,135.3 536.2,137.9 538.4,137.6 540.6,136.9 542.8,137.4 545,138.1 547.2,136.6 549.4,134.4 551.6,134.6 553.8,136.4 556,137.0 558.2,138.5 560.4,140.6 562.6,140.1 564.8,139.0 567,139.2 569.2,140.8 571.4,143.1 573.6,144.7 575.8,146.5 578,149.7 580.2,151.1 582.4,148.6 584.6,146.0 586.8,147.4 589,150.6 591.2,149.2 593.4,145.9 595.6,145.2 597.8,145.5 600,145.1 602.2,146.0 604.4,148.6 606.6,150.6 608.8,151.3 611,153.1 613.2,157.9 615.4,161.3 617.6,159.4 619.8,157.2 622,158.2 624.2,159.4 626.4,160.1 628.6,158.9 630.8,157.2 633,157.7 635.2,159.4 637.4,162.0 639.6,163.8 641.8,164.4 644,163.9 646.2,160.8 648.4,158.6 650.6,160.5 652.8,164.4 655,166.5 657.2,165.8 659.4,166.9 661.6,169.7 663.8,172.1 666,172.5 667.3,171.9" fill="none" stroke="#d62728" stroke-width="0.60" stroke-opacity="0.50" stroke-dasharray="1.8,0.8" stroke-linecap="butt" stroke-linejoin="round"/>
<polyline points="413,32.0 413.8,35.2 414.5,37.6 415.3,39.6 416.1,41.6 416.8,43.7 417.6,45.9 418.4,47.7 419.2,49.5 419.9,51.4 420.7,52.1 421.5,52.6 422.2,53.2 423,53.7 424,54.3 426.2,55.7 428.4,57.2 430.6,58.6 432.8,60.3 435,62.5 437.2,64.6 439.4,66.8 441.6,70.3 443.8,74.0 446,77.3 448.2,80.2 450.4,83.1 452.6,86.0 454.8,89.0 457,92.3 459.2,95.7 461.4,99.0 463.6,102.4 465.8,105.7 468,109.1 470.2,112.3 472.4,115.1 474.6,118.0 476.8,121.3 479,124.1 481.2,125.9 483.4,127.1 485.6,128.3 487.8,128.8 490,130.2 492.2,133.0 494.4,134.4 496.6,133.1 498.8,132.3 501,134.9 503.2,138.1 505.4,139.2 507.6,139.7 509.8,138.1 512,136.0 514.2,137.5 516.4,139.4 518.6,140.5 520.8,140.5 523,140.0 525.2,141.0 527.4,144.0 529.6,142.4 531.8,138.2 534,137.4 536.2,139.9 538.4,142.9 540.6,145.1 542.8,146.0 545,145.5 547.2,146.7 549.4,149.5 551.6,149.1 553.8,145.7 556,145.4 558.2,149.4 560.4,151.4 562.6,150.5 564.8,150.9 567,149.8 569.2,145.4 571.4,142.1 573.6,143.0 575.8,147.7 578,151.8 580.2,153.5 582.4,153.1 584.6,153.2 586.8,152.1 589,151.1 591.2,152.2 593.4,153.2 595.6,153.1 597.8,152.6 600,152.4 602.2,153.7 604.4,158.3 606.6,163.2 608.8,163.4 611,162.1 613.2,163.6 615.4,165.2 617.6,161.6 619.8,157.5 622,158.2 624.2,159.3 626.4,159.9 628.6,160.7 630.8,161.2 633,161.0 635.2,160.8 637.4,163.2 639.6,164.5 641.8,161.5 644,156.3 646.2,153.9 648.4,157.7 650.6,163.5 652.8,163.0 655,158.8 657.2,157.2 659.4,159.5 661.6,163.2 663.8,163.8 666,160.3 668.1,159.6" fill="none" stroke="#d62728" stroke-width="0.60" stroke-opacity="0.50" stroke-dasharray="1.8,0.8" stroke-linecap="butt" stroke-linejoin="round"/>
<polyline points="413,32.0 413.8,34.7 414.5,36.6 415.3,38.1 416.1,39.5 416.8,40.4 417.6,41.2 418.4,41.7 419.2,42.3 419.9,42.8 420.7,44.0 421.5,45.3 422.2,46.5 423,47.8 424,49.3 426.2,52.8 428.4,56.2 430.6,58.8 432.8,59.6 435,60.9 437.2,62.2 439.4,63.5 441.6,66.1 443.8,68.8 446,71.4 448.2,73.4 450.4,75.4 452.6,77.4 454.8,79.4 457,81.9 459.2,84.3 461.4,87.4 463.6,90.9 465.8,94.2 468,97.5 470.2,101.1 472.4,105.0 474.6,108.0 476.8,110.6 479,113.2 481.2,115.1 483.4,116.9 485.6,119.3 487.8,121.1 490,122.0 492.2,122.3 494.4,124.8 496.6,128.9 498.8,132.2 501,132.9 503.2,131.9 505.4,130.0 507.6,128.6 509.8,128.6 512,130.4 514.2,133.7 516.4,135.7 518.6,135.6 520.8,136.4 523,140.2 525.2,144.8 527.4,147.2 529.6,147.0 531.8,145.9 534,144.9 536.2,144.9 538.4,144.8 540.6,145.0 542.8,148.1 545,150.4 547.2,151.2 549.4,153.2 551.6,154.0 553.8,153.4 556,154.1 558.2,156.8 560.4,155.8 562.6,152.6 564.8,151.1 567,149.2 569.2,149.8 571.4,152.9 573.6,154.2 575.8,152.8 578,151.0 580.2,149.6 582.4,147.6 584.6,146.5 586.8,145.5 589,145.4 591.2,148.1 593.4,150.6 595.6,151.2 597.8,148.5 600,144.6 602.2,145.2 604.4,149.0 606.6,151.9 608.8,152.4 611,153.3 613.2,154.6 615.4,152.3 617.6,152.0 619.8,156.1 622,155.4 624.2,150.0 626.4,146.9 628.6,148.4 630.8,151.2 633,151.4 635.2,150.1 637.4,151.5 639.6,152.8 641.8,153.6 644,154.7 646.2,154.1 648.4,150.9 650.6,148.8 652.8,150.4 655,155.0 657.2,157.8 659.4,158.3 661.6,159.4 663.8,159.0 666,157.3 667.3,155.7" fill="none" stroke="#d62728" stroke-width="0.60" stroke-opacity="0.50" stroke-dasharray="1.8,0.8" stroke-linecap="butt" stroke-linejoin="round"/>
<polyline points="413,29.9 413.8,32.4 414.5,34.0 415.3,35.3 416.1,36.6 416.8,37.6 417.6,38.5 418.4,39.2 419.2,39.9 419.9,40.5 420.7,40.9 421.5,41.3 422.2,41.7 423,42.0 424,42.5 426.2,43.4 428.4,44.3 430.6,45.9 432.8,49.4 435,53.3 437.2,57.3 439.4,61.3 441.6,63.9 443.8,65.8 446,67.3 448.2,68.4 450.4,69.5 452.6,70.6 454.8,71.7 457,73.3 459.2,74.8 461.4,78.0 463.6,82.2 465.8,86.1 468,89.6 470.2,93.1 472.4,97.2 474.6,101.7 476.8,106.2 479,110.6 481.2,113.2 483.4,113.7 485.6,114.1 487.8,115.7 490,117.1 492.2,118.7 494.4,121.9 496.6,124.3 498.8,125.2 501,124.9 503.2,126.8 505.4,130.3 507.6,130.1 509.8,128.0 512,127.4 514.2,129.6 516.4,134.0 518.6,137.6 520.8,138.1 523,139.0 525.2,140.3 527.4,140.1 529.6,140.2 531.8,138.2 534,135.8 536.2,138.2 538.4,138.8 540.6,133.8 542.8,130.4 545,133.3 547.2,135.4 549.4,132.4 551.6,132.1 553.8,136.8 556,139.7 558.2,140.6 560.4,141.5 562.6,143.6 564.8,143.4 567,140.2 569.2,138.4 571.4,140.3 573.6,143.6 575.8,145.6 578,146.4 580.2,146.8 582.4,147.4 584.6,147.0 586.8,144.8 589,146.3 591.2,147.3 593.4,146.4 595.6,148.0 597.8,152.0 600,155.8 602.2,157.6 604.4,154.5 606.6,151.9 608.8,152.3 611,153.2 613.2,154.1 615.4,155.1 617.6,156.2 619.8,156.5 622,158.6 624.2,162.4 626.4,163.6 628.6,164.0 630.8,163.9 633,162.3 635.2,161.4 637.4,160.6 639.6,158.3 641.8,157.1 644,157.0 646.2,156.6 648.4,156.0 650.6,153.1 652.8,151.5 655,155.0 657.2,157.6 659.4,158.2 661.6,159.1 663.8,159.8 666,159.8 667.8,161.0" fill="none" stroke="#d62728" stroke-width="0.60" stroke-opacity="0.50" stroke-dasharray="1.8,0.8" stroke-linecap="butt" stroke-linejoin="round"/>
<polyline points="413,35.3 413.8,38.7 414.5,41.3 415.3,43.6 416.1,45.8 416.8,47.8 417.6,49.9 418.4,51.6 419.2,53.4 419.9,55.1 420.7,55.3 421.5,55.4 422.2,55.4 423,55.4 424,55.4 426.2,55.4 428.4,55.3 430.6,56.4 432.8,60.6 435,65.3 437.2,70.0 439.4,74.7 441.6,78.2 443.8,81.0 446,83.5 448.2,85.5 450.4,87.5 452.6,89.5 454.8,91.5 457,94.1 459.2,96.7 461.4,99.5 463.6,102.2 465.8,104.4 468,106.4 470.2,108.7 472.4,111.3 474.6,113.7 476.8,115.8 479,117.6 481.2,119.7 483.4,122.9 485.6,125.9 487.8,127.8 490,131.0 492.2,134.8 494.4,137.0 496.6,139.2 498.8,140.6 501,140.0 503.2,140.0 505.4,141.1 507.6,143.3 509.8,146.6 512,149.9 514.2,152.7 516.4,154.3 518.6,155.3 520.8,157.8 523,161.4 525.2,161.4 527.4,158.0 529.6,156.8 531.8,157.5 534,157.3 536.2,159.8 538.4,163.9 540.6,163.1 542.8,158.3 545,158.0 547.2,160.3 549.4,158.7 551.6,155.9 553.8,157.7 556,159.3 558.2,159.2 560.4,159.6 562.6,160.5 564.8,160.7 567,159.1 569.2,156.1 571.4,154.0 573.6,154.6 575.8,157.6 578,161.8 580.2,163.6 582.4,162.5 584.6,162.0 586.8,161.7 589,161.6 591.2,161.1 593.4,160.6 595.6,160.3 597.8,159.3 600,160.0 602.2,162.9 604.4,164.8 606.6,166.1 608.8,169.8 611,172.4 613.2,172.8 615.4,173.7 617.6,172.6 619.8,169.2 622,169.6 624.2,171.5 626.4,169.8 628.6,167.8 630.8,170.0 633,173.2 635.2,174.5 637.4,173.5 639.6,171.7 641.8,171.2 644,170.5 646.2,170.0 648.4,173.3 650.6,175.0 652.8,174.6 655,174.2 657.2,172.9 659.4,171.9 661.6,173.9 663.8,176.8 666,175.4 667.4,173.9" fill="none" stroke="#d62728" stroke-width="0.60" stroke-opacity="0.50" stroke-dasharray="1.8,0.8" stroke-linecap="butt" stroke-linejoin="round"/>
<polyline points="413,29.3 413.8,32.6 414.5,35.0 415.3,37.1 416.1,39.0 416.8,40.0 417.6,41.0 418.4,41.7 419.2,42.3 419.9,43.0 420.7,42.9 421.5,42.6 422.2,42.4 423,42.2 424,41.8 426.2,41.1 428.4,40.3 430.6,40.6 432.8,44.2 435,48.2 437.2,52.2 439.4,56.2 441.6,60.5 443.8,64.6 446,68.5 448.2,71.8 450.4,75.1 452.6,78.4 454.8,81.8 457,85.6 459.2,89.4 461.4,92.2 463.6,94.3 465.8,95.7 468,96.9 470.2,98.2 472.4,99.7 474.6,101.1 476.8,102.5 479,103.9 481.2,105.6 483.4,107.4 485.6,110.1 487.8,113.2 490,116.7 492.2,120.5 494.4,123.5 496.6,125.6 498.8,127.2 501,127.7 503.2,126.6 505.4,125.4 507.6,128.3 509.8,132.5 512,132.5 514.2,133.3 516.4,137.7 518.6,139.9 520.8,139.2 523,141.8 525.2,143.9 527.4,140.7 529.6,135.4 531.8,132.7 534,133.7 536.2,136.0 538.4,138.4 540.6,140.1 542.8,139.9 545,138.6 547.2,136.8 549.4,136.1 551.6,138.0 553.8,139.3 556,137.8 558.2,137.8 560.4,138.2 562.6,137.8 564.8,139.4 567,141.7 569.2,141.6 571.4,141.3 573.6,140.3 575.8,140.0 578,141.6 580.2,142.7 582.4,142.0 584.6,142.6 586.8,145.6 589,147.9 591.2,149.9 593.4,152.3 595.6,153.7 597.8,152.7 600,151.4 602.2,151.9 604.4,154.1 606.6,155.8 608.8,154.3 611,152.2 613.2,152.8 615.4,157.2 617.6,160.2 619.8,159.3 622,158.8 624.2,158.6 626.4,158.4 628.6,159.3 630.8,159.3 633,157.3 635.2,154.6 637.4,154.9 639.6,155.1 641.8,153.5 644,153.5 646.2,155.6 648.4,157.2 650.6,159.1 652.8,161.0 655,159.6 657.2,157.6 659.4,158.8 661.6,160.1 663.8,160.4 666,161.4 668.2,161.0 668.5,160.7" fill="none" stroke="#d62728" stroke-width="0.60" stroke-opacity="0.50" stroke-dasharray="1.8,0.8" stroke-linecap="butt" stroke-linejoin="round"/>
<polyline points="413,32.9 413.8,34.8 414.5,35.9 415.3,36.6 416.1,37.4 416.8,38.5 417.6,39.6 418.4,40.3 419.2,41.1 419.9,41.9 420.7,43.0 421.5,44.1 422.2,45.3 423,46.4 424,47.8 426.2,50.9 428.4,54.0 430.6,56.7 432.8,58.6 435,60.9 437.2,63.1 439.4,65.5 441.6,68.2 443.8,70.8 446,73.1 448.2,74.9 450.4,76.7 452.6,78.6 454.8,80.5 457,82.8 459.2,85.2 461.4,88.1 463.6,91.4 465.8,94.4 468,97.0 470.2,99.4 472.4,102.2 474.6,105.1 476.8,108.3 479,111.1 481.2,112.9 483.4,114.9 485.6,117.4 487.8,119.1 490,120.9 492.2,122.6 494.4,123.4 496.6,124.2 498.8,125.5 501,125.7 503.2,125.8 505.4,125.0 507.6,124.0 509.8,125.8 512,128.7 514.2,129.1 516.4,127.2 518.6,127.0 520.8,128.9 523,132.0 525.2,134.4 527.4,134.5 529.6,134.9 531.8,135.3 534,133.9 536.2,132.0 538.4,132.3 540.6,135.9 542.8,139.7 545,142.8 547.2,142.7 549.4,140.9 551.6,140.8 553.8,143.6 556,145.9 558.2,147.0 560.4,149.4 562.6,153.1 564.8,154.9 567,153.0 569.2,152.7 571.4,153.6 573.6,152.7 575.8,150.9 578,152.0 580.2,154.9 582.4,155.1 584.6,154.8 586.8,153.7 589,153.7 591.2,153.5 593.4,153.8 595.6,157.3 597.8,160.0 600,158.9 602.2,156.6 604.4,155.7 606.6,154.7 608.8,154.8 611,155.7 613.2,156.9 615.4,159.3 617.6,161.6 619.8,161.5 622,160.8 624.2,161.2 626.4,161.9 628.6,163.9 630.8,164.4 633,160.1 635.2,156.1 637.4,155.2 639.6,156.2 641.8,158.7 644,159.4 646.2,158.6 648.4,158.3 650.6,158.1 652.8,157.8 655,158.1 657.2,160.5 659.4,163.1 661.6,164.8 663.8,166.2 666,168.0 667.6,166.8" fill="none" stroke="#d62728" stroke-width="0.60" stroke-opacity="0.50" stroke-dasharray="1.8,0.8" stroke-linecap="butt" stroke-linejoin="round"/>
<polyline points="413,33.6 413.8,36.5 414.5,38.6 415.3,40.3 416.1,42.0 416.8,43.4 417.6,44.9 418.4,46.0 419.2,47.1 419.9,48.3 420.7,49.8 421.5,51.4 422.2,52.9 423,54.5 424,56.5 426.2,60.9 428.4,65.2 430.6,68.3 432.8,68.4 435,69.0 437.2,69.5 439.4,70.1 441.6,73.9 443.8,78.7 446,83.2 448.2,87.2 450.4,91.3 452.6,95.3 454.8,99.3 457,103.8 459.2,108.2 461.4,111.0 463.6,112.7 465.8,113.9 468,114.9 470.2,115.7 472.4,117.2 474.6,119.7 476.8,121.1 479,120.5 481.2,121.0 483.4,124.4 485.6,127.1 487.8,127.9 490,130.2 492.2,133.6 494.4,135.6 496.6,137.8 498.8,140.0 501,140.5 503.2,141.9 505.4,145.4 507.6,147.8 509.8,150.5 512,154.5 514.2,155.8 516.4,156.0 518.6,158.9 520.8,160.6 523,161.3 525.2,164.0 527.4,165.5 529.6,165.4 531.8,167.0 534,167.3 536.2,166.6 538.4,165.0 540.6,163.5 542.8,163.5 545,164.6 547.2,165.9 549.4,168.7 551.6,171.2 553.8,171.8 556,170.4 558.2,170.7 560.4,170.5 562.6,170.0 564.8,170.0 567,170.5 569.2,172.5 571.4,172.4 573.6,172.0 575.8,171.8 578,170.8 580.2,172.0 582.4,175.7 584.6,179.8 586.8,180.1 589,177.9 591.2,176.8 593.4,177.5 595.6,178.5 597.8,179.6 600,178.7 602.2,176.0 604.4,175.2 606.6,177.0 608.8,177.7 611,175.6 613.2,173.8 615.4,175.1 617.6,177.7 619.8,179.3 622,179.4 624.2,180.5 626.4,183.4 628.6,185.9 630.8,186.1 633,181.6 635.2,177.0 637.4,176.9 639.6,176.8 641.8,176.2 644,176.7 646.2,178.0 648.4,177.5 650.6,176.0 652.8,176.3 655,178.6 657.2,179.3 659.4,177.5 661.6,175.0 663.8,172.5 666,174.1 667.3,179.1" fill="none" stroke="#d62728" stroke-width="0.60" stroke-opacity="0.50" stroke-dasharray="1.8,0.8" stroke-linecap="butt" stroke-linejoin="round"/>
<polyline points="413,31.7 413.8,34.3 414.5,36.1 415.3,37.6 416.1,39.0 416.8,40.6 417.6,42.2 418.4,43.6 419.2,44.9 419.9,46.2 420.7,46.5 421.5,46.7 422.2,47.0 423,47.2 424,47.4 426.2,47.9 428.4,48.4 430.6,49.6 432.8,52.8 435,56.4 437.2,60.1 439.4,63.8 441.6,67.2 443.8,70.2 446,72.9 448.2,75.1 450.4,77.3 452.6,79.5 454.8,81.8 457,84.5 459.2,87.1 461.4,89.7 463.6,92.2 465.8,94.3 468,96.5 470.2,98.6 472.4,100.8 474.6,102.6 476.8,104.7 479,107.0 481.2,109.5 483.4,112.1 485.6,114.4 487.8,115.1 490,116.5 492.2,119.6 494.4,123.8 496.6,126.2 498.8,125.9 501,124.3 503.2,124.1 505.4,126.2 507.6,129.8 509.8,133.7 512,134.6 514.2,134.7 516.4,136.4 518.6,140.1 520.8,146.3 523,148.2 525.2,144.7 527.4,143.2 529.6,145.1 531.8,147.9 534,151.2 536.2,152.7 538.4,149.9 540.6,148.0 542.8,151.0 545,155.6 547.2,158.1 549.4,157.7 551.6,156.4 553.8,157.0 556,157.7 558.2,158.9 560.4,159.3 562.6,157.6 564.8,155.5 567,154.1 569.2,155.1 571.4,157.9 573.6,159.1 575.8,159.5 578,162.2 580.2,165.0 582.4,165.8 584.6,166.2 586.8,164.1 589,164.3 591.2,166.3 593.4,164.7 595.6,161.7 597.8,162.9 600,165.6 602.2,166.0 604.4,164.0 606.6,160.7 608.8,161.0 611,163.4 613.2,164.1 615.4,165.0 617.6,167.2 619.8,167.8 622,167.8 624.2,168.1 626.4,169.5 628.6,170.6 630.8,171.2 633,168.1 635.2,163.8 637.4,163.1 639.6,163.3 641.8,163.6 644,162.4 646.2,162.5 648.4,161.3 650.6,160.4 652.8,162.0 655,163.2 657.2,164.6 659.4,165.6 661.6,163.9 663.8,165.1 666,167.6 668,168.0" fill="none" stroke="#d62728" stroke-width="0.60" stroke-opacity="0.50" stroke-dasharray="1.8,0.8" stroke-linecap="butt" stroke-linejoin="round"/>
<polyline points="413,30.2 413.8,32.0 414.5,33.0 415.3,33.7 416.1,34.3 416.8,34.9 417.6,35.6 418.4,35.9 419.2,36.2 419.9,36.6 420.7,37.7 421.5,38.9 422.2,40.2 423,41.4 424,43.0 426.2,46.4 428.4,49.8 430.6,52.7 432.8,54.3 435,56.3 437.2,58.3 439.4,60.4 441.6,62.8 443.8,65.1 446,67.1 448.2,68.6 450.4,70.2 452.6,71.7 454.8,73.3 457,75.3 459.2,77.3 461.4,80.4 463.6,83.8 465.8,86.9 468,89.7 470.2,92.9 472.4,96.4 474.6,99.4 476.8,101.5 479,103.5 481.2,106.1 483.4,109.2 485.6,111.1 487.8,112.4 490,114.9 492.2,117.0 494.4,119.3 496.6,120.0 498.8,119.0 501,119.0 503.2,120.8 505.4,122.5 507.6,123.7 509.8,125.3 512,127.0 514.2,128.6 516.4,130.6 518.6,132.2 520.8,132.8 523,133.2 525.2,133.7 527.4,133.8 529.6,133.0 531.8,133.8 534,134.9 536.2,134.0 538.4,133.2 540.6,133.7 542.8,135.6 545,138.6 547.2,139.7 549.4,139.6 551.6,139.0 553.8,137.4 556,136.9 558.2,137.4 560.4,136.1 562.6,136.2 564.8,140.5 567,146.0 569.2,148.5 571.4,147.1 573.6,146.6 575.8,147.9 578,147.5 580.2,147.2 582.4,147.4 584.6,147.8 586.8,149.6 589,149.9 591.2,147.9 593.4,148.4 595.6,151.3 597.8,151.2 600,150.2 602.2,150.8 604.4,150.3 606.6,149.8 608.8,150.9 611,154.4 613.2,157.5 615.4,158.0 617.6,158.4 619.8,160.4 622,163.0 624.2,163.9 626.4,162.0 628.6,160.6 630.8,161.1 633,160.5 635.2,157.9 637.4,156.1 639.6,159.5 641.8,165.8 644,168.7 646.2,167.5 648.4,165.0 650.6,163.3 652.8,163.1 655,163.3 657.2,162.1 659.4,161.2 661.6,163.8 663.8,169.0 666,171.1 667.9,170.6" fill="none" stroke="#d62728" stroke-width="0.60" stroke-opacity="0.50" stroke-dasharray="1.8,0.8" stroke-linecap="butt" stroke-linejoin="round"/>
<polyline points="413,32.4 413.8,36.0 414.5,38.8 415.3,41.2 416.1,43.5 416.8,44.2 417.6,44.8 418.4,45.2 419.2,45.5 419.9,45.9 420.7,47.0 421.5,48.2 422.2,49.5 423,50.7 424,52.2 426.2,55.5 428.4,58.8 430.6,61.7 432.8,63.6 435,66.0 437.2,68.4 439.4,70.8 441.6,73.4 443.8,75.7 446,77.9 448.2,79.5 450.4,81.0 452.6,82.6 454.8,84.3 457,86.4 459.2,88.5 461.4,90.9 463.6,93.0 465.8,94.5 468,96.2 470.2,98.2 472.4,100.6 474.6,102.4 476.8,104.1 479,105.9 481.2,108.1 483.4,110.9 485.6,113.5 487.8,116.6 490,119.7 492.2,121.0 494.4,120.5 496.6,120.5 498.8,121.5 501,122.4 503.2,123.5 505.4,125.6 507.6,127.9 509.8,130.0 512,132.4 514.2,135.7 516.4,136.3 518.6,135.9 520.8,135.7 523,137.5 525.2,142.7 527.4,145.3 529.6,143.3 531.8,143.9 534,146.2 536.2,149.3 538.4,151.2 540.6,149.2 542.8,151.0 545,156.4 547.2,159.5 549.4,157.8 551.6,153.0 553.8,150.7 556,152.8 558.2,155.1 560.4,155.4 562.6,155.6 564.8,156.0 567,157.9 569.2,160.1 571.4,158.8 573.6,157.7 575.8,157.7 578,157.5 580.2,157.8 582.4,157.2 584.6,157.0 586.8,159.2 589,161.8 591.2,162.7 593.4,162.7 595.6,160.8 597.8,159.4 600,160.5 602.2,162.2 604.4,162.4 606.6,160.2 608.8,158.6 611,158.1 613.2,159.0 615.4,160.3 617.6,158.7 619.8,157.9 622,159.8 624.2,161.9 626.4,164.6 628.6,166.4 630.8,165.9 633,165.6 635.2,166.0 637.4,165.7 639.6,165.0 641.8,164.5 644,161.9 646.2,160.7 648.4,162.5 650.6,163.1 652.8,163.7 655,167.7 657.2,172.0 659.4,171.1 661.6,167.8 663.8,169.8 666,173.4 667.6,173.7" fill="none" stroke="#d62728" stroke-width="0.60" stroke-opacity="0.50" stroke-dasharray="1.8,0.8" stroke-linecap="butt" stroke-linejoin="round"/>
<polyline points="413,31.9 413.8,35.1 414.5,37.4 415.3,39.4 416.1,41.2 416.8,42.2 417.6,43.2 418.4,43.8 419.2,44.5 419.9,45.1 420.7,46.2 421.5,47.3 422.2,48.4 423,49.5 424,50.8 426.2,53.8 428.4,56.8 430.6,59.4 432.8,61.2 435,63.5 437.2,65.8 439.4,68.1 441.6,71.0 443.8,74.0 446,76.7 448.2,78.8 450.4,81.0 452.6,83.1 454.8,85.4 457,88.0 459.2,90.6 461.4,93.3 463.6,95.9 465.8,98.2 468,100.9 470.2,103.8 472.4,106.1 474.6,107.9 476.8,109.8 479,112.1 481.2,115.8 483.4,120.0 485.6,122.0 487.8,122.2 490,121.5 492.2,122.5 494.4,125.8 496.6,126.9 498.8,127.2 501,128.8 503.2,132.1 505.4,133.0 507.6,130.5 509.8,128.1 512,127.0 514.2,127.2 516.4,129.7 518.6,132.5 520.8,132.6 523,131.9 525.2,131.4 527.4,131.4 529.6,132.0 531.8,135.0 534,141.0 536.2,146.1 538.4,145.3 540.6,142.1 542.8,141.8 545,146.8 547.2,152.4 549.4,154.8 551.6,157.0 553.8,158.2 556,156.6 558.2,157.3 560.4,157.9 562.6,156.2 564.8,156.2 567,156.2 569.2,155.2 571.4,156.5 573.6,159.5 575.8,159.5 578,159.1 580.2,159.5 582.4,158.8 584.6,159.8 586.8,161.6 589,163.1 591.2,163.4 593.4,165.3 595.6,166.9 597.8,164.3 600,161.2 602.2,161.8 604.4,163.9 606.6,162.8 608.8,161.5 611,163.9 613.2,165.9 615.4,164.9 617.6,162.8 619.8,163.1 622,164.5 624.2,164.9 626.4,165.3 628.6,164.9 630.8,163.8 633,161.8 635.2,160.4 637.4,157.2 639.6,154.4 641.8,157.6 644,160.9 646.2,160.9 648.4,161.2 650.6,162.7 652.8,160.9 655,156.5 657.2,157.1 659.4,162.9 661.6,165.6 663.8,165.0 666,164.7 667.5,165.9" fill="none" stroke="#d62728" stroke-width="0.60" stroke-opacity="0.50" stroke-dasharray="1.8,0.8" stroke-linecap="butt" stroke-linejoin="round"/>
<polyline points="413,32.1 413.8,33.8 414.5,34.7 415.3,35.2 416.1,35.9 416.8,38.2 417.6,40.4 418.4,42.4 419.2,44.4 419.9,46.4 420.7,46.4 421.5,46.2 422.2,46.0 423,45.8 424,45.4 426.2,44.7 428.4,44.0 430.6,44.2 432.8,47.1 435,50.5 437.2,53.8 439.4,57.2 441.6,61.3 443.8,65.4 446,69.2 448.2,72.5 450.4,75.8 452.6,79.1 454.8,82.5 457,86.3 459.2,90.1 461.4,92.6 463.6,94.0 465.8,95.1 468,96.4 470.2,97.4 472.4,98.4 474.6,99.4 476.8,100.0 479,100.0 481.2,100.7 483.4,103.1 485.6,105.8 487.8,108.1 490,111.2 492.2,113.6 494.4,113.2 496.6,112.1 498.8,113.8 501,116.9 503.2,118.3 505.4,116.1 507.6,115.0 509.8,117.4 512,120.2 514.2,124.0 516.4,127.0 518.6,128.2 520.8,126.5 523,122.9 525.2,121.3 527.4,123.9 529.6,130.0 531.8,135.3 534,135.7 536.2,133.8 538.4,134.2 540.6,136.6 542.8,135.8 545,133.5 547.2,135.1 549.4,137.9 551.6,140.6 553.8,143.2 556,144.6 558.2,142.7 560.4,139.4 562.6,141.7 564.8,146.9 567,146.7 569.2,142.8 571.4,138.9 573.6,138.1 575.8,140.3 578,143.0 580.2,142.6 582.4,140.2 584.6,141.2 586.8,145.2 589,149.9 591.2,152.7 593.4,152.1 595.6,151.4 597.8,151.5 600,150.3 602.2,151.0 604.4,154.3 606.6,156.2 608.8,156.4 611,155.5 613.2,154.3 615.4,155.8 617.6,157.6 619.8,156.4 622,158.7 624.2,162.2 626.4,162.4 628.6,162.1 630.8,162.7 633,161.8 635.2,162.0 637.4,161.5 639.6,158.1 641.8,157.1 644,158.3 646.2,159.9 648.4,161.6 650.6,162.2 652.8,160.5 655,158.8 657.2,159.4 659.4,158.8 661.6,158.8 663.8,161.0 666,163.7 668.2,165.5 668.3,164.9" fill="none" stroke="#d62728" stroke-width="0.60" stroke-opacity="0.50" stroke-dasharray="1.8,0.8" stroke-linecap="butt" stroke-linejoin="round"/>
<polyline points="413,33.5 413.8,36.2 414.5,38.1 415.3,39.6 416.1,41.0 416.8,41.0 417.6,40.9 418.4,40.6 419.2,40.2 419.9,39.9 420.7,41.2 421.5,42.7 422.2,44.3 423,45.8 424,47.7 426.2,51.9 428.4,56.0 430.6,59.1 432.8,59.3 435,60.0 437.2,60.6 439.4,61.3 441.6,63.8 443.8,66.7 446,69.3 448.2,71.5 450.4,73.6 452.6,75.7 454.8,77.9 457,80.4 459.2,83.0 461.4,86.2 463.6,89.7 465.8,92.8 468,96.1 470.2,99.9 472.4,103.4 474.6,106.2 476.8,109.7 479,112.5 481.2,114.2 483.4,115.6 485.6,116.4 487.8,118.4 490,121.3 492.2,122.9 494.4,123.4 496.6,125.7 498.8,129.9 501,132.3 503.2,134.0 505.4,134.3 507.6,133.1 509.8,135.2 512,140.8 514.2,143.3 516.4,141.8 518.6,142.5 520.8,146.1 523,147.0 525.2,145.9 527.4,147.2 529.6,148.6 531.8,146.8 534,144.6 536.2,147.5 538.4,151.1 540.6,151.6 542.8,151.1 545,150.5 547.2,150.6 549.4,151.0 551.6,149.8 553.8,148.5 556,149.4 558.2,153.7 560.4,156.9 562.6,158.0 564.8,158.4 567,158.0 569.2,159.6 571.4,161.2 573.6,161.7 575.8,160.9 578,160.1 580.2,161.0 582.4,162.3 584.6,162.8 586.8,161.7 589,161.8 591.2,160.9 593.4,158.1 595.6,158.5 597.8,160.4 600,160.7 602.2,160.8 604.4,160.3 606.6,159.1 608.8,159.2 611,160.2 613.2,160.9 615.4,163.3 617.6,164.6 619.8,164.0 622,163.5 624.2,164.7 626.4,167.0 628.6,167.0 630.8,162.8 633,160.2 635.2,159.7 637.4,155.7 639.6,150.1 641.8,148.8 644,150.1 646.2,153.6 648.4,158.8 650.6,160.7 652.8,160.1 655,158.1 657.2,155.8 659.4,153.4 661.6,152.9 663.8,156.6 666,160.6 668.2,161.7 668.5,160.3" fill="none" stroke="#d62728" stroke-width="0.60" stroke-opacity="0.50" stroke-dasharray="1.8,0.8" stroke-linecap="butt" stroke-linejoin="round"/>
<polyline points="413,31.7 413.8,34.9 414.5,37.3 415.3,39.4 416.1,41.4 416.8,43.3 417.6,45.1 418.4,46.7 419.2,48.2 419.9,49.8 420.7,50.5 421.5,51.2 422.2,51.9 423,52.5 424,53.3 426.2,55.1 428.4,56.9 430.6,58.3 432.8,58.9 435,60.0 437.2,61.1 439.4,62.2 441.6,65.2 443.8,68.7 446,72.0 448.2,74.7 450.4,77.4 452.6,80.1 454.8,82.9 457,86.1 459.2,89.3 461.4,92.2 463.6,94.9 465.8,97.3 468,99.5 470.2,101.2 472.4,103.4 474.6,105.9 476.8,107.9 479,109.8 481.2,113.1 483.4,117.1 485.6,119.6 487.8,120.6 490,122.4 492.2,125.9 494.4,129.0 496.6,130.8 498.8,131.1 501,131.5 503.2,135.4 505.4,139.3 507.6,140.0 509.8,141.0 512,142.8 514.2,145.1 516.4,146.4 518.6,145.9 520.8,145.8 523,146.1 525.2,146.4 527.4,147.1 529.6,148.9 531.8,149.7 534,150.3 536.2,153.0 538.4,152.8 540.6,151.0 542.8,153.2 545,153.2 547.2,149.3 549.4,146.8 551.6,146.6 553.8,149.7 556,153.4 558.2,156.2 560.4,158.2 562.6,157.5 564.8,153.6 567,150.8 569.2,150.4 571.4,149.6 573.6,148.9 575.8,152.1 578,155.8 580.2,156.2 582.4,154.2 584.6,153.9 586.8,154.4 589,152.0 591.2,149.5 593.4,150.9 595.6,153.4 597.8,154.8 600,155.4 602.2,157.0 604.4,160.5 606.6,161.9 608.8,160.1 611,157.6 613.2,158.3 615.4,162.9 617.6,164.9 619.8,162.9 622,159.5 624.2,156.1 626.4,156.6 628.6,162.3 630.8,166.8 633,167.5 635.2,167.2 637.4,164.7 639.6,161.7 641.8,161.3 644,160.8 646.2,160.4 648.4,162.7 650.6,166.9 652.8,169.2 655,167.8 657.2,167.1 659.4,168.2 661.6,170.0 663.8,171.5 666,172.1 667.9,174.2" fill="none" stroke="#d62728" stroke-width="0.60" stroke-opacity="0.50" stroke-dasharray="1.8,0.8" stroke-linecap="butt" stroke-linejoin="round"/>
<polyline points="413,30.6 413.8,32.4 414.5,33.5 415.3,34.2 416.1,34.7 416.8,34.2 417.6,33.7 418.4,32.8 419.2,32.0 419.9,31.2 420.7,32.4 421.5,33.9 422.2,35.4 423,36.9 424,38.8 426.2,42.9 428.4,47.1 430.6,49.8 432.8,49.0 435,48.7 437.2,48.5 439.4,48.2 441.6,51.5 443.8,56.0 446,60.1 448.2,63.8 450.4,67.4 452.6,71.1 454.8,74.8 457,79.0 459.2,83.2 461.4,86.1 463.6,87.9 465.8,89.6 468,91.6 470.2,93.6 472.4,95.6 474.6,97.8 476.8,99.5 479,100.8 481.2,103.1 483.4,106.0 485.6,108.3 487.8,109.0 490,109.1 492.2,110.9 494.4,114.0 496.6,115.7 498.8,117.7 501,120.1 503.2,122.2 505.4,122.6 507.6,121.6 509.8,124.1 512,128.0 514.2,128.9 516.4,130.0 518.6,132.0 520.8,134.1 523,135.3 525.2,133.2 527.4,132.4 529.6,135.8 531.8,140.0 534,140.6 536.2,136.9 538.4,133.8 540.6,134.6 542.8,134.4 545,136.4 547.2,140.2 549.4,140.3 551.6,137.1 553.8,133.3 556,132.5 558.2,135.0 560.4,136.6 562.6,139.3 564.8,142.2 567,143.0 569.2,142.4 571.4,141.9 573.6,143.8 575.8,146.9 578,146.9 580.2,144.1 582.4,140.5 584.6,139.2 586.8,142.7 589,146.1 591.2,146.0 593.4,145.2 595.6,147.3 597.8,149.0 600,149.0 602.2,146.8 604.4,144.1 606.6,143.2 608.8,143.6 611,142.4 613.2,141.2 615.4,143.2 617.6,147.7 619.8,150.0 622,148.3 624.2,147.8 626.4,149.2 628.6,149.4 630.8,149.3 633,149.4 635.2,149.3 637.4,148.0 639.6,145.8 641.8,144.0 644,143.2 646.2,145.1 648.4,150.1 650.6,152.6 652.8,149.2 655,145.2 657.2,144.4 659.4,147.1 661.6,149.9 663.8,151.4 666,152.1 667.4,151.4" fill="none" stroke="#d62728" stroke-width="0.60" stroke-opacity="0.50" stroke-dasharray="1.8,0.8" stroke-linecap="butt" stroke-linejoin="round"/>
<polyline points="413,29.9 413.8,32.6 414.5,34.4 415.3,35.9 416.1,37.3 416.8,37.6 417.6,38.0 418.4,38.0 419.2,38.1 419.9,38.1 420.7,38.7 421.5,39.4 422.2,40.0 423,40.7 424,41.5 426.2,43.2 428.4,45.0 430.6,46.7 432.8,48.9 435,51.6 437.2,54.2 439.4,56.9 441.6,60.1 443.8,63.3 446,66.1 448.2,68.5 450.4,70.9 452.6,73.2 454.8,75.7 457,78.5 459.2,81.4 461.4,84.5 463.6,87.7 465.8,90.8 468,94.0 470.2,96.9 472.4,99.4 474.6,101.6 476.8,104.3 479,106.7 481.2,108.7 483.4,111.0 485.6,113.0 487.8,114.1 490,114.9 492.2,115.8 494.4,116.7 496.6,116.9 498.8,118.7 501,122.0 503.2,124.7 505.4,126.4 507.6,128.4 509.8,129.0 512,126.5 514.2,124.9 516.4,125.9 518.6,127.1 520.8,126.2 523,125.4 525.2,126.1 527.4,127.8 529.6,129.3 531.8,130.1 534,130.4 536.2,131.7 538.4,130.7 540.6,128.3 542.8,129.2 545,133.0 547.2,134.1 549.4,133.2 551.6,132.9 553.8,132.8 556,135.3 558.2,141.7 560.4,144.7 562.6,144.6 564.8,142.9 567,139.6 569.2,138.2 571.4,139.0 573.6,140.5 575.8,141.8 578,142.3 580.2,143.0 582.4,144.1 584.6,145.8 586.8,146.5 589,146.8 591.2,146.5 593.4,147.7 595.6,149.2 597.8,150.7 600,153.2 602.2,151.8 604.4,149.5 606.6,152.6 608.8,156.7 611,156.1 613.2,155.3 615.4,157.2 617.6,159.8 619.8,160.8 622,158.9 624.2,156.2 626.4,157.9 628.6,161.1 630.8,160.8 633,159.3 635.2,158.1 637.4,154.6 639.6,152.9 641.8,155.1 644,157.1 646.2,158.4 648.4,158.7 650.6,159.1 652.8,159.4 655,158.9 657.2,159.5 659.4,160.6 661.6,161.9 663.8,163.5 666,164.4 668.2,165.9 668.3,168.0" fill="none" stroke="#d62728" stroke-width="0.60" stroke-opacity="0.50" stroke-dasharray="1.8,0.8" stroke-linecap="butt" stroke-linejoin="round"/>
<polyline points="413,32.3 413.8,35.1 414.5,37.1 415.3,38.7 416.1,40.4 416.8,42.7 417.6,45.1 418.4,47.2 419.2,49.2 419.9,51.3 420.7,51.7 421.5,51.9 422.2,52.2 423,52.4 424,52.7 426.2,53.2 428.4,53.7 430.6,54.9 432.8,58.2 435,61.8 437.2,65.5 439.4,69.2 441.6,73.4 443.8,77.6 446,81.5 448.2,84.8 450.4,88.2 452.6,91.5 454.8,95.0 457,98.9 459.2,102.8 461.4,105.4 463.6,107.2 465.8,108.4 468,109.4 470.2,110.9 472.4,112.7 474.6,113.9 476.8,114.8 479,115.6 481.2,116.9 483.4,119.6 485.6,123.5 487.8,127.2 490,129.8 492.2,131.9 494.4,132.5 496.6,131.9 498.8,132.1 501,133.5 503.2,135.6 505.4,136.0 507.6,135.8 509.8,136.0 512,135.3 514.2,137.6 516.4,141.3 518.6,145.0 520.8,148.3 523,149.2 525.2,150.2 527.4,153.0 529.6,155.8 531.8,156.1 534,153.9 536.2,153.4 538.4,155.2 540.6,155.8 542.8,155.9 545,155.5 547.2,155.1 549.4,156.7 551.6,157.0 553.8,155.1 556,152.6 558.2,152.5 560.4,153.9 562.6,156.0 564.8,157.5 567,156.1 569.2,153.0 571.4,152.3 573.6,156.1 575.8,159.5 578,160.0 580.2,158.9 582.4,158.8 584.6,160.7 586.8,161.2 589,162.0 591.2,160.8 593.4,159.3 595.6,159.8 597.8,157.0 600,153.6 602.2,157.0 604.4,163.1 606.6,164.8 608.8,164.4 611,165.6 613.2,166.0 615.4,165.8 617.6,164.8 619.8,163.6 622,162.0 624.2,160.8 626.4,163.9 628.6,166.3 630.8,166.3 633,167.8 635.2,166.2 637.4,163.2 639.6,163.8 641.8,166.3 644,168.7 646.2,169.6 648.4,168.8 650.6,169.2 652.8,168.5 655,166.5 657.2,167.4 659.4,169.6 661.6,170.3 663.8,169.4 666,169.0 667.3,169.5" fill="none" stroke="#d62728" stroke-width="0.60" stroke-opacity="0.50" stroke-dasharray="1.8,0.8" stroke-linecap="butt" stroke-linejoin="round"/>
<polyline points="413,29.9 413.8,32.2 414.5,33.7 415.3,34.8 416.1,35.9 416.8,37.0 417.6,38.0 418.4,38.7 419.2,39.4 419.9,40.1 420.7,40.7 421.5,41.3 422.2,41.9 423,42.4 424,43.1 426.2,44.6 428.4,46.1 430.6,47.5 432.8,49.2 435,51.2 437.2,53.3 439.4,55.4 441.6,58.3 443.8,61.3 446,63.9 448.2,66.1 450.4,68.2 452.6,70.4 454.8,72.6 457,75.3 459.2,78.0 461.4,81.3 463.6,85.0 465.8,88.4 468,91.5 470.2,94.6 472.4,97.5 474.6,100.2 476.8,104.1 479,108.3 481.2,111.0 483.4,113.8 485.6,116.1 487.8,117.2 490,118.1 492.2,117.9 494.4,117.8 496.6,119.9 498.8,123.1 501,125.0 503.2,125.3 505.4,126.7 507.6,130.1 509.8,130.7 512,128.3 514.2,128.4 516.4,129.7 518.6,130.1 520.8,130.8 523,131.9 525.2,132.2 527.4,132.5 529.6,132.8 531.8,133.7 534,136.0 536.2,136.9 538.4,135.3 540.6,134.0 542.8,133.4 545,134.6 547.2,136.9 549.4,138.8 551.6,140.8 553.8,142.9 556,144.4 558.2,148.2 560.4,153.3 562.6,153.8 564.8,151.2 567,148.5 569.2,145.8 571.4,145.4 573.6,149.1 575.8,154.5 578,155.5 580.2,153.0 582.4,151.4 584.6,151.8 586.8,151.1 589,151.0 591.2,151.9 593.4,154.4 595.6,158.2 597.8,159.7 600,157.7 602.2,154.4 604.4,154.0 606.6,156.7 608.8,156.9 611,155.5 613.2,156.9 615.4,157.0 617.6,154.4 619.8,153.4 622,155.2 624.2,157.2 626.4,158.9 628.6,160.0 630.8,158.2 633,155.9 635.2,154.6 637.4,152.9 639.6,151.6 641.8,152.5 644,152.8 646.2,153.8 648.4,156.6 650.6,157.9 652.8,155.9 655,155.9 657.2,159.4 659.4,161.5 661.6,159.2 663.8,157.2 666,157.3 667.5,158.1" fill="none" stroke="#d62728" stroke-width="0.60" stroke-opacity="0.50" stroke-dasharray="1.8,0.8" stroke-linecap="butt" stroke-linejoin="round"/>
<polyline points="413,30.4 413.8,34.0 414.5,36.7 415.3,39.1 416.1,41.3 416.8,42.0 417.6,42.8 418.4,43.3 419.2,43.7 419.9,44.2 420.7,44.5 421.5,44.7 422.2,44.9 423,45.1 424,45.3 426.2,45.8 428.4,46.3 430.6,47.7 432.8,52.0 435,56.8 437.2,61.5 439.4,66.3 441.6,69.8 443.8,72.5 446,75.0 448.2,77.0 450.4,78.9 452.6,80.9 454.8,82.9 457,85.3 459.2,87.8 461.4,90.6 463.6,93.5 465.8,96.0 468,98.8 470.2,101.9 472.4,104.7 474.6,106.7 476.8,108.6 479,111.7 481.2,115.1 483.4,117.0 485.6,117.7 487.8,118.9 490,122.0 492.2,125.0 494.4,125.3 496.6,124.4 498.8,126.7 501,130.1 503.2,131.7 505.4,132.3 507.6,131.2 509.8,129.7 512,130.3 514.2,131.8 516.4,132.8 518.6,132.3 520.8,133.0 523,137.1 525.2,139.8 527.4,141.9 529.6,144.9 531.8,145.4 534,144.5 536.2,145.3 538.4,147.3 540.6,149.1 542.8,149.2 545,150.0 547.2,151.6 549.4,150.8 551.6,149.2 553.8,149.1 556,149.3 558.2,151.4 560.4,152.2 562.6,151.3 564.8,151.3 567,149.0 569.2,145.6 571.4,144.8 573.6,145.3 575.8,147.9 578,152.9 580.2,157.9 582.4,158.9 584.6,157.1 586.8,155.1 589,157.4 591.2,162.9 593.4,165.4 595.6,164.1 597.8,161.2 600,161.5 602.2,165.7 604.4,169.0 606.6,165.7 608.8,163.6 611,165.4 613.2,164.6 615.4,164.4 617.6,167.9 619.8,171.4 622,171.8 624.2,170.6 626.4,172.0 628.6,176.7 630.8,179.6 633,178.3 635.2,174.8 637.4,169.0 639.6,165.6 641.8,168.5 644,172.4 646.2,174.6 648.4,174.6 650.6,175.5 652.8,177.9 655,180.9 657.2,183.4 659.4,182.6 661.6,178.8 663.8,175.0 666,175.0 668.2,178.1 668.6,179.5" fill="none" stroke="#d62728" stroke-width="0.60" stroke-opacity="0.50" stroke-dasharray="1.8,0.8" stroke-linecap="butt" stroke-linejoin="round"/>
<polyline points="413,32.5 413.8,34.0 414.5,34.7 415.3,35.0 416.1,35.4 416.8,36.8 417.6,38.2 418.4,39.3 419.2,40.4 419.9,41.5 420.7,42.4 421.5,43.3 422.2,44.2 423,45.0 424,46.1 426.2,48.6 428.4,51.0 430.6,53.2 432.8,55.4 435,58.0 437.2,60.7 439.4,63.3 441.6,65.8 443.8,67.9 446,69.7 448.2,71.1 450.4,72.4 452.6,73.8 454.8,75.2 457,77.0 459.2,78.8 461.4,82.0 463.6,85.9 465.8,89.4 468,93.0 470.2,96.2 472.4,99.0 474.6,101.7 476.8,105.2 479,108.3 481.2,110.3 483.4,113.0 485.6,115.7 487.8,118.0 490,120.7 492.2,123.4 494.4,125.5 496.6,126.8 498.8,128.9 501,130.2 503.2,130.2 505.4,129.7 507.6,130.8 509.8,134.6 512,137.0 514.2,134.5 516.4,130.6 518.6,130.5 520.8,133.2 523,136.4 525.2,138.6 527.4,138.0 529.6,138.5 531.8,143.2 534,147.2 536.2,148.2 538.4,148.0 540.6,145.5 542.8,144.0 545,146.5 547.2,149.8 549.4,152.2 551.6,155.4 553.8,157.2 556,156.2 558.2,154.5 560.4,154.6 562.6,154.9 564.8,154.8 567,153.4 569.2,150.9 571.4,150.0 573.6,149.8 575.8,149.3 578,152.3 580.2,160.1 582.4,165.4 584.6,164.3 586.8,159.0 589,157.4 591.2,161.3 593.4,162.8 595.6,162.0 597.8,162.0 600,161.2 602.2,160.4 604.4,163.0 606.6,166.0 608.8,166.1 611,164.2 613.2,163.1 615.4,164.7 617.6,167.9 619.8,169.1 622,169.2 624.2,169.8 626.4,170.9 628.6,171.5 630.8,171.2 633,171.6 635.2,172.9 637.4,174.1 639.6,172.4 641.8,171.7 644,172.4 646.2,173.5 648.4,173.9 650.6,173.4 652.8,173.9 655,176.6 657.2,178.7 659.4,177.9 661.6,177.0 663.8,177.9 666,179.6 667.4,180.3" fill="none" stroke="#d62728" stroke-width="0.60" stroke-opacity="0.50" stroke-dasharray="1.8,0.8" stroke-linecap="butt" stroke-linejoin="round"/>
<polyline points="413,31.8 413.8,34.5 414.5,36.3 415.3,37.7 416.1,39.2 416.8,40.4 417.6,41.7 418.4,42.6 419.2,43.6 419.9,44.5 420.7,45.4 421.5,46.3 422.2,47.1 423,48.0 424,49.1 426.2,51.5 428.4,53.8 430.6,55.6 432.8,56.0 435,57.0 437.2,57.9 439.4,58.8 441.6,62.2 443.8,66.3 446,70.1 448.2,73.4 450.4,76.7 452.6,80.0 454.8,83.4 457,87.2 459.2,90.9 461.4,93.6 463.6,95.5 465.8,97.3 468,99.6 470.2,102.1 472.4,104.0 474.6,105.0 476.8,106.0 479,107.4 481.2,109.4 483.4,112.8 485.6,117.1 487.8,120.7 490,122.6 492.2,123.4 494.4,124.9 496.6,127.0 498.8,129.0 501,130.0 503.2,131.1 505.4,135.0 507.6,137.6 509.8,134.6 512,130.6 514.2,132.8 516.4,136.3 518.6,136.4 520.8,135.8 523,138.3 525.2,142.0 527.4,145.5 529.6,148.7 531.8,151.4 534,154.1 536.2,154.5 538.4,150.4 540.6,144.7 542.8,142.5 545,143.7 547.2,147.1 549.4,148.1 551.6,146.2 553.8,145.7 556,146.1 558.2,149.0 560.4,152.8 562.6,151.2 564.8,147.5 567,144.5 569.2,144.5 571.4,147.6 573.6,148.7 575.8,147.7 578,150.3 580.2,154.3 582.4,153.5 584.6,149.4 586.8,148.8 589,152.3 591.2,151.8 593.4,147.7 595.6,145.4 597.8,145.7 600,146.5 602.2,147.6 604.4,148.5 606.6,148.7 608.8,148.9 611,151.5 613.2,156.4 615.4,159.5 617.6,157.2 619.8,154.1 622,153.8 624.2,153.7 626.4,152.1 628.6,153.4 630.8,155.3 633,154.1 635.2,150.7 637.4,149.7 639.6,152.8 641.8,155.4 644,153.6 646.2,151.2 648.4,151.2 650.6,151.8 652.8,151.0 655,149.6 657.2,149.6 659.4,151.1 661.6,152.2 663.8,153.0 666,152.2 667.9,150.3" fill="none" stroke="#d62728" stroke-width="0.60" stroke-opacity="0.50" stroke-dasharray="1.8,0.8" stroke-linecap="butt" stroke-linejoin="round"/>
<polyline points="413,34.2 413.8,37.7 414.5,40.5 415.3,42.8 416.1,45.1 416.8,46.2 417.6,47.4 418.4,48.3 419.2,49.1 419.9,50.0 420.7,51.3 421.5,52.6 422.2,53.9 423,55.3 424,56.9 426.2,60.6 428.4,64.2 430.6,67.8 432.8,71.2 435,75.0 437.2,78.9 439.4,82.8 441.6,85.8 443.8,88.3 446,90.4 448.2,92.1 450.4,93.7 452.6,95.4 454.8,97.1 457,99.2 459.2,101.3 461.4,103.8 463.6,106.6 465.8,109.2 468,111.6 470.2,114.2 472.4,117.2 474.6,119.5 476.8,121.2 479,123.1 481.2,125.6 483.4,127.9 485.6,129.8 487.8,131.8 490,134.5 492.2,137.1 494.4,138.4 496.6,139.0 498.8,139.9 501,141.3 503.2,141.3 505.4,139.5 507.6,139.9 509.8,144.1 512,147.1 514.2,146.7 516.4,147.2 518.6,149.2 520.8,150.5 523,152.3 525.2,153.7 527.4,154.0 529.6,155.2 531.8,157.3 534,157.3 536.2,157.4 538.4,160.3 540.6,161.7 542.8,157.3 545,154.0 547.2,155.3 549.4,156.5 551.6,158.1 553.8,160.8 556,162.1 558.2,163.9 560.4,164.7 562.6,164.9 564.8,165.9 567,167.8 569.2,167.7 571.4,166.1 573.6,167.2 575.8,169.4 578,169.4 580.2,169.3 582.4,170.5 584.6,172.0 586.8,174.1 589,174.4 591.2,172.4 593.4,171.2 595.6,170.9 597.8,170.9 600,169.7 602.2,168.0 604.4,167.9 606.6,170.3 608.8,173.2 611,173.5 613.2,172.4 615.4,171.2 617.6,170.8 619.8,170.1 622,170.6 624.2,174.2 626.4,178.7 628.6,181.2 630.8,177.9 633,175.1 635.2,175.4 637.4,174.0 639.6,173.4 641.8,177.3 644,179.7 646.2,178.5 648.4,175.8 650.6,175.0 652.8,175.3 655,175.7 657.2,174.7 659.4,172.8 661.6,174.9 663.8,178.9 666,182.4 667.7,183.8" fill="none" stroke="#d62728" stroke-width="0.60" stroke-opacity="0.50" stroke-dasharray="1.8,0.8" stroke-linecap="butt" stroke-linejoin="round"/>
<polyline points="413,31.0 413.8,44.2 414.5,56.7 415.3,66.3 416.1,74.3 416.8,81.3 417.6,88.3 418.4,93.2 419.2,97.5 419.9,100.9 420.7,103.0 421.5,105.1 422.2,106.7 423,108.0 424,109.6 425.6,111.5 427.2,113.1 428.8,114.6 430.4,115.7 432,115.9 433.6,115.8 435.2,115.4 436.8,115.3 438.4,115.8 440,115.2 441.6,113.9 443.2,112.7 444.8,112.7 446.4,113.7 448,113.9 449.6,112.7 451.2,111.0 452.8,110.2 454.4,111.7 456,112.3 457.6,110.5 459.2,110.4 460.8,112.7 462.4,114.0 464,113.9 465.6,114.7 467.2,116.5 468.8,116.5 470.4,115.2 472,115.6 473.6,116.9 475.2,116.2 476.8,114.5 478.4,114.0 480,111.4 481.6,105.3 483.2,98.0 484.8,97.2 486.4,106.9 488,117.4 489.6,119.1 491.2,116.8 492.8,115.2 494.4,113.5 496,112.0 497.6,114.7 499.2,117.6 500.8,118.4 502.4,119.1 504,120.1 505.6,117.6 507.2,115.1 508.8,114.5 510.4,115.4 512,116.6 513.6,115.7 515.2,112.8 516.8,111.2 518.4,111.6 520,112.8 521.6,114.1 523.2,116.1 524.8,118.0 526.4,116.6 528,115.1 529.6,116.7 531.2,120.3 532.8,122.3 534.4,123.3 536,123.8 537.6,117.8 539.2,110.2 540.8,105.8 542.4,105.9 544,107.7 545.6,106.9 547.2,105.9 548.8,113.8 550.4,122.2 552,127.1 553.6,127.8 555.2,126.9 556.8,126.6 558.4,126.2 560,127.1 561.6,127.6 563.2,126.4 564.8,125.0 566.4,124.9 568,125.1 569.6,124.8 571.2,125.1 572.8,126.5 574.4,127.5 576,126.5 577.6,126.4 579.2,127.0 580.8,127.1 582.4,127.0 584,124.9 585.6,122.7 587.2,122.2 588.8,121.2 590.4,120.8 592,120.0 593.6,119.6 595.2,120.2 596.8,122.2 598.4,124.5 600,126.7 601.6,125.9 603.2,123.5 604.8,123.1 606.4,124.2 608,124.3 609.6,122.9 611.2,120.1 612.8,117.6 614.4,116.5 616,116.0 617.6,115.9 619.2,115.9 620.8,120.0 622.4,122.9 624,123.1 625.6,122.2 627.2,124.7 628.8,129.0 630.4,131.3 632,130.2 633.6,128.6 635.2,129.0 636.8,130.0 638.4,128.2 640,124.2 641.6,118.4 643.2,107.8 644.8,96.1 646.4,93.3 648,99.0 649.6,105.0 651.2,110.1 652.8,112.0 654.4,114.2 656,116.5 657.6,118.4 659.2,116.1 660.8,113.9 662.4,114.2 664,115.2 665.6,115.1 667.2,115.3 668.1,116.5" fill="none" stroke="#2ca02c" stroke-width="0.60" stroke-opacity="0.50" stroke-dasharray="1,0.5" stroke-linecap="butt" stroke-linejoin="round"/>
<polyline points="413,31.0 413.8,44.2 414.5,56.7 415.3,66.3 416.1,74.3 416.8,81.3 417.6,88.3 418.4,93.2 419.2,97.5 419.9,100.9 420.7,103.0 421.5,105.1 422.2,106.7 423,108.0 424,109.6 425.6,111.6 427.2,113.3 428.8,114.9 430.4,116.2 432,116.4 433.6,116.8 435.2,117.3 436.8,117.3 438.4,117.2 440,116.2 441.6,115.4 443.2,114.8 444.8,113.9 446.4,114.2 448,115.0 449.6,114.6 451.2,114.1 452.8,114.0 454.4,112.6 456,111.3 457.6,110.9 459.2,111.5 460.8,114.6 462.4,117.6 464,119.0 465.6,119.2 467.2,118.7 468.8,119.1 470.4,120.8 472,121.3 473.6,121.1 475.2,121.6 476.8,122.2 478.4,122.4 480,120.9 481.6,117.0 483.2,115.3 484.8,117.9 486.4,120.2 488,120.5 489.6,120.5 491.2,120.6 492.8,117.7 494.4,109.4 496,101.8 497.6,105.0 499.2,114.4 500.8,121.2 502.4,123.5 504,123.9 505.6,122.5 507.2,121.4 508.8,121.7 510.4,122.5 512,124.2 513.6,124.4 515.2,122.6 516.8,122.5 518.4,122.7 520,121.9 521.6,120.9 523.2,121.3 524.8,123.4 526.4,125.6 528,126.9 529.6,128.3 531.2,130.2 532.8,131.3 534.4,132.3 536,132.4 537.6,125.6 539.2,117.4 540.8,114.4 542.4,118.1 544,125.5 545.6,131.9 547.2,132.3 548.8,131.8 550.4,129.7 552,129.0 553.6,130.5 555.2,131.8 556.8,130.1 558.4,123.7 560,115.7 561.6,115.5 563.2,121.2 564.8,124.4 566.4,125.8 568,126.7 569.6,128.1 571.2,129.8 572.8,129.4 574.4,128.5 576,129.1 577.6,130.1 579.2,130.4 580.8,129.2 582.4,127.9 584,126.3 585.6,124.3 587.2,123.6 588.8,124.0 590.4,124.3 592,124.2 593.6,126.3 595.2,127.0 596.8,126.3 598.4,129.2 600,134.7 601.6,136.6 603.2,136.4 604.8,135.6 606.4,132.9 608,131.0 609.6,130.8 611.2,130.4 612.8,127.9 614.4,125.9 616,126.0 617.6,124.2 619.2,120.0 620.8,121.8 622.4,123.1 624,121.6 625.6,124.4 627.2,131.3 628.8,134.0 630.4,134.2 632,133.5 633.6,131.9 635.2,130.6 636.8,130.8 638.4,130.5 640,128.8 641.6,127.9 643.2,127.1 644.8,124.2 646.4,118.1 648,109.3 649.6,100.7 651.2,98.0 652.8,101.1 654.4,109.1 656,115.9 657.6,121.2 659.2,122.6 660.8,124.3 662.4,124.9 664,121.7 665.6,120.0 667.2,122.5 668.1,124.5" fill="none" stroke="#2ca02c" stroke-width="0.60" stroke-opacity="0.50" stroke-dasharray="1,0.5" stroke-linecap="butt" stroke-linejoin="round"/>
<polyline points="413,31.0 413.8,44.2 414.5,56.7 415.3,66.3 416.1,74.3 416.8,81.3 417.6,88.3 418.4,93.2 419.2,97.5 419.9,100.9 420.7,103.0 421.5,105.1 422.2,106.7 423,108.0 424,109.6 425.6,111.6 427.2,113.1 428.8,114.5 430.4,115.7 432,116.1 433.6,116.0 435.2,115.2 436.8,114.6 438.4,114.9 440,115.2 441.6,115.0 443.2,114.1 444.8,113.0 446.4,112.5 448,113.3 449.6,113.5 451.2,113.2 452.8,111.7 454.4,110.3 456,110.8 457.6,111.9 459.2,112.4 460.8,114.1 462.4,116.1 464,117.1 465.6,117.3 467.2,117.1 468.8,117.3 470.4,119.1 472,121.3 473.6,122.4 475.2,122.6 476.8,121.7 478.4,119.9 480,118.2 481.6,117.6 483.2,118.6 484.8,119.7 486.4,120.1 488,122.4 489.6,125.1 491.2,124.1 492.8,121.7 494.4,120.2 496,118.3 497.6,119.5 499.2,122.7 500.8,125.1 502.4,126.5 504,126.1 505.6,122.0 507.2,113.2 508.8,100.9 510.4,95.4 512,103.9 513.6,115.2 515.2,120.0 516.8,119.8 518.4,117.6 520,116.7 521.6,118.0 523.2,120.5 524.8,122.8 526.4,124.5 528,126.1 529.6,126.4 531.2,126.1 532.8,127.2 534.4,129.7 536,131.3 537.6,126.0 539.2,118.0 540.8,112.3 542.4,113.5 544,121.8 545.6,129.4 547.2,128.6 548.8,129.6 550.4,132.1 552,133.4 553.6,132.9 555.2,132.8 556.8,132.1 558.4,131.0 560,131.0 561.6,132.9 563.2,135.1 564.8,135.7 566.4,134.7 568,133.6 569.6,134.0 571.2,135.4 572.8,136.9 574.4,136.8 576,136.5 577.6,134.9 579.2,131.9 580.8,130.2 582.4,127.3 584,120.2 585.6,108.9 587.2,102.0 588.8,102.8 590.4,109.5 592,118.1 593.6,124.9 595.2,128.2 596.8,129.4 598.4,129.1 600,129.3 601.6,129.2 603.2,128.8 604.8,129.4 606.4,130.7 608,132.5 609.6,133.9 611.2,131.8 612.8,127.4 614.4,125.8 616,124.5 617.6,122.3 619.2,121.3 620.8,124.6 622.4,127.4 624,129.8 625.6,131.4 627.2,131.9 628.8,132.7 630.4,135.8 632,137.7 633.6,139.6 635.2,139.5 636.8,135.7 638.4,133.6 640,134.7 641.6,134.7 643.2,131.5 644.8,128.6 646.4,124.9 648,120.9 649.6,119.5 651.2,119.2 652.8,116.0 654.4,113.1 656,106.9 657.6,101.1 659.2,98.2 660.8,102.8 662.4,111.1 664,117.5 665.6,119.7 667.2,118.2 668.1,117.5" fill="none" stroke="#2ca02c" stroke-width="0.60" stroke-opacity="0.50" stroke-dasharray="1,0.5" stroke-linecap="butt" stroke-linejoin="round"/>
<polyline points="413,31.0 413.8,44.2 414.5,56.7 415.3,66.3 416.1,74.3 416.8,81.3 417.6,88.3 418.4,93.2 419.2,97.5 419.9,100.9 420.7,103.0 421.5,105.1 422.2,106.7 423,108.0 424,109.7 425.6,111.7 427.2,113.2 428.8,114.8 430.4,116.1 432,116.7 433.6,117.5 435.2,118.7 436.8,119.9 438.4,119.7 440,117.7 441.6,116.8 443.2,117.9 444.8,118.0 446.4,116.5 448,117.0 449.6,119.7 451.2,121.7 452.8,122.9 454.4,123.1 456,121.5 457.6,118.2 459.2,116.6 460.8,117.5 462.4,119.5 464,120.4 465.6,120.1 467.2,121.8 468.8,124.2 470.4,124.5 472,124.0 473.6,123.3 475.2,122.7 476.8,122.2 478.4,121.1 480,120.2 481.6,123.0 483.2,126.8 484.8,127.7 486.4,127.3 488,126.7 489.6,125.8 491.2,126.0 492.8,126.3 494.4,125.7 496,125.0 497.6,126.6 499.2,127.4 500.8,127.7 502.4,128.6 504,129.2 505.6,130.6 507.2,133.8 508.8,133.7 510.4,130.2 512,128.7 513.6,128.4 515.2,123.4 516.8,111.1 518.4,98.7 520,101.7 521.6,115.6 523.2,125.1 524.8,130.0 526.4,132.2 528,132.8 529.6,135.3 531.2,137.7 532.8,137.9 534.4,138.4 536,137.0 537.6,129.5 539.2,123.3 540.8,120.2 542.4,120.9 544,127.0 545.6,133.3 547.2,133.5 548.8,133.5 550.4,132.0 552,131.7 553.6,132.3 555.2,133.6 556.8,134.4 558.4,134.6 560,133.9 561.6,133.6 563.2,134.1 564.8,135.0 566.4,135.5 568,135.3 569.6,135.2 571.2,134.7 572.8,133.4 574.4,132.8 576,133.6 577.6,133.9 579.2,132.9 580.8,131.4 582.4,130.2 584,130.6 585.6,130.7 587.2,130.6 588.8,131.0 590.4,133.5 592,134.4 593.6,134.0 595.2,133.9 596.8,135.0 598.4,136.4 600,135.6 601.6,125.5 603.2,112.8 604.8,112.4 606.4,122.3 608,129.9 609.6,132.4 611.2,132.7 612.8,131.2 614.4,129.8 616,129.3 617.6,126.9 619.2,124.4 620.8,126.8 622.4,129.1 624,130.3 625.6,132.5 627.2,137.5 628.8,140.2 630.4,141.4 632,141.5 633.6,140.9 635.2,138.9 636.8,136.5 638.4,135.3 640,134.8 641.6,135.0 643.2,133.7 644.8,130.5 646.4,127.4 648,126.4 649.6,125.0 651.2,123.3 652.8,122.5 654.4,126.1 656,128.8 657.6,130.4 659.2,124.3 660.8,112.1 662.4,100.3 664,98.7 665.6,107.1 667.2,115.7 668.1,118.4" fill="none" stroke="#2ca02c" stroke-width="0.60" stroke-opacity="0.50" stroke-dasharray="1,0.5" stroke-linecap="butt" stroke-linejoin="round"/>
<polyline points="413,31.0 413.8,44.2 414.5,56.7 415.3,66.3 416.1,74.3 416.8,81.3 417.6,88.3 418.4,93.2 419.2,97.5 419.9,100.9 420.7,103.0 421.5,105.1 422.2,106.7 423,108.0 424,109.6 425.6,111.6 427.2,113.2 428.8,114.6 430.4,116.0 432,116.8 433.6,117.5 435.2,118.1 436.8,118.6 438.4,118.4 440,116.2 441.6,113.7 443.2,113.8 444.8,116.3 446.4,117.8 448,118.7 449.6,119.6 451.2,119.7 452.8,119.2 454.4,118.7 456,118.2 457.6,119.8 459.2,121.9 460.8,121.7 462.4,121.5 464,123.0 465.6,124.1 467.2,124.0 468.8,123.8 470.4,122.8 472,122.1 473.6,123.8 475.2,124.6 476.8,124.7 478.4,125.4 480,124.6 481.6,123.6 483.2,125.1 484.8,127.2 486.4,126.9 488,125.7 489.6,126.3 491.2,127.6 492.8,127.3 494.4,127.0 496,126.3 497.6,127.2 499.2,128.7 500.8,131.4 502.4,132.5 504,131.9 505.6,128.9 507.2,125.2 508.8,123.4 510.4,123.0 512,123.8 513.6,123.9 515.2,122.8 516.8,122.2 518.4,121.8 520,116.4 521.6,103.4 523.2,95.9 524.8,105.1 526.4,118.9 528,126.5 529.6,129.6 531.2,130.0 532.8,129.9 534.4,131.8 536,132.4 537.6,125.4 539.2,116.8 540.8,111.0 542.4,113.7 544,124.4 545.6,134.5 547.2,136.4 548.8,136.4 550.4,135.5 552,134.9 553.6,133.3 555.2,132.2 556.8,132.5 558.4,133.1 560,134.8 561.6,135.7 563.2,134.6 564.8,134.7 566.4,136.8 568,138.1 569.6,137.0 571.2,136.3 572.8,137.2 574.4,137.6 576,137.5 577.6,136.4 579.2,134.9 580.8,134.5 582.4,135.5 584,136.1 585.6,133.7 587.2,130.5 588.8,128.0 590.4,126.1 592,126.7 593.6,130.2 595.2,131.3 596.8,131.0 598.4,132.5 600,134.9 601.6,136.1 603.2,135.9 604.8,134.9 606.4,134.0 608,132.7 609.6,131.2 611.2,128.4 612.8,123.2 614.4,116.7 616,108.1 617.6,101.2 619.2,102.4 620.8,113.0 622.4,123.1 624,129.0 625.6,132.1 627.2,134.2 628.8,134.1 630.4,135.4 632,136.6 633.6,137.8 635.2,138.8 636.8,139.5 638.4,138.6 640,136.4 641.6,134.9 643.2,133.1 644.8,130.7 646.4,128.0 648,125.5 649.6,120.7 651.2,115.7 652.8,114.5 654.4,121.1 656,127.3 657.6,129.7 659.2,126.9 660.8,124.7 662.4,123.2 664,121.8 665.6,122.4 667.2,123.1 668.1,121.5" fill="none" stroke="#2ca02c" stroke-width="0.60" stroke-opacity="0.50" stroke-dasharray="1,0.5" stroke-linecap="butt" stroke-linejoin="round"/>
<polyline points="413,31.0 413.8,44.2 414.5,56.7 415.3,66.3 416.1,74.3 416.8,81.3 417.6,88.3 418.4,93.2 419.2,97.5 419.9,100.9 420.7,103.0 421.5,105.1 422.2,106.7 423,108.0 424,109.6 425.6,111.5 427.2,113.1 428.8,114.6 430.4,115.8 432,116.1 433.6,115.9 435.2,115.3 436.8,114.6 438.4,114.3 440,114.1 441.6,113.7 443.2,112.1 444.8,110.2 446.4,110.2 448,111.9 449.6,113.1 451.2,112.4 452.8,112.7 454.4,115.7 456,118.2 457.6,118.7 459.2,117.9 460.8,118.6 462.4,120.7 464,121.9 465.6,121.2 467.2,120.3 468.8,120.4 470.4,121.5 472,122.6 473.6,122.0 475.2,120.0 476.8,117.2 478.4,114.8 480,114.4 481.6,114.9 483.2,114.9 484.8,115.3 486.4,116.1 488,116.6 489.6,118.4 491.2,120.8 492.8,118.9 494.4,115.9 496,115.9 497.6,119.7 499.2,123.0 500.8,123.1 502.4,121.7 504,121.1 505.6,118.5 507.2,115.4 508.8,114.0 510.4,115.4 512,117.8 513.6,118.5 515.2,117.2 516.8,116.1 518.4,115.7 520,117.0 521.6,117.3 523.2,116.5 524.8,117.3 526.4,118.9 528,121.8 529.6,124.2 531.2,125.4 532.8,126.2 534.4,125.5 536,121.0 537.6,104.6 539.2,83.1 540.8,69.7 542.4,75.7 544,97.6 545.6,117.6 547.2,123.3 548.8,125.5 550.4,128.7 552,132.3 553.6,134.3 555.2,134.9 556.8,132.7 558.4,130.7 560,130.8 561.6,131.8 563.2,130.7 564.8,129.2 566.4,129.7 568,132.0 569.6,134.9 571.2,136.1 572.8,137.0 574.4,134.3 576,130.8 577.6,130.9 579.2,130.9 580.8,130.1 582.4,131.3 584,130.9 585.6,127.7 587.2,125.1 588.8,122.3 590.4,121.9 592,123.9 593.6,126.1 595.2,125.8 596.8,126.7 598.4,128.8 600,130.0 601.6,129.0 603.2,128.6 604.8,129.6 606.4,128.5 608,124.7 609.6,121.7 611.2,120.2 612.8,120.6 614.4,122.8 616,122.8 617.6,118.7 619.2,112.0 620.8,106.5 622.4,104.8 624,110.7 625.6,118.9 627.2,125.0 628.8,126.8 630.4,126.8 632,128.5 633.6,131.2 635.2,130.4 636.8,127.5 638.4,125.7 640,124.1 641.6,124.4 643.2,124.0 644.8,121.2 646.4,117.0 648,113.4 649.6,111.5 651.2,112.1 652.8,112.8 654.4,114.2 656,115.4 657.6,117.4 659.2,116.5 660.8,116.4 662.4,118.0 664,119.5 665.6,118.2 667.2,115.5 668.1,113.7" fill="none" stroke="#2ca02c" stroke-width="0.60" stroke-opacity="0.50" stroke-dasharray="1,0.5" stroke-linecap="butt" stroke-linejoin="round"/>
<polyline points="413,31.0 413.3,60.3 413.6,72.6 413.9,81.6 414.2,85.7 414.5,89.7 414.8,91.6 415.2,93.0 415.5,94.3 415.8,95.7 416.1,97.1 416.4,98.5 416.7,99.8 417,101.2 417.3,102.6 417.6,103.5 417.9,104.3 418.2,105.0 418.5,105.7 418.8,106.5 419.2,107.2 419.5,107.9 419.8,108.7 420.1,109.4 420.4,110.1 420.7,110.9 421,111.6 421.3,112.3 421.6,113.1 421.9,113.8 422.2,114.2 422.5,114.5 422.8,114.8 423.2,115.1 423.5,115.4 423.8,115.6 424.1,115.9 424.4,116.2 424.7,116.5 425,116.8 425.5,117.2 427,118.6 428.5,120.0 430,121.4 431.5,122.1 433,122.7 434.5,123.2 436,123.8 437.5,124.3 439,124.9 440.5,125.5 442,125.9 443.5,126.4 445,126.8 446.5,127.3 448,127.7 449.5,128.2 451,128.6 452.5,129.1 454,129.4 455.5,129.7 457,130.0 458.5,130.3 460,130.6 461.5,131.0 463,131.3 464.5,131.6 466,131.9 467.5,132.3 469,132.7 470.5,133.1 472,133.5 473.5,133.9 475,134.3 476.5,134.7 478,135.0 479.5,135.4 481,135.7 482.5,136.1 484,136.5 485.5,136.8 487,137.0 488.5,137.3 490,137.5 491.5,137.8 493,138.0 494.5,138.3 496,138.5 497.5,138.6 499,138.8 500.5,138.9 502,139.0 503.5,139.2 505,139.3 506.5,139.4 508,139.6 509.5,139.7 511,139.8 512.5,140.0 514,140.1 515.5,140.2 517,140.4 518.5,140.5 520,140.6 521.5,140.7 523,140.8 524.5,140.9 526,140.9 527.5,141.0 529,141.1 530.5,141.2 532,141.3 533.5,141.4 535,141.5 536.5,141.6 538,141.7 539.5,141.9 541,142.2 542.5,142.6 544,143.0 545.5,143.3 547,143.5 548.5,143.7 550,143.9 551.5,144.0 553,144.2 554.5,144.4 556,144.6 557.5,144.8 559,145.0 560.5,145.2 562,145.3 563.5,145.4 565,145.5 566.5,145.5 568,145.6 569.5,145.7 571,145.7 572.5,145.8 574,146.0 575.5,146.1 577,146.3 578.5,146.4 580,146.6 581.5,146.7 583,146.9 584.5,147.0 586,147.1 587.5,147.2 589,147.4 590.5,147.5 592,147.6 593.5,147.7 595,147.8 596.5,147.9 598,148.0 599.5,148.0 601,148.1 602.5,148.1 604,148.2 605.5,148.3 607,148.3 608.5,148.4 610,148.4 611.5,148.5 613,148.6 614.5,148.7 616,148.8 617.5,148.9 619,149.0 620.5,149.1 622,149.2 623.5,149.3 625,149.3 626.5,149.4 628,149.5 629.5,149.6 631,149.8 632.5,149.9 634,150.0 635.5,150.1 637,150.2 638.5,150.3 640,150.4 641.5,150.4 643,150.5 644.5,150.5 646,150.6 647.5,150.7 649,150.7 650.5,150.8 652,150.8 653.5,150.9 655,150.9 656.5,151.0 658,151.1 659.5,151.2 661,151.3 662.5,151.4 664,151.5 665.5,151.6 667,151.7 668.1,151.8" fill="none" stroke="#1f77b4" stroke-width="2.20" stroke-opacity="1.00" stroke-dasharray="13.4,3.4,2.1,3.4" stroke-linecap="butt" stroke-linejoin="round"/>
<polyline points="413,31.0 413.3,36.3 413.6,41.5 413.9,46.8 414.2,52.1 414.5,56.7 414.8,60.6 415.2,64.4 415.5,68.3 415.8,71.5 416.1,74.3 416.4,77.1 416.7,79.9 417,82.7 417.3,85.5 417.6,88.3 417.9,90.7 418.2,92.4 418.5,94.1 418.8,95.8 419.2,97.5 419.5,99.2 419.8,100.5 420.1,101.3 420.4,102.1 420.7,103.0 421,103.8 421.3,104.7 421.6,105.5 421.9,106.2 422.2,106.7 422.5,107.2 422.8,107.7 423.2,108.3 423.5,108.8 423.8,109.3 424.1,109.8 424.4,110.3 424.7,110.7 425,111.1 425.5,111.6 427,113.4 428.5,115.2 430,117.1 431.5,118.5 433,119.2 434.5,120.0 436,120.8 437.5,121.5 439,122.0 440.5,122.3 442,122.6 443.5,122.9 445,123.2 446.5,123.5 448,123.9 449.5,124.3 451,124.8 452.5,125.2 454,125.6 455.5,126.1 457,126.5 458.5,126.8 460,127.1 461.5,127.4 463,127.7 464.5,128.0 466,128.3 467.5,128.8 469,129.2 470.5,129.7 472,130.1 473.5,130.6 475,130.7 476.5,130.6 478,130.4 479.5,130.3 481,130.4 482.5,130.7 484,131.1 485.5,131.5 487,131.9 488.5,132.2 490,132.4 491.5,132.6 493,131.4 494.5,130.3 496,129.4 497.5,130.3 499,131.3 500.5,132.1 502,132.5 503.5,132.8 505,132.7 506.5,131.5 508,130.3 509.5,129.1 511,129.9 512.5,131.3 514,131.7 515.5,131.1 517,130.5 518.5,129.9 520,130.1 521.5,130.2 523,130.5 524.5,132.0 526,133.5 527.5,134.7 529,135.9 530.5,137.1 532,138.0 533.5,138.0 535,138.0 536.5,135.8 538,130.3 539.5,124.3 541,120.5 542.5,122.6 544,130.0 545.5,137.6 547,138.7 548.5,139.8 550,140.1 551.5,140.4 553,140.6 554.5,140.9 556,140.8 557.5,140.4 559,140.0 560.5,140.0 562,140.2 563.5,140.5 565,140.2 566.5,139.8 568,139.5 569.5,139.9 571,140.4 572.5,141.0 574,141.1 575.5,141.3 577,141.4 578.5,141.3 580,140.7 581.5,140.1 583,139.5 584.5,137.6 586,135.5 587.5,133.7 589,133.0 590.5,133.2 592,133.4 593.5,134.9 595,136.4 596.5,137.6 598,138.7 599.5,139.8 601,140.5 602.5,140.5 604,140.3 605.5,139.5 607,138.8 608.5,138.6 610,138.3 611.5,136.7 613,134.9 614.5,133.9 616,132.8 617.5,131.5 619,130.0 620.5,130.9 622,132.7 623.5,134.4 625,136.2 626.5,138.4 628,140.9 629.5,142.1 631,143.2 632.5,143.4 634,143.6 635.5,142.9 637,141.8 638.5,140.6 640,139.5 641.5,138.4 643,136.6 644.5,134.7 646,132.7 647.5,130.7 649,128.9 650.5,127.5 652,126.6 653.5,126.9 655,129.1 656.5,131.3 658,132.7 659.5,130.6 661,129.2 662.5,129.0 664,128.8 665.5,128.5 667,128.2 668.1,128.0" fill="none" stroke="#2ca02c" stroke-width="2.20" stroke-opacity="1.00" stroke-dasharray="2.1,2.32" stroke-linecap="butt" stroke-linejoin="round"/>
<polyline points="413,33.0 413.3,33.9 413.6,34.7 413.9,35.6 414.2,36.1 414.5,36.5 414.8,36.9 415.2,37.2 415.5,37.6 415.8,38.0 416.1,38.4 416.4,38.8 416.7,39.2 417,39.5 417.3,39.9 417.6,40.3 417.9,40.6 418.2,40.8 418.5,41.1 418.8,41.4 419.2,41.6 419.5,41.9 419.8,42.1 420.1,42.4 420.4,42.7 420.7,42.9 421,43.2 421.3,43.5 421.6,43.7 421.9,44.0 422.2,44.2 422.5,44.5 422.8,44.8 423.2,45.0 423.5,45.3 423.8,45.5 424.1,45.7 424.4,46.0 424.7,46.2 425,46.5 425.5,46.9 427,48.1 428.5,49.2 430,50.4 431.5,51.6 433,53.1 434.5,54.8 436,56.5 437.5,58.2 439,59.9 440.5,61.9 442,64.1 443.5,66.3 445,68.5 446.5,70.2 448,71.9 449.5,73.5 451,75.2 452.5,76.8 454,78.5 455.5,80.4 457,82.3 458.5,84.3 460,86.3 461.5,88.3 463,90.3 464.5,92.0 466,93.8 467.5,95.5 469,97.2 470.5,99.0 472,100.7 473.5,102.2 475,103.7 476.5,105.3 478,106.8 479.5,108.3 481,109.9 482.5,111.7 484,113.5 485.5,115.1 487,116.3 488.5,117.6 490,118.8 491.5,120.0 493,121.2 494.5,122.1 496,122.8 497.5,123.4 499,124.1 500.5,124.7 502,125.4 503.5,126.3 505,127.2 506.5,128.2 508,129.2 509.5,130.1 511,130.9 512.5,131.5 514,132.2 515.5,132.8 517,133.5 518.5,134.4 520,135.5 521.5,136.5 523,137.5 524.5,138.1 526,138.6 527.5,139.1 529,139.7 530.5,140.2 532,140.5 533.5,140.9 535,141.2 536.5,141.6 538,141.9 539.5,142.3 541,142.5 542.5,142.7 544,142.9 545.5,143.1 547,143.2 548.5,143.4 550,143.6 551.5,143.8 553,143.9 554.5,144.0 556,144.2 557.5,145.2 559,146.5 560.5,147.1 562,147.3 563.5,147.6 565,147.8 566.5,147.5 568,147.3 569.5,147.0 571,147.3 572.5,148.0 574,148.7 575.5,149.3 577,149.8 578.5,150.2 580,150.7 581.5,150.6 583,150.5 584.5,150.4 586,150.2 587.5,150.4 589,150.7 590.5,151.0 592,151.3 593.5,151.6 595,152.0 596.5,152.3 598,152.5 599.5,152.6 601,152.8 602.5,153.1 604,153.5 605.5,153.9 607,154.3 608.5,154.7 610,155.2 611.5,155.6 613,156.0 614.5,156.5 616,156.9 617.5,157.2 619,157.5 620.5,157.8 622,158.0 623.5,158.3 625,158.6 626.5,159.1 628,159.5 629.5,159.9 631,159.7 632.5,159.3 634,159.0 635.5,158.4 637,157.8 638.5,157.2 640,156.8 641.5,156.8 643,156.8 644.5,156.8 646,157.2 647.5,157.6 649,158.0 650.5,158.5 652,158.8 653.5,159.2 655,159.6 656.5,159.9 658,160.3 659.5,160.7 661,161.1 662.5,161.7 664,162.3 665.5,162.9 667,163.4 668.1,163.6" fill="none" stroke="#d62728" stroke-width="2.20" stroke-opacity="1.00" stroke-dasharray="7.8,3.35" stroke-linecap="butt" stroke-linejoin="round"/>
<polyline points="412.8,31.0 413.1,35.2 413.4,39.4 413.7,43.5 414,47.7 414.3,51.9 414.6,56.1 415,60.3 415.3,64.5 415.6,69.0 415.9,73.7 416.2,78.3 416.5,82.2 416.8,85.8 417.1,89.4 417.4,91.6 417.7,93.3 418,94.9 418.3,96.5 418.6,98.1 419,99.8 419.3,100.9 419.6,102.0 419.9,103.1 420.2,104.1 420.5,105.2 420.8,106.3 421.1,107.2 421.4,107.8 421.7,108.4 422,109.0 422.3,109.6 422.6,110.2 423,110.8 423.3,111.3 423.6,111.9 423.9,112.8 424.2,113.6 424.5,114.5 424.8,115.3 425.3,116.7 426.8,119.3 428.3,121.5 429.8,123.6 431.3,125.7 432.8,127.8 434.3,129.9 435.8,131.3 437.3,132.5 438.8,133.7 440.3,134.9 441.8,136.0 443.3,137.0 444.8,138.1 446.3,139.0 447.8,139.7 449.3,140.4 450.8,141.2 452.3,141.8 453.8,142.4 455.3,143.0 456.8,143.8 458.3,144.8 459.8,145.9 461.3,146.9 462.8,147.9 464.3,148.7 465.8,149.6 467.3,150.5 468.8,150.9 470.3,151.3 471.8,151.8 473.3,152.1 474.8,152.3 476.3,152.6 477.8,152.8 479.3,153.0 480.8,153.2 482.3,153.4 483.8,153.6 485.3,153.8 486.8,153.9 488.3,154.1 489.8,154.4 491.3,154.7 492.8,155.0 494.3,155.3 495.8,155.6 497.3,155.9 498.8,156.2 500.3,156.5 501.8,156.9 503.3,157.3 504.8,157.7 506.3,158.1 507.8,158.4 509.3,158.7 510.8,159.0 512.3,159.3 513.8,159.6 515.3,159.9 516.8,160.2 518.3,160.5 519.8,160.8 521.3,161.1 522.8,161.4 524.3,161.7 525.8,162.0 527.3,162.3 528.8,162.6 530.3,162.9 531.8,163.2 533.3,163.5 534.8,163.8 536.3,164.1 537.8,164.4 539.3,164.7 540.8,165.0 542.3,165.3 543.8,165.5 545.3,165.8 546.8,166.0 548.3,166.2 549.8,166.4 551.3,166.7 552.8,166.9 554.3,167.1 555.8,167.3 557.3,167.6 558.8,167.8 560.3,168.0 561.8,168.2 563.3,168.4 564.8,168.6 566.3,168.9 567.8,169.1 569.3,169.3 570.8,169.5 572.3,169.6 573.8,169.8 575.3,169.9 576.8,170.1 578.3,170.2 579.8,170.4 581.3,170.6 582.8,170.8 584.3,171.0 585.8,171.2 587.3,171.4 588.8,171.7 590.3,171.9 591.8,172.1 593.3,172.3 594.8,172.5 596.3,172.7 597.8,172.9 599.3,173.1 600.8,173.3 602.3,173.5 603.8,173.6 605.3,173.8 606.8,174.0 608.3,174.2 609.8,174.4 611.3,174.6 612.8,174.7 614.3,174.9 615.8,175.1 617.3,175.3 618.8,175.5 620.3,175.7 621.8,175.8 623.3,176.0 624.8,176.1 626.3,176.3 627.8,176.4 629.3,176.6 630.8,176.7 632.3,176.9 633.8,177.0 635.3,177.2 636.8,177.3 638.3,177.4 639.8,177.6 641.3,177.7 642.8,177.9 644.3,178.0 645.8,178.2 647.3,178.3 648.8,178.5 650.3,178.6 651.8,178.7 653.3,178.9 654.8,179.0 656.3,179.1 657.8,179.3 659.3,179.4 660.8,179.5 662.3,179.7 663.8,179.8 665.3,179.9 666.8,180.1 668.1,180.2" fill="none" stroke="#fc7748" stroke-width="2.20" stroke-opacity="1.00" stroke-linecap="butt" stroke-linejoin="round"/>
</g>
<rect x="397.30" y="16.50" width="286.70" height="234.00" fill="none" stroke="#333" stroke-width="0.85"/>
<line x1="413.20" y1="250.50" x2="413.20" y2="252.70" stroke="#333" stroke-width="0.85"/>
<text x="407.15" y="260.50" font-size="8.30" fill="#1a1a1a" textLength="12.26" lengthAdjust="spacingAndGlyphs" font-family="Liberation Sans, sans-serif">0.0</text>
<line x1="445.06" y1="250.50" x2="445.06" y2="252.70" stroke="#333" stroke-width="0.85"/>
<text x="439.00" y="260.50" font-size="8.30" fill="#1a1a1a" textLength="12.40" lengthAdjust="spacingAndGlyphs" font-family="Liberation Sans, sans-serif">0.2</text>
<line x1="476.91" y1="250.50" x2="476.91" y2="252.70" stroke="#333" stroke-width="0.85"/>
<text x="470.86" y="260.50" font-size="8.30" fill="#1a1a1a" textLength="12.22" lengthAdjust="spacingAndGlyphs" font-family="Liberation Sans, sans-serif">0.4</text>
<line x1="508.77" y1="250.50" x2="508.77" y2="252.70" stroke="#333" stroke-width="0.85"/>
<text x="502.71" y="260.50" font-size="8.30" fill="#1a1a1a" textLength="12.31" lengthAdjust="spacingAndGlyphs" font-family="Liberation Sans, sans-serif">0.6</text>
<line x1="540.62" y1="250.50" x2="540.62" y2="252.70" stroke="#333" stroke-width="0.85"/>
<text x="534.57" y="260.50" font-size="8.30" fill="#1a1a1a" textLength="12.31" lengthAdjust="spacingAndGlyphs" font-family="Liberation Sans, sans-serif">0.8</text>
<line x1="572.48" y1="250.50" x2="572.48" y2="252.70" stroke="#333" stroke-width="0.85"/>
<text x="566.10" y="260.50" font-size="8.30" fill="#1a1a1a" textLength="12.60" lengthAdjust="spacingAndGlyphs" font-family="Liberation Sans, sans-serif">1.0</text>
<line x1="604.33" y1="250.50" x2="604.33" y2="252.70" stroke="#333" stroke-width="0.85"/>
<text x="597.95" y="260.50" font-size="8.30" fill="#1a1a1a" textLength="12.75" lengthAdjust="spacingAndGlyphs" font-family="Liberation Sans, sans-serif">1.2</text>
<line x1="636.19" y1="250.50" x2="636.19" y2="252.70" stroke="#333" stroke-width="0.85"/>
<text x="629.81" y="260.50" font-size="8.30" fill="#1a1a1a" textLength="12.55" lengthAdjust="spacingAndGlyphs" font-family="Liberation Sans, sans-serif">1.4</text>
<line x1="668.04" y1="250.50" x2="668.04" y2="252.70" stroke="#333" stroke-width="0.85"/>
<text x="661.66" y="260.50" font-size="8.30" fill="#1a1a1a" textLength="12.65" lengthAdjust="spacingAndGlyphs" font-family="Liberation Sans, sans-serif">1.6</text>
<line x1="394.70" y1="16.50" x2="397.30" y2="16.50" stroke="#333" stroke-width="0.85"/>
<text x="380.44" y="19.60" font-size="8.30" fill="#1a1a1a" textLength="12.47" lengthAdjust="spacingAndGlyphs" font-family="Liberation Sans, sans-serif">0.0</text>
<line x1="394.70" y1="40.82" x2="397.30" y2="40.82" stroke="#333" stroke-width="0.85"/>
<text x="374.33" y="43.92" font-size="8.30" fill="#1a1a1a" textLength="18.64" lengthAdjust="spacingAndGlyphs" font-family="Liberation Sans, sans-serif">−0.5</text>
<line x1="394.70" y1="65.14" x2="397.30" y2="65.14" stroke="#333" stroke-width="0.85"/>
<text x="374.33" y="68.24" font-size="8.30" fill="#1a1a1a" textLength="18.59" lengthAdjust="spacingAndGlyphs" font-family="Liberation Sans, sans-serif">−1.0</text>
<line x1="394.70" y1="89.46" x2="397.30" y2="89.46" stroke="#333" stroke-width="0.85"/>
<text x="374.33" y="92.56" font-size="8.30" fill="#1a1a1a" textLength="18.64" lengthAdjust="spacingAndGlyphs" font-family="Liberation Sans, sans-serif">−1.5</text>
<line x1="394.70" y1="113.78" x2="397.30" y2="113.78" stroke="#333" stroke-width="0.85"/>
<text x="374.33" y="116.88" font-size="8.30" fill="#1a1a1a" textLength="18.59" lengthAdjust="spacingAndGlyphs" font-family="Liberation Sans, sans-serif">−2.0</text>
<line x1="394.70" y1="138.10" x2="397.30" y2="138.10" stroke="#333" stroke-width="0.85"/>
<text x="374.33" y="141.20" font-size="8.30" fill="#1a1a1a" textLength="18.64" lengthAdjust="spacingAndGlyphs" font-family="Liberation Sans, sans-serif">−2.5</text>
<line x1="394.70" y1="162.42" x2="397.30" y2="162.42" stroke="#333" stroke-width="0.85"/>
<text x="374.33" y="165.52" font-size="8.30" fill="#1a1a1a" textLength="18.59" lengthAdjust="spacingAndGlyphs" font-family="Liberation Sans, sans-serif">−3.0</text>
<line x1="394.70" y1="186.74" x2="397.30" y2="186.74" stroke="#333" stroke-width="0.85"/>
<text x="374.33" y="189.84" font-size="8.30" fill="#1a1a1a" textLength="18.64" lengthAdjust="spacingAndGlyphs" font-family="Liberation Sans, sans-serif">−3.5</text>
<line x1="394.70" y1="211.06" x2="397.30" y2="211.06" stroke="#333" stroke-width="0.85"/>
<text x="374.33" y="214.16" font-size="8.30" fill="#1a1a1a" textLength="18.59" lengthAdjust="spacingAndGlyphs" font-family="Liberation Sans, sans-serif">−4.0</text>
<line x1="394.70" y1="235.38" x2="397.30" y2="235.38" stroke="#333" stroke-width="0.85"/>
<text x="374.33" y="238.48" font-size="8.30" fill="#1a1a1a" textLength="18.64" lengthAdjust="spacingAndGlyphs" font-family="Liberation Sans, sans-serif">−4.5</text>
<text x="672.20" y="268.90" font-size="6.70" fill="#1a1a1a" textLength="11.16" lengthAdjust="spacingAndGlyphs" font-family="Liberation Sans, sans-serif">1e7</text>
<rect x="216.60" y="22.5" width="105.6" height="73.8" rx="2.2" ry="2.2" fill="#ffffff" fill-opacity="0.8" stroke="#cccccc" stroke-width="0.8"/>
<line x1="221.00" y1="32.60" x2="245.80" y2="32.60" stroke="#fc7748" stroke-width="2.2"/>
<text x="254.96" y="36.60" font-size="12.00" fill="#1a1a1a" textLength="41.49" lengthAdjust="spacingAndGlyphs" font-family="Liberation Sans, sans-serif">SGLBO</text>
<line x1="221.00" y1="50.20" x2="245.80" y2="50.20" stroke="#1f77b4" stroke-width="2.2" stroke-dasharray="13.4,3.4,2.1,3.4"/>
<text x="254.67" y="54.15" font-size="12.00" fill="#1a1a1a" textLength="62.98" lengthAdjust="spacingAndGlyphs" font-family="Liberation Sans, sans-serif">iCANS+SA</text>
<line x1="221.00" y1="67.80" x2="245.80" y2="67.80" stroke="#2ca02c" stroke-width="2.2" stroke-dasharray="2.1,2.32"/>
<text x="254.48" y="71.70" font-size="12.00" fill="#1a1a1a" textLength="49.14" lengthAdjust="spacingAndGlyphs" font-family="Liberation Sans, sans-serif">NFT+SA</text>
<line x1="221.00" y1="85.40" x2="245.80" y2="85.40" stroke="#d62728" stroke-width="2.2" stroke-dasharray="7.8,3.35"/>
<text x="255.50" y="89.25" font-size="12.00" fill="#1a1a1a" textLength="60.11" lengthAdjust="spacingAndGlyphs" font-family="Liberation Sans, sans-serif">Adam+SA</text>
<rect x="571.90" y="22.5" width="105.6" height="73.8" rx="2.2" ry="2.2" fill="#ffffff" fill-opacity="0.8" stroke="#cccccc" stroke-width="0.8"/>
<line x1="576.30" y1="32.60" x2="601.10" y2="32.60" stroke="#fc7748" stroke-width="2.2"/>
<text x="610.26" y="36.60" font-size="12.00" fill="#1a1a1a" textLength="41.49" lengthAdjust="spacingAndGlyphs" font-family="Liberation Sans, sans-serif">SGLBO</text>
<line x1="576.30" y1="50.20" x2="601.10" y2="50.20" stroke="#1f77b4" stroke-width="2.2" stroke-dasharray="13.4,3.4,2.1,3.4"/>
<text x="609.97" y="54.15" font-size="12.00" fill="#1a1a1a" textLength="62.98" lengthAdjust="spacingAndGlyphs" font-family="Liberation Sans, sans-serif">iCANS+SA</text>
<line x1="576.30" y1="67.80" x2="601.10" y2="67.80" stroke="#2ca02c" stroke-width="2.2" stroke-dasharray="2.1,2.32"/>
<text x="609.78" y="71.70" font-size="12.00" fill="#1a1a1a" textLength="49.14" lengthAdjust="spacingAndGlyphs" font-family="Liberation Sans, sans-serif">NFT+SA</text>
<line x1="576.30" y1="85.40" x2="601.10" y2="85.40" stroke="#d62728" stroke-width="2.2" stroke-dasharray="7.8,3.35"/>
<text x="610.80" y="89.25" font-size="12.00" fill="#1a1a1a" textLength="60.11" lengthAdjust="spacingAndGlyphs" font-family="Liberation Sans, sans-serif">Adam+SA</text>
<text x="-0.89" y="10.80" font-size="14.50" fill="#1a1a1a" textLength="18.22" lengthAdjust="spacingAndGlyphs" font-family="Liberation Sans, sans-serif">(a)</text>
<text x="350.78" y="10.80" font-size="14.50" fill="#1a1a1a" textLength="18.78" lengthAdjust="spacingAndGlyphs" font-family="Liberation Sans, sans-serif">(b)</text>
<text x="92.23" y="12.50" font-size="13.80" fill="#1a1a1a" textLength="31.31" lengthAdjust="spacingAndGlyphs" font-family="Liberation Sans, sans-serif">VQC</text>
<text x="128.37" y="12.50" font-size="13.80" fill="#1a1a1a" textLength="13.52" lengthAdjust="spacingAndGlyphs" font-family="Liberation Sans, sans-serif">in</text>
<text x="146.04" y="12.50" font-size="13.80" fill="#1a1a1a" textLength="23.94" lengthAdjust="spacingAndGlyphs" font-family="Liberation Sans, sans-serif">the</text>
<text x="174.67" y="12.50" font-size="13.80" fill="#1a1a1a" textLength="65.76" lengthAdjust="spacingAndGlyphs" font-family="Liberation Sans, sans-serif">noiseless</text>
<text x="245.77" y="12.50" font-size="13.80" fill="#1a1a1a" textLength="33.17" lengthAdjust="spacingAndGlyphs" font-family="Liberation Sans, sans-serif">case</text>
<text x="461.73" y="12.50" font-size="13.80" fill="#1a1a1a" textLength="31.51" lengthAdjust="spacingAndGlyphs" font-family="Liberation Sans, sans-serif">VQC</text>
<text x="497.60" y="12.50" font-size="13.80" fill="#1a1a1a" textLength="13.15" lengthAdjust="spacingAndGlyphs" font-family="Liberation Sans, sans-serif">in</text>
<text x="515.74" y="12.50" font-size="13.80" fill="#1a1a1a" textLength="23.83" lengthAdjust="spacingAndGlyphs" font-family="Liberation Sans, sans-serif">the</text>
<text x="543.64" y="12.50" font-size="13.80" fill="#1a1a1a" textLength="37.95" lengthAdjust="spacingAndGlyphs" font-family="Liberation Sans, sans-serif">noisy</text>
<text x="587.07" y="12.50" font-size="13.80" fill="#1a1a1a" textLength="33.48" lengthAdjust="spacingAndGlyphs" font-family="Liberation Sans, sans-serif">case</text>
<text x="149.31" y="275.10" font-size="13.80" fill="#1a1a1a" textLength="10.41" lengthAdjust="spacingAndGlyphs" font-family="Liberation Sans, sans-serif">#</text>
<text x="165.35" y="275.10" font-size="13.80" fill="#1a1a1a" textLength="13.53" lengthAdjust="spacingAndGlyphs" font-family="Liberation Sans, sans-serif">of</text>
<text x="183.61" y="275.10" font-size="13.80" fill="#1a1a1a" textLength="39.27" lengthAdjust="spacingAndGlyphs" font-family="Liberation Sans, sans-serif">shots</text>
<text x="504.61" y="275.10" font-size="13.80" fill="#1a1a1a" textLength="10.41" lengthAdjust="spacingAndGlyphs" font-family="Liberation Sans, sans-serif">#</text>
<text x="520.65" y="275.10" font-size="13.80" fill="#1a1a1a" textLength="13.53" lengthAdjust="spacingAndGlyphs" font-family="Liberation Sans, sans-serif">of</text>
<text x="538.91" y="275.10" font-size="13.80" fill="#1a1a1a" textLength="39.27" lengthAdjust="spacingAndGlyphs" font-family="Liberation Sans, sans-serif">shots</text>
<g transform="translate(12.60,157.7) rotate(-90)"><text x="-1.11" y="0.00" font-size="13.80" fill="#1a1a1a" textLength="22.70" lengthAdjust="spacingAndGlyphs" font-family="Liberation Sans, sans-serif">log</text><text x="22.02" y="3.30" font-size="10.50" fill="#1a1a1a" textLength="13.01" lengthAdjust="spacingAndGlyphs" font-family="Liberation Sans, sans-serif">10</text><text x="36.49" y="0.00" font-size="13.80" fill="#1a1a1a" textLength="5.03" lengthAdjust="spacingAndGlyphs" font-family="Liberation Sans, sans-serif">(</text><text x="41.37" y="0.00" font-size="13.80" fill="#1a1a1a" textLength="4.97" lengthAdjust="spacingAndGlyphs" font-style="italic" font-family="Liberation Sans, sans-serif">f</text><text x="47.85" y="0.00" font-size="13.80" fill="#1a1a1a" textLength="3.02" lengthAdjust="spacingAndGlyphs" font-family="Liberation Sans, sans-serif">)</text></g>
<g transform="translate(367.30,157.7) rotate(-90)"><text x="-1.11" y="0.00" font-size="13.80" fill="#1a1a1a" textLength="22.70" lengthAdjust="spacingAndGlyphs" font-family="Liberation Sans, sans-serif">log</text><text x="22.02" y="3.30" font-size="10.50" fill="#1a1a1a" textLength="13.01" lengthAdjust="spacingAndGlyphs" font-family="Liberation Sans, sans-serif">10</text><text x="36.49" y="0.00" font-size="13.80" fill="#1a1a1a" textLength="5.03" lengthAdjust="spacingAndGlyphs" font-family="Liberation Sans, sans-serif">(</text><text x="41.37" y="0.00" font-size="13.80" fill="#1a1a1a" textLength="4.97" lengthAdjust="spacingAndGlyphs" font-style="italic" font-family="Liberation Sans, sans-serif">f</text><text x="47.85" y="0.00" font-size="13.80" fill="#1a1a1a" textLength="3.02" lengthAdjust="spacingAndGlyphs" font-family="Liberation Sans, sans-serif">)</text></g></svg>
</body></html>
